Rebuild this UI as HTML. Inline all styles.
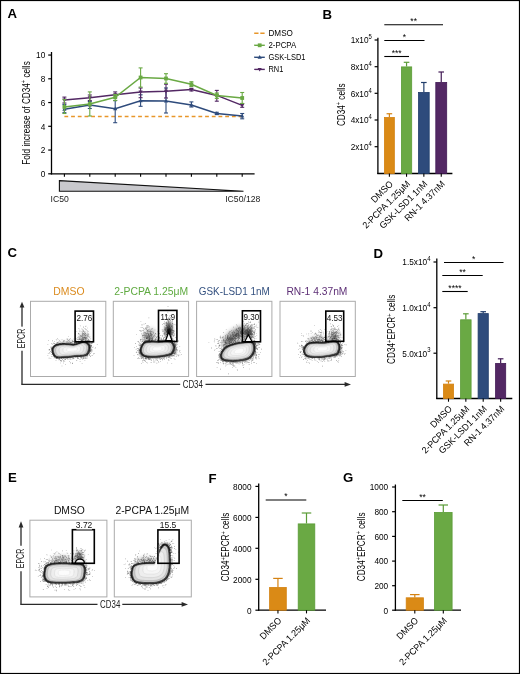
<!DOCTYPE html>
<html><head><meta charset="utf-8"><style>
html,body{margin:0;padding:0;background:#fff;}
body{width:520px;height:674px;overflow:hidden;}
svg{display:block;will-change:transform;font-family:"Liberation Sans", sans-serif;}
</style></head><body>
<svg width="520" height="674" viewBox="0 0 520 674">
<defs><filter id="bl" x="-20%" y="-20%" width="140%" height="140%"><feGaussianBlur stdDeviation="0.7"/></filter><filter id="hz" x="-50%" y="-50%" width="200%" height="200%"><feGaussianBlur stdDeviation="2"/></filter></defs>
<rect x="0" y="0" width="520" height="674" fill="#fff"/>
<text x="7.50" y="18.00" font-size="13.2" text-anchor="start" fill="#000" font-weight="bold">A</text>
<text x="322.60" y="18.80" font-size="13.2" text-anchor="start" fill="#000" font-weight="bold">B</text>
<text x="7.60" y="257.40" font-size="13.2" text-anchor="start" fill="#000" font-weight="bold">C</text>
<text x="373.40" y="257.80" font-size="13.2" text-anchor="start" fill="#000" font-weight="bold">D</text>
<text x="8.00" y="482.20" font-size="13.2" text-anchor="start" fill="#000" font-weight="bold">E</text>
<text x="208.40" y="482.50" font-size="13.2" text-anchor="start" fill="#000" font-weight="bold">F</text>
<text x="343.00" y="481.80" font-size="13.2" text-anchor="start" fill="#000" font-weight="bold">G</text>
<line x1="51.50" y1="52.00" x2="51.50" y2="174.40" stroke="#000" stroke-width="1.3"/>
<line x1="50.90" y1="173.80" x2="254.60" y2="173.80" stroke="#000" stroke-width="1.3"/>
<line x1="48.20" y1="173.80" x2="51.50" y2="173.80" stroke="#000" stroke-width="1.2"/>
<text x="45.30" y="177.10" font-size="9.2" text-anchor="end" fill="#000" textLength="4.61" lengthAdjust="spacingAndGlyphs">0</text>
<line x1="48.20" y1="150.05" x2="51.50" y2="150.05" stroke="#000" stroke-width="1.2"/>
<text x="45.30" y="153.35" font-size="9.2" text-anchor="end" fill="#000" textLength="4.61" lengthAdjust="spacingAndGlyphs">2</text>
<line x1="48.20" y1="126.30" x2="51.50" y2="126.30" stroke="#000" stroke-width="1.2"/>
<text x="45.30" y="129.60" font-size="9.2" text-anchor="end" fill="#000" textLength="4.61" lengthAdjust="spacingAndGlyphs">4</text>
<line x1="48.20" y1="102.55" x2="51.50" y2="102.55" stroke="#000" stroke-width="1.2"/>
<text x="45.30" y="105.85" font-size="9.2" text-anchor="end" fill="#000" textLength="4.61" lengthAdjust="spacingAndGlyphs">6</text>
<line x1="48.20" y1="78.80" x2="51.50" y2="78.80" stroke="#000" stroke-width="1.2"/>
<text x="45.30" y="82.10" font-size="9.2" text-anchor="end" fill="#000" textLength="4.61" lengthAdjust="spacingAndGlyphs">8</text>
<line x1="48.20" y1="55.05" x2="51.50" y2="55.05" stroke="#000" stroke-width="1.2"/>
<text x="45.30" y="58.35" font-size="9.2" text-anchor="end" fill="#000" textLength="9.21" lengthAdjust="spacingAndGlyphs">10</text>
<line x1="64.40" y1="173.80" x2="64.40" y2="176.80" stroke="#000" stroke-width="1.1"/>
<line x1="89.80" y1="173.80" x2="89.80" y2="176.80" stroke="#000" stroke-width="1.1"/>
<line x1="115.20" y1="173.80" x2="115.20" y2="176.80" stroke="#000" stroke-width="1.1"/>
<line x1="140.60" y1="173.80" x2="140.60" y2="176.80" stroke="#000" stroke-width="1.1"/>
<line x1="166.00" y1="173.80" x2="166.00" y2="176.80" stroke="#000" stroke-width="1.1"/>
<line x1="191.40" y1="173.80" x2="191.40" y2="176.80" stroke="#000" stroke-width="1.1"/>
<line x1="216.80" y1="173.80" x2="216.80" y2="176.80" stroke="#000" stroke-width="1.1"/>
<line x1="242.20" y1="173.80" x2="242.20" y2="176.80" stroke="#000" stroke-width="1.1"/>
<text x="30.00" y="113.00" font-size="11" text-anchor="middle" fill="#000" textLength="103.60" lengthAdjust="spacingAndGlyphs" transform="rotate(-90 30.00 113.00)">Fold increase of CD34<tspan font-size="7.4" dy="-3.8">+</tspan><tspan dy="3.8"> cells</tspan></text>
<polygon points="59.4,180.6 243.5,191.3 59.4,191.3" fill="#c9c9cd" stroke="#111" stroke-width="1.1" stroke-linejoin="miter"/>
<text x="50.60" y="202.20" font-size="9.1" text-anchor="start" fill="#222" textLength="18.20" lengthAdjust="spacingAndGlyphs">IC50</text>
<text x="225.20" y="202.20" font-size="9.1" text-anchor="start" fill="#222" textLength="35.20" lengthAdjust="spacingAndGlyphs">IC50/128</text>
<line x1="64.40" y1="116.50" x2="244.00" y2="116.50" stroke="#E8962A" stroke-width="1.5" stroke-dasharray="3.8 2.9"/>
<line x1="64.40" y1="104.40" x2="64.40" y2="112.70" stroke="#2E4B7C" stroke-width="1.1"/>
<line x1="62.40" y1="104.40" x2="66.40" y2="104.40" stroke="#2E4B7C" stroke-width="1.1"/>
<line x1="62.40" y1="112.70" x2="66.40" y2="112.70" stroke="#2E4B7C" stroke-width="1.1"/>
<line x1="89.80" y1="101.50" x2="89.80" y2="108.50" stroke="#2E4B7C" stroke-width="1.1"/>
<line x1="87.80" y1="101.50" x2="91.80" y2="101.50" stroke="#2E4B7C" stroke-width="1.1"/>
<line x1="87.80" y1="108.50" x2="91.80" y2="108.50" stroke="#2E4B7C" stroke-width="1.1"/>
<line x1="115.20" y1="100.60" x2="115.20" y2="122.70" stroke="#2E4B7C" stroke-width="1.1"/>
<line x1="113.20" y1="100.60" x2="117.20" y2="100.60" stroke="#2E4B7C" stroke-width="1.1"/>
<line x1="113.20" y1="122.70" x2="117.20" y2="122.70" stroke="#2E4B7C" stroke-width="1.1"/>
<line x1="140.60" y1="94.80" x2="140.60" y2="106.30" stroke="#2E4B7C" stroke-width="1.1"/>
<line x1="138.60" y1="94.80" x2="142.60" y2="94.80" stroke="#2E4B7C" stroke-width="1.1"/>
<line x1="138.60" y1="106.30" x2="142.60" y2="106.30" stroke="#2E4B7C" stroke-width="1.1"/>
<line x1="166.00" y1="88.00" x2="166.00" y2="113.00" stroke="#2E4B7C" stroke-width="1.1"/>
<line x1="164.00" y1="88.00" x2="168.00" y2="88.00" stroke="#2E4B7C" stroke-width="1.1"/>
<line x1="164.00" y1="113.00" x2="168.00" y2="113.00" stroke="#2E4B7C" stroke-width="1.1"/>
<line x1="191.40" y1="101.90" x2="191.40" y2="107.00" stroke="#2E4B7C" stroke-width="1.1"/>
<line x1="189.40" y1="101.90" x2="193.40" y2="101.90" stroke="#2E4B7C" stroke-width="1.1"/>
<line x1="189.40" y1="107.00" x2="193.40" y2="107.00" stroke="#2E4B7C" stroke-width="1.1"/>
<line x1="216.80" y1="112.30" x2="216.80" y2="114.60" stroke="#2E4B7C" stroke-width="1.1"/>
<line x1="214.80" y1="112.30" x2="218.80" y2="112.30" stroke="#2E4B7C" stroke-width="1.1"/>
<line x1="214.80" y1="114.60" x2="218.80" y2="114.60" stroke="#2E4B7C" stroke-width="1.1"/>
<line x1="242.20" y1="113.50" x2="242.20" y2="118.80" stroke="#2E4B7C" stroke-width="1.1"/>
<line x1="240.20" y1="113.50" x2="244.20" y2="113.50" stroke="#2E4B7C" stroke-width="1.1"/>
<line x1="240.20" y1="118.80" x2="244.20" y2="118.80" stroke="#2E4B7C" stroke-width="1.1"/>
<polyline points="64.40,109.20 89.80,105.00 115.20,108.80 140.60,100.80 166.00,101.00 191.40,105.00 216.80,113.50 242.20,116.00" fill="none" stroke="#2E4B7C" stroke-width="1.5"/>
<polygon points="64.40,107.00 66.50,110.70 62.30,110.70" fill="#2E4B7C"/>
<polygon points="89.80,102.80 91.90,106.50 87.70,106.50" fill="#2E4B7C"/>
<polygon points="115.20,106.60 117.30,110.30 113.10,110.30" fill="#2E4B7C"/>
<polygon points="140.60,98.60 142.70,102.30 138.50,102.30" fill="#2E4B7C"/>
<polygon points="166.00,98.80 168.10,102.50 163.90,102.50" fill="#2E4B7C"/>
<polygon points="191.40,102.80 193.50,106.50 189.30,106.50" fill="#2E4B7C"/>
<polygon points="216.80,111.30 218.90,115.00 214.70,115.00" fill="#2E4B7C"/>
<polygon points="242.20,113.80 244.30,117.50 240.10,117.50" fill="#2E4B7C"/>
<line x1="64.40" y1="97.10" x2="64.40" y2="103.00" stroke="#532864" stroke-width="1.1"/>
<line x1="62.40" y1="97.10" x2="66.40" y2="97.10" stroke="#532864" stroke-width="1.1"/>
<line x1="62.40" y1="103.00" x2="66.40" y2="103.00" stroke="#532864" stroke-width="1.1"/>
<line x1="89.80" y1="95.00" x2="89.80" y2="100.50" stroke="#532864" stroke-width="1.1"/>
<line x1="87.80" y1="95.00" x2="91.80" y2="95.00" stroke="#532864" stroke-width="1.1"/>
<line x1="87.80" y1="100.50" x2="91.80" y2="100.50" stroke="#532864" stroke-width="1.1"/>
<line x1="115.20" y1="91.90" x2="115.20" y2="97.70" stroke="#532864" stroke-width="1.1"/>
<line x1="113.20" y1="91.90" x2="117.20" y2="91.90" stroke="#532864" stroke-width="1.1"/>
<line x1="113.20" y1="97.70" x2="117.20" y2="97.70" stroke="#532864" stroke-width="1.1"/>
<line x1="140.60" y1="88.00" x2="140.60" y2="97.70" stroke="#532864" stroke-width="1.1"/>
<line x1="138.60" y1="88.00" x2="142.60" y2="88.00" stroke="#532864" stroke-width="1.1"/>
<line x1="138.60" y1="97.70" x2="142.60" y2="97.70" stroke="#532864" stroke-width="1.1"/>
<line x1="166.00" y1="84.20" x2="166.00" y2="98.00" stroke="#532864" stroke-width="1.1"/>
<line x1="164.00" y1="84.20" x2="168.00" y2="84.20" stroke="#532864" stroke-width="1.1"/>
<line x1="164.00" y1="98.00" x2="168.00" y2="98.00" stroke="#532864" stroke-width="1.1"/>
<line x1="191.40" y1="88.30" x2="191.40" y2="91.00" stroke="#532864" stroke-width="1.1"/>
<line x1="189.40" y1="88.30" x2="193.40" y2="88.30" stroke="#532864" stroke-width="1.1"/>
<line x1="189.40" y1="91.00" x2="193.40" y2="91.00" stroke="#532864" stroke-width="1.1"/>
<line x1="216.80" y1="90.40" x2="216.80" y2="101.20" stroke="#532864" stroke-width="1.1"/>
<line x1="214.80" y1="90.40" x2="218.80" y2="90.40" stroke="#532864" stroke-width="1.1"/>
<line x1="214.80" y1="101.20" x2="218.80" y2="101.20" stroke="#532864" stroke-width="1.1"/>
<line x1="242.20" y1="103.50" x2="242.20" y2="107.30" stroke="#532864" stroke-width="1.1"/>
<line x1="240.20" y1="103.50" x2="244.20" y2="103.50" stroke="#532864" stroke-width="1.1"/>
<line x1="240.20" y1="107.30" x2="244.20" y2="107.30" stroke="#532864" stroke-width="1.1"/>
<polyline points="64.40,100.00 89.80,97.70 115.20,94.80 140.60,91.90 166.00,91.30 191.40,89.60 216.80,95.40 242.20,105.40" fill="none" stroke="#532864" stroke-width="1.5"/>
<polygon points="64.40,102.20 66.50,98.50 62.30,98.50" fill="#532864"/>
<polygon points="89.80,99.90 91.90,96.20 87.70,96.20" fill="#532864"/>
<polygon points="115.20,97.00 117.30,93.30 113.10,93.30" fill="#532864"/>
<polygon points="140.60,94.10 142.70,90.40 138.50,90.40" fill="#532864"/>
<polygon points="166.00,93.50 168.10,89.80 163.90,89.80" fill="#532864"/>
<polygon points="191.40,91.80 193.50,88.10 189.30,88.10" fill="#532864"/>
<polygon points="216.80,97.60 218.90,93.90 214.70,93.90" fill="#532864"/>
<polygon points="242.20,107.60 244.30,103.90 240.10,103.90" fill="#532864"/>
<line x1="64.40" y1="99.60" x2="64.40" y2="113.50" stroke="#6AA944" stroke-width="1.1"/>
<line x1="62.40" y1="99.60" x2="66.40" y2="99.60" stroke="#6AA944" stroke-width="1.1"/>
<line x1="62.40" y1="113.50" x2="66.40" y2="113.50" stroke="#6AA944" stroke-width="1.1"/>
<line x1="89.80" y1="91.90" x2="89.80" y2="116.00" stroke="#6AA944" stroke-width="1.1"/>
<line x1="87.80" y1="91.90" x2="91.80" y2="91.90" stroke="#6AA944" stroke-width="1.1"/>
<line x1="87.80" y1="116.00" x2="91.80" y2="116.00" stroke="#6AA944" stroke-width="1.1"/>
<line x1="115.20" y1="94.50" x2="115.20" y2="100.60" stroke="#6AA944" stroke-width="1.1"/>
<line x1="113.20" y1="94.50" x2="117.20" y2="94.50" stroke="#6AA944" stroke-width="1.1"/>
<line x1="113.20" y1="100.60" x2="117.20" y2="100.60" stroke="#6AA944" stroke-width="1.1"/>
<line x1="140.60" y1="67.90" x2="140.60" y2="87.10" stroke="#6AA944" stroke-width="1.1"/>
<line x1="138.60" y1="67.90" x2="142.60" y2="67.90" stroke="#6AA944" stroke-width="1.1"/>
<line x1="138.60" y1="87.10" x2="142.60" y2="87.10" stroke="#6AA944" stroke-width="1.1"/>
<line x1="166.00" y1="73.70" x2="166.00" y2="83.30" stroke="#6AA944" stroke-width="1.1"/>
<line x1="164.00" y1="73.70" x2="168.00" y2="73.70" stroke="#6AA944" stroke-width="1.1"/>
<line x1="164.00" y1="83.30" x2="168.00" y2="83.30" stroke="#6AA944" stroke-width="1.1"/>
<line x1="191.40" y1="81.70" x2="191.40" y2="86.50" stroke="#6AA944" stroke-width="1.1"/>
<line x1="189.40" y1="81.70" x2="193.40" y2="81.70" stroke="#6AA944" stroke-width="1.1"/>
<line x1="189.40" y1="86.50" x2="193.40" y2="86.50" stroke="#6AA944" stroke-width="1.1"/>
<line x1="216.80" y1="93.00" x2="216.80" y2="98.50" stroke="#6AA944" stroke-width="1.1"/>
<line x1="214.80" y1="93.00" x2="218.80" y2="93.00" stroke="#6AA944" stroke-width="1.1"/>
<line x1="214.80" y1="98.50" x2="218.80" y2="98.50" stroke="#6AA944" stroke-width="1.1"/>
<line x1="242.20" y1="92.50" x2="242.20" y2="103.50" stroke="#6AA944" stroke-width="1.1"/>
<line x1="240.20" y1="92.50" x2="244.20" y2="92.50" stroke="#6AA944" stroke-width="1.1"/>
<line x1="240.20" y1="103.50" x2="244.20" y2="103.50" stroke="#6AA944" stroke-width="1.1"/>
<polyline points="64.40,106.90 89.80,104.00 115.20,97.30 140.60,77.50 166.00,78.50 191.40,84.20 216.80,95.40 242.20,98.00" fill="none" stroke="#6AA944" stroke-width="1.5"/>
<rect x="62.50" y="105.00" width="3.8" height="3.8" fill="#6AA944"/>
<rect x="87.90" y="102.10" width="3.8" height="3.8" fill="#6AA944"/>
<rect x="113.30" y="95.40" width="3.8" height="3.8" fill="#6AA944"/>
<rect x="138.70" y="75.60" width="3.8" height="3.8" fill="#6AA944"/>
<rect x="164.10" y="76.60" width="3.8" height="3.8" fill="#6AA944"/>
<rect x="189.50" y="82.30" width="3.8" height="3.8" fill="#6AA944"/>
<rect x="214.90" y="93.50" width="3.8" height="3.8" fill="#6AA944"/>
<rect x="240.30" y="96.10" width="3.8" height="3.8" fill="#6AA944"/>
<line x1="254.20" y1="33.20" x2="264.60" y2="33.20" stroke="#E8962A" stroke-width="1.4" stroke-dasharray="4.3 1.8"/>
<line x1="254.20" y1="45.30" x2="264.80" y2="45.30" stroke="#6AA944" stroke-width="1.4"/>
<rect x="257.80" y="43.40" width="3.8" height="3.8" fill="#6AA944"/>
<line x1="254.20" y1="57.30" x2="264.80" y2="57.30" stroke="#2E4B7C" stroke-width="1.4"/>
<polygon points="259.70,55.10 261.80,58.80 257.60,58.80" fill="#2E4B7C"/>
<line x1="254.20" y1="69.40" x2="264.80" y2="69.40" stroke="#532864" stroke-width="1.4"/>
<polygon points="259.70,71.60 261.80,67.90 257.60,67.90" fill="#532864"/>
<text x="268.50" y="35.90" font-size="8.5" text-anchor="start" fill="#000" textLength="24.40" lengthAdjust="spacingAndGlyphs">DMSO</text>
<text x="268.50" y="48.00" font-size="8.5" text-anchor="start" fill="#000" textLength="27.70" lengthAdjust="spacingAndGlyphs">2-PCPA</text>
<text x="268.50" y="60.00" font-size="8.5" text-anchor="start" fill="#000" textLength="37.00" lengthAdjust="spacingAndGlyphs">GSK-LSD1</text>
<text x="268.50" y="72.10" font-size="8.5" text-anchor="start" fill="#000" textLength="14.80" lengthAdjust="spacingAndGlyphs">RN1</text>
<line x1="377.90" y1="37.80" x2="377.90" y2="174.10" stroke="#000" stroke-width="1.3"/>
<line x1="377.30" y1="173.50" x2="452.40" y2="173.50" stroke="#000" stroke-width="1.3"/>
<line x1="374.60" y1="40.00" x2="377.90" y2="40.00" stroke="#000" stroke-width="1.2"/>
<text x="371.90" y="43.40" font-size="9.2" text-anchor="end" fill="#000" textLength="21.26" lengthAdjust="spacingAndGlyphs">1x10<tspan font-size="6.6" dy="-4.2">5</tspan></text>
<line x1="374.60" y1="66.70" x2="377.90" y2="66.70" stroke="#000" stroke-width="1.2"/>
<text x="371.90" y="70.10" font-size="9.2" text-anchor="end" fill="#000" textLength="21.26" lengthAdjust="spacingAndGlyphs">8x10<tspan font-size="6.6" dy="-4.2">4</tspan></text>
<line x1="374.60" y1="93.30" x2="377.90" y2="93.30" stroke="#000" stroke-width="1.2"/>
<text x="371.90" y="96.70" font-size="9.2" text-anchor="end" fill="#000" textLength="21.26" lengthAdjust="spacingAndGlyphs">6x10<tspan font-size="6.6" dy="-4.2">4</tspan></text>
<line x1="374.60" y1="120.00" x2="377.90" y2="120.00" stroke="#000" stroke-width="1.2"/>
<text x="371.90" y="123.40" font-size="9.2" text-anchor="end" fill="#000" textLength="21.26" lengthAdjust="spacingAndGlyphs">4x10<tspan font-size="6.6" dy="-4.2">4</tspan></text>
<line x1="374.60" y1="146.70" x2="377.90" y2="146.70" stroke="#000" stroke-width="1.2"/>
<text x="371.90" y="150.10" font-size="9.2" text-anchor="end" fill="#000" textLength="21.26" lengthAdjust="spacingAndGlyphs">2x10<tspan font-size="6.6" dy="-4.2">4</tspan></text>
<line x1="389.38" y1="113.75" x2="389.38" y2="117.00" stroke="#D48212" stroke-width="1.2"/>
<line x1="386.57" y1="113.75" x2="392.18" y2="113.75" stroke="#D48212" stroke-width="1.2"/>
<rect x="384.40" y="117.40" width="9.95" height="56.10" fill="#DA8A16" stroke="#D48212" stroke-width="0.8"/>
<line x1="389.38" y1="173.50" x2="389.38" y2="176.70" stroke="#000" stroke-width="1.1"/>
<line x1="406.55" y1="62.30" x2="406.55" y2="66.50" stroke="#5B9C37" stroke-width="1.2"/>
<line x1="403.75" y1="62.30" x2="409.35" y2="62.30" stroke="#5B9C37" stroke-width="1.2"/>
<rect x="401.40" y="66.90" width="10.30" height="106.60" fill="#6AA944" stroke="#5B9C37" stroke-width="0.8"/>
<line x1="406.55" y1="173.50" x2="406.55" y2="176.70" stroke="#000" stroke-width="1.1"/>
<line x1="423.85" y1="82.50" x2="423.85" y2="92.00" stroke="#213D6B" stroke-width="1.2"/>
<line x1="421.05" y1="82.50" x2="426.65" y2="82.50" stroke="#213D6B" stroke-width="1.2"/>
<rect x="418.50" y="92.40" width="10.70" height="81.10" fill="#2E4B7C" stroke="#213D6B" stroke-width="0.8"/>
<line x1="423.85" y1="173.50" x2="423.85" y2="176.70" stroke="#000" stroke-width="1.1"/>
<line x1="441.25" y1="72.00" x2="441.25" y2="82.00" stroke="#421B56" stroke-width="1.2"/>
<line x1="438.45" y1="72.00" x2="444.05" y2="72.00" stroke="#421B56" stroke-width="1.2"/>
<rect x="435.80" y="82.40" width="10.90" height="91.10" fill="#532864" stroke="#421B56" stroke-width="0.8"/>
<line x1="441.25" y1="173.50" x2="441.25" y2="176.70" stroke="#000" stroke-width="1.1"/>
<line x1="384.30" y1="24.75" x2="443.00" y2="24.75" stroke="#000" stroke-width="1.1"/>
<text x="413.65" y="23.95" font-size="8.6" text-anchor="middle" fill="#000">**</text>
<line x1="384.30" y1="40.50" x2="424.50" y2="40.50" stroke="#000" stroke-width="1.1"/>
<text x="404.40" y="39.70" font-size="8.6" text-anchor="middle" fill="#000">*</text>
<line x1="384.30" y1="56.50" x2="409.00" y2="56.50" stroke="#000" stroke-width="1.1"/>
<text x="396.65" y="55.70" font-size="8.6" text-anchor="middle" fill="#000">***</text>
<text x="393.57" y="184.50" font-size="9.3" text-anchor="end" fill="#000" textLength="26.51" lengthAdjust="spacingAndGlyphs" transform="rotate(-45 393.57 184.50)">DMSO</text>
<text x="410.75" y="184.50" font-size="9.3" text-anchor="end" fill="#000" textLength="62.87" lengthAdjust="spacingAndGlyphs" transform="rotate(-45 410.75 184.50)">2-PCPA 1.25μM</text>
<text x="428.05" y="184.50" font-size="9.3" text-anchor="end" fill="#000" textLength="63.34" lengthAdjust="spacingAndGlyphs" transform="rotate(-45 428.05 184.50)">GSK-LSD1 1nM</text>
<text x="445.45" y="184.50" font-size="9.3" text-anchor="end" fill="#000" textLength="52.54" lengthAdjust="spacingAndGlyphs" transform="rotate(-45 445.45 184.50)">RN-1 4.37nM</text>
<text x="344.90" y="104.70" font-size="10.2" text-anchor="middle" fill="#000" textLength="42.70" lengthAdjust="spacingAndGlyphs" transform="rotate(-90 344.90 104.70)">CD34<tspan font-size="7" dy="-3.5">+</tspan><tspan dy="3.5"> cells</tspan></text>
<line x1="436.80" y1="258.50" x2="436.80" y2="399.10" stroke="#000" stroke-width="1.3"/>
<line x1="436.20" y1="398.50" x2="512.30" y2="398.50" stroke="#000" stroke-width="1.3"/>
<line x1="433.50" y1="262.00" x2="436.80" y2="262.00" stroke="#000" stroke-width="1.2"/>
<text x="430.50" y="265.40" font-size="9.2" text-anchor="end" fill="#000" textLength="28.16" lengthAdjust="spacingAndGlyphs">1.5x10<tspan font-size="6.6" dy="-4.2">4</tspan></text>
<line x1="433.50" y1="307.70" x2="436.80" y2="307.70" stroke="#000" stroke-width="1.2"/>
<text x="430.50" y="311.10" font-size="9.2" text-anchor="end" fill="#000" textLength="28.16" lengthAdjust="spacingAndGlyphs">1.0x10<tspan font-size="6.6" dy="-4.2">4</tspan></text>
<line x1="433.50" y1="353.20" x2="436.80" y2="353.20" stroke="#000" stroke-width="1.2"/>
<text x="430.50" y="356.60" font-size="9.2" text-anchor="end" fill="#000" textLength="28.16" lengthAdjust="spacingAndGlyphs">5.0x10<tspan font-size="6.6" dy="-4.2">3</tspan></text>
<line x1="448.50" y1="381.00" x2="448.50" y2="383.70" stroke="#D48212" stroke-width="1.2"/>
<line x1="445.70" y1="381.00" x2="451.30" y2="381.00" stroke="#D48212" stroke-width="1.2"/>
<rect x="443.40" y="384.10" width="10.20" height="14.40" fill="#DA8A16" stroke="#D48212" stroke-width="0.8"/>
<line x1="448.50" y1="398.50" x2="448.50" y2="401.70" stroke="#000" stroke-width="1.1"/>
<line x1="465.85" y1="313.80" x2="465.85" y2="319.40" stroke="#5B9C37" stroke-width="1.2"/>
<line x1="463.05" y1="313.80" x2="468.65" y2="313.80" stroke="#5B9C37" stroke-width="1.2"/>
<rect x="460.60" y="319.80" width="10.50" height="78.70" fill="#6AA944" stroke="#5B9C37" stroke-width="0.8"/>
<line x1="465.85" y1="398.50" x2="465.85" y2="401.70" stroke="#000" stroke-width="1.1"/>
<line x1="483.20" y1="311.70" x2="483.20" y2="313.20" stroke="#213D6B" stroke-width="1.2"/>
<line x1="480.40" y1="311.70" x2="486.00" y2="311.70" stroke="#213D6B" stroke-width="1.2"/>
<rect x="478.10" y="313.60" width="10.20" height="84.90" fill="#2E4B7C" stroke="#213D6B" stroke-width="0.8"/>
<line x1="483.20" y1="398.50" x2="483.20" y2="401.70" stroke="#000" stroke-width="1.1"/>
<line x1="500.65" y1="358.80" x2="500.65" y2="363.00" stroke="#421B56" stroke-width="1.2"/>
<line x1="497.85" y1="358.80" x2="503.45" y2="358.80" stroke="#421B56" stroke-width="1.2"/>
<rect x="495.60" y="363.40" width="10.10" height="35.10" fill="#532864" stroke="#421B56" stroke-width="0.8"/>
<line x1="500.65" y1="398.50" x2="500.65" y2="401.70" stroke="#000" stroke-width="1.1"/>
<line x1="444.00" y1="262.50" x2="503.50" y2="262.50" stroke="#000" stroke-width="1.1"/>
<text x="473.75" y="261.70" font-size="8.6" text-anchor="middle" fill="#000">*</text>
<line x1="442.30" y1="275.50" x2="482.70" y2="275.50" stroke="#000" stroke-width="1.1"/>
<text x="462.50" y="274.70" font-size="8.6" text-anchor="middle" fill="#000">**</text>
<line x1="442.30" y1="291.50" x2="467.70" y2="291.50" stroke="#000" stroke-width="1.1"/>
<text x="455.00" y="290.70" font-size="8.6" text-anchor="middle" fill="#000">****</text>
<text x="452.70" y="409.50" font-size="9.3" text-anchor="end" fill="#000" textLength="26.51" lengthAdjust="spacingAndGlyphs" transform="rotate(-45 452.70 409.50)">DMSO</text>
<text x="470.05" y="409.50" font-size="9.3" text-anchor="end" fill="#000" textLength="62.87" lengthAdjust="spacingAndGlyphs" transform="rotate(-45 470.05 409.50)">2-PCPA 1.25μM</text>
<text x="487.40" y="409.50" font-size="9.3" text-anchor="end" fill="#000" textLength="63.34" lengthAdjust="spacingAndGlyphs" transform="rotate(-45 487.40 409.50)">GSK-LSD1 1nM</text>
<text x="504.85" y="409.50" font-size="9.3" text-anchor="end" fill="#000" textLength="52.54" lengthAdjust="spacingAndGlyphs" transform="rotate(-45 504.85 409.50)">RN-1 4.37nM</text>
<text x="395.40" y="329.30" font-size="10.2" text-anchor="middle" fill="#000" textLength="69.20" lengthAdjust="spacingAndGlyphs" transform="rotate(-90 395.40 329.30)">CD34<tspan font-size="7" dy="-3.5">+</tspan><tspan dy="3.5">EPCR</tspan><tspan font-size="7" dy="-3.5">+</tspan><tspan dy="3.5"> cells</tspan></text>
<line x1="258.70" y1="483.40" x2="258.70" y2="610.80" stroke="#000" stroke-width="1.3"/>
<line x1="258.10" y1="610.20" x2="326.00" y2="610.20" stroke="#000" stroke-width="1.3"/>
<line x1="255.40" y1="486.40" x2="258.70" y2="486.40" stroke="#000" stroke-width="1.2"/>
<text x="251.50" y="489.70" font-size="9.2" text-anchor="end" fill="#000" textLength="18.42" lengthAdjust="spacingAndGlyphs">8000</text>
<line x1="255.40" y1="517.40" x2="258.70" y2="517.40" stroke="#000" stroke-width="1.2"/>
<text x="251.50" y="520.70" font-size="9.2" text-anchor="end" fill="#000" textLength="18.42" lengthAdjust="spacingAndGlyphs">6000</text>
<line x1="255.40" y1="548.30" x2="258.70" y2="548.30" stroke="#000" stroke-width="1.2"/>
<text x="251.50" y="551.60" font-size="9.2" text-anchor="end" fill="#000" textLength="18.42" lengthAdjust="spacingAndGlyphs">4000</text>
<line x1="255.40" y1="579.30" x2="258.70" y2="579.30" stroke="#000" stroke-width="1.2"/>
<text x="251.50" y="582.60" font-size="9.2" text-anchor="end" fill="#000" textLength="18.42" lengthAdjust="spacingAndGlyphs">2000</text>
<line x1="255.40" y1="610.20" x2="258.70" y2="610.20" stroke="#000" stroke-width="1.2"/>
<text x="251.50" y="613.50" font-size="9.2" text-anchor="end" fill="#000" textLength="4.61" lengthAdjust="spacingAndGlyphs">0</text>
<line x1="277.95" y1="578.40" x2="277.95" y2="587.00" stroke="#D48212" stroke-width="1.2"/>
<line x1="273.20" y1="578.40" x2="282.70" y2="578.40" stroke="#D48212" stroke-width="1.2"/>
<rect x="269.60" y="587.40" width="16.70" height="22.80" fill="#DA8A16" stroke="#D48212" stroke-width="0.8"/>
<line x1="277.95" y1="610.20" x2="277.95" y2="613.40" stroke="#000" stroke-width="1.1"/>
<line x1="306.50" y1="513.00" x2="306.50" y2="523.50" stroke="#5B9C37" stroke-width="1.2"/>
<line x1="301.75" y1="513.00" x2="311.25" y2="513.00" stroke="#5B9C37" stroke-width="1.2"/>
<rect x="298.20" y="523.90" width="16.60" height="86.30" fill="#6AA944" stroke="#5B9C37" stroke-width="0.8"/>
<line x1="306.50" y1="610.20" x2="306.50" y2="613.40" stroke="#000" stroke-width="1.1"/>
<line x1="265.70" y1="500.00" x2="306.30" y2="500.00" stroke="#000" stroke-width="1.1"/>
<text x="286.00" y="499.20" font-size="8.6" text-anchor="middle" fill="#000">*</text>
<text x="282.15" y="621.20" font-size="9.3" text-anchor="end" fill="#000" textLength="26.51" lengthAdjust="spacingAndGlyphs" transform="rotate(-45 282.15 621.20)">DMSO</text>
<text x="310.70" y="621.20" font-size="9.3" text-anchor="end" fill="#000" textLength="62.87" lengthAdjust="spacingAndGlyphs" transform="rotate(-45 310.70 621.20)">2-PCPA 1.25μM</text>
<text x="229.00" y="547.00" font-size="10.2" text-anchor="middle" fill="#000" textLength="68.80" lengthAdjust="spacingAndGlyphs" transform="rotate(-90 229.00 547.00)">CD34<tspan font-size="7" dy="-3.5">+</tspan><tspan dy="3.5">EPCR</tspan><tspan font-size="7" dy="-3.5">+</tspan><tspan dy="3.5"> cells</tspan></text>
<line x1="395.40" y1="484.50" x2="395.40" y2="610.80" stroke="#000" stroke-width="1.3"/>
<line x1="394.80" y1="610.20" x2="461.00" y2="610.20" stroke="#000" stroke-width="1.3"/>
<line x1="392.10" y1="487.00" x2="395.40" y2="487.00" stroke="#000" stroke-width="1.2"/>
<text x="388.20" y="490.30" font-size="9.2" text-anchor="end" fill="#000" textLength="18.42" lengthAdjust="spacingAndGlyphs">1000</text>
<line x1="392.10" y1="511.70" x2="395.40" y2="511.70" stroke="#000" stroke-width="1.2"/>
<text x="388.20" y="515.00" font-size="9.2" text-anchor="end" fill="#000" textLength="13.82" lengthAdjust="spacingAndGlyphs">800</text>
<line x1="392.10" y1="536.40" x2="395.40" y2="536.40" stroke="#000" stroke-width="1.2"/>
<text x="388.20" y="539.70" font-size="9.2" text-anchor="end" fill="#000" textLength="13.82" lengthAdjust="spacingAndGlyphs">600</text>
<line x1="392.10" y1="561.10" x2="395.40" y2="561.10" stroke="#000" stroke-width="1.2"/>
<text x="388.20" y="564.40" font-size="9.2" text-anchor="end" fill="#000" textLength="13.82" lengthAdjust="spacingAndGlyphs">400</text>
<line x1="392.10" y1="585.70" x2="395.40" y2="585.70" stroke="#000" stroke-width="1.2"/>
<text x="388.20" y="589.00" font-size="9.2" text-anchor="end" fill="#000" textLength="13.82" lengthAdjust="spacingAndGlyphs">200</text>
<line x1="392.10" y1="610.20" x2="395.40" y2="610.20" stroke="#000" stroke-width="1.2"/>
<text x="388.20" y="613.50" font-size="9.2" text-anchor="end" fill="#000" textLength="4.61" lengthAdjust="spacingAndGlyphs">0</text>
<line x1="414.80" y1="594.60" x2="414.80" y2="597.40" stroke="#D48212" stroke-width="1.2"/>
<line x1="410.05" y1="594.60" x2="419.55" y2="594.60" stroke="#D48212" stroke-width="1.2"/>
<rect x="406.20" y="597.80" width="17.20" height="12.40" fill="#DA8A16" stroke="#D48212" stroke-width="0.8"/>
<line x1="414.80" y1="610.20" x2="414.80" y2="613.40" stroke="#000" stroke-width="1.1"/>
<line x1="443.30" y1="505.00" x2="443.30" y2="512.00" stroke="#5B9C37" stroke-width="1.2"/>
<line x1="438.55" y1="505.00" x2="448.05" y2="505.00" stroke="#5B9C37" stroke-width="1.2"/>
<rect x="434.50" y="512.40" width="17.60" height="97.80" fill="#6AA944" stroke="#5B9C37" stroke-width="0.8"/>
<line x1="443.30" y1="610.20" x2="443.30" y2="613.40" stroke="#000" stroke-width="1.1"/>
<line x1="402.30" y1="500.50" x2="442.80" y2="500.50" stroke="#000" stroke-width="1.1"/>
<text x="422.55" y="499.70" font-size="8.6" text-anchor="middle" fill="#000">**</text>
<text x="419.00" y="621.20" font-size="9.3" text-anchor="end" fill="#000" textLength="26.51" lengthAdjust="spacingAndGlyphs" transform="rotate(-45 419.00 621.20)">DMSO</text>
<text x="447.50" y="621.20" font-size="9.3" text-anchor="end" fill="#000" textLength="62.87" lengthAdjust="spacingAndGlyphs" transform="rotate(-45 447.50 621.20)">2-PCPA 1.25μM</text>
<text x="364.70" y="546.80" font-size="10.2" text-anchor="middle" fill="#000" textLength="68.80" lengthAdjust="spacingAndGlyphs" transform="rotate(-90 364.70 546.80)">CD34<tspan font-size="7" dy="-3.5">+</tspan><tspan dy="3.5">EPCR</tspan><tspan font-size="7" dy="-3.5">+</tspan><tspan dy="3.5"> cells</tspan></text>
<rect x="30.50" y="301.30" width="75.30" height="75.20" fill="none" stroke="#ababab" stroke-width="1"/>
<text x="68.90" y="295.10" font-size="10.5" text-anchor="middle" fill="#DB8B1E" textLength="31.20" lengthAdjust="spacingAndGlyphs">DMSO</text>
<rect x="113.30" y="301.30" width="75.30" height="75.20" fill="none" stroke="#ababab" stroke-width="1"/>
<text x="151.25" y="295.10" font-size="10.5" text-anchor="middle" fill="#5FAA40" textLength="73.90" lengthAdjust="spacingAndGlyphs">2-PCPA 1.25μM</text>
<rect x="196.60" y="301.30" width="75.30" height="75.20" fill="none" stroke="#ababab" stroke-width="1"/>
<text x="234.25" y="295.10" font-size="10.5" text-anchor="middle" fill="#33507F" textLength="71.00" lengthAdjust="spacingAndGlyphs">GSK-LSD1 1nM</text>
<rect x="280.00" y="301.30" width="75.30" height="75.20" fill="none" stroke="#ababab" stroke-width="1"/>
<text x="316.90" y="295.10" font-size="10.5" text-anchor="middle" fill="#5D2F76" textLength="61.00" lengthAdjust="spacingAndGlyphs">RN-1 4.37nM</text>
<ellipse cx="84.0" cy="337.8" rx="3.8" ry="5" fill="#000" fill-opacity="0.3" transform="rotate(0 84.0 337.8)" filter="url(#hz)"/>
<ellipse cx="66.0" cy="344.8" rx="9" ry="2.5" fill="#000" fill-opacity="0.25" transform="rotate(0 66.0 344.8)" filter="url(#hz)"/>
<path d="M69.7 357.9h0.6v0.6h-0.6zM66.0 358.4h0.6v0.6h-0.6zM69.7 357.9h0.6v0.6h-0.6zM79.4 343.5h0.6v0.6h-0.6zM56.4 358.3h0.6v0.6h-0.6zM79.4 343.3h0.6v0.6h-0.6zM63.0 343.8h0.6v0.6h-0.6zM54.0 354.7h0.6v0.6h-0.6zM53.9 345.9h0.6v0.6h-0.6zM69.6 357.1h0.6v0.6h-0.6zM75.9 343.2h0.6v0.6h-0.6zM57.0 343.7h0.6v0.6h-0.6zM56.1 343.2h0.6v0.6h-0.6zM53.2 347.5h0.6v0.6h-0.6zM66.8 357.4h0.6v0.6h-0.6zM80.3 341.9h0.6v0.6h-0.6zM56.3 356.7h0.6v0.6h-0.6zM52.0 350.4h0.6v0.6h-0.6zM60.6 343.7h0.6v0.6h-0.6zM53.0 352.4h0.6v0.6h-0.6zM60.7 344.3h0.6v0.6h-0.6zM83.8 341.4h0.6v0.6h-0.6zM56.9 357.0h0.6v0.6h-0.6zM65.7 344.0h0.6v0.6h-0.6zM81.3 356.2h0.6v0.6h-0.6zM57.9 344.4h0.6v0.6h-0.6zM53.0 349.0h0.6v0.6h-0.6zM81.9 342.8h0.6v0.6h-0.6zM54.4 343.0h0.6v0.6h-0.6zM82.2 356.0h0.6v0.6h-0.6zM77.0 357.1h0.6v0.6h-0.6zM88.2 343.7h0.6v0.6h-0.6zM89.4 350.4h0.6v0.6h-0.6zM79.6 356.1h0.6v0.6h-0.6zM68.7 343.6h0.6v0.6h-0.6zM51.6 349.8h0.6v0.6h-0.6zM56.4 344.1h0.6v0.6h-0.6zM52.7 351.4h0.6v0.6h-0.6zM79.7 342.8h0.6v0.6h-0.6zM71.6 344.7h0.6v0.6h-0.6zM76.9 356.1h0.6v0.6h-0.6zM76.9 356.2h0.6v0.6h-0.6zM81.6 340.6h0.6v0.6h-0.6zM89.0 346.7h0.6v0.6h-0.6zM52.9 348.5h0.6v0.6h-0.6zM63.8 343.3h0.6v0.6h-0.6zM54.0 346.0h0.6v0.6h-0.6zM86.8 343.4h0.6v0.6h-0.6zM52.8 349.9h0.6v0.6h-0.6zM89.7 345.7h0.6v0.6h-0.6zM84.5 355.5h0.6v0.6h-0.6zM85.4 342.4h0.6v0.6h-0.6zM52.1 349.3h0.6v0.6h-0.6zM68.6 357.2h0.6v0.6h-0.6zM70.7 343.7h0.6v0.6h-0.6zM72.4 344.7h0.6v0.6h-0.6zM84.5 355.4h0.6v0.6h-0.6zM83.8 341.8h0.6v0.6h-0.6zM85.7 342.7h0.6v0.6h-0.6zM52.6 352.5h0.6v0.6h-0.6zM80.6 342.8h0.6v0.6h-0.6zM62.7 358.0h0.6v0.6h-0.6zM59.9 344.2h0.6v0.6h-0.6zM54.0 346.8h0.6v0.6h-0.6zM56.7 357.6h0.6v0.6h-0.6zM82.9 355.5h0.6v0.6h-0.6zM87.5 341.4h0.6v0.6h-0.6zM61.1 358.2h0.6v0.6h-0.6zM91.2 345.3h0.6v0.6h-0.6zM57.9 344.7h0.6v0.6h-0.6zM70.6 344.7h0.6v0.6h-0.6zM58.4 343.5h0.6v0.6h-0.6zM88.6 344.5h0.6v0.6h-0.6zM50.8 348.4h0.6v0.6h-0.6zM58.0 344.8h0.6v0.6h-0.6zM56.4 344.2h0.6v0.6h-0.6zM54.6 345.9h0.6v0.6h-0.6zM71.6 344.0h0.6v0.6h-0.6zM62.1 342.9h0.6v0.6h-0.6zM90.5 349.8h0.6v0.6h-0.6zM55.5 356.8h0.6v0.6h-0.6zM53.6 347.1h0.6v0.6h-0.6zM52.1 348.8h0.6v0.6h-0.6zM89.2 347.5h0.6v0.6h-0.6zM52.6 346.4h0.6v0.6h-0.6zM62.6 357.2h0.6v0.6h-0.6zM58.0 344.9h0.6v0.6h-0.6zM58.5 343.9h0.6v0.6h-0.6zM59.2 343.7h0.6v0.6h-0.6zM54.7 346.0h0.6v0.6h-0.6zM71.6 344.3h0.6v0.6h-0.6zM90.1 353.1h0.6v0.6h-0.6zM60.6 343.6h0.6v0.6h-0.6zM77.9 357.8h0.6v0.6h-0.6zM52.8 347.2h0.6v0.6h-0.6zM85.4 355.9h0.6v0.6h-0.6zM85.5 356.1h0.6v0.6h-0.6zM59.9 343.9h0.6v0.6h-0.6zM62.1 342.2h0.6v0.6h-0.6zM77.9 358.3h0.6v0.6h-0.6zM90.1 349.7h0.6v0.6h-0.6zM67.7 357.8h0.6v0.6h-0.6zM72.5 357.5h0.6v0.6h-0.6zM56.2 356.9h0.6v0.6h-0.6zM56.5 358.3h0.6v0.6h-0.6zM62.6 357.3h0.6v0.6h-0.6zM53.0 348.5h0.6v0.6h-0.6zM59.6 358.9h0.6v0.6h-0.6zM61.8 357.1h0.6v0.6h-0.6zM89.1 346.7h0.6v0.6h-0.6zM74.0 344.7h0.6v0.6h-0.6zM77.5 343.5h0.6v0.6h-0.6zM89.1 350.9h0.6v0.6h-0.6zM85.2 341.5h0.6v0.6h-0.6zM89.6 349.2h0.6v0.6h-0.6zM74.3 356.5h0.6v0.6h-0.6zM80.9 342.3h0.6v0.6h-0.6zM89.7 348.3h0.6v0.6h-0.6zM81.6 342.0h0.6v0.6h-0.6zM53.8 345.9h0.6v0.6h-0.6zM57.2 344.3h0.6v0.6h-0.6zM77.6 343.9h0.6v0.6h-0.6zM66.7 343.7h0.6v0.6h-0.6zM82.2 342.4h0.6v0.6h-0.6zM78.7 356.6h0.6v0.6h-0.6zM89.9 347.9h0.6v0.6h-0.6zM69.6 357.3h0.6v0.6h-0.6zM89.7 343.7h0.6v0.6h-0.6zM54.2 346.3h0.6v0.6h-0.6zM88.7 352.5h0.6v0.6h-0.6zM89.9 347.4h0.6v0.6h-0.6zM72.5 343.9h0.6v0.6h-0.6zM80.4 355.8h0.6v0.6h-0.6zM87.4 343.9h0.6v0.6h-0.6zM84.6 342.1h0.6v0.6h-0.6zM67.8 342.7h0.6v0.6h-0.6zM70.6 357.4h0.6v0.6h-0.6zM87.3 354.6h0.6v0.6h-0.6zM59.3 344.4h0.6v0.6h-0.6zM64.3 357.5h0.6v0.6h-0.6zM86.4 343.1h0.6v0.6h-0.6zM65.0 356.9h0.6v0.6h-0.6zM54.4 355.2h0.6v0.6h-0.6zM88.1 343.7h0.6v0.6h-0.6zM90.8 352.0h0.6v0.6h-0.6zM58.8 357.8h0.6v0.6h-0.6zM75.9 343.1h0.6v0.6h-0.6zM83.3 341.2h0.6v0.6h-0.6zM61.3 342.5h0.6v0.6h-0.6zM83.9 356.5h0.6v0.6h-0.6zM71.6 344.3h0.6v0.6h-0.6zM52.7 350.4h0.6v0.6h-0.6zM86.3 356.0h0.6v0.6h-0.6zM58.8 357.7h0.6v0.6h-0.6zM89.9 351.1h0.6v0.6h-0.6zM81.4 342.6h0.6v0.6h-0.6zM63.8 344.0h0.6v0.6h-0.6zM69.8 342.8h0.6v0.6h-0.6zM82.3 342.6h0.6v0.6h-0.6zM61.4 343.4h0.6v0.6h-0.6zM90.9 347.4h0.6v0.6h-0.6zM89.4 348.7h0.6v0.6h-0.6zM88.2 342.3h0.6v0.6h-0.6zM89.2 352.1h0.6v0.6h-0.6zM58.0 358.2h0.6v0.6h-0.6zM52.8 353.1h0.6v0.6h-0.6zM76.9 355.9h0.6v0.6h-0.6zM52.5 347.1h0.6v0.6h-0.6zM82.6 342.4h0.6v0.6h-0.6zM53.5 347.1h0.6v0.6h-0.6zM77.6 342.5h0.6v0.6h-0.6zM73.2 344.7h0.6v0.6h-0.6zM65.1 357.6h0.6v0.6h-0.6zM55.9 357.6h0.6v0.6h-0.6zM72.5 357.4h0.6v0.6h-0.6zM61.4 344.1h0.6v0.6h-0.6zM82.8 341.2h0.6v0.6h-0.6zM52.5 351.4h0.6v0.6h-0.6zM76.6 342.3h0.6v0.6h-0.6zM52.7 351.4h0.6v0.6h-0.6zM86.6 342.8h0.6v0.6h-0.6zM81.6 341.8h0.6v0.6h-0.6zM90.6 346.4h0.6v0.6h-0.6zM53.8 357.7h0.6v0.6h-0.6zM88.1 343.8h0.6v0.6h-0.6zM53.9 354.7h0.6v0.6h-0.6zM67.8 343.1h0.6v0.6h-0.6zM53.6 347.7h0.6v0.6h-0.6zM53.1 355.2h0.6v0.6h-0.6zM81.3 355.8h0.6v0.6h-0.6zM53.2 353.6h0.6v0.6h-0.6zM61.1 358.4h0.6v0.6h-0.6zM62.2 344.3h0.6v0.6h-0.6zM53.9 354.7h0.6v0.6h-0.6zM67.8 359.0h0.6v0.6h-0.6zM80.5 357.0h0.6v0.6h-0.6zM87.4 343.9h0.6v0.6h-0.6zM89.8 350.6h0.6v0.6h-0.6zM73.6 358.2h0.6v0.6h-0.6zM64.3 358.3h0.6v0.6h-0.6zM55.1 356.2h0.6v0.6h-0.6zM53.0 347.4h0.6v0.6h-0.6zM87.5 342.4h0.6v0.6h-0.6zM51.9 348.1h0.6v0.6h-0.6zM53.9 346.7h0.6v0.6h-0.6zM89.0 344.7h0.6v0.6h-0.6zM89.1 348.6h0.6v0.6h-0.6zM59.6 358.0h0.6v0.6h-0.6zM64.8 343.0h0.6v0.6h-0.6zM57.5 357.0h0.6v0.6h-0.6zM86.2 342.7h0.6v0.6h-0.6zM73.5 357.7h0.6v0.6h-0.6zM52.4 348.3h0.6v0.6h-0.6zM54.3 356.1h0.6v0.6h-0.6zM75.8 342.6h0.6v0.6h-0.6zM54.1 355.4h0.6v0.6h-0.6zM82.1 340.5h0.6v0.6h-0.6zM72.4 344.6h0.6v0.6h-0.6zM84.3 341.0h0.6v0.6h-0.6zM89.1 351.4h0.6v0.6h-0.6zM78.9 343.3h0.6v0.6h-0.6zM80.1 342.5h0.6v0.6h-0.6zM82.6 342.4h0.6v0.6h-0.6zM63.0 343.7h0.6v0.6h-0.6zM72.4 344.6h0.6v0.6h-0.6zM61.4 344.1h0.6v0.6h-0.6zM87.3 342.7h0.6v0.6h-0.6zM77.0 356.5h0.6v0.6h-0.6zM53.5 353.5h0.6v0.6h-0.6zM80.4 356.1h0.6v0.6h-0.6zM51.9 348.7h0.6v0.6h-0.6zM88.4 353.0h0.6v0.6h-0.6zM88.2 353.7h0.6v0.6h-0.6zM89.3 350.9h0.6v0.6h-0.6zM58.8 359.3h0.6v0.6h-0.6zM58.6 344.8h0.6v0.6h-0.6zM62.6 357.2h0.6v0.6h-0.6zM53.0 352.4h0.6v0.6h-0.6zM56.6 357.9h0.6v0.6h-0.6zM79.7 342.7h0.6v0.6h-0.6zM79.3 343.0h0.6v0.6h-0.6zM76.2 344.2h0.6v0.6h-0.6zM88.7 344.9h0.6v0.6h-0.6zM56.7 345.1h0.6v0.6h-0.6zM72.5 343.8h0.6v0.6h-0.6zM63.0 344.0h0.6v0.6h-0.6zM89.8 349.2h0.6v0.6h-0.6zM88.6 352.4h0.6v0.6h-0.6zM74.3 356.2h0.6v0.6h-0.6zM53.8 345.8h0.6v0.6h-0.6zM81.0 342.6h0.6v0.6h-0.6zM87.4 354.8h0.6v0.6h-0.6zM80.5 356.9h0.6v0.6h-0.6zM63.0 343.7h0.6v0.6h-0.6zM56.8 357.1h0.6v0.6h-0.6zM60.6 343.6h0.6v0.6h-0.6zM80.5 356.2h0.6v0.6h-0.6zM88.7 350.8h0.6v0.6h-0.6zM86.8 343.3h0.6v0.6h-0.6zM76.2 344.1h0.6v0.6h-0.6zM80.5 356.2h0.6v0.6h-0.6zM53.6 354.9h0.6v0.6h-0.6zM86.8 354.1h0.6v0.6h-0.6zM80.5 357.4h0.6v0.6h-0.6zM81.5 342.8h0.6v0.6h-0.6zM88.8 350.8h0.6v0.6h-0.6zM89.1 346.7h0.6v0.6h-0.6zM87.7 352.6h0.6v0.6h-0.6zM55.1 345.7h0.6v0.6h-0.6zM91.4 345.8h0.6v0.6h-0.6zM88.8 350.3h0.6v0.6h-0.6zM78.7 342.6h0.6v0.6h-0.6zM53.6 355.8h0.6v0.6h-0.6zM59.6 357.8h0.6v0.6h-0.6zM82.1 342.1h0.6v0.6h-0.6zM51.5 348.0h0.6v0.6h-0.6zM67.7 343.3h0.6v0.6h-0.6zM87.0 342.2h0.6v0.6h-0.6zM71.5 356.6h0.6v0.6h-0.6zM80.7 343.0h0.6v0.6h-0.6zM86.1 355.4h0.6v0.6h-0.6zM88.0 344.5h0.6v0.6h-0.6zM89.6 351.0h0.6v0.6h-0.6zM55.6 356.7h0.6v0.6h-0.6zM63.8 343.1h0.6v0.6h-0.6zM59.1 343.2h0.6v0.6h-0.6zM52.0 353.4h0.6v0.6h-0.6zM54.2 345.4h0.6v0.6h-0.6zM84.6 355.7h0.6v0.6h-0.6zM65.0 357.1h0.6v0.6h-0.6zM77.4 343.4h0.6v0.6h-0.6zM55.9 344.5h0.6v0.6h-0.6zM75.3 357.0h0.6v0.6h-0.6zM55.1 356.3h0.6v0.6h-0.6zM81.3 356.4h0.6v0.6h-0.6zM89.1 345.1h0.6v0.6h-0.6zM62.7 357.8h0.6v0.6h-0.6zM89.3 344.5h0.6v0.6h-0.6zM90.5 345.5h0.6v0.6h-0.6zM54.3 346.3h0.6v0.6h-0.6zM76.0 343.3h0.6v0.6h-0.6zM55.3 344.9h0.6v0.6h-0.6zM89.0 347.8h0.6v0.6h-0.6zM89.4 348.3h0.6v0.6h-0.6zM58.6 344.6h0.6v0.6h-0.6zM63.5 357.7h0.6v0.6h-0.6zM86.4 342.3h0.6v0.6h-0.6zM55.7 356.5h0.6v0.6h-0.6zM63.8 342.8h0.6v0.6h-0.6zM65.9 357.4h0.6v0.6h-0.6zM73.9 343.0h0.6v0.6h-0.6zM67.6 344.3h0.6v0.6h-0.6zM54.8 345.2h0.6v0.6h-0.6zM81.2 342.1h0.6v0.6h-0.6zM55.6 345.3h0.6v0.6h-0.6zM87.5 353.9h0.6v0.6h-0.6zM71.5 357.0h0.6v0.6h-0.6zM87.6 343.0h0.6v0.6h-0.6zM77.0 356.9h0.6v0.6h-0.6zM73.2 343.7h0.6v0.6h-0.6zM88.7 345.7h0.6v0.6h-0.6zM67.7 343.8h0.6v0.6h-0.6zM58.8 358.7h0.6v0.6h-0.6zM88.8 353.2h0.6v0.6h-0.6zM88.1 344.4h0.6v0.6h-0.6zM79.5 341.8h0.6v0.6h-0.6zM88.2 344.8h0.6v0.6h-0.6zM86.0 342.1h0.6v0.6h-0.6zM58.7 359.6h0.6v0.6h-0.6zM54.3 346.3h0.6v0.6h-0.6zM56.5 344.5h0.6v0.6h-0.6zM53.3 348.1h0.6v0.6h-0.6zM53.3 346.2h0.6v0.6h-0.6zM58.5 344.0h0.6v0.6h-0.6zM61.4 343.9h0.6v0.6h-0.6zM84.6 342.1h0.6v0.6h-0.6zM86.8 355.2h0.6v0.6h-0.6zM88.7 350.2h0.6v0.6h-0.6zM89.0 350.8h0.6v0.6h-0.6zM59.3 344.7h0.6v0.6h-0.6zM68.8 342.8h0.6v0.6h-0.6zM82.1 342.0h0.6v0.6h-0.6zM71.5 357.0h0.6v0.6h-0.6zM75.2 344.5h0.6v0.6h-0.6zM87.5 354.9h0.6v0.6h-0.6zM90.6 349.4h0.6v0.6h-0.6zM90.3 345.1h0.6v0.6h-0.6zM79.3 343.0h0.6v0.6h-0.6zM75.3 356.7h0.6v0.6h-0.6zM66.8 357.9h0.6v0.6h-0.6zM89.4 348.7h0.6v0.6h-0.6zM61.8 357.3h0.6v0.6h-0.6zM66.8 357.3h0.6v0.6h-0.6zM59.0 342.9h0.6v0.6h-0.6zM89.4 347.5h0.6v0.6h-0.6zM59.8 343.1h0.6v0.6h-0.6zM90.8 346.4h0.6v0.6h-0.6zM88.9 349.0h0.6v0.6h-0.6zM88.8 344.8h0.6v0.6h-0.6zM89.4 349.1h0.6v0.6h-0.6zM87.7 354.1h0.6v0.6h-0.6zM72.4 356.7h0.6v0.6h-0.6zM89.6 343.7h0.6v0.6h-0.6zM89.7 347.0h0.6v0.6h-0.6zM67.7 357.1h0.6v0.6h-0.6zM55.9 357.6h0.6v0.6h-0.6zM86.5 341.2h0.6v0.6h-0.6zM52.4 347.7h0.6v0.6h-0.6zM87.6 354.0h0.6v0.6h-0.6zM80.0 342.0h0.6v0.6h-0.6zM86.9 354.3h0.6v0.6h-0.6zM78.1 342.6h0.6v0.6h-0.6zM78.2 342.9h0.6v0.6h-0.6zM88.9 344.8h0.6v0.6h-0.6zM53.1 348.5h0.6v0.6h-0.6zM76.2 344.3h0.6v0.6h-0.6zM90.3 345.6h0.6v0.6h-0.6zM76.1 356.1h0.6v0.6h-0.6zM57.2 344.3h0.6v0.6h-0.6zM53.2 353.6h0.6v0.6h-0.6zM60.7 344.1h0.6v0.6h-0.6zM64.7 343.6h0.6v0.6h-0.6zM90.4 347.9h0.6v0.6h-0.6zM73.9 344.2h0.6v0.6h-0.6zM63.0 344.4h0.6v0.6h-0.6zM85.9 341.1h0.6v0.6h-0.6zM82.6 340.1h0.6v0.6h-0.6zM88.7 350.3h0.6v0.6h-0.6zM67.7 357.4h0.6v0.6h-0.6zM89.3 350.0h0.6v0.6h-0.6zM72.5 343.6h0.6v0.6h-0.6zM58.6 344.8h0.6v0.6h-0.6zM53.8 344.9h0.6v0.6h-0.6zM89.2 352.0h0.6v0.6h-0.6zM52.2 350.9h0.6v0.6h-0.6zM66.9 358.6h0.6v0.6h-0.6zM53.1 354.4h0.6v0.6h-0.6zM51.9 349.8h0.6v0.6h-0.6zM66.7 343.5h0.6v0.6h-0.6zM74.6 344.4h0.6v0.6h-0.6zM85.4 342.5h0.6v0.6h-0.6zM87.2 357.7h0.6v0.6h-0.6zM77.1 343.9h0.6v0.6h-0.6zM54.2 356.2h0.6v0.6h-0.6zM89.0 345.6h0.6v0.6h-0.6zM65.1 359.1h0.6v0.6h-0.6zM89.1 347.1h0.6v0.6h-0.6zM75.6 343.8h0.6v0.6h-0.6zM78.0 342.4h0.6v0.6h-0.6zM52.1 348.8h0.6v0.6h-0.6zM62.6 357.2h0.6v0.6h-0.6zM65.7 344.3h0.6v0.6h-0.6zM80.6 342.9h0.6v0.6h-0.6zM84.7 341.7h0.6v0.6h-0.6zM65.1 357.4h0.6v0.6h-0.6zM79.3 343.1h0.6v0.6h-0.6zM89.7 343.6h0.6v0.6h-0.6zM90.4 347.4h0.6v0.6h-0.6zM52.2 353.3h0.6v0.6h-0.6zM87.0 343.0h0.6v0.6h-0.6zM62.0 358.9h0.6v0.6h-0.6zM90.0 351.1h0.6v0.6h-0.6zM53.3 352.9h0.6v0.6h-0.6zM82.9 342.0h0.6v0.6h-0.6zM81.4 358.0h0.6v0.6h-0.6zM84.6 355.9h0.6v0.6h-0.6zM54.5 355.9h0.6v0.6h-0.6zM55.6 343.8h0.6v0.6h-0.6zM84.9 340.7h0.6v0.6h-0.6zM87.0 355.5h0.6v0.6h-0.6zM69.6 357.0h0.6v0.6h-0.6zM75.9 343.0h0.6v0.6h-0.6zM77.8 356.2h0.6v0.6h-0.6zM87.2 342.8h0.6v0.6h-0.6zM55.8 357.8h0.6v0.6h-0.6zM88.3 343.0h0.6v0.6h-0.6zM56.1 357.2h0.6v0.6h-0.6zM78.5 343.7h0.6v0.6h-0.6zM52.2 350.9h0.6v0.6h-0.6zM74.9 342.5h0.6v0.6h-0.6zM70.7 344.1h0.6v0.6h-0.6zM54.6 355.8h0.6v0.6h-0.6zM62.9 343.1h0.6v0.6h-0.6zM60.6 343.5h0.6v0.6h-0.6zM53.1 353.7h0.6v0.6h-0.6zM79.7 342.7h0.6v0.6h-0.6zM77.8 356.2h0.6v0.6h-0.6zM72.6 357.7h0.6v0.6h-0.6zM81.6 341.7h0.6v0.6h-0.6zM60.3 357.4h0.6v0.6h-0.6zM75.6 342.0h0.6v0.6h-0.6zM90.0 347.9h0.6v0.6h-0.6zM90.2 347.4h0.6v0.6h-0.6zM65.9 357.5h0.6v0.6h-0.6zM57.8 343.9h0.6v0.6h-0.6zM65.7 343.2h0.6v0.6h-0.6zM83.0 356.2h0.6v0.6h-0.6zM69.8 343.2h0.6v0.6h-0.6zM71.5 357.3h0.6v0.6h-0.6zM64.2 356.9h0.6v0.6h-0.6zM84.6 342.3h0.6v0.6h-0.6zM52.4 349.9h0.6v0.6h-0.6zM81.4 342.4h0.6v0.6h-0.6zM85.8 355.0h0.6v0.6h-0.6zM53.9 354.0h0.6v0.6h-0.6zM83.3 358.1h0.6v0.6h-0.6zM52.7 351.9h0.6v0.6h-0.6zM80.9 342.4h0.6v0.6h-0.6zM85.7 354.8h0.6v0.6h-0.6zM88.7 343.9h0.6v0.6h-0.6zM65.0 357.0h0.6v0.6h-0.6zM85.4 355.8h0.6v0.6h-0.6zM62.1 343.2h0.6v0.6h-0.6zM71.6 344.0h0.6v0.6h-0.6zM78.4 343.4h0.6v0.6h-0.6zM66.8 357.7h0.6v0.6h-0.6zM62.2 344.2h0.6v0.6h-0.6zM69.6 344.6h0.6v0.6h-0.6zM73.4 356.4h0.6v0.6h-0.6zM75.2 356.1h0.6v0.6h-0.6zM57.4 357.5h0.6v0.6h-0.6zM74.6 344.4h0.6v0.6h-0.6zM85.0 357.5h0.6v0.6h-0.6zM52.7 349.4h0.6v0.6h-0.6zM81.3 356.2h0.6v0.6h-0.6zM85.5 342.0h0.6v0.6h-0.6zM54.2 356.2h0.6v0.6h-0.6zM88.6 350.7h0.6v0.6h-0.6zM89.3 347.1h0.6v0.6h-0.6zM85.9 355.0h0.6v0.6h-0.6zM80.9 341.1h0.6v0.6h-0.6zM64.7 344.3h0.6v0.6h-0.6zM76.3 344.6h0.6v0.6h-0.6zM90.2 346.1h0.6v0.6h-0.6zM53.3 352.9h0.6v0.6h-0.6zM56.4 358.3h0.6v0.6h-0.6zM73.9 344.3h0.6v0.6h-0.6zM56.2 357.0h0.6v0.6h-0.6zM80.7 343.0h0.6v0.6h-0.6zM80.7 343.1h0.6v0.6h-0.6zM60.6 343.7h0.6v0.6h-0.6zM77.8 356.6h0.6v0.6h-0.6zM89.8 350.1h0.6v0.6h-0.6zM89.3 354.3h0.6v0.6h-0.6zM87.7 343.5h0.6v0.6h-0.6zM72.4 344.9h0.6v0.6h-0.6zM85.3 341.4h0.6v0.6h-0.6zM52.2 351.4h0.6v0.6h-0.6zM57.2 344.3h0.6v0.6h-0.6zM89.0 349.9h0.6v0.6h-0.6zM74.5 343.5h0.6v0.6h-0.6zM89.8 344.8h0.6v0.6h-0.6zM87.1 353.6h0.6v0.6h-0.6zM76.8 343.0h0.6v0.6h-0.6zM79.0 342.0h0.6v0.6h-0.6zM68.7 357.7h0.6v0.6h-0.6zM52.6 346.4h0.6v0.6h-0.6zM73.2 343.9h0.6v0.6h-0.6zM89.1 347.1h0.6v0.6h-0.6zM85.8 356.9h0.6v0.6h-0.6zM52.5 348.9h0.6v0.6h-0.6zM53.1 346.8h0.6v0.6h-0.6zM73.9 344.5h0.6v0.6h-0.6zM80.4 355.6h0.6v0.6h-0.6zM78.0 343.7h0.6v0.6h-0.6zM85.5 342.2h0.6v0.6h-0.6zM90.4 350.3h0.6v0.6h-0.6zM74.6 344.3h0.6v0.6h-0.6zM80.5 357.0h0.6v0.6h-0.6zM65.0 357.2h0.6v0.6h-0.6zM89.5 351.6h0.6v0.6h-0.6zM79.6 356.4h0.6v0.6h-0.6zM91.4 343.3h0.6v0.6h-0.6zM79.6 355.9h0.6v0.6h-0.6zM73.4 356.5h0.6v0.6h-0.6zM55.1 356.3h0.6v0.6h-0.6zM89.9 349.7h0.6v0.6h-0.6zM53.2 348.1h0.6v0.6h-0.6zM89.7 348.7h0.6v0.6h-0.6zM74.3 356.5h0.6v0.6h-0.6zM86.3 356.0h0.6v0.6h-0.6zM90.0 347.0h0.6v0.6h-0.6zM58.0 344.9h0.6v0.6h-0.6zM86.1 340.6h0.6v0.6h-0.6zM58.8 359.2h0.6v0.6h-0.6zM64.4 359.0h0.6v0.6h-0.6zM64.7 343.6h0.6v0.6h-0.6zM89.1 347.1h0.6v0.6h-0.6zM82.3 357.5h0.6v0.6h-0.6zM87.2 354.6h0.6v0.6h-0.6zM52.0 354.1h0.6v0.6h-0.6zM82.9 341.5h0.6v0.6h-0.6zM77.1 357.9h0.6v0.6h-0.6zM63.8 343.4h0.6v0.6h-0.6zM55.7 356.5h0.6v0.6h-0.6zM53.7 354.8h0.6v0.6h-0.6zM68.6 357.4h0.6v0.6h-0.6zM88.9 346.4h0.6v0.6h-0.6zM53.2 348.1h0.6v0.6h-0.6zM69.6 356.8h0.6v0.6h-0.6zM54.3 356.1h0.6v0.6h-0.6zM84.2 341.7h0.6v0.6h-0.6zM54.6 345.9h0.6v0.6h-0.6zM90.2 347.9h0.6v0.6h-0.6zM89.3 347.1h0.6v0.6h-0.6zM65.1 357.3h0.6v0.6h-0.6zM81.3 342.3h0.6v0.6h-0.6zM56.1 343.3h0.6v0.6h-0.6zM80.5 342.3h0.6v0.6h-0.6zM65.1 358.8h0.6v0.6h-0.6zM52.0 348.7h0.6v0.6h-0.6zM51.0 351.6h0.6v0.6h-0.6zM80.9 342.3h0.6v0.6h-0.6zM55.2 345.8h0.6v0.6h-0.6zM65.7 343.8h0.6v0.6h-0.6zM89.4 343.3h0.6v0.6h-0.6zM76.9 355.9h0.6v0.6h-0.6zM71.5 356.9h0.6v0.6h-0.6zM77.8 356.4h0.6v0.6h-0.6zM89.4 347.1h0.6v0.6h-0.6zM68.6 344.5h0.6v0.6h-0.6zM78.8 343.0h0.6v0.6h-0.6zM84.7 341.5h0.6v0.6h-0.6zM87.7 344.2h0.6v0.6h-0.6zM86.5 354.7h0.6v0.6h-0.6zM67.7 343.4h0.6v0.6h-0.6zM56.3 356.8h0.6v0.6h-0.6zM78.7 342.8h0.6v0.6h-0.6zM83.4 342.1h0.6v0.6h-0.6zM62.1 342.9h0.6v0.6h-0.6zM66.8 357.9h0.6v0.6h-0.6zM54.8 355.6h0.6v0.6h-0.6zM58.6 344.5h0.6v0.6h-0.6zM88.4 345.1h0.6v0.6h-0.6zM54.2 354.6h0.6v0.6h-0.6zM61.3 342.5h0.6v0.6h-0.6zM77.1 343.9h0.6v0.6h-0.6zM86.0 340.9h0.6v0.6h-0.6zM78.5 343.6h0.6v0.6h-0.6zM79.1 342.2h0.6v0.6h-0.6zM75.2 344.6h0.6v0.6h-0.6zM66.7 356.7h0.6v0.6h-0.6zM85.0 357.4h0.6v0.6h-0.6zM56.8 345.2h0.6v0.6h-0.6zM78.4 342.0h0.6v0.6h-0.6zM88.0 353.5h0.6v0.6h-0.6zM90.0 348.8h0.6v0.6h-0.6zM55.6 358.1h0.6v0.6h-0.6zM90.6 344.9h0.6v0.6h-0.6zM55.8 356.4h0.6v0.6h-0.6zM53.8 355.6h0.6v0.6h-0.6zM76.7 342.7h0.6v0.6h-0.6zM66.7 343.9h0.6v0.6h-0.6zM72.4 356.7h0.6v0.6h-0.6zM53.1 353.0h0.6v0.6h-0.6zM84.9 340.5h0.6v0.6h-0.6zM87.2 342.8h0.6v0.6h-0.6zM59.5 357.2h0.6v0.6h-0.6zM87.6 342.2h0.6v0.6h-0.6zM55.6 345.4h0.6v0.6h-0.6zM70.5 356.9h0.6v0.6h-0.6zM75.2 344.4h0.6v0.6h-0.6zM51.6 348.6h0.6v0.6h-0.6zM58.8 358.4h0.6v0.6h-0.6zM71.5 356.6h0.6v0.6h-0.6zM51.7 346.6h0.6v0.6h-0.6zM58.5 344.3h0.6v0.6h-0.6zM53.2 353.6h0.6v0.6h-0.6zM84.6 342.1h0.6v0.6h-0.6zM76.1 356.1h0.6v0.6h-0.6zM54.0 346.1h0.6v0.6h-0.6zM54.0 357.4h0.6v0.6h-0.6zM87.1 343.6h0.6v0.6h-0.6zM57.3 358.3h0.6v0.6h-0.6zM77.5 343.6h0.6v0.6h-0.6zM59.6 357.8h0.6v0.6h-0.6zM68.7 357.6h0.6v0.6h-0.6zM87.4 353.8h0.6v0.6h-0.6zM82.5 341.8h0.6v0.6h-0.6zM70.8 342.2h0.6v0.6h-0.6zM61.0 357.2h0.6v0.6h-0.6zM72.5 343.5h0.6v0.6h-0.6zM74.6 344.9h0.6v0.6h-0.6zM53.6 345.6h0.6v0.6h-0.6zM52.8 350.9h0.6v0.6h-0.6zM73.9 342.7h0.6v0.6h-0.6zM62.2 343.7h0.6v0.6h-0.6zM76.1 356.4h0.6v0.6h-0.6zM59.1 343.1h0.6v0.6h-0.6zM83.8 342.1h0.6v0.6h-0.6zM88.8 346.0h0.6v0.6h-0.6zM85.3 341.2h0.6v0.6h-0.6zM77.1 358.2h0.6v0.6h-0.6zM87.5 354.0h0.6v0.6h-0.6zM90.6 347.4h0.6v0.6h-0.6zM82.0 340.0h0.6v0.6h-0.6zM54.0 346.0h0.6v0.6h-0.6zM55.8 344.3h0.6v0.6h-0.6zM90.6 351.3h0.6v0.6h-0.6zM78.2 342.9h0.6v0.6h-0.6zM66.9 358.3h0.6v0.6h-0.6zM81.7 340.8h0.6v0.6h-0.6zM85.2 355.1h0.6v0.6h-0.6zM76.9 356.0h0.6v0.6h-0.6zM88.3 351.2h0.6v0.6h-0.6zM76.2 342.6h0.6v0.6h-0.6zM63.4 357.1h0.6v0.6h-0.6zM65.9 357.5h0.6v0.6h-0.6zM90.2 347.0h0.6v0.6h-0.6zM78.9 343.5h0.6v0.6h-0.6zM61.8 357.3h0.6v0.6h-0.6zM58.4 343.8h0.6v0.6h-0.6zM55.1 345.6h0.6v0.6h-0.6zM88.7 343.9h0.6v0.6h-0.6zM51.3 348.6h0.6v0.6h-0.6zM56.8 357.1h0.6v0.6h-0.6zM83.1 356.8h0.6v0.6h-0.6zM82.5 341.9h0.6v0.6h-0.6zM87.6 343.7h0.6v0.6h-0.6zM87.6 353.2h0.6v0.6h-0.6zM73.2 344.8h0.6v0.6h-0.6zM68.8 343.0h0.6v0.6h-0.6zM51.2 347.9h0.6v0.6h-0.6zM69.5 356.5h0.6v0.6h-0.6zM60.7 343.9h0.6v0.6h-0.6zM86.9 342.5h0.6v0.6h-0.6zM56.1 357.1h0.6v0.6h-0.6zM85.2 341.7h0.6v0.6h-0.6zM61.1 357.7h0.6v0.6h-0.6zM70.6 344.7h0.6v0.6h-0.6zM53.6 347.1h0.6v0.6h-0.6zM63.5 358.0h0.6v0.6h-0.6zM53.2 353.6h0.6v0.6h-0.6zM52.2 353.3h0.6v0.6h-0.6zM87.0 343.0h0.6v0.6h-0.6zM86.2 355.7h0.6v0.6h-0.6zM74.5 343.4h0.6v0.6h-0.6zM53.4 355.9h0.6v0.6h-0.6zM69.6 357.4h0.6v0.6h-0.6zM88.2 352.9h0.6v0.6h-0.6zM83.0 339.5h0.6v0.6h-0.6zM82.1 340.3h0.6v0.6h-0.6zM73.2 343.8h0.6v0.6h-0.6zM62.7 357.7h0.6v0.6h-0.6zM49.4 349.6h0.6v0.6h-0.6zM96.9 344.4h0.6v0.6h-0.6zM57.5 342.6h0.6v0.6h-0.6zM89.4 352.8h0.6v0.6h-0.6zM70.2 338.4h0.6v0.6h-0.6zM85.0 340.2h0.6v0.6h-0.6zM88.7 340.8h0.6v0.6h-0.6zM83.2 357.6h0.6v0.6h-0.6zM60.4 360.5h0.6v0.6h-0.6zM90.4 349.8h0.6v0.6h-0.6zM90.9 343.5h0.6v0.6h-0.6zM76.2 344.0h0.6v0.6h-0.6zM80.5 357.7h0.6v0.6h-0.6zM93.3 353.6h0.6v0.6h-0.6zM86.5 337.2h0.6v0.6h-0.6zM76.2 357.0h0.6v0.6h-0.6zM74.8 342.0h0.6v0.6h-0.6zM52.3 352.6h0.6v0.6h-0.6zM89.8 347.0h0.6v0.6h-0.6zM83.1 356.6h0.6v0.6h-0.6zM68.8 343.4h0.6v0.6h-0.6zM80.5 357.0h0.6v0.6h-0.6zM90.5 341.5h0.6v0.6h-0.6zM90.6 346.0h0.6v0.6h-0.6zM65.1 358.6h0.6v0.6h-0.6zM57.4 338.2h0.6v0.6h-0.6zM50.5 346.8h0.6v0.6h-0.6zM86.9 355.3h0.6v0.6h-0.6zM89.8 346.2h0.6v0.6h-0.6zM78.0 338.7h0.6v0.6h-0.6zM65.2 359.4h0.6v0.6h-0.6zM89.4 354.5h0.6v0.6h-0.6zM47.6 344.2h0.6v0.6h-0.6zM58.7 340.9h0.6v0.6h-0.6zM53.8 343.5h0.6v0.6h-0.6zM77.9 358.4h0.6v0.6h-0.6zM57.0 343.6h0.6v0.6h-0.6zM70.1 362.6h0.6v0.6h-0.6zM86.2 358.2h0.6v0.6h-0.6zM72.5 343.8h0.6v0.6h-0.6zM58.0 358.2h0.6v0.6h-0.6zM64.5 360.9h0.6v0.6h-0.6zM51.5 348.0h0.6v0.6h-0.6zM83.7 340.2h0.6v0.6h-0.6zM87.6 342.2h0.6v0.6h-0.6zM50.3 351.1h0.6v0.6h-0.6zM52.8 353.8h0.6v0.6h-0.6zM52.8 353.1h0.6v0.6h-0.6zM60.5 360.7h0.6v0.6h-0.6zM59.4 339.9h0.6v0.6h-0.6zM49.0 352.0h0.6v0.6h-0.6zM92.2 350.7h0.6v0.6h-0.6zM89.7 340.4h0.6v0.6h-0.6zM94.8 348.0h0.6v0.6h-0.6zM81.2 340.8h0.6v0.6h-0.6zM79.0 338.6h0.6v0.6h-0.6zM76.0 341.8h0.6v0.6h-0.6zM61.3 361.2h0.6v0.6h-0.6zM90.9 345.3h0.6v0.6h-0.6zM52.6 356.5h0.6v0.6h-0.6zM59.6 358.0h0.6v0.6h-0.6zM91.7 349.6h0.6v0.6h-0.6zM76.9 339.3h0.6v0.6h-0.6zM56.6 342.2h0.6v0.6h-0.6zM57.3 341.9h0.6v0.6h-0.6zM95.3 347.2h0.6v0.6h-0.6zM66.8 341.8h0.6v0.6h-0.6zM62.9 360.5h0.6v0.6h-0.6zM51.9 343.8h0.6v0.6h-0.6zM63.1 362.7h0.6v0.6h-0.6zM54.7 343.7h0.6v0.6h-0.6zM83.3 358.4h0.6v0.6h-0.6zM86.6 342.0h0.6v0.6h-0.6zM91.7 349.6h0.6v0.6h-0.6zM78.0 340.7h0.6v0.6h-0.6zM71.9 340.0h0.6v0.6h-0.6zM77.0 357.3h0.6v0.6h-0.6zM88.6 342.6h0.6v0.6h-0.6zM76.0 341.9h0.6v0.6h-0.6zM91.1 344.7h0.6v0.6h-0.6zM84.5 337.1h0.6v0.6h-0.6zM65.4 364.0h0.6v0.6h-0.6zM72.5 344.1h0.6v0.6h-0.6zM87.5 340.4h0.6v0.6h-0.6zM82.5 359.4h0.6v0.6h-0.6zM73.2 341.5h0.6v0.6h-0.6zM52.0 340.6h0.6v0.6h-0.6zM48.2 339.9h0.6v0.6h-0.6zM79.9 341.7h0.6v0.6h-0.6zM69.1 339.4h0.6v0.6h-0.6zM80.5 356.5h0.6v0.6h-0.6zM52.8 354.6h0.6v0.6h-0.6zM62.7 358.1h0.6v0.6h-0.6zM72.6 357.8h0.6v0.6h-0.6zM89.5 344.4h0.6v0.6h-0.6zM79.8 360.9h0.6v0.6h-0.6zM73.8 341.4h0.6v0.6h-0.6zM82.4 341.6h0.6v0.6h-0.6zM51.9 354.2h0.6v0.6h-0.6zM72.1 362.7h0.6v0.6h-0.6zM77.3 341.6h0.6v0.6h-0.6zM88.0 339.6h0.6v0.6h-0.6zM62.0 359.2h0.6v0.6h-0.6zM51.8 348.7h0.6v0.6h-0.6zM89.2 342.7h0.6v0.6h-0.6zM81.4 356.8h0.6v0.6h-0.6zM88.8 343.8h0.6v0.6h-0.6zM80.6 341.4h0.6v0.6h-0.6zM90.3 356.3h0.6v0.6h-0.6zM74.9 343.1h0.6v0.6h-0.6zM55.9 339.6h0.6v0.6h-0.6zM59.9 343.8h0.6v0.6h-0.6zM50.9 350.4h0.6v0.6h-0.6zM79.9 339.5h0.6v0.6h-0.6zM79.7 359.3h0.6v0.6h-0.6zM52.1 351.5h0.6v0.6h-0.6zM82.3 358.0h0.6v0.6h-0.6zM86.7 341.8h0.6v0.6h-0.6zM89.1 343.5h0.6v0.6h-0.6zM86.9 340.2h0.6v0.6h-0.6zM72.1 363.3h0.6v0.6h-0.6zM53.4 342.8h0.6v0.6h-0.6zM76.8 339.0h0.6v0.6h-0.6zM48.8 357.8h0.6v0.6h-0.6zM68.8 343.0h0.6v0.6h-0.6zM50.9 347.0h0.6v0.6h-0.6zM51.2 352.3h0.6v0.6h-0.6zM49.0 349.6h0.6v0.6h-0.6zM80.9 339.7h0.6v0.6h-0.6zM54.2 357.3h0.6v0.6h-0.6zM88.7 341.7h0.6v0.6h-0.6zM60.5 362.7h0.6v0.6h-0.6zM81.4 357.4h0.6v0.6h-0.6zM63.8 340.3h0.6v0.6h-0.6zM63.0 361.4h0.6v0.6h-0.6zM87.7 340.1h0.6v0.6h-0.6zM51.3 347.2h0.6v0.6h-0.6zM89.6 348.7h0.6v0.6h-0.6zM83.9 356.4h0.6v0.6h-0.6zM91.1 341.9h0.6v0.6h-0.6zM89.3 355.4h0.6v0.6h-0.6zM92.0 347.4h0.6v0.6h-0.6zM91.9 342.1h0.6v0.6h-0.6zM62.9 342.0h0.6v0.6h-0.6zM89.0 341.3h0.6v0.6h-0.6zM80.9 338.0h0.6v0.6h-0.6zM54.9 345.3h0.6v0.6h-0.6zM80.1 338.8h0.6v0.6h-0.6zM78.0 342.3h0.6v0.6h-0.6zM87.4 356.0h0.6v0.6h-0.6zM88.9 352.0h0.6v0.6h-0.6zM81.4 356.7h0.6v0.6h-0.6zM58.8 359.0h0.6v0.6h-0.6zM53.3 355.1h0.6v0.6h-0.6zM80.7 340.6h0.6v0.6h-0.6zM57.8 344.1h0.6v0.6h-0.6zM65.8 341.5h0.6v0.6h-0.6zM64.3 358.7h0.6v0.6h-0.6zM81.9 336.8h0.6v0.6h-0.6zM78.4 343.2h0.6v0.6h-0.6zM90.0 341.9h0.6v0.6h-0.6zM90.8 348.9h0.6v0.6h-0.6zM78.6 342.5h0.6v0.6h-0.6zM48.7 349.6h0.6v0.6h-0.6zM74.5 343.8h0.6v0.6h-0.6zM54.4 340.9h0.6v0.6h-0.6zM81.5 340.1h0.6v0.6h-0.6zM72.6 358.6h0.6v0.6h-0.6zM76.5 360.3h0.6v0.6h-0.6zM67.7 343.9h0.6v0.6h-0.6zM69.9 341.8h0.6v0.6h-0.6zM69.0 361.0h0.6v0.6h-0.6zM73.6 358.3h0.6v0.6h-0.6zM85.2 358.3h0.6v0.6h-0.6zM58.8 358.3h0.6v0.6h-0.6zM51.3 343.2h0.6v0.6h-0.6zM55.7 360.5h0.6v0.6h-0.6zM69.7 358.8h0.6v0.6h-0.6zM70.6 357.2h0.6v0.6h-0.6zM55.1 344.4h0.6v0.6h-0.6zM91.4 349.5h0.6v0.6h-0.6zM88.2 340.4h0.6v0.6h-0.6zM90.9 347.9h0.6v0.6h-0.6zM49.6 353.4h0.6v0.6h-0.6zM81.8 363.5h0.6v0.6h-0.6zM61.3 360.3h0.6v0.6h-0.6zM66.7 343.4h0.6v0.6h-0.6zM73.6 338.7h0.6v0.6h-0.6zM67.8 343.0h0.6v0.6h-0.6zM89.1 340.2h0.6v0.6h-0.6zM57.1 344.2h0.6v0.6h-0.6zM89.8 351.1h0.6v0.6h-0.6zM87.7 340.0h0.6v0.6h-0.6zM81.6 341.9h0.6v0.6h-0.6zM51.0 356.5h0.6v0.6h-0.6zM61.1 358.0h0.6v0.6h-0.6zM90.4 343.2h0.6v0.6h-0.6zM65.7 343.3h0.6v0.6h-0.6zM47.9 353.0h0.6v0.6h-0.6zM85.6 340.2h0.6v0.6h-0.6zM58.2 342.5h0.6v0.6h-0.6zM47.6 355.0h0.6v0.6h-0.6zM57.1 344.1h0.6v0.6h-0.6zM88.8 355.0h0.6v0.6h-0.6zM78.1 342.6h0.6v0.6h-0.6zM89.3 351.5h0.6v0.6h-0.6zM82.8 341.1h0.6v0.6h-0.6zM78.4 341.9h0.6v0.6h-0.6zM84.6 360.2h0.6v0.6h-0.6zM65.9 358.2h0.6v0.6h-0.6zM61.7 365.7h0.6v0.6h-0.6zM80.1 338.7h0.6v0.6h-0.6zM50.6 357.9h0.6v0.6h-0.6zM79.2 338.4h0.6v0.6h-0.6zM50.8 351.7h0.6v0.6h-0.6zM49.6 348.9h0.6v0.6h-0.6zM90.9 350.8h0.6v0.6h-0.6zM93.1 341.2h0.6v0.6h-0.6zM81.5 341.6h0.6v0.6h-0.6zM70.8 342.5h0.6v0.6h-0.6zM77.1 342.5h0.6v0.6h-0.6zM71.8 341.2h0.6v0.6h-0.6zM92.9 341.3h0.6v0.6h-0.6zM92.4 355.2h0.6v0.6h-0.6zM92.8 346.7h0.6v0.6h-0.6zM78.4 333.6h0.6v0.6h-0.6zM90.8 355.4h0.6v0.6h-0.6zM79.8 338.9h0.6v0.6h-0.6zM74.3 342.2h0.6v0.6h-0.6zM87.1 355.7h0.6v0.6h-0.6zM79.6 356.5h0.6v0.6h-0.6zM69.8 342.6h0.6v0.6h-0.6zM62.9 341.1h0.6v0.6h-0.6zM85.4 338.0h0.6v0.6h-0.6zM60.4 359.9h0.6v0.6h-0.6zM90.1 344.6h0.6v0.6h-0.6zM59.8 342.6h0.6v0.6h-0.6zM63.7 360.5h0.6v0.6h-0.6zM84.0 356.8h0.6v0.6h-0.6zM82.3 339.0h0.6v0.6h-0.6zM70.7 358.8h0.6v0.6h-0.6zM91.4 350.5h0.6v0.6h-0.6zM92.1 342.8h0.6v0.6h-0.6zM89.3 341.9h0.6v0.6h-0.6zM89.4 345.4h0.6v0.6h-0.6zM85.7 341.7h0.6v0.6h-0.6zM51.0 349.1h0.6v0.6h-0.6zM86.8 341.7h0.6v0.6h-0.6zM84.2 358.2h0.6v0.6h-0.6zM64.8 342.5h0.6v0.6h-0.6zM51.4 354.4h0.6v0.6h-0.6zM80.9 339.6h0.6v0.6h-0.6zM61.4 343.8h0.6v0.6h-0.6zM52.6 347.1h0.6v0.6h-0.6zM94.1 353.0h0.6v0.6h-0.6zM52.3 348.2h0.6v0.6h-0.6z" fill="#000" fill-opacity="0.6"/>
<path d="M83.1 333.5h0.6v0.6h-0.6zM85.6 337.0h0.6v0.6h-0.6zM80.6 335.6h0.6v0.6h-0.6zM83.4 334.5h0.6v0.6h-0.6zM84.1 336.7h0.6v0.6h-0.6zM84.8 331.2h0.6v0.6h-0.6zM84.5 341.4h0.6v0.6h-0.6zM84.8 336.8h0.6v0.6h-0.6zM88.4 335.8h0.6v0.6h-0.6zM85.7 325.7h0.6v0.6h-0.6zM80.1 335.1h0.6v0.6h-0.6zM78.3 335.9h0.6v0.6h-0.6zM82.7 335.6h0.6v0.6h-0.6zM84.1 335.4h0.6v0.6h-0.6zM88.5 334.0h0.6v0.6h-0.6zM85.5 326.3h0.6v0.6h-0.6zM79.9 325.6h0.6v0.6h-0.6zM77.9 337.3h0.6v0.6h-0.6zM82.4 336.9h0.6v0.6h-0.6zM82.0 338.9h0.6v0.6h-0.6zM87.1 327.7h0.6v0.6h-0.6zM86.4 338.7h0.6v0.6h-0.6zM76.5 331.2h0.6v0.6h-0.6zM84.2 333.8h0.6v0.6h-0.6zM87.9 335.8h0.6v0.6h-0.6zM86.0 337.2h0.6v0.6h-0.6zM82.1 331.2h0.6v0.6h-0.6zM83.0 339.7h0.6v0.6h-0.6zM84.1 341.8h0.6v0.6h-0.6zM75.1 338.7h0.6v0.6h-0.6zM82.4 334.3h0.6v0.6h-0.6zM85.3 337.3h0.6v0.6h-0.6zM88.4 330.9h0.6v0.6h-0.6zM82.3 335.7h0.6v0.6h-0.6zM82.3 334.7h0.6v0.6h-0.6zM78.3 328.0h0.6v0.6h-0.6zM83.7 333.6h0.6v0.6h-0.6zM84.9 332.9h0.6v0.6h-0.6zM84.4 333.7h0.6v0.6h-0.6zM83.8 331.4h0.6v0.6h-0.6zM82.9 341.8h0.6v0.6h-0.6zM81.1 338.8h0.6v0.6h-0.6zM87.2 332.8h0.6v0.6h-0.6zM84.4 328.0h0.6v0.6h-0.6zM82.1 338.2h0.6v0.6h-0.6zM84.8 341.2h0.6v0.6h-0.6zM82.3 331.9h0.6v0.6h-0.6zM85.6 333.9h0.6v0.6h-0.6zM87.8 335.6h0.6v0.6h-0.6zM89.5 345.5h0.6v0.6h-0.6zM85.2 334.9h0.6v0.6h-0.6zM82.3 333.3h0.6v0.6h-0.6zM82.3 333.9h0.6v0.6h-0.6zM88.6 339.8h0.6v0.6h-0.6zM80.8 340.1h0.6v0.6h-0.6zM83.2 337.7h0.6v0.6h-0.6zM82.6 340.9h0.6v0.6h-0.6zM85.5 339.6h0.6v0.6h-0.6zM81.6 343.3h0.6v0.6h-0.6zM81.8 329.5h0.6v0.6h-0.6zM86.8 336.7h0.6v0.6h-0.6zM87.5 334.1h0.6v0.6h-0.6zM79.2 334.6h0.6v0.6h-0.6zM81.2 340.1h0.6v0.6h-0.6zM87.6 340.0h0.6v0.6h-0.6zM82.6 338.4h0.6v0.6h-0.6zM88.5 334.2h0.6v0.6h-0.6zM85.1 333.2h0.6v0.6h-0.6zM84.1 334.3h0.6v0.6h-0.6zM84.6 337.9h0.6v0.6h-0.6zM84.1 331.7h0.6v0.6h-0.6zM85.3 333.3h0.6v0.6h-0.6zM79.4 331.4h0.6v0.6h-0.6zM88.1 333.6h0.6v0.6h-0.6zM83.1 337.2h0.6v0.6h-0.6zM82.8 334.9h0.6v0.6h-0.6zM82.3 337.7h0.6v0.6h-0.6zM84.0 337.0h0.6v0.6h-0.6zM85.0 337.9h0.6v0.6h-0.6zM83.5 339.4h0.6v0.6h-0.6zM87.5 335.8h0.6v0.6h-0.6zM83.0 337.0h0.6v0.6h-0.6zM85.8 338.9h0.6v0.6h-0.6zM83.2 329.7h0.6v0.6h-0.6zM83.2 333.0h0.6v0.6h-0.6zM78.7 333.4h0.6v0.6h-0.6zM81.3 336.3h0.6v0.6h-0.6zM79.3 328.7h0.6v0.6h-0.6zM84.8 333.3h0.6v0.6h-0.6zM87.9 339.2h0.6v0.6h-0.6zM87.2 341.6h0.6v0.6h-0.6zM81.6 328.5h0.6v0.6h-0.6zM78.0 339.1h0.6v0.6h-0.6zM83.2 327.3h0.6v0.6h-0.6zM86.7 334.7h0.6v0.6h-0.6zM86.3 329.6h0.6v0.6h-0.6zM83.1 331.5h0.6v0.6h-0.6zM82.4 329.7h0.6v0.6h-0.6zM88.6 341.7h0.6v0.6h-0.6zM86.2 338.1h0.6v0.6h-0.6zM88.6 344.2h0.6v0.6h-0.6zM85.3 338.8h0.6v0.6h-0.6zM78.7 341.1h0.6v0.6h-0.6zM85.8 334.5h0.6v0.6h-0.6zM83.0 330.8h0.6v0.6h-0.6zM79.0 338.9h0.6v0.6h-0.6zM80.6 335.4h0.6v0.6h-0.6zM78.4 333.1h0.6v0.6h-0.6zM84.4 331.9h0.6v0.6h-0.6zM89.6 336.6h0.6v0.6h-0.6zM82.3 332.2h0.6v0.6h-0.6zM85.5 329.3h0.6v0.6h-0.6zM80.2 337.6h0.6v0.6h-0.6zM79.0 337.6h0.6v0.6h-0.6zM86.8 341.4h0.6v0.6h-0.6zM83.0 337.0h0.6v0.6h-0.6zM79.8 336.2h0.6v0.6h-0.6zM82.2 339.5h0.6v0.6h-0.6zM90.5 338.6h0.6v0.6h-0.6zM84.7 332.5h0.6v0.6h-0.6zM84.1 338.9h0.6v0.6h-0.6zM84.9 334.9h0.6v0.6h-0.6zM85.3 340.0h0.6v0.6h-0.6zM81.1 334.9h0.6v0.6h-0.6zM85.4 337.7h0.6v0.6h-0.6zM80.7 331.2h0.6v0.6h-0.6zM82.3 335.8h0.6v0.6h-0.6zM86.8 335.6h0.6v0.6h-0.6zM85.9 340.2h0.6v0.6h-0.6zM80.7 336.1h0.6v0.6h-0.6zM86.8 335.0h0.6v0.6h-0.6zM83.3 339.0h0.6v0.6h-0.6zM88.9 346.7h0.6v0.6h-0.6zM87.2 330.2h0.6v0.6h-0.6zM83.0 338.0h0.6v0.6h-0.6zM84.7 338.3h0.6v0.6h-0.6zM86.9 335.7h0.6v0.6h-0.6zM83.4 337.7h0.6v0.6h-0.6zM85.3 327.9h0.6v0.6h-0.6zM79.6 330.5h0.6v0.6h-0.6zM85.4 335.6h0.6v0.6h-0.6zM82.8 338.0h0.6v0.6h-0.6zM87.4 331.5h0.6v0.6h-0.6zM83.1 341.4h0.6v0.6h-0.6zM83.9 337.6h0.6v0.6h-0.6zM89.2 337.2h0.6v0.6h-0.6zM85.6 334.9h0.6v0.6h-0.6zM79.7 341.1h0.6v0.6h-0.6zM82.5 335.1h0.6v0.6h-0.6zM88.6 340.1h0.6v0.6h-0.6zM86.6 342.2h0.6v0.6h-0.6zM82.8 330.1h0.6v0.6h-0.6zM82.3 332.9h0.6v0.6h-0.6zM79.3 339.3h0.6v0.6h-0.6zM81.8 331.2h0.6v0.6h-0.6zM79.5 336.6h0.6v0.6h-0.6zM82.8 338.4h0.6v0.6h-0.6zM82.5 333.0h0.6v0.6h-0.6zM83.1 326.5h0.6v0.6h-0.6zM87.4 338.4h0.6v0.6h-0.6zM57.8 339.2h0.6v0.6h-0.6zM69.8 339.7h0.6v0.6h-0.6zM84.0 341.9h0.6v0.6h-0.6zM73.8 341.4h0.6v0.6h-0.6zM66.2 343.5h0.6v0.6h-0.6zM79.3 346.5h0.6v0.6h-0.6zM68.3 340.6h0.6v0.6h-0.6zM67.1 342.5h0.6v0.6h-0.6zM83.2 337.9h0.6v0.6h-0.6zM83.3 340.9h0.6v0.6h-0.6zM63.8 341.1h0.6v0.6h-0.6zM68.9 340.8h0.6v0.6h-0.6zM67.2 338.6h0.6v0.6h-0.6zM81.0 339.5h0.6v0.6h-0.6zM72.6 342.6h0.6v0.6h-0.6zM73.2 345.4h0.6v0.6h-0.6zM84.0 342.9h0.6v0.6h-0.6zM72.1 341.2h0.6v0.6h-0.6zM73.7 340.7h0.6v0.6h-0.6zM70.9 343.8h0.6v0.6h-0.6zM74.4 344.3h0.6v0.6h-0.6zM72.4 340.8h0.6v0.6h-0.6zM60.4 343.8h0.6v0.6h-0.6zM61.7 339.0h0.6v0.6h-0.6zM77.8 341.7h0.6v0.6h-0.6zM74.2 340.5h0.6v0.6h-0.6zM75.0 345.5h0.6v0.6h-0.6zM77.3 346.4h0.6v0.6h-0.6zM73.9 343.1h0.6v0.6h-0.6zM64.4 348.8h0.6v0.6h-0.6zM67.1 342.5h0.6v0.6h-0.6zM73.2 344.9h0.6v0.6h-0.6zM75.8 338.3h0.6v0.6h-0.6zM68.8 340.9h0.6v0.6h-0.6zM59.6 346.4h0.6v0.6h-0.6zM71.3 344.3h0.6v0.6h-0.6zM70.6 344.1h0.6v0.6h-0.6zM71.1 344.2h0.6v0.6h-0.6zM73.6 340.7h0.6v0.6h-0.6zM75.5 342.5h0.6v0.6h-0.6zM68.8 338.8h0.6v0.6h-0.6zM64.8 344.7h0.6v0.6h-0.6zM75.6 340.7h0.6v0.6h-0.6zM71.3 343.4h0.6v0.6h-0.6zM66.0 342.3h0.6v0.6h-0.6zM73.3 341.0h0.6v0.6h-0.6zM66.4 338.7h0.6v0.6h-0.6zM63.5 340.0h0.6v0.6h-0.6zM68.9 341.6h0.6v0.6h-0.6zM69.2 342.7h0.6v0.6h-0.6zM60.2 341.5h0.6v0.6h-0.6zM70.4 342.4h0.6v0.6h-0.6zM70.0 342.9h0.6v0.6h-0.6zM67.2 339.1h0.6v0.6h-0.6zM68.3 342.1h0.6v0.6h-0.6zM66.9 341.3h0.6v0.6h-0.6zM68.9 341.0h0.6v0.6h-0.6zM80.2 343.9h0.6v0.6h-0.6zM76.3 341.8h0.6v0.6h-0.6zM67.9 340.2h0.6v0.6h-0.6zM74.1 341.7h0.6v0.6h-0.6zM76.4 340.0h0.6v0.6h-0.6zM72.1 341.5h0.6v0.6h-0.6zM83.1 340.9h0.6v0.6h-0.6zM71.5 342.0h0.6v0.6h-0.6zM76.1 341.1h0.6v0.6h-0.6zM71.2 342.6h0.6v0.6h-0.6zM73.8 344.3h0.6v0.6h-0.6zM70.8 344.0h0.6v0.6h-0.6zM72.1 342.8h0.6v0.6h-0.6zM71.7 339.7h0.6v0.6h-0.6zM74.3 342.3h0.6v0.6h-0.6zM68.7 340.0h0.6v0.6h-0.6zM77.3 337.6h0.6v0.6h-0.6zM67.2 339.7h0.6v0.6h-0.6zM68.0 336.2h0.6v0.6h-0.6zM77.4 345.8h0.6v0.6h-0.6zM79.6 341.4h0.6v0.6h-0.6zM68.6 340.7h0.6v0.6h-0.6zM66.6 344.8h0.6v0.6h-0.6z" fill="#000" fill-opacity="0.45"/>
<path d="M53.3,350.8 L53.3,350.4 L53.3,350.0 L53.3,349.5 L53.4,349.1 L53.6,348.7 L53.7,348.3 L53.9,347.9 L54.2,347.5 L54.5,347.2 L54.8,346.9 L55.1,346.6 L55.5,346.3 L55.9,346.1 L56.4,345.9 L56.9,345.7 L57.5,345.5 L58.1,345.4 L58.7,345.2 L59.4,345.1 L60.0,345.0 L60.8,345.0 L61.5,344.9 L62.2,344.8 L63.0,344.8 L63.8,344.8 L64.7,344.8 L65.6,344.9 L66.6,344.9 L67.6,345.0 L68.6,345.1 L69.6,345.2 L70.6,345.3 L71.5,345.4 L72.4,345.4 L73.2,345.4 L74.0,345.4 L74.7,345.3 L75.3,345.3 L75.9,345.1 L76.4,345.0 L76.9,344.9 L77.4,344.7 L77.9,344.5 L78.3,344.4 L78.7,344.2 L79.1,344.1 L79.6,343.9 L80.0,343.8 L80.4,343.7 L80.8,343.6 L81.3,343.4 L81.6,343.3 L82.0,343.2 L82.4,343.0 L82.8,342.9 L83.1,342.9 L83.5,342.8 L83.8,342.8 L84.2,342.8 L84.5,342.8 L84.8,342.9 L85.2,343.0 L85.5,343.1 L85.9,343.3 L86.2,343.5 L86.5,343.7 L86.8,344.0 L87.1,344.2 L87.4,344.5 L87.6,344.8 L87.8,345.0 L88.0,345.3 L88.2,345.6 L88.3,345.9 L88.4,346.2 L88.5,346.5 L88.6,346.8 L88.6,347.1 L88.6,347.5 L88.6,347.8 L88.6,348.2 L88.6,348.6 L88.5,348.9 L88.4,349.3 L88.3,349.7 L88.2,350.1 L88.1,350.6 L87.9,351.0 L87.8,351.5 L87.6,352.0 L87.3,352.4 L87.1,352.9 L86.8,353.3 L86.4,353.7 L86.0,354.0 L85.5,354.3 L84.9,354.5 L84.3,354.7 L83.6,354.9 L82.9,355.0 L82.1,355.0 L81.3,355.1 L80.4,355.1 L79.5,355.2 L78.6,355.2 L77.7,355.3 L76.9,355.3 L76.0,355.4 L75.1,355.5 L74.2,355.6 L73.3,355.7 L72.4,355.8 L71.4,355.9 L70.4,356.0 L69.5,356.1 L68.5,356.2 L67.6,356.2 L66.7,356.3 L65.8,356.4 L65.0,356.4 L64.2,356.4 L63.4,356.5 L62.6,356.6 L61.8,356.6 L61.0,356.7 L60.3,356.8 L59.5,356.8 L58.8,356.8 L58.2,356.7 L57.6,356.6 L57.0,356.5 L56.5,356.3 L56.0,356.0 L55.6,355.7 L55.2,355.3 L54.8,354.8 L54.5,354.3 L54.2,353.8 L54.0,353.3 L53.8,352.8 L53.6,352.2 L53.5,351.7 L53.4,351.2Z" fill="none" stroke="#000" stroke-width="3.4" stroke-opacity="0.72" filter="url(#bl)"/>
<path d="M53.3,350.8 L53.3,350.4 L53.3,350.0 L53.3,349.5 L53.4,349.1 L53.6,348.7 L53.7,348.3 L53.9,347.9 L54.2,347.5 L54.5,347.2 L54.8,346.9 L55.1,346.6 L55.5,346.3 L55.9,346.1 L56.4,345.9 L56.9,345.7 L57.5,345.5 L58.1,345.4 L58.7,345.2 L59.4,345.1 L60.0,345.0 L60.8,345.0 L61.5,344.9 L62.2,344.8 L63.0,344.8 L63.8,344.8 L64.7,344.8 L65.6,344.9 L66.6,344.9 L67.6,345.0 L68.6,345.1 L69.6,345.2 L70.6,345.3 L71.5,345.4 L72.4,345.4 L73.2,345.4 L74.0,345.4 L74.7,345.3 L75.3,345.3 L75.9,345.1 L76.4,345.0 L76.9,344.9 L77.4,344.7 L77.9,344.5 L78.3,344.4 L78.7,344.2 L79.1,344.1 L79.6,343.9 L80.0,343.8 L80.4,343.7 L80.8,343.6 L81.3,343.4 L81.6,343.3 L82.0,343.2 L82.4,343.0 L82.8,342.9 L83.1,342.9 L83.5,342.8 L83.8,342.8 L84.2,342.8 L84.5,342.8 L84.8,342.9 L85.2,343.0 L85.5,343.1 L85.9,343.3 L86.2,343.5 L86.5,343.7 L86.8,344.0 L87.1,344.2 L87.4,344.5 L87.6,344.8 L87.8,345.0 L88.0,345.3 L88.2,345.6 L88.3,345.9 L88.4,346.2 L88.5,346.5 L88.6,346.8 L88.6,347.1 L88.6,347.5 L88.6,347.8 L88.6,348.2 L88.6,348.6 L88.5,348.9 L88.4,349.3 L88.3,349.7 L88.2,350.1 L88.1,350.6 L87.9,351.0 L87.8,351.5 L87.6,352.0 L87.3,352.4 L87.1,352.9 L86.8,353.3 L86.4,353.7 L86.0,354.0 L85.5,354.3 L84.9,354.5 L84.3,354.7 L83.6,354.9 L82.9,355.0 L82.1,355.0 L81.3,355.1 L80.4,355.1 L79.5,355.2 L78.6,355.2 L77.7,355.3 L76.9,355.3 L76.0,355.4 L75.1,355.5 L74.2,355.6 L73.3,355.7 L72.4,355.8 L71.4,355.9 L70.4,356.0 L69.5,356.1 L68.5,356.2 L67.6,356.2 L66.7,356.3 L65.8,356.4 L65.0,356.4 L64.2,356.4 L63.4,356.5 L62.6,356.6 L61.8,356.6 L61.0,356.7 L60.3,356.8 L59.5,356.8 L58.8,356.8 L58.2,356.7 L57.6,356.6 L57.0,356.5 L56.5,356.3 L56.0,356.0 L55.6,355.7 L55.2,355.3 L54.8,354.8 L54.5,354.3 L54.2,353.8 L54.0,353.3 L53.8,352.8 L53.6,352.2 L53.5,351.7 L53.4,351.2Z" fill="#c8c8c8" stroke="#262626" stroke-width="0.75"/>
<path d="M55.6,350.6 L55.6,350.2 L55.6,349.9 L55.6,349.5 L55.7,349.1 L55.8,348.8 L56.0,348.4 L56.2,348.1 L56.4,347.7 L56.6,347.4 L56.9,347.2 L57.2,346.9 L57.5,346.7 L57.9,346.4 L58.3,346.3 L58.8,346.1 L59.3,345.9 L59.8,345.8 L60.4,345.7 L60.9,345.6 L61.5,345.5 L62.2,345.5 L62.8,345.4 L63.5,345.4 L64.1,345.3 L64.8,345.3 L65.6,345.3 L66.4,345.4 L67.3,345.4 L68.2,345.5 L69.1,345.6 L69.9,345.7 L70.8,345.8 L71.6,345.8 L72.4,345.9 L73.2,345.9 L73.8,345.9 L74.4,345.8 L75.0,345.7 L75.5,345.6 L76.0,345.5 L76.4,345.4 L76.8,345.2 L77.2,345.1 L77.6,345.0 L78.0,344.8 L78.3,344.7 L78.7,344.6 L79.1,344.5 L79.5,344.4 L79.8,344.2 L80.2,344.1 L80.5,344.0 L80.9,343.9 L81.2,343.8 L81.5,343.7 L81.9,343.6 L82.2,343.6 L82.5,343.5 L82.8,343.5 L83.1,343.6 L83.4,343.6 L83.7,343.7 L84.0,343.9 L84.2,344.0 L84.5,344.2 L84.8,344.4 L85.1,344.6 L85.3,344.8 L85.6,345.1 L85.8,345.3 L86.0,345.5 L86.1,345.8 L86.3,346.0 L86.4,346.3 L86.5,346.5 L86.6,346.8 L86.6,347.1 L86.7,347.4 L86.7,347.7 L86.7,348.0 L86.7,348.3 L86.6,348.6 L86.6,349.0 L86.5,349.3 L86.4,349.6 L86.3,350.0 L86.2,350.4 L86.1,350.8 L85.9,351.2 L85.8,351.7 L85.6,352.1 L85.3,352.4 L85.1,352.8 L84.7,353.1 L84.4,353.4 L83.9,353.7 L83.4,353.9 L82.9,354.1 L82.3,354.2 L81.6,354.3 L80.9,354.3 L80.2,354.4 L79.4,354.4 L78.7,354.5 L77.9,354.5 L77.1,354.5 L76.3,354.6 L75.6,354.7 L74.8,354.7 L74.0,354.8 L73.2,354.9 L72.4,355.0 L71.5,355.1 L70.7,355.2 L69.8,355.2 L69.0,355.3 L68.2,355.4 L67.4,355.5 L66.6,355.5 L65.9,355.5 L65.2,355.6 L64.5,355.6 L63.8,355.7 L63.1,355.8 L62.4,355.8 L61.7,355.9 L61.1,355.9 L60.5,355.9 L59.9,355.8 L59.4,355.8 L58.9,355.6 L58.4,355.5 L58.0,355.2 L57.6,354.9 L57.3,354.6 L57.0,354.2 L56.7,353.7 L56.4,353.3 L56.2,352.8 L56.0,352.3 L55.9,351.9 L55.7,351.4 L55.7,351.0Z" fill="#e4e4e4" stroke="#a8a8a8" stroke-width="0.45"/>
<path d="M59.1,350.3 L59.0,350.0 L59.0,349.7 L59.1,349.4 L59.1,349.2 L59.2,348.9 L59.4,348.6 L59.5,348.3 L59.7,348.1 L59.9,347.8 L60.1,347.6 L60.3,347.4 L60.6,347.2 L60.9,347.0 L61.2,346.9 L61.6,346.7 L62.0,346.6 L62.4,346.5 L62.8,346.4 L63.3,346.4 L63.8,346.3 L64.3,346.2 L64.8,346.2 L65.3,346.2 L65.8,346.1 L66.4,346.1 L67.0,346.1 L67.7,346.2 L68.4,346.2 L69.1,346.3 L69.8,346.3 L70.5,346.4 L71.1,346.5 L71.8,346.5 L72.4,346.6 L73.0,346.6 L73.5,346.6 L74.0,346.5 L74.5,346.5 L74.9,346.4 L75.2,346.3 L75.6,346.2 L75.9,346.1 L76.2,345.9 L76.5,345.8 L76.8,345.7 L77.1,345.6 L77.4,345.5 L77.7,345.4 L78.0,345.4 L78.3,345.3 L78.6,345.2 L78.9,345.1 L79.2,345.0 L79.4,344.9 L79.7,344.8 L79.9,344.8 L80.2,344.7 L80.4,344.7 L80.7,344.7 L80.9,344.7 L81.1,344.8 L81.4,344.9 L81.6,345.0 L81.8,345.1 L82.1,345.2 L82.3,345.4 L82.5,345.6 L82.7,345.7 L82.9,345.9 L83.1,346.1 L83.2,346.3 L83.3,346.5 L83.4,346.7 L83.5,346.9 L83.6,347.1 L83.7,347.3 L83.7,347.5 L83.8,347.8 L83.8,348.0 L83.8,348.3 L83.8,348.5 L83.7,348.8 L83.7,349.0 L83.6,349.3 L83.5,349.6 L83.5,349.9 L83.4,350.2 L83.3,350.5 L83.2,350.8 L83.0,351.2 L82.9,351.5 L82.7,351.8 L82.5,352.1 L82.2,352.3 L81.9,352.6 L81.6,352.8 L81.2,352.9 L80.8,353.1 L80.3,353.2 L79.8,353.2 L79.2,353.3 L78.6,353.3 L78.0,353.4 L77.4,353.4 L76.8,353.4 L76.2,353.5 L75.5,353.5 L74.9,353.6 L74.3,353.6 L73.7,353.7 L73.1,353.8 L72.4,353.8 L71.7,353.9 L71.0,354.0 L70.4,354.0 L69.7,354.1 L69.1,354.1 L68.4,354.2 L67.8,354.2 L67.2,354.3 L66.7,354.3 L66.1,354.3 L65.5,354.4 L65.0,354.4 L64.5,354.5 L63.9,354.5 L63.4,354.5 L62.9,354.5 L62.5,354.5 L62.0,354.4 L61.7,354.3 L61.3,354.2 L61.0,354.0 L60.7,353.8 L60.4,353.5 L60.1,353.2 L59.9,352.8 L59.7,352.4 L59.5,352.1 L59.4,351.7 L59.3,351.3 L59.2,351.0 L59.1,350.6Z" fill="#eeeeee" stroke="#c0c0c0" stroke-width="0.45"/>
<path d="M62.9,350.0 L62.9,349.8 L62.9,349.6 L62.9,349.4 L63.0,349.2 L63.0,349.0 L63.1,348.8 L63.2,348.6 L63.3,348.4 L63.5,348.2 L63.6,348.1 L63.8,347.9 L64.0,347.8 L64.2,347.7 L64.4,347.5 L64.7,347.5 L65.0,347.4 L65.3,347.3 L65.6,347.2 L65.9,347.2 L66.3,347.1 L66.6,347.1 L67.0,347.1 L67.4,347.0 L67.7,347.0 L68.1,347.0 L68.6,347.0 L69.0,347.0 L69.5,347.1 L70.0,347.1 L70.5,347.2 L71.0,347.2 L71.5,347.3 L72.0,347.3 L72.4,347.3 L72.9,347.3 L73.2,347.3 L73.6,347.3 L73.9,347.2 L74.2,347.2 L74.5,347.1 L74.7,347.1 L74.9,347.0 L75.2,346.9 L75.4,346.8 L75.6,346.7 L75.8,346.6 L76.0,346.6 L76.2,346.5 L76.5,346.5 L76.7,346.4 L76.9,346.3 L77.1,346.3 L77.3,346.2 L77.4,346.1 L77.6,346.1 L77.8,346.0 L78.0,346.0 L78.2,346.0 L78.3,346.0 L78.5,346.0 L78.7,346.1 L78.8,346.1 L79.0,346.2 L79.2,346.3 L79.3,346.4 L79.5,346.5 L79.6,346.6 L79.8,346.7 L79.9,346.9 L80.0,347.0 L80.1,347.1 L80.2,347.3 L80.3,347.4 L80.4,347.6 L80.4,347.7 L80.5,347.9 L80.5,348.0 L80.5,348.2 L80.5,348.4 L80.6,348.5 L80.5,348.7 L80.5,348.9 L80.5,349.1 L80.4,349.3 L80.4,349.5 L80.3,349.7 L80.3,349.9 L80.2,350.1 L80.1,350.4 L80.0,350.6 L79.9,350.8 L79.8,351.1 L79.6,351.3 L79.4,351.5 L79.2,351.6 L79.0,351.8 L78.7,351.9 L78.4,352.0 L78.0,352.0 L77.7,352.1 L77.3,352.1 L76.9,352.2 L76.4,352.2 L76.0,352.2 L75.6,352.2 L75.1,352.3 L74.7,352.3 L74.2,352.3 L73.8,352.4 L73.3,352.4 L72.9,352.5 L72.4,352.5 L71.9,352.6 L71.5,352.6 L71.0,352.7 L70.5,352.7 L70.0,352.7 L69.6,352.8 L69.2,352.8 L68.7,352.8 L68.3,352.8 L67.9,352.9 L67.5,352.9 L67.1,352.9 L66.7,353.0 L66.4,353.0 L66.0,353.0 L65.7,353.0 L65.3,353.0 L65.0,352.9 L64.7,352.9 L64.5,352.8 L64.3,352.6 L64.0,352.5 L63.8,352.3 L63.7,352.0 L63.5,351.8 L63.4,351.5 L63.2,351.3 L63.1,351.0 L63.0,350.7 L63.0,350.5 L62.9,350.2Z" fill="#f6f6f6" stroke="#d4d4d4" stroke-width="0.45"/>
<path d="M66.7,349.7 L66.7,349.6 L66.7,349.5 L66.7,349.3 L66.8,349.2 L66.8,349.1 L66.9,349.0 L66.9,348.8 L67.0,348.7 L67.1,348.6 L67.2,348.5 L67.3,348.4 L67.4,348.4 L67.5,348.3 L67.7,348.2 L67.8,348.2 L68.0,348.1 L68.2,348.1 L68.3,348.0 L68.5,348.0 L68.7,348.0 L69.0,348.0 L69.2,347.9 L69.4,347.9 L69.6,347.9 L69.9,347.9 L70.1,347.9 L70.4,347.9 L70.7,347.9 L71.0,348.0 L71.3,348.0 L71.6,348.0 L71.9,348.1 L72.2,348.1 L72.5,348.1 L72.7,348.1 L72.9,348.1 L73.1,348.1 L73.3,348.0 L73.5,348.0 L73.7,348.0 L73.8,347.9 L74.0,347.9 L74.1,347.8 L74.2,347.8 L74.3,347.7 L74.5,347.7 L74.6,347.6 L74.7,347.6 L74.9,347.6 L75.0,347.5 L75.1,347.5 L75.2,347.5 L75.3,347.4 L75.5,347.4 L75.6,347.4 L75.7,347.3 L75.8,347.3 L75.9,347.3 L76.0,347.3 L76.1,347.3 L76.2,347.3 L76.3,347.4 L76.4,347.4 L76.5,347.5 L76.6,347.5 L76.7,347.6 L76.8,347.7 L76.9,347.7 L76.9,347.8 L77.0,347.9 L77.1,348.0 L77.1,348.1 L77.2,348.1 L77.2,348.2 L77.3,348.3 L77.3,348.4 L77.3,348.5 L77.3,348.6 L77.3,348.7 L77.3,348.8 L77.3,348.9 L77.3,349.0 L77.3,349.1 L77.3,349.3 L77.2,349.4 L77.2,349.5 L77.2,349.6 L77.1,349.8 L77.1,349.9 L77.0,350.1 L76.9,350.2 L76.9,350.3 L76.8,350.5 L76.7,350.6 L76.5,350.7 L76.4,350.8 L76.2,350.8 L76.0,350.9 L75.8,350.9 L75.6,351.0 L75.4,351.0 L75.1,351.0 L74.9,351.0 L74.6,351.0 L74.3,351.0 L74.1,351.0 L73.8,351.1 L73.5,351.1 L73.3,351.1 L73.0,351.1 L72.7,351.2 L72.4,351.2 L72.2,351.2 L71.9,351.3 L71.6,351.3 L71.3,351.3 L71.0,351.3 L70.7,351.4 L70.5,351.4 L70.2,351.4 L70.0,351.4 L69.7,351.4 L69.5,351.4 L69.3,351.5 L69.0,351.5 L68.8,351.5 L68.6,351.5 L68.4,351.5 L68.2,351.5 L68.0,351.5 L67.8,351.4 L67.7,351.4 L67.5,351.3 L67.4,351.2 L67.3,351.1 L67.2,350.9 L67.1,350.8 L67.0,350.6 L66.9,350.5 L66.9,350.3 L66.8,350.1 L66.8,350.0 L66.7,349.8Z" fill="#fcfcfc" stroke="#e2e2e2" stroke-width="0.45"/>
<rect x="75.10" y="311.10" width="18.40" height="30.70" fill="none" stroke="#000" stroke-width="1.6"/>
<text x="84.50" y="320.60" font-size="9.3" text-anchor="middle" fill="#111" textLength="15.80" lengthAdjust="spacingAndGlyphs">2.76</text>
<ellipse cx="168.8" cy="330.3" rx="3.0" ry="6.0" fill="#000" fill-opacity="0.8" transform="rotate(0 168.8 330.3)" filter="url(#hz)"/>
<ellipse cx="168.8" cy="331.8" rx="2.2" ry="3.5" fill="#000" fill-opacity="0.5" transform="rotate(0 168.8 331.8)" filter="url(#bl)"/>
<ellipse cx="148.8" cy="335.8" rx="4.5" ry="8" fill="#000" fill-opacity="0.3" transform="rotate(35 148.8 335.8)" filter="url(#hz)"/>
<path d="M174.4 350.9h0.6v0.6h-0.6zM145.8 356.2h0.6v0.6h-0.6zM173.9 349.3h0.6v0.6h-0.6zM173.2 344.9h0.6v0.6h-0.6zM140.7 347.2h0.6v0.6h-0.6zM140.7 351.6h0.6v0.6h-0.6zM169.1 341.0h0.6v0.6h-0.6zM151.0 340.9h0.6v0.6h-0.6zM174.7 353.1h0.6v0.6h-0.6zM144.0 355.6h0.6v0.6h-0.6zM165.9 357.2h0.6v0.6h-0.6zM142.5 356.1h0.6v0.6h-0.6zM142.0 344.1h0.6v0.6h-0.6zM139.4 345.2h0.6v0.6h-0.6zM146.4 356.2h0.6v0.6h-0.6zM143.7 342.1h0.6v0.6h-0.6zM173.0 351.2h0.6v0.6h-0.6zM173.0 343.3h0.6v0.6h-0.6zM140.6 346.4h0.6v0.6h-0.6zM141.2 352.0h0.6v0.6h-0.6zM145.4 341.8h0.6v0.6h-0.6zM141.3 348.0h0.6v0.6h-0.6zM164.5 341.5h0.6v0.6h-0.6zM173.8 348.8h0.6v0.6h-0.6zM160.7 356.4h0.6v0.6h-0.6zM171.4 354.3h0.6v0.6h-0.6zM164.4 339.9h0.6v0.6h-0.6zM150.1 358.6h0.6v0.6h-0.6zM148.0 357.7h0.6v0.6h-0.6zM168.9 354.7h0.6v0.6h-0.6zM141.4 353.0h0.6v0.6h-0.6zM163.3 338.7h0.6v0.6h-0.6zM141.2 357.9h0.6v0.6h-0.6zM172.7 351.4h0.6v0.6h-0.6zM165.4 340.5h0.6v0.6h-0.6zM152.6 357.0h0.6v0.6h-0.6zM162.5 341.4h0.6v0.6h-0.6zM149.7 340.9h0.6v0.6h-0.6zM140.2 349.6h0.6v0.6h-0.6zM140.1 352.4h0.6v0.6h-0.6zM139.9 350.1h0.6v0.6h-0.6zM139.8 352.5h0.6v0.6h-0.6zM153.5 356.7h0.6v0.6h-0.6zM142.9 356.6h0.6v0.6h-0.6zM144.2 341.8h0.6v0.6h-0.6zM141.5 354.1h0.6v0.6h-0.6zM144.4 340.7h0.6v0.6h-0.6zM175.2 351.8h0.6v0.6h-0.6zM145.7 356.9h0.6v0.6h-0.6zM143.8 343.3h0.6v0.6h-0.6zM174.6 345.9h0.6v0.6h-0.6zM142.8 343.9h0.6v0.6h-0.6zM174.2 348.4h0.6v0.6h-0.6zM151.0 340.2h0.6v0.6h-0.6zM148.1 356.6h0.6v0.6h-0.6zM146.5 342.0h0.6v0.6h-0.6zM141.3 353.0h0.6v0.6h-0.6zM171.6 353.7h0.6v0.6h-0.6zM138.3 352.2h0.6v0.6h-0.6zM172.7 344.1h0.6v0.6h-0.6zM145.1 357.0h0.6v0.6h-0.6zM155.6 338.6h0.6v0.6h-0.6zM174.3 347.4h0.6v0.6h-0.6zM173.8 353.1h0.6v0.6h-0.6zM167.4 340.4h0.6v0.6h-0.6zM174.6 346.9h0.6v0.6h-0.6zM143.5 343.7h0.6v0.6h-0.6zM140.9 350.1h0.6v0.6h-0.6zM167.7 356.6h0.6v0.6h-0.6zM153.5 356.9h0.6v0.6h-0.6zM145.4 341.8h0.6v0.6h-0.6zM173.6 348.7h0.6v0.6h-0.6zM173.2 351.6h0.6v0.6h-0.6zM169.1 340.8h0.6v0.6h-0.6zM175.3 349.1h0.6v0.6h-0.6zM155.6 341.8h0.6v0.6h-0.6zM144.2 341.9h0.6v0.6h-0.6zM155.3 357.0h0.6v0.6h-0.6zM138.3 349.4h0.6v0.6h-0.6zM140.5 353.4h0.6v0.6h-0.6zM173.9 344.6h0.6v0.6h-0.6zM141.1 346.7h0.6v0.6h-0.6zM163.2 338.1h0.6v0.6h-0.6zM173.4 345.8h0.6v0.6h-0.6zM154.0 341.4h0.6v0.6h-0.6zM172.1 354.4h0.6v0.6h-0.6zM143.3 355.0h0.6v0.6h-0.6zM174.1 349.8h0.6v0.6h-0.6zM151.0 340.5h0.6v0.6h-0.6zM139.7 345.3h0.6v0.6h-0.6zM173.9 352.3h0.6v0.6h-0.6zM172.2 352.6h0.6v0.6h-0.6zM143.6 355.3h0.6v0.6h-0.6zM173.9 351.1h0.6v0.6h-0.6zM174.0 343.4h0.6v0.6h-0.6zM142.8 344.6h0.6v0.6h-0.6zM149.7 341.0h0.6v0.6h-0.6zM141.8 355.2h0.6v0.6h-0.6zM174.4 347.4h0.6v0.6h-0.6zM162.0 358.7h0.6v0.6h-0.6zM174.8 346.4h0.6v0.6h-0.6zM168.2 355.1h0.6v0.6h-0.6zM143.8 342.3h0.6v0.6h-0.6zM150.2 356.8h0.6v0.6h-0.6zM173.4 343.7h0.6v0.6h-0.6zM142.3 354.7h0.6v0.6h-0.6zM147.5 341.2h0.6v0.6h-0.6zM150.1 357.5h0.6v0.6h-0.6zM140.4 351.7h0.6v0.6h-0.6zM149.4 357.0h0.6v0.6h-0.6zM140.6 347.9h0.6v0.6h-0.6zM144.8 342.8h0.6v0.6h-0.6zM160.5 340.5h0.6v0.6h-0.6zM172.6 356.1h0.6v0.6h-0.6zM173.5 349.6h0.6v0.6h-0.6zM143.9 341.3h0.6v0.6h-0.6zM143.2 358.6h0.6v0.6h-0.6zM141.8 355.2h0.6v0.6h-0.6zM171.3 339.5h0.6v0.6h-0.6zM144.5 342.3h0.6v0.6h-0.6zM146.3 340.9h0.6v0.6h-0.6zM146.4 356.1h0.6v0.6h-0.6zM155.6 340.4h0.6v0.6h-0.6zM173.7 347.0h0.6v0.6h-0.6zM152.6 356.9h0.6v0.6h-0.6zM151.8 357.4h0.6v0.6h-0.6zM142.6 342.9h0.6v0.6h-0.6zM174.5 346.9h0.6v0.6h-0.6zM144.2 341.9h0.6v0.6h-0.6zM157.1 356.9h0.6v0.6h-0.6zM146.6 342.2h0.6v0.6h-0.6zM151.7 339.8h0.6v0.6h-0.6zM174.0 341.7h0.6v0.6h-0.6zM141.3 353.6h0.6v0.6h-0.6zM172.2 354.5h0.6v0.6h-0.6zM169.1 355.2h0.6v0.6h-0.6zM174.0 353.8h0.6v0.6h-0.6zM140.8 350.6h0.6v0.6h-0.6zM151.0 356.7h0.6v0.6h-0.6zM171.3 339.5h0.6v0.6h-0.6zM174.1 348.4h0.6v0.6h-0.6zM173.4 349.6h0.6v0.6h-0.6zM145.3 356.3h0.6v0.6h-0.6zM173.0 341.5h0.6v0.6h-0.6zM144.7 356.5h0.6v0.6h-0.6zM141.5 346.8h0.6v0.6h-0.6zM150.9 357.8h0.6v0.6h-0.6zM148.5 340.8h0.6v0.6h-0.6zM144.5 355.7h0.6v0.6h-0.6zM143.8 357.2h0.6v0.6h-0.6zM158.9 356.9h0.6v0.6h-0.6zM153.5 357.9h0.6v0.6h-0.6zM147.1 342.2h0.6v0.6h-0.6zM144.1 356.5h0.6v0.6h-0.6zM146.9 356.4h0.6v0.6h-0.6zM148.0 341.1h0.6v0.6h-0.6zM167.6 356.0h0.6v0.6h-0.6zM150.2 357.0h0.6v0.6h-0.6zM166.4 355.1h0.6v0.6h-0.6zM158.1 357.3h0.6v0.6h-0.6zM173.5 344.2h0.6v0.6h-0.6zM171.3 341.5h0.6v0.6h-0.6zM146.7 357.7h0.6v0.6h-0.6zM173.2 343.8h0.6v0.6h-0.6zM155.4 359.7h0.6v0.6h-0.6zM168.5 356.0h0.6v0.6h-0.6zM161.7 356.7h0.6v0.6h-0.6zM151.8 357.0h0.6v0.6h-0.6zM162.4 341.1h0.6v0.6h-0.6zM170.0 354.0h0.6v0.6h-0.6zM140.1 350.7h0.6v0.6h-0.6zM167.4 355.1h0.6v0.6h-0.6zM140.2 352.9h0.6v0.6h-0.6zM139.1 353.4h0.6v0.6h-0.6zM141.4 353.5h0.6v0.6h-0.6zM149.3 358.7h0.6v0.6h-0.6zM159.6 341.6h0.6v0.6h-0.6zM143.6 355.3h0.6v0.6h-0.6zM145.8 358.9h0.6v0.6h-0.6zM164.8 356.7h0.6v0.6h-0.6zM147.5 356.3h0.6v0.6h-0.6zM172.5 352.4h0.6v0.6h-0.6zM165.5 340.6h0.6v0.6h-0.6zM158.2 358.5h0.6v0.6h-0.6zM173.9 350.7h0.6v0.6h-0.6zM139.7 350.1h0.6v0.6h-0.6zM140.9 345.9h0.6v0.6h-0.6zM152.6 356.9h0.6v0.6h-0.6zM160.5 341.5h0.6v0.6h-0.6zM175.4 347.5h0.6v0.6h-0.6zM171.9 342.7h0.6v0.6h-0.6zM148.0 341.6h0.6v0.6h-0.6zM142.0 346.4h0.6v0.6h-0.6zM140.8 353.3h0.6v0.6h-0.6zM144.8 342.9h0.6v0.6h-0.6zM172.6 351.7h0.6v0.6h-0.6zM169.6 354.6h0.6v0.6h-0.6zM171.4 355.5h0.6v0.6h-0.6zM168.4 355.6h0.6v0.6h-0.6zM140.8 356.1h0.6v0.6h-0.6zM173.0 355.5h0.6v0.6h-0.6zM173.1 351.2h0.6v0.6h-0.6zM140.2 351.2h0.6v0.6h-0.6zM173.1 344.9h0.6v0.6h-0.6zM171.9 355.1h0.6v0.6h-0.6zM167.9 357.4h0.6v0.6h-0.6zM146.3 356.7h0.6v0.6h-0.6zM168.3 341.0h0.6v0.6h-0.6zM165.4 339.8h0.6v0.6h-0.6zM165.6 355.5h0.6v0.6h-0.6zM172.8 344.0h0.6v0.6h-0.6zM174.1 344.6h0.6v0.6h-0.6zM141.9 354.4h0.6v0.6h-0.6zM143.6 343.0h0.6v0.6h-0.6zM145.6 342.4h0.6v0.6h-0.6zM140.3 345.6h0.6v0.6h-0.6zM149.7 341.2h0.6v0.6h-0.6zM140.3 353.5h0.6v0.6h-0.6zM157.1 356.9h0.6v0.6h-0.6zM141.6 346.9h0.6v0.6h-0.6zM167.4 341.1h0.6v0.6h-0.6zM161.5 341.7h0.6v0.6h-0.6zM171.5 355.6h0.6v0.6h-0.6zM173.6 344.2h0.6v0.6h-0.6zM141.1 346.7h0.6v0.6h-0.6zM174.6 347.5h0.6v0.6h-0.6zM172.4 351.6h0.6v0.6h-0.6zM161.7 356.1h0.6v0.6h-0.6zM172.0 353.5h0.6v0.6h-0.6zM166.4 341.1h0.6v0.6h-0.6zM152.5 341.6h0.6v0.6h-0.6zM140.6 350.1h0.6v0.6h-0.6zM170.0 340.7h0.6v0.6h-0.6zM145.3 358.4h0.6v0.6h-0.6zM141.1 351.5h0.6v0.6h-0.6zM163.0 358.1h0.6v0.6h-0.6zM141.0 351.1h0.6v0.6h-0.6zM174.4 344.5h0.6v0.6h-0.6zM173.6 351.5h0.6v0.6h-0.6zM142.5 345.2h0.6v0.6h-0.6zM142.7 343.8h0.6v0.6h-0.6zM169.9 341.0h0.6v0.6h-0.6zM160.9 357.6h0.6v0.6h-0.6zM142.8 356.7h0.6v0.6h-0.6zM159.7 356.1h0.6v0.6h-0.6zM154.4 357.9h0.6v0.6h-0.6zM138.8 352.1h0.6v0.6h-0.6zM170.6 341.1h0.6v0.6h-0.6zM146.9 341.0h0.6v0.6h-0.6zM169.1 355.4h0.6v0.6h-0.6zM148.0 357.4h0.6v0.6h-0.6zM172.5 351.6h0.6v0.6h-0.6zM163.7 356.0h0.6v0.6h-0.6zM152.5 341.9h0.6v0.6h-0.6zM139.9 347.6h0.6v0.6h-0.6zM152.5 340.2h0.6v0.6h-0.6zM144.6 358.6h0.6v0.6h-0.6zM146.8 357.3h0.6v0.6h-0.6zM144.5 342.3h0.6v0.6h-0.6zM143.5 355.5h0.6v0.6h-0.6zM174.1 347.0h0.6v0.6h-0.6zM145.2 356.6h0.6v0.6h-0.6zM168.8 357.4h0.6v0.6h-0.6zM141.4 347.5h0.6v0.6h-0.6zM141.1 348.0h0.6v0.6h-0.6zM174.0 342.6h0.6v0.6h-0.6zM146.6 342.3h0.6v0.6h-0.6zM167.4 340.3h0.6v0.6h-0.6zM150.3 341.1h0.6v0.6h-0.6zM169.7 341.6h0.6v0.6h-0.6zM173.1 345.0h0.6v0.6h-0.6zM142.3 345.1h0.6v0.6h-0.6zM158.0 341.5h0.6v0.6h-0.6zM163.4 339.9h0.6v0.6h-0.6zM141.1 355.9h0.6v0.6h-0.6zM176.4 349.4h0.6v0.6h-0.6zM169.0 341.3h0.6v0.6h-0.6zM140.6 349.1h0.6v0.6h-0.6zM143.1 343.4h0.6v0.6h-0.6zM174.5 347.9h0.6v0.6h-0.6zM156.2 356.6h0.6v0.6h-0.6zM140.8 352.7h0.6v0.6h-0.6zM142.9 344.7h0.6v0.6h-0.6zM172.0 341.7h0.6v0.6h-0.6zM148.0 341.4h0.6v0.6h-0.6zM173.8 346.1h0.6v0.6h-0.6zM158.0 356.9h0.6v0.6h-0.6zM154.0 339.5h0.6v0.6h-0.6zM157.2 357.4h0.6v0.6h-0.6zM140.7 349.1h0.6v0.6h-0.6zM144.7 341.4h0.6v0.6h-0.6zM154.8 341.0h0.6v0.6h-0.6zM173.9 347.9h0.6v0.6h-0.6zM159.7 356.2h0.6v0.6h-0.6zM170.3 356.4h0.6v0.6h-0.6zM168.4 339.5h0.6v0.6h-0.6zM172.8 341.8h0.6v0.6h-0.6zM173.6 346.6h0.6v0.6h-0.6zM145.2 356.6h0.6v0.6h-0.6zM146.8 340.3h0.6v0.6h-0.6zM141.9 344.8h0.6v0.6h-0.6zM173.9 344.6h0.6v0.6h-0.6zM146.7 357.7h0.6v0.6h-0.6zM161.8 357.3h0.6v0.6h-0.6zM144.3 343.0h0.6v0.6h-0.6zM173.3 350.4h0.6v0.6h-0.6zM163.3 339.6h0.6v0.6h-0.6zM175.4 346.3h0.6v0.6h-0.6zM158.1 357.5h0.6v0.6h-0.6zM158.0 340.4h0.6v0.6h-0.6zM167.8 357.1h0.6v0.6h-0.6zM141.5 343.8h0.6v0.6h-0.6zM152.5 341.8h0.6v0.6h-0.6zM144.7 356.5h0.6v0.6h-0.6zM152.5 341.4h0.6v0.6h-0.6zM165.5 341.3h0.6v0.6h-0.6zM146.4 341.6h0.6v0.6h-0.6zM159.0 357.6h0.6v0.6h-0.6zM151.8 357.5h0.6v0.6h-0.6zM139.7 350.7h0.6v0.6h-0.6zM149.7 340.9h0.6v0.6h-0.6zM142.6 343.7h0.6v0.6h-0.6zM142.0 345.6h0.6v0.6h-0.6zM140.2 348.4h0.6v0.6h-0.6zM148.6 357.7h0.6v0.6h-0.6zM155.3 357.6h0.6v0.6h-0.6zM175.1 352.8h0.6v0.6h-0.6zM156.4 341.2h0.6v0.6h-0.6zM163.4 340.2h0.6v0.6h-0.6zM159.9 357.5h0.6v0.6h-0.6zM151.8 341.6h0.6v0.6h-0.6zM172.8 351.1h0.6v0.6h-0.6zM172.6 352.4h0.6v0.6h-0.6zM150.3 339.9h0.6v0.6h-0.6zM169.3 339.8h0.6v0.6h-0.6zM167.7 356.6h0.6v0.6h-0.6zM176.4 348.1h0.6v0.6h-0.6zM150.1 358.9h0.6v0.6h-0.6zM162.9 357.3h0.6v0.6h-0.6zM173.8 351.1h0.6v0.6h-0.6zM174.3 345.5h0.6v0.6h-0.6zM158.8 340.4h0.6v0.6h-0.6zM174.8 349.0h0.6v0.6h-0.6zM156.4 341.0h0.6v0.6h-0.6zM144.6 341.3h0.6v0.6h-0.6zM172.6 342.8h0.6v0.6h-0.6zM171.0 354.8h0.6v0.6h-0.6zM173.6 349.6h0.6v0.6h-0.6zM145.1 357.1h0.6v0.6h-0.6zM140.4 344.8h0.6v0.6h-0.6zM174.0 349.3h0.6v0.6h-0.6zM170.1 340.3h0.6v0.6h-0.6zM173.9 349.3h0.6v0.6h-0.6zM168.5 356.1h0.6v0.6h-0.6zM139.6 349.5h0.6v0.6h-0.6zM169.9 355.4h0.6v0.6h-0.6zM174.4 350.9h0.6v0.6h-0.6zM141.8 346.3h0.6v0.6h-0.6zM144.8 340.1h0.6v0.6h-0.6zM141.2 354.3h0.6v0.6h-0.6zM167.4 341.0h0.6v0.6h-0.6zM149.3 359.0h0.6v0.6h-0.6zM173.8 349.7h0.6v0.6h-0.6zM171.9 354.2h0.6v0.6h-0.6zM142.8 356.6h0.6v0.6h-0.6zM171.6 342.2h0.6v0.6h-0.6zM155.6 341.4h0.6v0.6h-0.6zM142.5 344.5h0.6v0.6h-0.6zM149.4 357.2h0.6v0.6h-0.6zM170.5 341.5h0.6v0.6h-0.6zM163.7 356.0h0.6v0.6h-0.6zM150.4 341.9h0.6v0.6h-0.6zM141.9 344.1h0.6v0.6h-0.6zM175.1 348.5h0.6v0.6h-0.6zM176.0 348.7h0.6v0.6h-0.6zM159.8 356.8h0.6v0.6h-0.6zM152.5 340.1h0.6v0.6h-0.6zM142.2 354.8h0.6v0.6h-0.6zM174.5 344.9h0.6v0.6h-0.6zM145.4 341.6h0.6v0.6h-0.6zM163.5 341.0h0.6v0.6h-0.6zM166.5 355.1h0.6v0.6h-0.6zM154.0 340.6h0.6v0.6h-0.6zM159.9 357.4h0.6v0.6h-0.6zM147.9 357.9h0.6v0.6h-0.6zM144.1 342.7h0.6v0.6h-0.6zM170.2 354.4h0.6v0.6h-0.6zM148.6 358.6h0.6v0.6h-0.6zM143.2 355.1h0.6v0.6h-0.6zM174.7 349.5h0.6v0.6h-0.6zM141.1 354.3h0.6v0.6h-0.6zM140.2 350.7h0.6v0.6h-0.6zM173.9 349.7h0.6v0.6h-0.6zM161.7 356.1h0.6v0.6h-0.6zM149.6 339.7h0.6v0.6h-0.6zM172.5 351.6h0.6v0.6h-0.6zM146.3 340.9h0.6v0.6h-0.6zM173.2 350.8h0.6v0.6h-0.6zM155.4 358.4h0.6v0.6h-0.6zM154.4 357.0h0.6v0.6h-0.6zM142.2 354.2h0.6v0.6h-0.6zM154.0 341.5h0.6v0.6h-0.6zM143.3 343.5h0.6v0.6h-0.6zM160.4 340.4h0.6v0.6h-0.6zM145.7 356.7h0.6v0.6h-0.6zM174.3 345.0h0.6v0.6h-0.6zM159.6 341.0h0.6v0.6h-0.6zM160.7 356.3h0.6v0.6h-0.6zM157.1 357.0h0.6v0.6h-0.6zM140.7 348.5h0.6v0.6h-0.6zM140.0 349.6h0.6v0.6h-0.6zM156.4 341.0h0.6v0.6h-0.6zM163.4 339.9h0.6v0.6h-0.6zM145.0 340.6h0.6v0.6h-0.6zM161.5 341.5h0.6v0.6h-0.6zM143.6 342.1h0.6v0.6h-0.6zM173.6 351.4h0.6v0.6h-0.6zM158.8 341.5h0.6v0.6h-0.6zM148.8 356.5h0.6v0.6h-0.6zM142.5 344.4h0.6v0.6h-0.6zM169.6 357.0h0.6v0.6h-0.6zM172.1 342.5h0.6v0.6h-0.6zM143.2 343.4h0.6v0.6h-0.6zM141.1 352.6h0.6v0.6h-0.6zM172.3 352.7h0.6v0.6h-0.6zM146.4 341.1h0.6v0.6h-0.6zM149.3 359.3h0.6v0.6h-0.6zM168.3 340.0h0.6v0.6h-0.6zM171.0 354.8h0.6v0.6h-0.6zM142.9 344.0h0.6v0.6h-0.6zM141.0 351.1h0.6v0.6h-0.6zM138.6 350.1h0.6v0.6h-0.6zM172.7 351.0h0.6v0.6h-0.6zM171.8 354.9h0.6v0.6h-0.6zM165.5 340.7h0.6v0.6h-0.6zM174.2 347.0h0.6v0.6h-0.6zM168.4 355.8h0.6v0.6h-0.6zM175.2 344.1h0.6v0.6h-0.6zM143.0 356.3h0.6v0.6h-0.6zM173.9 345.6h0.6v0.6h-0.6zM165.5 341.5h0.6v0.6h-0.6zM140.7 353.9h0.6v0.6h-0.6zM161.6 356.0h0.6v0.6h-0.6zM173.5 344.8h0.6v0.6h-0.6zM175.1 347.5h0.6v0.6h-0.6zM147.3 357.7h0.6v0.6h-0.6zM151.8 356.9h0.6v0.6h-0.6zM150.9 360.1h0.6v0.6h-0.6zM161.7 356.5h0.6v0.6h-0.6zM143.0 355.4h0.6v0.6h-0.6zM164.7 356.3h0.6v0.6h-0.6zM161.5 341.5h0.6v0.6h-0.6zM173.8 351.9h0.6v0.6h-0.6zM174.9 348.0h0.6v0.6h-0.6zM157.1 356.6h0.6v0.6h-0.6zM166.4 340.9h0.6v0.6h-0.6zM173.2 353.3h0.6v0.6h-0.6zM158.8 341.0h0.6v0.6h-0.6zM147.9 340.0h0.6v0.6h-0.6zM141.3 353.0h0.6v0.6h-0.6zM173.4 344.8h0.6v0.6h-0.6zM142.5 354.5h0.6v0.6h-0.6zM171.9 341.8h0.6v0.6h-0.6zM175.4 351.9h0.6v0.6h-0.6zM171.8 352.7h0.6v0.6h-0.6zM170.1 354.2h0.6v0.6h-0.6zM141.1 352.0h0.6v0.6h-0.6zM147.0 341.7h0.6v0.6h-0.6zM148.0 341.7h0.6v0.6h-0.6zM139.8 347.6h0.6v0.6h-0.6zM175.2 346.3h0.6v0.6h-0.6zM171.1 353.9h0.6v0.6h-0.6zM171.6 354.6h0.6v0.6h-0.6zM164.6 355.7h0.6v0.6h-0.6zM174.7 349.0h0.6v0.6h-0.6zM154.8 341.7h0.6v0.6h-0.6zM155.6 341.0h0.6v0.6h-0.6zM167.4 339.9h0.6v0.6h-0.6zM149.7 341.2h0.6v0.6h-0.6zM162.5 341.7h0.6v0.6h-0.6zM173.6 353.0h0.6v0.6h-0.6zM172.3 351.9h0.6v0.6h-0.6zM147.6 342.1h0.6v0.6h-0.6zM141.4 355.6h0.6v0.6h-0.6zM156.4 341.7h0.6v0.6h-0.6zM162.3 339.9h0.6v0.6h-0.6zM150.9 357.3h0.6v0.6h-0.6zM145.4 357.9h0.6v0.6h-0.6zM149.1 341.2h0.6v0.6h-0.6zM163.3 339.7h0.6v0.6h-0.6zM171.9 353.4h0.6v0.6h-0.6zM165.5 341.1h0.6v0.6h-0.6zM173.9 351.2h0.6v0.6h-0.6zM151.0 340.6h0.6v0.6h-0.6zM168.8 354.4h0.6v0.6h-0.6zM158.8 356.3h0.6v0.6h-0.6zM149.1 341.3h0.6v0.6h-0.6zM165.6 355.7h0.6v0.6h-0.6zM174.4 349.9h0.6v0.6h-0.6zM168.3 340.0h0.6v0.6h-0.6zM150.9 357.4h0.6v0.6h-0.6zM147.9 358.0h0.6v0.6h-0.6zM143.5 355.5h0.6v0.6h-0.6zM143.3 355.0h0.6v0.6h-0.6zM151.7 340.2h0.6v0.6h-0.6zM141.2 353.1h0.6v0.6h-0.6zM140.2 349.6h0.6v0.6h-0.6zM158.0 356.5h0.6v0.6h-0.6zM162.3 339.9h0.6v0.6h-0.6zM146.4 356.4h0.6v0.6h-0.6zM167.4 340.7h0.6v0.6h-0.6zM139.2 353.3h0.6v0.6h-0.6zM172.7 342.8h0.6v0.6h-0.6zM148.0 357.3h0.6v0.6h-0.6zM173.8 345.7h0.6v0.6h-0.6zM140.9 349.1h0.6v0.6h-0.6zM141.6 355.4h0.6v0.6h-0.6zM149.0 339.7h0.6v0.6h-0.6zM174.1 346.5h0.6v0.6h-0.6zM166.0 357.6h0.6v0.6h-0.6zM146.9 356.5h0.6v0.6h-0.6zM160.7 356.1h0.6v0.6h-0.6zM143.3 358.5h0.6v0.6h-0.6zM170.0 354.1h0.6v0.6h-0.6zM159.6 341.1h0.6v0.6h-0.6zM163.8 356.8h0.6v0.6h-0.6zM140.4 344.0h0.6v0.6h-0.6zM173.9 344.7h0.6v0.6h-0.6zM165.7 356.3h0.6v0.6h-0.6zM160.7 356.2h0.6v0.6h-0.6zM153.2 341.7h0.6v0.6h-0.6zM158.0 356.9h0.6v0.6h-0.6zM168.2 354.9h0.6v0.6h-0.6zM140.9 347.9h0.6v0.6h-0.6zM145.9 356.1h0.6v0.6h-0.6zM148.0 341.2h0.6v0.6h-0.6zM171.6 342.2h0.6v0.6h-0.6zM149.1 341.0h0.6v0.6h-0.6zM173.1 353.2h0.6v0.6h-0.6zM148.6 341.7h0.6v0.6h-0.6zM141.2 356.7h0.6v0.6h-0.6zM145.0 340.7h0.6v0.6h-0.6zM174.4 353.4h0.6v0.6h-0.6zM149.6 340.1h0.6v0.6h-0.6zM165.5 340.8h0.6v0.6h-0.6zM173.9 344.6h0.6v0.6h-0.6zM154.8 339.2h0.6v0.6h-0.6zM147.0 341.6h0.6v0.6h-0.6zM171.3 354.2h0.6v0.6h-0.6zM138.4 350.8h0.6v0.6h-0.6zM141.8 344.8h0.6v0.6h-0.6zM172.7 351.7h0.6v0.6h-0.6zM149.4 356.9h0.6v0.6h-0.6zM150.2 356.8h0.6v0.6h-0.6zM146.4 341.2h0.6v0.6h-0.6zM167.4 355.5h0.6v0.6h-0.6zM146.4 356.1h0.6v0.6h-0.6zM144.2 342.8h0.6v0.6h-0.6zM172.8 353.6h0.6v0.6h-0.6zM153.5 357.4h0.6v0.6h-0.6zM173.3 352.0h0.6v0.6h-0.6zM142.9 343.2h0.6v0.6h-0.6zM169.4 356.3h0.6v0.6h-0.6zM149.1 340.9h0.6v0.6h-0.6zM173.2 350.0h0.6v0.6h-0.6zM172.2 352.2h0.6v0.6h-0.6zM162.5 341.5h0.6v0.6h-0.6zM142.0 353.7h0.6v0.6h-0.6zM141.8 346.9h0.6v0.6h-0.6zM140.9 349.1h0.6v0.6h-0.6zM145.7 356.7h0.6v0.6h-0.6zM149.4 356.6h0.6v0.6h-0.6zM150.3 339.9h0.6v0.6h-0.6zM140.2 352.9h0.6v0.6h-0.6zM149.7 340.8h0.6v0.6h-0.6zM139.5 351.9h0.6v0.6h-0.6zM156.2 357.1h0.6v0.6h-0.6zM158.7 339.6h0.6v0.6h-0.6zM173.5 352.9h0.6v0.6h-0.6zM144.2 342.9h0.6v0.6h-0.6zM143.7 343.1h0.6v0.6h-0.6zM140.8 349.1h0.6v0.6h-0.6zM164.5 340.8h0.6v0.6h-0.6zM141.1 353.1h0.6v0.6h-0.6zM152.5 341.8h0.6v0.6h-0.6zM147.4 357.4h0.6v0.6h-0.6zM139.9 348.9h0.6v0.6h-0.6zM159.1 358.6h0.6v0.6h-0.6zM174.2 350.8h0.6v0.6h-0.6zM143.6 355.4h0.6v0.6h-0.6zM144.6 341.2h0.6v0.6h-0.6zM146.9 341.2h0.6v0.6h-0.6zM141.9 344.8h0.6v0.6h-0.6zM165.5 341.2h0.6v0.6h-0.6zM151.0 340.8h0.6v0.6h-0.6zM143.4 355.6h0.6v0.6h-0.6zM154.8 341.7h0.6v0.6h-0.6zM140.6 351.7h0.6v0.6h-0.6zM152.5 341.4h0.6v0.6h-0.6zM139.9 350.1h0.6v0.6h-0.6zM142.2 354.8h0.6v0.6h-0.6zM171.6 353.1h0.6v0.6h-0.6zM139.2 346.7h0.6v0.6h-0.6zM174.3 345.0h0.6v0.6h-0.6zM174.6 346.9h0.6v0.6h-0.6zM139.9 355.2h0.6v0.6h-0.6zM165.6 355.8h0.6v0.6h-0.6zM140.8 347.2h0.6v0.6h-0.6zM156.4 341.2h0.6v0.6h-0.6zM142.9 344.0h0.6v0.6h-0.6zM174.0 346.0h0.6v0.6h-0.6zM147.5 341.8h0.6v0.6h-0.6zM174.7 349.5h0.6v0.6h-0.6zM173.2 350.8h0.6v0.6h-0.6zM142.5 355.2h0.6v0.6h-0.6zM140.2 350.7h0.6v0.6h-0.6zM174.7 350.5h0.6v0.6h-0.6zM170.2 354.4h0.6v0.6h-0.6zM157.2 339.9h0.6v0.6h-0.6zM174.7 342.2h0.6v0.6h-0.6zM166.4 341.0h0.6v0.6h-0.6zM140.3 343.0h0.6v0.6h-0.6zM151.8 357.9h0.6v0.6h-0.6zM146.8 340.3h0.6v0.6h-0.6zM145.1 342.3h0.6v0.6h-0.6zM141.8 353.3h0.6v0.6h-0.6zM142.0 341.2h0.6v0.6h-0.6zM144.7 358.2h0.6v0.6h-0.6zM171.9 341.7h0.6v0.6h-0.6zM160.9 357.7h0.6v0.6h-0.6zM145.1 342.4h0.6v0.6h-0.6zM158.9 356.6h0.6v0.6h-0.6zM152.6 357.4h0.6v0.6h-0.6zM144.9 355.9h0.6v0.6h-0.6zM145.7 356.6h0.6v0.6h-0.6zM151.7 340.4h0.6v0.6h-0.6zM162.4 340.5h0.6v0.6h-0.6zM173.7 347.0h0.6v0.6h-0.6zM175.3 344.7h0.6v0.6h-0.6zM157.2 339.4h0.6v0.6h-0.6zM140.9 346.6h0.6v0.6h-0.6zM166.4 339.7h0.6v0.6h-0.6zM172.4 353.3h0.6v0.6h-0.6zM168.3 355.4h0.6v0.6h-0.6zM146.2 340.1h0.6v0.6h-0.6zM142.6 340.6h0.6v0.6h-0.6zM142.3 356.4h0.6v0.6h-0.6zM143.0 356.4h0.6v0.6h-0.6zM144.0 355.6h0.6v0.6h-0.6zM165.4 339.8h0.6v0.6h-0.6zM161.6 355.9h0.6v0.6h-0.6zM170.5 353.8h0.6v0.6h-0.6zM140.1 353.6h0.6v0.6h-0.6zM142.5 345.2h0.6v0.6h-0.6zM174.2 341.6h0.6v0.6h-0.6zM154.4 357.2h0.6v0.6h-0.6zM138.6 348.0h0.6v0.6h-0.6zM144.9 341.8h0.6v0.6h-0.6zM154.4 356.7h0.6v0.6h-0.6zM149.7 341.6h0.6v0.6h-0.6zM171.8 352.8h0.6v0.6h-0.6zM149.0 339.9h0.6v0.6h-0.6zM139.0 350.8h0.6v0.6h-0.6zM168.4 355.6h0.6v0.6h-0.6zM171.3 341.3h0.6v0.6h-0.6zM170.2 354.4h0.6v0.6h-0.6zM140.2 347.7h0.6v0.6h-0.6zM172.6 351.7h0.6v0.6h-0.6zM168.5 356.1h0.6v0.6h-0.6zM173.4 349.6h0.6v0.6h-0.6zM163.8 356.6h0.6v0.6h-0.6zM173.1 351.2h0.6v0.6h-0.6zM157.2 340.6h0.6v0.6h-0.6zM144.0 341.6h0.6v0.6h-0.6zM166.7 356.4h0.6v0.6h-0.6zM162.4 340.2h0.6v0.6h-0.6zM151.7 340.7h0.6v0.6h-0.6zM157.2 340.8h0.6v0.6h-0.6zM157.2 357.9h0.6v0.6h-0.6zM173.6 349.6h0.6v0.6h-0.6zM144.7 341.6h0.6v0.6h-0.6zM146.1 342.3h0.6v0.6h-0.6zM141.8 346.9h0.6v0.6h-0.6zM172.7 352.9h0.6v0.6h-0.6zM144.2 356.3h0.6v0.6h-0.6zM172.7 342.8h0.6v0.6h-0.6zM174.6 348.0h0.6v0.6h-0.6zM147.0 341.6h0.6v0.6h-0.6zM140.0 355.1h0.6v0.6h-0.6zM155.6 340.1h0.6v0.6h-0.6zM173.4 344.9h0.6v0.6h-0.6zM139.6 349.5h0.6v0.6h-0.6zM156.4 339.5h0.6v0.6h-0.6zM140.4 352.3h0.6v0.6h-0.6zM145.0 357.2h0.6v0.6h-0.6zM173.3 349.5h0.6v0.6h-0.6zM143.3 344.3h0.6v0.6h-0.6zM143.3 355.0h0.6v0.6h-0.6zM153.2 341.5h0.6v0.6h-0.6zM150.1 357.2h0.6v0.6h-0.6zM169.6 354.6h0.6v0.6h-0.6zM155.6 339.5h0.6v0.6h-0.6zM150.9 359.0h0.6v0.6h-0.6zM172.7 351.4h0.6v0.6h-0.6zM173.4 352.4h0.6v0.6h-0.6zM161.9 357.6h0.6v0.6h-0.6zM171.8 342.9h0.6v0.6h-0.6zM149.2 342.0h0.6v0.6h-0.6zM141.3 353.6h0.6v0.6h-0.6zM143.8 343.3h0.6v0.6h-0.6zM169.5 356.6h0.6v0.6h-0.6zM174.3 352.9h0.6v0.6h-0.6zM173.2 349.9h0.6v0.6h-0.6zM159.6 341.1h0.6v0.6h-0.6zM141.5 345.4h0.6v0.6h-0.6zM150.9 358.0h0.6v0.6h-0.6zM161.0 358.5h0.6v0.6h-0.6zM172.3 353.2h0.6v0.6h-0.6zM169.9 341.1h0.6v0.6h-0.6zM142.2 345.8h0.6v0.6h-0.6zM163.9 357.6h0.6v0.6h-0.6zM142.9 342.2h0.6v0.6h-0.6zM173.9 347.0h0.6v0.6h-0.6zM171.9 341.8h0.6v0.6h-0.6zM174.1 347.0h0.6v0.6h-0.6zM139.9 352.4h0.6v0.6h-0.6zM151.7 340.5h0.6v0.6h-0.6zM144.0 342.6h0.6v0.6h-0.6zM160.7 356.5h0.6v0.6h-0.6zM165.5 340.8h0.6v0.6h-0.6zM172.3 351.9h0.6v0.6h-0.6zM164.6 355.5h0.6v0.6h-0.6zM148.1 341.9h0.6v0.6h-0.6zM147.5 356.6h0.6v0.6h-0.6zM175.0 346.3h0.6v0.6h-0.6zM149.7 340.7h0.6v0.6h-0.6zM163.7 356.0h0.6v0.6h-0.6zM145.9 356.1h0.6v0.6h-0.6zM150.4 341.6h0.6v0.6h-0.6zM154.8 341.0h0.6v0.6h-0.6zM175.8 346.8h0.6v0.6h-0.6zM174.5 349.4h0.6v0.6h-0.6zM139.9 349.5h0.6v0.6h-0.6zM173.9 346.5h0.6v0.6h-0.6zM144.9 357.7h0.6v0.6h-0.6zM173.7 344.7h0.6v0.6h-0.6zM171.8 340.6h0.6v0.6h-0.6zM174.7 344.3h0.6v0.6h-0.6zM148.5 340.9h0.6v0.6h-0.6zM144.0 343.4h0.6v0.6h-0.6zM154.0 340.2h0.6v0.6h-0.6zM143.4 355.6h0.6v0.6h-0.6zM156.2 357.4h0.6v0.6h-0.6zM145.6 342.5h0.6v0.6h-0.6zM144.7 356.5h0.6v0.6h-0.6zM140.9 349.1h0.6v0.6h-0.6zM174.0 347.0h0.6v0.6h-0.6zM142.4 354.6h0.6v0.6h-0.6zM150.1 357.9h0.6v0.6h-0.6zM158.0 340.8h0.6v0.6h-0.6zM173.7 351.5h0.6v0.6h-0.6zM158.0 340.7h0.6v0.6h-0.6zM173.0 353.1h0.6v0.6h-0.6zM142.0 345.6h0.6v0.6h-0.6zM162.4 340.8h0.6v0.6h-0.6zM139.8 353.8h0.6v0.6h-0.6zM169.2 340.3h0.6v0.6h-0.6zM174.5 343.1h0.6v0.6h-0.6zM171.0 353.7h0.6v0.6h-0.6zM144.0 355.7h0.6v0.6h-0.6zM142.3 354.8h0.6v0.6h-0.6zM173.2 350.4h0.6v0.6h-0.6zM147.5 356.7h0.6v0.6h-0.6zM175.4 353.0h0.6v0.6h-0.6zM171.1 339.9h0.6v0.6h-0.6zM175.0 350.6h0.6v0.6h-0.6zM172.2 352.6h0.6v0.6h-0.6zM140.8 351.1h0.6v0.6h-0.6zM159.6 340.5h0.6v0.6h-0.6zM161.7 356.4h0.6v0.6h-0.6zM142.6 357.0h0.6v0.6h-0.6zM142.3 354.0h0.6v0.6h-0.6zM172.2 343.2h0.6v0.6h-0.6zM143.0 357.6h0.6v0.6h-0.6zM140.7 351.1h0.6v0.6h-0.6zM154.8 341.8h0.6v0.6h-0.6zM151.8 357.4h0.6v0.6h-0.6zM145.1 340.9h0.6v0.6h-0.6zM158.0 341.6h0.6v0.6h-0.6zM148.7 356.8h0.6v0.6h-0.6zM151.7 340.3h0.6v0.6h-0.6zM146.2 340.5h0.6v0.6h-0.6zM145.7 356.7h0.6v0.6h-0.6zM173.2 350.4h0.6v0.6h-0.6zM143.2 342.6h0.6v0.6h-0.6zM149.8 341.8h0.6v0.6h-0.6zM157.2 341.2h0.6v0.6h-0.6zM143.3 343.5h0.6v0.6h-0.6zM173.8 343.5h0.6v0.6h-0.6zM140.6 350.1h0.6v0.6h-0.6zM172.4 342.2h0.6v0.6h-0.6zM151.0 356.7h0.6v0.6h-0.6zM140.5 344.9h0.6v0.6h-0.6zM153.5 357.9h0.6v0.6h-0.6zM161.5 341.1h0.6v0.6h-0.6zM167.5 355.7h0.6v0.6h-0.6zM174.0 347.4h0.6v0.6h-0.6zM173.5 351.0h0.6v0.6h-0.6zM172.4 351.6h0.6v0.6h-0.6zM173.1 343.2h0.6v0.6h-0.6zM166.6 355.8h0.6v0.6h-0.6zM140.8 345.8h0.6v0.6h-0.6zM173.7 348.3h0.6v0.6h-0.6zM153.2 341.6h0.6v0.6h-0.6zM142.6 343.8h0.6v0.6h-0.6zM146.0 342.0h0.6v0.6h-0.6zM150.4 341.2h0.6v0.6h-0.6zM142.3 356.3h0.6v0.6h-0.6zM174.1 350.3h0.6v0.6h-0.6zM138.6 349.4h0.6v0.6h-0.6zM166.4 339.1h0.6v0.6h-0.6zM175.1 345.2h0.6v0.6h-0.6zM171.1 355.0h0.6v0.6h-0.6zM173.6 351.4h0.6v0.6h-0.6zM174.9 347.5h0.6v0.6h-0.6zM164.5 341.5h0.6v0.6h-0.6zM173.5 344.8h0.6v0.6h-0.6zM154.0 341.1h0.6v0.6h-0.6zM146.7 357.7h0.6v0.6h-0.6zM173.8 352.6h0.6v0.6h-0.6zM142.4 344.4h0.6v0.6h-0.6zM174.9 345.8h0.6v0.6h-0.6zM173.3 352.0h0.6v0.6h-0.6zM151.7 340.9h0.6v0.6h-0.6zM173.4 352.4h0.6v0.6h-0.6zM144.5 355.7h0.6v0.6h-0.6zM142.4 355.4h0.6v0.6h-0.6zM147.9 340.1h0.6v0.6h-0.6zM174.2 345.1h0.6v0.6h-0.6zM139.0 348.8h0.6v0.6h-0.6zM170.5 341.5h0.6v0.6h-0.6zM166.4 340.8h0.6v0.6h-0.6zM141.9 354.4h0.6v0.6h-0.6zM141.0 351.1h0.6v0.6h-0.6zM142.9 356.5h0.6v0.6h-0.6zM173.2 350.4h0.6v0.6h-0.6zM150.2 338.9h0.6v0.6h-0.6zM175.0 350.1h0.6v0.6h-0.6zM172.3 343.1h0.6v0.6h-0.6zM147.4 357.5h0.6v0.6h-0.6zM141.3 352.5h0.6v0.6h-0.6zM169.3 339.5h0.6v0.6h-0.6zM164.2 359.0h0.6v0.6h-0.6zM140.5 352.8h0.6v0.6h-0.6zM168.3 355.5h0.6v0.6h-0.6zM148.5 341.2h0.6v0.6h-0.6zM154.0 340.2h0.6v0.6h-0.6zM173.4 345.3h0.6v0.6h-0.6zM146.7 357.7h0.6v0.6h-0.6zM162.6 355.8h0.6v0.6h-0.6zM174.8 350.0h0.6v0.6h-0.6zM143.3 342.7h0.6v0.6h-0.6zM147.9 358.4h0.6v0.6h-0.6zM164.5 341.3h0.6v0.6h-0.6zM155.3 357.7h0.6v0.6h-0.6zM164.5 341.5h0.6v0.6h-0.6zM141.5 346.1h0.6v0.6h-0.6zM168.3 341.0h0.6v0.6h-0.6zM165.5 340.7h0.6v0.6h-0.6zM172.7 351.7h0.6v0.6h-0.6zM148.5 341.3h0.6v0.6h-0.6zM172.0 341.6h0.6v0.6h-0.6zM144.9 357.8h0.6v0.6h-0.6zM163.4 340.6h0.6v0.6h-0.6zM163.7 356.3h0.6v0.6h-0.6zM153.2 341.1h0.6v0.6h-0.6zM143.0 354.6h0.6v0.6h-0.6zM148.8 356.5h0.6v0.6h-0.6zM171.1 355.0h0.6v0.6h-0.6zM176.5 351.2h0.6v0.6h-0.6zM167.9 357.2h0.6v0.6h-0.6zM143.1 343.3h0.6v0.6h-0.6zM174.5 345.9h0.6v0.6h-0.6zM162.5 341.7h0.6v0.6h-0.6zM145.9 356.1h0.6v0.6h-0.6zM148.6 357.8h0.6v0.6h-0.6zM165.7 356.0h0.6v0.6h-0.6zM142.3 354.7h0.6v0.6h-0.6zM167.4 341.2h0.6v0.6h-0.6zM169.9 357.8h0.6v0.6h-0.6zM162.6 355.8h0.6v0.6h-0.6zM146.6 358.2h0.6v0.6h-0.6zM141.0 352.1h0.6v0.6h-0.6zM174.3 349.4h0.6v0.6h-0.6zM158.1 357.2h0.6v0.6h-0.6zM153.5 357.5h0.6v0.6h-0.6zM148.6 357.8h0.6v0.6h-0.6zM146.8 356.9h0.6v0.6h-0.6zM175.3 345.2h0.6v0.6h-0.6zM149.1 341.4h0.6v0.6h-0.6zM163.6 355.8h0.6v0.6h-0.6zM144.4 343.2h0.6v0.6h-0.6zM175.1 351.2h0.6v0.6h-0.6zM141.1 352.6h0.6v0.6h-0.6zM151.1 341.8h0.6v0.6h-0.6zM164.5 341.4h0.6v0.6h-0.6zM170.2 354.3h0.6v0.6h-0.6zM171.2 353.3h0.6v0.6h-0.6zM140.3 356.7h0.6v0.6h-0.6zM173.8 346.6h0.6v0.6h-0.6zM151.7 340.3h0.6v0.6h-0.6zM174.6 346.4h0.6v0.6h-0.6zM142.0 355.0h0.6v0.6h-0.6zM152.5 340.8h0.6v0.6h-0.6zM150.1 357.8h0.6v0.6h-0.6zM171.7 342.0h0.6v0.6h-0.6zM162.3 339.4h0.6v0.6h-0.6zM173.2 350.0h0.6v0.6h-0.6zM173.8 345.7h0.6v0.6h-0.6zM173.9 346.5h0.6v0.6h-0.6zM144.5 342.4h0.6v0.6h-0.6zM151.0 340.5h0.6v0.6h-0.6zM176.1 344.4h0.6v0.6h-0.6zM173.6 349.2h0.6v0.6h-0.6zM140.8 344.2h0.6v0.6h-0.6zM143.1 359.0h0.6v0.6h-0.6zM171.3 341.5h0.6v0.6h-0.6zM148.1 342.1h0.6v0.6h-0.6zM151.1 341.5h0.6v0.6h-0.6zM143.3 343.5h0.6v0.6h-0.6zM142.1 345.7h0.6v0.6h-0.6zM145.2 356.8h0.6v0.6h-0.6zM170.5 355.0h0.6v0.6h-0.6zM174.9 345.3h0.6v0.6h-0.6zM145.9 356.1h0.6v0.6h-0.6zM147.4 357.1h0.6v0.6h-0.6zM176.0 347.5h0.6v0.6h-0.6zM155.6 341.7h0.6v0.6h-0.6zM148.0 341.3h0.6v0.6h-0.6zM173.7 347.9h0.6v0.6h-0.6zM173.8 351.5h0.6v0.6h-0.6zM144.9 355.7h0.6v0.6h-0.6zM173.7 348.8h0.6v0.6h-0.6zM153.5 358.0h0.6v0.6h-0.6zM174.7 349.5h0.6v0.6h-0.6zM170.5 355.2h0.6v0.6h-0.6zM151.8 357.2h0.6v0.6h-0.6zM163.8 357.0h0.6v0.6h-0.6zM155.3 356.7h0.6v0.6h-0.6zM141.2 354.3h0.6v0.6h-0.6zM172.7 352.5h0.6v0.6h-0.6zM173.7 347.9h0.6v0.6h-0.6zM152.6 357.7h0.6v0.6h-0.6zM147.5 356.4h0.6v0.6h-0.6zM148.6 357.6h0.6v0.6h-0.6zM151.1 341.8h0.6v0.6h-0.6zM140.8 353.3h0.6v0.6h-0.6zM172.1 352.2h0.6v0.6h-0.6zM148.0 357.7h0.6v0.6h-0.6zM164.6 355.8h0.6v0.6h-0.6zM161.3 339.3h0.6v0.6h-0.6zM154.4 357.8h0.6v0.6h-0.6zM174.0 344.0h0.6v0.6h-0.6zM157.2 340.2h0.6v0.6h-0.6zM172.0 352.5h0.6v0.6h-0.6zM141.4 352.5h0.6v0.6h-0.6zM165.4 339.4h0.6v0.6h-0.6zM146.0 341.8h0.6v0.6h-0.6zM144.9 355.9h0.6v0.6h-0.6zM175.5 345.1h0.6v0.6h-0.6zM142.0 356.8h0.6v0.6h-0.6zM169.0 341.5h0.6v0.6h-0.6zM169.1 341.2h0.6v0.6h-0.6zM174.5 352.2h0.6v0.6h-0.6zM139.8 353.1h0.6v0.6h-0.6zM142.1 354.3h0.6v0.6h-0.6zM150.9 358.9h0.6v0.6h-0.6zM161.7 356.4h0.6v0.6h-0.6zM172.8 340.6h0.6v0.6h-0.6zM173.9 347.4h0.6v0.6h-0.6zM151.0 341.0h0.6v0.6h-0.6zM160.5 341.5h0.6v0.6h-0.6zM146.8 357.2h0.6v0.6h-0.6zM174.4 346.4h0.6v0.6h-0.6zM166.4 340.8h0.6v0.6h-0.6zM158.0 340.1h0.6v0.6h-0.6zM171.7 354.8h0.6v0.6h-0.6zM146.0 342.1h0.6v0.6h-0.6zM147.8 358.8h0.6v0.6h-0.6zM140.7 346.5h0.6v0.6h-0.6zM151.8 357.9h0.6v0.6h-0.6zM173.1 351.2h0.6v0.6h-0.6zM171.4 353.4h0.6v0.6h-0.6zM174.3 345.5h0.6v0.6h-0.6zM148.1 356.5h0.6v0.6h-0.6zM172.9 350.7h0.6v0.6h-0.6zM141.1 355.8h0.6v0.6h-0.6zM147.0 341.7h0.6v0.6h-0.6zM147.0 342.0h0.6v0.6h-0.6zM140.7 347.2h0.6v0.6h-0.6zM161.3 338.7h0.6v0.6h-0.6zM167.4 339.7h0.6v0.6h-0.6zM135.9 351.9h0.6v0.6h-0.6zM176.6 343.5h0.6v0.6h-0.6zM138.4 353.7h0.6v0.6h-0.6zM158.7 336.6h0.6v0.6h-0.6zM144.8 356.3h0.6v0.6h-0.6zM149.3 358.2h0.6v0.6h-0.6zM138.1 357.5h0.6v0.6h-0.6zM168.4 338.8h0.6v0.6h-0.6zM172.9 351.8h0.6v0.6h-0.6zM160.9 357.8h0.6v0.6h-0.6zM133.7 355.5h0.6v0.6h-0.6zM141.6 357.3h0.6v0.6h-0.6zM175.3 344.7h0.6v0.6h-0.6zM157.2 335.9h0.6v0.6h-0.6zM174.0 349.8h0.6v0.6h-0.6zM140.8 358.5h0.6v0.6h-0.6zM141.2 341.7h0.6v0.6h-0.6zM160.3 337.7h0.6v0.6h-0.6zM175.5 348.0h0.6v0.6h-0.6zM143.1 359.0h0.6v0.6h-0.6zM152.6 357.9h0.6v0.6h-0.6zM160.0 358.4h0.6v0.6h-0.6zM170.9 356.0h0.6v0.6h-0.6zM167.0 362.7h0.6v0.6h-0.6zM175.5 346.9h0.6v0.6h-0.6zM153.6 360.5h0.6v0.6h-0.6zM167.4 339.5h0.6v0.6h-0.6zM173.1 353.2h0.6v0.6h-0.6zM157.3 358.7h0.6v0.6h-0.6zM174.0 353.8h0.6v0.6h-0.6zM162.7 356.4h0.6v0.6h-0.6zM149.0 339.5h0.6v0.6h-0.6zM173.7 352.2h0.6v0.6h-0.6zM167.4 337.8h0.6v0.6h-0.6zM147.8 359.0h0.6v0.6h-0.6zM151.0 340.3h0.6v0.6h-0.6zM137.2 354.1h0.6v0.6h-0.6zM142.7 362.2h0.6v0.6h-0.6zM150.9 359.0h0.6v0.6h-0.6zM138.9 344.0h0.6v0.6h-0.6zM162.2 359.5h0.6v0.6h-0.6zM162.9 357.7h0.6v0.6h-0.6zM136.8 348.4h0.6v0.6h-0.6zM148.6 357.8h0.6v0.6h-0.6zM134.4 347.0h0.6v0.6h-0.6zM147.4 341.0h0.6v0.6h-0.6zM159.5 338.6h0.6v0.6h-0.6zM161.4 340.1h0.6v0.6h-0.6zM150.8 362.1h0.6v0.6h-0.6zM176.8 346.8h0.6v0.6h-0.6zM179.8 352.5h0.6v0.6h-0.6zM169.3 356.1h0.6v0.6h-0.6zM165.7 356.3h0.6v0.6h-0.6zM147.4 340.5h0.6v0.6h-0.6zM171.0 358.5h0.6v0.6h-0.6zM148.7 337.1h0.6v0.6h-0.6zM142.1 341.3h0.6v0.6h-0.6zM176.2 344.9h0.6v0.6h-0.6zM168.6 336.3h0.6v0.6h-0.6zM160.1 359.2h0.6v0.6h-0.6zM139.3 345.1h0.6v0.6h-0.6zM162.0 336.0h0.6v0.6h-0.6zM149.4 338.0h0.6v0.6h-0.6zM158.0 339.6h0.6v0.6h-0.6zM139.4 354.0h0.6v0.6h-0.6zM137.4 350.1h0.6v0.6h-0.6zM139.5 351.3h0.6v0.6h-0.6zM175.6 352.4h0.6v0.6h-0.6zM141.5 345.4h0.6v0.6h-0.6zM170.9 340.6h0.6v0.6h-0.6zM151.7 339.0h0.6v0.6h-0.6zM161.2 337.8h0.6v0.6h-0.6zM146.1 335.4h0.6v0.6h-0.6zM175.7 349.8h0.6v0.6h-0.6zM146.0 362.0h0.6v0.6h-0.6zM159.5 339.9h0.6v0.6h-0.6zM137.0 358.4h0.6v0.6h-0.6zM142.4 360.6h0.6v0.6h-0.6zM144.8 360.6h0.6v0.6h-0.6zM140.5 349.1h0.6v0.6h-0.6zM177.7 354.6h0.6v0.6h-0.6zM156.4 359.6h0.6v0.6h-0.6zM141.1 355.1h0.6v0.6h-0.6zM173.0 355.5h0.6v0.6h-0.6zM174.7 352.7h0.6v0.6h-0.6zM162.2 359.6h0.6v0.6h-0.6zM144.6 341.3h0.6v0.6h-0.6zM175.1 354.5h0.6v0.6h-0.6zM140.3 339.3h0.6v0.6h-0.6zM151.0 340.1h0.6v0.6h-0.6zM146.6 358.1h0.6v0.6h-0.6zM149.3 336.8h0.6v0.6h-0.6zM168.6 360.1h0.6v0.6h-0.6zM139.7 353.8h0.6v0.6h-0.6zM137.8 354.7h0.6v0.6h-0.6zM143.6 340.8h0.6v0.6h-0.6zM174.5 346.9h0.6v0.6h-0.6zM138.9 358.0h0.6v0.6h-0.6zM169.8 355.3h0.6v0.6h-0.6zM156.6 362.8h0.6v0.6h-0.6zM158.4 361.4h0.6v0.6h-0.6zM138.4 344.7h0.6v0.6h-0.6zM140.9 358.2h0.6v0.6h-0.6zM160.1 335.0h0.6v0.6h-0.6zM147.5 336.4h0.6v0.6h-0.6zM147.5 341.4h0.6v0.6h-0.6zM140.1 340.6h0.6v0.6h-0.6zM139.3 354.0h0.6v0.6h-0.6zM176.2 353.0h0.6v0.6h-0.6zM167.4 340.6h0.6v0.6h-0.6zM172.8 355.2h0.6v0.6h-0.6zM137.7 341.3h0.6v0.6h-0.6zM156.3 358.3h0.6v0.6h-0.6zM151.7 339.6h0.6v0.6h-0.6zM168.4 339.5h0.6v0.6h-0.6zM173.8 341.9h0.6v0.6h-0.6zM164.2 337.2h0.6v0.6h-0.6zM164.4 339.9h0.6v0.6h-0.6zM173.8 357.9h0.6v0.6h-0.6zM173.9 342.7h0.6v0.6h-0.6zM174.8 348.0h0.6v0.6h-0.6zM142.3 360.7h0.6v0.6h-0.6zM158.7 337.0h0.6v0.6h-0.6zM141.8 357.1h0.6v0.6h-0.6zM174.3 354.8h0.6v0.6h-0.6zM148.0 340.8h0.6v0.6h-0.6zM142.5 338.8h0.6v0.6h-0.6zM166.3 337.1h0.6v0.6h-0.6zM140.9 344.3h0.6v0.6h-0.6zM146.3 337.2h0.6v0.6h-0.6zM161.8 357.0h0.6v0.6h-0.6zM138.9 342.0h0.6v0.6h-0.6zM158.5 362.5h0.6v0.6h-0.6zM177.0 344.0h0.6v0.6h-0.6zM179.6 350.1h0.6v0.6h-0.6zM157.4 360.1h0.6v0.6h-0.6zM174.3 340.3h0.6v0.6h-0.6zM166.4 338.4h0.6v0.6h-0.6zM174.7 359.4h0.6v0.6h-0.6zM163.4 340.2h0.6v0.6h-0.6zM159.0 357.4h0.6v0.6h-0.6zM179.3 351.5h0.6v0.6h-0.6zM161.9 335.3h0.6v0.6h-0.6zM177.2 348.9h0.6v0.6h-0.6zM154.8 340.0h0.6v0.6h-0.6zM145.1 357.0h0.6v0.6h-0.6zM140.3 351.7h0.6v0.6h-0.6zM150.9 357.2h0.6v0.6h-0.6zM144.1 360.3h0.6v0.6h-0.6zM171.5 363.0h0.6v0.6h-0.6zM145.8 359.1h0.6v0.6h-0.6zM140.0 353.0h0.6v0.6h-0.6zM166.6 356.0h0.6v0.6h-0.6zM142.0 358.0h0.6v0.6h-0.6zM175.7 343.2h0.6v0.6h-0.6zM145.4 361.0h0.6v0.6h-0.6zM178.0 341.2h0.6v0.6h-0.6zM179.6 354.7h0.6v0.6h-0.6zM148.0 341.1h0.6v0.6h-0.6zM158.0 340.4h0.6v0.6h-0.6zM143.9 337.2h0.6v0.6h-0.6zM135.3 343.3h0.6v0.6h-0.6zM178.4 355.7h0.6v0.6h-0.6zM139.9 347.6h0.6v0.6h-0.6zM163.9 357.2h0.6v0.6h-0.6zM141.5 345.4h0.6v0.6h-0.6zM145.8 338.2h0.6v0.6h-0.6zM148.5 341.3h0.6v0.6h-0.6zM174.9 354.4h0.6v0.6h-0.6zM139.1 355.7h0.6v0.6h-0.6zM176.9 350.1h0.6v0.6h-0.6zM176.6 351.8h0.6v0.6h-0.6zM171.3 339.5h0.6v0.6h-0.6zM173.3 341.3h0.6v0.6h-0.6zM140.0 351.2h0.6v0.6h-0.6zM177.9 355.4h0.6v0.6h-0.6zM172.1 355.4h0.6v0.6h-0.6zM158.0 339.3h0.6v0.6h-0.6zM155.7 333.9h0.6v0.6h-0.6zM156.3 358.4h0.6v0.6h-0.6zM139.7 353.8h0.6v0.6h-0.6zM142.6 340.7h0.6v0.6h-0.6zM179.5 346.5h0.6v0.6h-0.6zM176.5 354.6h0.6v0.6h-0.6zM138.1 347.9h0.6v0.6h-0.6zM173.9 342.7h0.6v0.6h-0.6zM143.4 360.2h0.6v0.6h-0.6zM177.9 355.4h0.6v0.6h-0.6zM140.4 356.5h0.6v0.6h-0.6zM168.5 356.1h0.6v0.6h-0.6zM149.7 340.8h0.6v0.6h-0.6zM147.4 340.4h0.6v0.6h-0.6zM148.4 339.5h0.6v0.6h-0.6zM163.8 356.6h0.6v0.6h-0.6zM149.1 341.0h0.6v0.6h-0.6zM146.2 340.1h0.6v0.6h-0.6zM175.8 342.4h0.6v0.6h-0.6zM165.3 337.6h0.6v0.6h-0.6zM158.7 338.5h0.6v0.6h-0.6zM153.5 358.9h0.6v0.6h-0.6zM173.8 351.9h0.6v0.6h-0.6zM153.6 361.8h0.6v0.6h-0.6zM153.2 340.2h0.6v0.6h-0.6zM149.3 358.1h0.6v0.6h-0.6zM173.8 344.1h0.6v0.6h-0.6zM177.1 341.7h0.6v0.6h-0.6zM153.6 360.7h0.6v0.6h-0.6zM160.4 361.5h0.6v0.6h-0.6zM136.0 346.5h0.6v0.6h-0.6zM146.5 338.0h0.6v0.6h-0.6zM147.8 338.8h0.6v0.6h-0.6zM146.0 358.1h0.6v0.6h-0.6zM171.9 340.4h0.6v0.6h-0.6zM139.2 350.1h0.6v0.6h-0.6zM164.0 357.8h0.6v0.6h-0.6zM139.7 350.7h0.6v0.6h-0.6zM177.8 340.1h0.6v0.6h-0.6zM155.3 357.3h0.6v0.6h-0.6zM141.4 339.0h0.6v0.6h-0.6zM158.8 340.9h0.6v0.6h-0.6zM166.2 333.9h0.6v0.6h-0.6zM138.2 341.6h0.6v0.6h-0.6zM149.5 339.2h0.6v0.6h-0.6zM150.9 360.0h0.6v0.6h-0.6zM146.2 340.4h0.6v0.6h-0.6zM169.3 339.4h0.6v0.6h-0.6zM140.1 355.0h0.6v0.6h-0.6zM158.7 337.6h0.6v0.6h-0.6zM175.4 343.4h0.6v0.6h-0.6zM141.8 345.5h0.6v0.6h-0.6zM156.4 337.2h0.6v0.6h-0.6zM176.7 340.8h0.6v0.6h-0.6zM173.2 354.7h0.6v0.6h-0.6zM136.6 351.8h0.6v0.6h-0.6zM176.1 350.5h0.6v0.6h-0.6zM175.0 346.3h0.6v0.6h-0.6zM140.5 354.0h0.6v0.6h-0.6zM142.7 355.8h0.6v0.6h-0.6zM148.5 340.4h0.6v0.6h-0.6zM174.7 351.5h0.6v0.6h-0.6zM159.4 337.5h0.6v0.6h-0.6zM139.4 348.9h0.6v0.6h-0.6zM148.5 359.4h0.6v0.6h-0.6zM173.4 354.9h0.6v0.6h-0.6zM145.5 339.9h0.6v0.6h-0.6zM137.3 348.5h0.6v0.6h-0.6zM144.6 358.6h0.6v0.6h-0.6zM141.9 356.9h0.6v0.6h-0.6zM175.4 337.2h0.6v0.6h-0.6zM164.7 356.0h0.6v0.6h-0.6zM167.6 355.9h0.6v0.6h-0.6zM155.6 338.3h0.6v0.6h-0.6zM166.1 357.9h0.6v0.6h-0.6zM147.4 362.7h0.6v0.6h-0.6zM153.2 341.1h0.6v0.6h-0.6zM141.3 354.9h0.6v0.6h-0.6zM140.5 352.2h0.6v0.6h-0.6zM154.0 340.4h0.6v0.6h-0.6zM160.0 358.7h0.6v0.6h-0.6zM138.5 358.4h0.6v0.6h-0.6zM141.2 363.4h0.6v0.6h-0.6zM174.1 353.3h0.6v0.6h-0.6zM175.5 345.6h0.6v0.6h-0.6zM174.6 356.0h0.6v0.6h-0.6zM174.4 343.8h0.6v0.6h-0.6zM135.8 349.2h0.6v0.6h-0.6zM171.8 355.0h0.6v0.6h-0.6zM154.6 361.7h0.6v0.6h-0.6zM139.2 352.6h0.6v0.6h-0.6zM152.5 337.8h0.6v0.6h-0.6zM156.3 358.5h0.6v0.6h-0.6zM145.7 356.8h0.6v0.6h-0.6zM163.1 337.0h0.6v0.6h-0.6zM146.8 356.9h0.6v0.6h-0.6zM176.0 349.3h0.6v0.6h-0.6zM145.6 337.2h0.6v0.6h-0.6zM175.6 341.6h0.6v0.6h-0.6zM174.3 344.5h0.6v0.6h-0.6zM140.0 354.4h0.6v0.6h-0.6zM174.5 343.8h0.6v0.6h-0.6zM149.0 340.4h0.6v0.6h-0.6zM156.4 340.9h0.6v0.6h-0.6zM141.5 346.1h0.6v0.6h-0.6zM174.4 354.9h0.6v0.6h-0.6zM176.1 356.2h0.6v0.6h-0.6zM149.4 338.0h0.6v0.6h-0.6zM172.6 353.4h0.6v0.6h-0.6zM181.1 354.5h0.6v0.6h-0.6zM174.1 353.3h0.6v0.6h-0.6zM175.3 349.1h0.6v0.6h-0.6zM171.1 355.0h0.6v0.6h-0.6zM157.2 357.8h0.6v0.6h-0.6zM143.1 356.2h0.6v0.6h-0.6zM138.9 350.1h0.6v0.6h-0.6zM139.4 343.4h0.6v0.6h-0.6zM148.5 341.1h0.6v0.6h-0.6zM141.5 346.1h0.6v0.6h-0.6zM168.4 359.5h0.6v0.6h-0.6zM159.2 333.3h0.6v0.6h-0.6zM144.8 341.8h0.6v0.6h-0.6zM136.4 351.8h0.6v0.6h-0.6zM160.3 338.9h0.6v0.6h-0.6zM170.1 340.2h0.6v0.6h-0.6zM174.2 346.5h0.6v0.6h-0.6zM173.3 352.4h0.6v0.6h-0.6zM172.3 341.3h0.6v0.6h-0.6zM147.0 336.9h0.6v0.6h-0.6zM148.9 338.7h0.6v0.6h-0.6zM149.0 339.5h0.6v0.6h-0.6zM169.2 355.7h0.6v0.6h-0.6zM165.4 340.5h0.6v0.6h-0.6zM145.9 341.6h0.6v0.6h-0.6zM155.7 336.1h0.6v0.6h-0.6zM170.0 340.7h0.6v0.6h-0.6zM161.3 339.5h0.6v0.6h-0.6zM146.2 357.2h0.6v0.6h-0.6zM176.0 341.3h0.6v0.6h-0.6zM175.7 343.9h0.6v0.6h-0.6z" fill="#000" fill-opacity="0.6"/>
<path d="M173.4 330.3h0.6v0.6h-0.6zM167.3 324.7h0.6v0.6h-0.6zM167.7 328.1h0.6v0.6h-0.6zM169.2 335.5h0.6v0.6h-0.6zM171.7 334.7h0.6v0.6h-0.6zM176.5 328.3h0.6v0.6h-0.6zM168.0 330.6h0.6v0.6h-0.6zM168.0 329.0h0.6v0.6h-0.6zM171.2 325.3h0.6v0.6h-0.6zM164.4 332.8h0.6v0.6h-0.6zM165.5 334.8h0.6v0.6h-0.6zM167.0 329.2h0.6v0.6h-0.6zM169.0 327.7h0.6v0.6h-0.6zM171.0 330.2h0.6v0.6h-0.6zM165.4 330.2h0.6v0.6h-0.6zM167.5 326.7h0.6v0.6h-0.6zM169.8 339.9h0.6v0.6h-0.6zM170.1 324.1h0.6v0.6h-0.6zM168.7 338.1h0.6v0.6h-0.6zM169.1 331.9h0.6v0.6h-0.6zM169.4 329.5h0.6v0.6h-0.6zM167.5 333.8h0.6v0.6h-0.6zM169.7 339.9h0.6v0.6h-0.6zM167.1 320.9h0.6v0.6h-0.6zM171.8 339.5h0.6v0.6h-0.6zM169.4 329.4h0.6v0.6h-0.6zM171.9 329.6h0.6v0.6h-0.6zM167.7 331.7h0.6v0.6h-0.6zM169.5 327.9h0.6v0.6h-0.6zM174.1 333.8h0.6v0.6h-0.6zM169.7 333.8h0.6v0.6h-0.6zM167.4 336.1h0.6v0.6h-0.6zM171.9 329.9h0.6v0.6h-0.6zM168.1 330.3h0.6v0.6h-0.6zM167.1 326.2h0.6v0.6h-0.6zM168.1 333.9h0.6v0.6h-0.6zM168.8 326.8h0.6v0.6h-0.6zM170.3 332.7h0.6v0.6h-0.6zM168.9 327.3h0.6v0.6h-0.6zM171.9 327.6h0.6v0.6h-0.6zM168.9 322.6h0.6v0.6h-0.6zM167.8 330.8h0.6v0.6h-0.6zM168.5 332.7h0.6v0.6h-0.6zM166.8 324.4h0.6v0.6h-0.6zM169.2 329.5h0.6v0.6h-0.6zM173.1 335.6h0.6v0.6h-0.6zM165.1 316.5h0.6v0.6h-0.6zM168.0 325.0h0.6v0.6h-0.6zM164.9 314.2h0.6v0.6h-0.6zM167.9 325.0h0.6v0.6h-0.6zM168.7 322.8h0.6v0.6h-0.6zM173.3 335.7h0.6v0.6h-0.6zM168.8 329.0h0.6v0.6h-0.6zM167.4 326.6h0.6v0.6h-0.6zM172.2 324.9h0.6v0.6h-0.6zM168.3 319.7h0.6v0.6h-0.6zM166.2 322.7h0.6v0.6h-0.6zM164.9 333.6h0.6v0.6h-0.6zM173.2 340.2h0.6v0.6h-0.6zM169.3 318.3h0.6v0.6h-0.6zM170.7 325.8h0.6v0.6h-0.6zM172.1 327.4h0.6v0.6h-0.6zM164.3 329.2h0.6v0.6h-0.6zM166.5 337.7h0.6v0.6h-0.6zM164.3 333.4h0.6v0.6h-0.6zM167.7 323.0h0.6v0.6h-0.6zM169.3 325.2h0.6v0.6h-0.6zM171.0 329.1h0.6v0.6h-0.6zM167.4 327.4h0.6v0.6h-0.6zM165.3 330.2h0.6v0.6h-0.6zM171.2 325.8h0.6v0.6h-0.6zM163.5 333.6h0.6v0.6h-0.6zM165.6 325.4h0.6v0.6h-0.6zM167.2 333.1h0.6v0.6h-0.6zM169.5 339.5h0.6v0.6h-0.6zM170.1 329.1h0.6v0.6h-0.6zM168.3 332.2h0.6v0.6h-0.6zM170.5 331.7h0.6v0.6h-0.6zM168.5 338.7h0.6v0.6h-0.6zM163.4 323.3h0.6v0.6h-0.6zM169.1 326.6h0.6v0.6h-0.6zM166.6 331.4h0.6v0.6h-0.6zM168.9 324.5h0.6v0.6h-0.6zM171.2 332.8h0.6v0.6h-0.6zM169.3 330.7h0.6v0.6h-0.6zM166.5 322.6h0.6v0.6h-0.6zM166.1 325.7h0.6v0.6h-0.6zM170.2 343.1h0.6v0.6h-0.6zM167.7 334.3h0.6v0.6h-0.6zM172.6 327.4h0.6v0.6h-0.6zM172.5 332.7h0.6v0.6h-0.6zM169.9 327.7h0.6v0.6h-0.6zM173.0 335.8h0.6v0.6h-0.6zM170.4 330.4h0.6v0.6h-0.6zM168.2 331.0h0.6v0.6h-0.6zM172.5 338.0h0.6v0.6h-0.6zM167.9 330.1h0.6v0.6h-0.6zM166.6 337.8h0.6v0.6h-0.6zM169.6 333.0h0.6v0.6h-0.6zM168.5 336.5h0.6v0.6h-0.6zM168.1 323.4h0.6v0.6h-0.6zM170.0 319.7h0.6v0.6h-0.6zM172.1 333.7h0.6v0.6h-0.6zM164.0 328.9h0.6v0.6h-0.6zM168.7 331.1h0.6v0.6h-0.6zM171.9 325.0h0.6v0.6h-0.6zM168.9 338.1h0.6v0.6h-0.6zM167.1 328.7h0.6v0.6h-0.6zM170.0 333.9h0.6v0.6h-0.6zM168.8 321.4h0.6v0.6h-0.6zM163.7 339.1h0.6v0.6h-0.6zM172.6 323.6h0.6v0.6h-0.6zM162.2 324.1h0.6v0.6h-0.6zM169.9 329.0h0.6v0.6h-0.6zM171.9 324.7h0.6v0.6h-0.6zM166.8 330.2h0.6v0.6h-0.6zM165.9 323.4h0.6v0.6h-0.6zM167.7 322.1h0.6v0.6h-0.6zM170.9 332.1h0.6v0.6h-0.6zM167.0 326.5h0.6v0.6h-0.6zM172.0 320.4h0.6v0.6h-0.6zM169.6 328.8h0.6v0.6h-0.6zM164.2 321.6h0.6v0.6h-0.6zM167.6 332.6h0.6v0.6h-0.6zM168.3 327.4h0.6v0.6h-0.6zM167.4 328.7h0.6v0.6h-0.6zM171.1 337.3h0.6v0.6h-0.6zM166.7 322.5h0.6v0.6h-0.6zM170.0 327.8h0.6v0.6h-0.6zM170.0 326.4h0.6v0.6h-0.6zM164.6 340.1h0.6v0.6h-0.6zM172.5 330.3h0.6v0.6h-0.6zM171.6 330.7h0.6v0.6h-0.6zM171.7 327.1h0.6v0.6h-0.6zM167.8 319.4h0.6v0.6h-0.6zM170.9 334.1h0.6v0.6h-0.6zM167.5 332.3h0.6v0.6h-0.6zM171.7 319.0h0.6v0.6h-0.6zM170.1 325.4h0.6v0.6h-0.6zM163.8 329.8h0.6v0.6h-0.6zM161.8 329.6h0.6v0.6h-0.6zM167.5 327.2h0.6v0.6h-0.6zM165.4 334.5h0.6v0.6h-0.6zM173.0 331.8h0.6v0.6h-0.6zM170.3 319.6h0.6v0.6h-0.6zM168.1 329.7h0.6v0.6h-0.6zM168.7 327.1h0.6v0.6h-0.6zM168.2 329.0h0.6v0.6h-0.6zM170.5 329.5h0.6v0.6h-0.6zM166.2 322.1h0.6v0.6h-0.6zM168.6 329.1h0.6v0.6h-0.6zM168.9 338.4h0.6v0.6h-0.6zM166.5 330.9h0.6v0.6h-0.6zM169.4 322.8h0.6v0.6h-0.6zM169.8 329.2h0.6v0.6h-0.6zM166.8 327.5h0.6v0.6h-0.6zM172.6 331.2h0.6v0.6h-0.6zM165.9 324.8h0.6v0.6h-0.6zM172.7 331.3h0.6v0.6h-0.6zM171.4 328.7h0.6v0.6h-0.6zM170.5 330.2h0.6v0.6h-0.6zM166.5 322.0h0.6v0.6h-0.6zM168.1 335.3h0.6v0.6h-0.6zM164.4 334.8h0.6v0.6h-0.6zM169.3 315.7h0.6v0.6h-0.6zM170.8 325.5h0.6v0.6h-0.6zM169.7 330.5h0.6v0.6h-0.6zM169.7 330.9h0.6v0.6h-0.6zM167.8 326.4h0.6v0.6h-0.6zM167.9 327.2h0.6v0.6h-0.6zM169.2 328.1h0.6v0.6h-0.6zM167.2 320.2h0.6v0.6h-0.6zM170.8 324.0h0.6v0.6h-0.6zM168.8 323.6h0.6v0.6h-0.6zM171.4 332.5h0.6v0.6h-0.6zM164.5 330.8h0.6v0.6h-0.6zM170.5 321.6h0.6v0.6h-0.6zM174.4 335.2h0.6v0.6h-0.6zM165.2 342.0h0.6v0.6h-0.6zM172.5 326.1h0.6v0.6h-0.6zM168.8 332.8h0.6v0.6h-0.6zM169.7 324.6h0.6v0.6h-0.6zM167.6 311.8h0.6v0.6h-0.6zM164.6 339.0h0.6v0.6h-0.6zM162.5 331.3h0.6v0.6h-0.6zM165.3 329.6h0.6v0.6h-0.6zM171.3 330.0h0.6v0.6h-0.6zM166.3 328.1h0.6v0.6h-0.6zM171.7 333.6h0.6v0.6h-0.6zM170.5 317.4h0.6v0.6h-0.6zM171.4 334.1h0.6v0.6h-0.6zM165.4 322.5h0.6v0.6h-0.6zM170.7 330.9h0.6v0.6h-0.6zM168.4 327.5h0.6v0.6h-0.6zM166.0 334.1h0.6v0.6h-0.6zM171.3 325.2h0.6v0.6h-0.6zM164.5 330.7h0.6v0.6h-0.6zM167.3 334.4h0.6v0.6h-0.6zM169.3 329.8h0.6v0.6h-0.6zM170.0 333.6h0.6v0.6h-0.6zM167.6 329.8h0.6v0.6h-0.6zM167.9 327.4h0.6v0.6h-0.6zM169.5 337.7h0.6v0.6h-0.6zM166.6 326.7h0.6v0.6h-0.6zM165.7 332.7h0.6v0.6h-0.6zM171.6 333.6h0.6v0.6h-0.6zM167.9 325.6h0.6v0.6h-0.6zM166.8 330.4h0.6v0.6h-0.6zM171.5 328.4h0.6v0.6h-0.6zM171.0 331.3h0.6v0.6h-0.6zM168.4 329.7h0.6v0.6h-0.6zM170.3 339.8h0.6v0.6h-0.6zM166.6 325.5h0.6v0.6h-0.6zM163.9 332.6h0.6v0.6h-0.6zM170.1 333.9h0.6v0.6h-0.6zM168.6 322.2h0.6v0.6h-0.6zM172.6 323.4h0.6v0.6h-0.6zM171.6 321.0h0.6v0.6h-0.6zM169.8 326.4h0.6v0.6h-0.6zM165.7 327.4h0.6v0.6h-0.6zM172.1 323.4h0.6v0.6h-0.6zM171.8 330.5h0.6v0.6h-0.6zM170.6 328.3h0.6v0.6h-0.6zM167.4 340.4h0.6v0.6h-0.6zM168.9 332.6h0.6v0.6h-0.6zM168.1 335.2h0.6v0.6h-0.6zM166.1 331.0h0.6v0.6h-0.6zM172.9 330.9h0.6v0.6h-0.6zM167.0 332.2h0.6v0.6h-0.6zM170.6 332.0h0.6v0.6h-0.6zM168.0 321.6h0.6v0.6h-0.6zM172.3 322.6h0.6v0.6h-0.6zM171.3 326.4h0.6v0.6h-0.6zM168.8 329.4h0.6v0.6h-0.6zM169.6 335.9h0.6v0.6h-0.6zM169.5 326.9h0.6v0.6h-0.6zM168.5 322.5h0.6v0.6h-0.6zM166.6 323.0h0.6v0.6h-0.6zM168.0 331.7h0.6v0.6h-0.6zM166.6 325.9h0.6v0.6h-0.6zM168.1 323.8h0.6v0.6h-0.6zM168.9 329.3h0.6v0.6h-0.6zM166.0 328.0h0.6v0.6h-0.6zM167.1 327.3h0.6v0.6h-0.6zM165.8 329.6h0.6v0.6h-0.6zM172.5 338.4h0.6v0.6h-0.6zM164.9 331.4h0.6v0.6h-0.6zM171.8 330.1h0.6v0.6h-0.6zM166.4 323.6h0.6v0.6h-0.6zM165.1 315.5h0.6v0.6h-0.6zM167.4 334.1h0.6v0.6h-0.6zM168.7 328.1h0.6v0.6h-0.6zM167.0 325.7h0.6v0.6h-0.6zM172.1 326.1h0.6v0.6h-0.6zM169.6 328.2h0.6v0.6h-0.6zM167.8 333.5h0.6v0.6h-0.6zM171.3 344.2h0.6v0.6h-0.6zM170.6 327.0h0.6v0.6h-0.6zM166.8 327.1h0.6v0.6h-0.6zM169.3 320.2h0.6v0.6h-0.6zM169.5 318.4h0.6v0.6h-0.6zM165.7 329.5h0.6v0.6h-0.6zM168.8 335.0h0.6v0.6h-0.6zM171.7 328.2h0.6v0.6h-0.6zM167.1 332.0h0.6v0.6h-0.6zM168.7 335.2h0.6v0.6h-0.6zM172.6 333.3h0.6v0.6h-0.6zM171.2 333.2h0.6v0.6h-0.6zM168.4 323.6h0.6v0.6h-0.6zM171.3 333.4h0.6v0.6h-0.6zM169.2 326.3h0.6v0.6h-0.6zM164.9 332.0h0.6v0.6h-0.6zM168.3 330.4h0.6v0.6h-0.6zM167.4 328.6h0.6v0.6h-0.6zM165.4 335.1h0.6v0.6h-0.6zM169.1 329.7h0.6v0.6h-0.6zM168.3 328.2h0.6v0.6h-0.6zM168.5 321.4h0.6v0.6h-0.6zM165.1 328.1h0.6v0.6h-0.6zM167.7 324.0h0.6v0.6h-0.6zM168.5 331.5h0.6v0.6h-0.6zM169.3 325.1h0.6v0.6h-0.6zM170.2 328.4h0.6v0.6h-0.6zM163.2 331.5h0.6v0.6h-0.6zM166.5 334.3h0.6v0.6h-0.6zM166.8 329.2h0.6v0.6h-0.6zM168.4 335.6h0.6v0.6h-0.6zM169.5 330.1h0.6v0.6h-0.6zM172.6 334.3h0.6v0.6h-0.6zM166.6 324.6h0.6v0.6h-0.6zM171.6 328.5h0.6v0.6h-0.6zM169.4 334.2h0.6v0.6h-0.6zM169.8 322.7h0.6v0.6h-0.6zM170.3 334.5h0.6v0.6h-0.6zM170.4 321.9h0.6v0.6h-0.6zM168.7 331.0h0.6v0.6h-0.6zM167.6 325.5h0.6v0.6h-0.6zM168.1 322.3h0.6v0.6h-0.6zM170.5 330.7h0.6v0.6h-0.6zM169.3 339.6h0.6v0.6h-0.6zM166.1 322.3h0.6v0.6h-0.6zM170.4 324.0h0.6v0.6h-0.6zM167.5 331.8h0.6v0.6h-0.6zM167.9 332.1h0.6v0.6h-0.6zM168.3 318.8h0.6v0.6h-0.6zM168.9 330.2h0.6v0.6h-0.6zM169.4 328.1h0.6v0.6h-0.6zM168.1 331.5h0.6v0.6h-0.6zM170.0 327.9h0.6v0.6h-0.6zM169.6 331.1h0.6v0.6h-0.6zM165.3 318.9h0.6v0.6h-0.6zM165.5 336.2h0.6v0.6h-0.6zM170.1 327.5h0.6v0.6h-0.6zM167.1 323.1h0.6v0.6h-0.6zM169.6 328.9h0.6v0.6h-0.6zM169.7 329.3h0.6v0.6h-0.6zM170.5 343.2h0.6v0.6h-0.6zM166.5 325.9h0.6v0.6h-0.6zM172.8 324.6h0.6v0.6h-0.6zM169.3 328.8h0.6v0.6h-0.6zM168.4 336.6h0.6v0.6h-0.6zM166.9 330.7h0.6v0.6h-0.6zM166.7 333.8h0.6v0.6h-0.6zM169.8 326.5h0.6v0.6h-0.6zM172.8 331.1h0.6v0.6h-0.6zM168.6 332.4h0.6v0.6h-0.6zM171.4 335.4h0.6v0.6h-0.6zM168.5 324.2h0.6v0.6h-0.6zM168.4 329.6h0.6v0.6h-0.6zM170.3 326.9h0.6v0.6h-0.6zM167.0 328.2h0.6v0.6h-0.6zM174.2 324.4h0.6v0.6h-0.6zM171.0 326.4h0.6v0.6h-0.6zM172.0 334.8h0.6v0.6h-0.6zM169.8 338.0h0.6v0.6h-0.6zM167.5 334.7h0.6v0.6h-0.6zM168.0 317.5h0.6v0.6h-0.6zM168.7 332.0h0.6v0.6h-0.6zM164.9 327.4h0.6v0.6h-0.6zM167.7 334.2h0.6v0.6h-0.6zM168.9 316.7h0.6v0.6h-0.6zM166.3 326.9h0.6v0.6h-0.6zM167.6 330.1h0.6v0.6h-0.6zM167.5 329.9h0.6v0.6h-0.6zM166.8 335.3h0.6v0.6h-0.6zM171.0 331.2h0.6v0.6h-0.6zM169.7 328.7h0.6v0.6h-0.6zM167.1 326.0h0.6v0.6h-0.6zM172.9 335.0h0.6v0.6h-0.6zM168.6 324.7h0.6v0.6h-0.6zM167.1 323.5h0.6v0.6h-0.6zM167.3 324.0h0.6v0.6h-0.6zM168.3 321.1h0.6v0.6h-0.6zM166.9 330.0h0.6v0.6h-0.6zM170.8 323.0h0.6v0.6h-0.6zM168.2 338.4h0.6v0.6h-0.6zM172.4 329.0h0.6v0.6h-0.6zM170.1 336.2h0.6v0.6h-0.6zM173.3 330.0h0.6v0.6h-0.6zM171.3 336.1h0.6v0.6h-0.6zM170.2 327.2h0.6v0.6h-0.6zM168.0 337.9h0.6v0.6h-0.6zM168.7 338.7h0.6v0.6h-0.6zM164.9 329.8h0.6v0.6h-0.6zM168.7 318.7h0.6v0.6h-0.6zM166.2 339.0h0.6v0.6h-0.6zM167.7 329.1h0.6v0.6h-0.6zM169.4 321.4h0.6v0.6h-0.6zM168.2 326.5h0.6v0.6h-0.6zM169.0 329.2h0.6v0.6h-0.6zM167.7 330.4h0.6v0.6h-0.6zM166.2 338.3h0.6v0.6h-0.6zM169.4 335.0h0.6v0.6h-0.6zM172.2 321.5h0.6v0.6h-0.6zM167.2 335.3h0.6v0.6h-0.6zM172.3 331.9h0.6v0.6h-0.6zM169.5 323.2h0.6v0.6h-0.6zM173.7 330.5h0.6v0.6h-0.6zM172.0 323.6h0.6v0.6h-0.6zM168.5 337.5h0.6v0.6h-0.6zM169.5 324.1h0.6v0.6h-0.6zM167.1 326.8h0.6v0.6h-0.6zM170.9 323.1h0.6v0.6h-0.6zM169.0 324.8h0.6v0.6h-0.6zM171.5 330.6h0.6v0.6h-0.6zM167.1 328.5h0.6v0.6h-0.6zM169.4 326.0h0.6v0.6h-0.6zM169.2 338.9h0.6v0.6h-0.6zM169.3 322.8h0.6v0.6h-0.6zM170.9 333.9h0.6v0.6h-0.6zM168.0 332.7h0.6v0.6h-0.6zM171.5 332.3h0.6v0.6h-0.6zM170.3 331.3h0.6v0.6h-0.6zM171.8 332.5h0.6v0.6h-0.6zM171.4 326.4h0.6v0.6h-0.6zM171.6 333.9h0.6v0.6h-0.6zM164.6 327.0h0.6v0.6h-0.6zM165.5 322.9h0.6v0.6h-0.6zM165.1 333.5h0.6v0.6h-0.6zM169.2 329.8h0.6v0.6h-0.6zM167.7 306.1h0.6v0.6h-0.6zM171.2 341.2h0.6v0.6h-0.6zM166.5 321.4h0.6v0.6h-0.6zM168.0 320.2h0.6v0.6h-0.6zM171.4 337.4h0.6v0.6h-0.6zM164.2 336.8h0.6v0.6h-0.6zM171.8 327.4h0.6v0.6h-0.6zM168.1 320.3h0.6v0.6h-0.6zM164.2 334.1h0.6v0.6h-0.6zM169.8 339.0h0.6v0.6h-0.6zM167.5 335.0h0.6v0.6h-0.6zM175.6 324.6h0.6v0.6h-0.6zM168.7 322.2h0.6v0.6h-0.6zM169.8 330.2h0.6v0.6h-0.6zM166.5 325.1h0.6v0.6h-0.6zM169.2 331.9h0.6v0.6h-0.6zM172.7 339.1h0.6v0.6h-0.6zM168.0 321.2h0.6v0.6h-0.6zM170.5 320.3h0.6v0.6h-0.6zM170.1 325.4h0.6v0.6h-0.6zM171.2 324.5h0.6v0.6h-0.6zM166.8 324.7h0.6v0.6h-0.6zM169.5 333.8h0.6v0.6h-0.6zM171.5 328.5h0.6v0.6h-0.6zM168.2 329.8h0.6v0.6h-0.6zM167.8 327.0h0.6v0.6h-0.6zM171.1 333.9h0.6v0.6h-0.6zM167.3 327.0h0.6v0.6h-0.6zM171.6 336.5h0.6v0.6h-0.6zM169.1 324.6h0.6v0.6h-0.6zM170.2 335.0h0.6v0.6h-0.6zM167.2 330.2h0.6v0.6h-0.6zM172.1 337.8h0.6v0.6h-0.6zM166.5 334.2h0.6v0.6h-0.6zM168.8 322.3h0.6v0.6h-0.6zM169.0 319.5h0.6v0.6h-0.6zM164.0 328.1h0.6v0.6h-0.6zM169.8 324.0h0.6v0.6h-0.6zM168.3 340.6h0.6v0.6h-0.6zM166.8 325.9h0.6v0.6h-0.6zM171.5 314.7h0.6v0.6h-0.6zM172.0 332.0h0.6v0.6h-0.6zM169.8 323.7h0.6v0.6h-0.6zM168.5 327.6h0.6v0.6h-0.6zM168.1 332.0h0.6v0.6h-0.6zM166.2 336.1h0.6v0.6h-0.6zM166.6 319.4h0.6v0.6h-0.6zM165.2 328.8h0.6v0.6h-0.6zM170.9 332.9h0.6v0.6h-0.6zM165.5 336.2h0.6v0.6h-0.6zM170.2 315.0h0.6v0.6h-0.6zM168.3 318.5h0.6v0.6h-0.6zM169.3 333.4h0.6v0.6h-0.6zM168.5 324.9h0.6v0.6h-0.6zM171.1 325.4h0.6v0.6h-0.6zM167.3 331.3h0.6v0.6h-0.6zM169.3 326.2h0.6v0.6h-0.6zM162.7 329.8h0.6v0.6h-0.6zM163.3 318.5h0.6v0.6h-0.6zM167.9 334.6h0.6v0.6h-0.6zM172.0 323.0h0.6v0.6h-0.6zM170.5 333.6h0.6v0.6h-0.6zM167.9 323.1h0.6v0.6h-0.6zM169.0 330.6h0.6v0.6h-0.6zM167.9 333.7h0.6v0.6h-0.6zM171.3 329.7h0.6v0.6h-0.6zM164.3 323.1h0.6v0.6h-0.6zM171.9 334.7h0.6v0.6h-0.6zM167.4 335.8h0.6v0.6h-0.6zM170.4 323.1h0.6v0.6h-0.6zM165.7 325.5h0.6v0.6h-0.6zM167.5 318.0h0.6v0.6h-0.6zM169.8 314.9h0.6v0.6h-0.6zM174.1 331.5h0.6v0.6h-0.6zM169.8 331.4h0.6v0.6h-0.6zM167.4 330.5h0.6v0.6h-0.6zM172.1 340.4h0.6v0.6h-0.6zM170.8 317.5h0.6v0.6h-0.6zM171.8 325.5h0.6v0.6h-0.6zM171.6 328.5h0.6v0.6h-0.6zM171.3 334.7h0.6v0.6h-0.6zM168.2 325.4h0.6v0.6h-0.6zM168.7 330.5h0.6v0.6h-0.6zM164.4 332.6h0.6v0.6h-0.6zM168.3 330.5h0.6v0.6h-0.6zM167.2 333.3h0.6v0.6h-0.6zM169.4 339.0h0.6v0.6h-0.6zM169.1 328.4h0.6v0.6h-0.6zM169.9 318.2h0.6v0.6h-0.6zM170.8 321.7h0.6v0.6h-0.6zM169.2 339.5h0.6v0.6h-0.6zM165.1 336.5h0.6v0.6h-0.6zM168.9 321.6h0.6v0.6h-0.6zM170.0 321.8h0.6v0.6h-0.6zM170.2 332.2h0.6v0.6h-0.6zM164.8 329.3h0.6v0.6h-0.6zM173.7 333.2h0.6v0.6h-0.6zM168.8 328.2h0.6v0.6h-0.6zM169.5 325.2h0.6v0.6h-0.6zM170.5 330.9h0.6v0.6h-0.6zM172.1 328.2h0.6v0.6h-0.6zM168.5 318.0h0.6v0.6h-0.6zM167.2 328.8h0.6v0.6h-0.6zM164.6 323.9h0.6v0.6h-0.6zM167.5 320.3h0.6v0.6h-0.6zM171.5 334.8h0.6v0.6h-0.6zM170.5 335.7h0.6v0.6h-0.6zM170.3 325.4h0.6v0.6h-0.6zM170.7 335.9h0.6v0.6h-0.6zM168.2 335.7h0.6v0.6h-0.6zM166.8 315.1h0.6v0.6h-0.6zM165.3 328.0h0.6v0.6h-0.6zM169.0 319.3h0.6v0.6h-0.6zM168.4 326.7h0.6v0.6h-0.6zM166.6 327.2h0.6v0.6h-0.6zM170.5 323.0h0.6v0.6h-0.6zM171.2 315.8h0.6v0.6h-0.6zM166.6 329.0h0.6v0.6h-0.6zM172.2 320.5h0.6v0.6h-0.6zM168.8 325.7h0.6v0.6h-0.6zM163.9 326.6h0.6v0.6h-0.6zM171.5 322.2h0.6v0.6h-0.6zM171.7 314.7h0.6v0.6h-0.6zM170.7 331.7h0.6v0.6h-0.6zM168.1 334.6h0.6v0.6h-0.6zM170.6 330.3h0.6v0.6h-0.6zM167.0 326.5h0.6v0.6h-0.6zM169.2 330.6h0.6v0.6h-0.6zM167.8 324.5h0.6v0.6h-0.6zM165.7 332.4h0.6v0.6h-0.6zM168.4 330.8h0.6v0.6h-0.6zM169.3 325.6h0.6v0.6h-0.6zM168.9 336.2h0.6v0.6h-0.6zM168.8 326.0h0.6v0.6h-0.6zM173.2 332.4h0.6v0.6h-0.6zM171.9 329.6h0.6v0.6h-0.6zM170.1 317.5h0.6v0.6h-0.6zM170.2 329.7h0.6v0.6h-0.6zM171.0 336.1h0.6v0.6h-0.6zM166.7 331.8h0.6v0.6h-0.6zM167.9 331.3h0.6v0.6h-0.6zM171.1 329.3h0.6v0.6h-0.6zM169.2 333.4h0.6v0.6h-0.6zM170.1 343.8h0.6v0.6h-0.6zM170.0 330.6h0.6v0.6h-0.6zM170.4 332.2h0.6v0.6h-0.6zM168.4 325.9h0.6v0.6h-0.6zM167.0 330.3h0.6v0.6h-0.6zM170.1 330.7h0.6v0.6h-0.6zM166.5 324.3h0.6v0.6h-0.6zM148.1 325.6h0.6v0.6h-0.6zM151.2 333.7h0.6v0.6h-0.6zM145.7 333.4h0.6v0.6h-0.6zM149.4 326.6h0.6v0.6h-0.6zM150.6 343.3h0.6v0.6h-0.6zM144.2 336.7h0.6v0.6h-0.6zM145.9 328.9h0.6v0.6h-0.6zM151.3 336.6h0.6v0.6h-0.6zM150.6 340.9h0.6v0.6h-0.6zM153.0 341.9h0.6v0.6h-0.6zM151.3 334.6h0.6v0.6h-0.6zM149.9 343.1h0.6v0.6h-0.6zM147.7 333.7h0.6v0.6h-0.6zM150.7 331.3h0.6v0.6h-0.6zM147.0 338.3h0.6v0.6h-0.6zM146.0 338.1h0.6v0.6h-0.6zM146.1 333.5h0.6v0.6h-0.6zM147.3 336.8h0.6v0.6h-0.6zM147.3 329.7h0.6v0.6h-0.6zM145.4 323.1h0.6v0.6h-0.6zM143.1 337.0h0.6v0.6h-0.6zM151.2 336.1h0.6v0.6h-0.6zM146.3 329.5h0.6v0.6h-0.6zM144.6 328.7h0.6v0.6h-0.6zM144.8 335.5h0.6v0.6h-0.6zM148.6 334.6h0.6v0.6h-0.6zM152.1 339.0h0.6v0.6h-0.6zM154.3 334.4h0.6v0.6h-0.6zM141.7 325.4h0.6v0.6h-0.6zM144.7 337.2h0.6v0.6h-0.6zM157.3 340.3h0.6v0.6h-0.6zM148.8 331.0h0.6v0.6h-0.6zM148.5 346.7h0.6v0.6h-0.6zM151.1 333.7h0.6v0.6h-0.6zM145.4 336.2h0.6v0.6h-0.6zM150.0 340.8h0.6v0.6h-0.6zM157.4 349.6h0.6v0.6h-0.6zM151.3 338.1h0.6v0.6h-0.6zM153.3 332.5h0.6v0.6h-0.6zM153.8 340.8h0.6v0.6h-0.6zM157.2 341.3h0.6v0.6h-0.6zM150.0 337.8h0.6v0.6h-0.6zM155.5 332.9h0.6v0.6h-0.6zM142.5 334.8h0.6v0.6h-0.6zM152.5 340.0h0.6v0.6h-0.6zM145.8 333.1h0.6v0.6h-0.6zM146.0 327.0h0.6v0.6h-0.6zM149.3 338.1h0.6v0.6h-0.6zM153.8 336.5h0.6v0.6h-0.6zM146.2 344.3h0.6v0.6h-0.6zM149.8 333.6h0.6v0.6h-0.6zM147.8 335.9h0.6v0.6h-0.6zM146.8 339.6h0.6v0.6h-0.6zM148.6 333.5h0.6v0.6h-0.6zM156.3 347.1h0.6v0.6h-0.6zM154.1 343.4h0.6v0.6h-0.6zM147.1 330.6h0.6v0.6h-0.6zM155.4 339.6h0.6v0.6h-0.6zM152.5 343.2h0.6v0.6h-0.6zM140.6 321.4h0.6v0.6h-0.6zM154.8 335.0h0.6v0.6h-0.6zM149.5 331.0h0.6v0.6h-0.6zM148.3 335.4h0.6v0.6h-0.6zM156.0 337.0h0.6v0.6h-0.6zM139.8 329.9h0.6v0.6h-0.6zM148.9 328.8h0.6v0.6h-0.6zM152.7 339.6h0.6v0.6h-0.6zM151.1 340.4h0.6v0.6h-0.6zM149.0 335.6h0.6v0.6h-0.6zM143.7 323.8h0.6v0.6h-0.6zM150.6 333.1h0.6v0.6h-0.6zM140.0 339.4h0.6v0.6h-0.6zM147.0 329.9h0.6v0.6h-0.6zM151.7 341.5h0.6v0.6h-0.6zM151.5 338.3h0.6v0.6h-0.6zM149.9 335.2h0.6v0.6h-0.6zM148.1 335.2h0.6v0.6h-0.6zM146.3 325.4h0.6v0.6h-0.6zM152.6 331.6h0.6v0.6h-0.6zM156.7 340.8h0.6v0.6h-0.6zM154.7 329.7h0.6v0.6h-0.6zM149.5 339.1h0.6v0.6h-0.6zM148.4 334.0h0.6v0.6h-0.6zM154.8 338.3h0.6v0.6h-0.6zM151.9 337.2h0.6v0.6h-0.6zM148.7 337.3h0.6v0.6h-0.6zM151.5 341.0h0.6v0.6h-0.6zM143.9 335.1h0.6v0.6h-0.6zM151.2 336.1h0.6v0.6h-0.6zM148.6 337.7h0.6v0.6h-0.6zM153.5 337.0h0.6v0.6h-0.6zM151.8 337.6h0.6v0.6h-0.6zM152.9 335.8h0.6v0.6h-0.6zM152.6 336.3h0.6v0.6h-0.6zM149.6 344.0h0.6v0.6h-0.6zM157.4 348.8h0.6v0.6h-0.6zM148.7 338.3h0.6v0.6h-0.6zM145.1 335.7h0.6v0.6h-0.6zM144.6 334.9h0.6v0.6h-0.6zM142.6 335.1h0.6v0.6h-0.6zM149.4 342.0h0.6v0.6h-0.6zM145.7 333.1h0.6v0.6h-0.6zM154.7 343.4h0.6v0.6h-0.6zM148.9 342.7h0.6v0.6h-0.6zM148.4 335.3h0.6v0.6h-0.6zM150.7 342.5h0.6v0.6h-0.6zM144.2 343.5h0.6v0.6h-0.6zM149.3 342.6h0.6v0.6h-0.6zM147.0 330.3h0.6v0.6h-0.6zM148.3 340.6h0.6v0.6h-0.6zM147.8 331.3h0.6v0.6h-0.6zM143.5 334.8h0.6v0.6h-0.6zM157.5 342.8h0.6v0.6h-0.6zM151.2 331.2h0.6v0.6h-0.6zM147.1 343.0h0.6v0.6h-0.6zM145.5 328.3h0.6v0.6h-0.6zM143.2 329.7h0.6v0.6h-0.6zM146.5 327.9h0.6v0.6h-0.6zM155.0 339.4h0.6v0.6h-0.6zM143.0 345.8h0.6v0.6h-0.6zM146.8 335.1h0.6v0.6h-0.6zM148.7 335.1h0.6v0.6h-0.6zM152.0 345.0h0.6v0.6h-0.6zM147.5 329.8h0.6v0.6h-0.6zM153.8 344.1h0.6v0.6h-0.6zM151.1 334.1h0.6v0.6h-0.6zM149.5 339.7h0.6v0.6h-0.6zM160.4 342.4h0.6v0.6h-0.6zM151.6 339.2h0.6v0.6h-0.6zM155.3 344.4h0.6v0.6h-0.6zM160.1 342.9h0.6v0.6h-0.6zM154.8 336.7h0.6v0.6h-0.6zM150.0 338.4h0.6v0.6h-0.6zM150.5 337.3h0.6v0.6h-0.6zM152.2 339.3h0.6v0.6h-0.6zM142.9 333.3h0.6v0.6h-0.6zM151.8 333.9h0.6v0.6h-0.6zM149.4 335.6h0.6v0.6h-0.6zM141.9 330.3h0.6v0.6h-0.6zM147.4 337.0h0.6v0.6h-0.6zM146.6 338.3h0.6v0.6h-0.6zM144.4 332.6h0.6v0.6h-0.6zM155.1 333.4h0.6v0.6h-0.6zM147.3 337.4h0.6v0.6h-0.6zM144.6 333.2h0.6v0.6h-0.6zM154.2 335.1h0.6v0.6h-0.6zM150.2 334.3h0.6v0.6h-0.6zM142.0 335.1h0.6v0.6h-0.6zM146.4 328.2h0.6v0.6h-0.6zM149.9 345.7h0.6v0.6h-0.6zM145.7 334.3h0.6v0.6h-0.6zM144.0 331.8h0.6v0.6h-0.6zM143.1 328.1h0.6v0.6h-0.6zM151.1 335.3h0.6v0.6h-0.6zM147.9 334.3h0.6v0.6h-0.6zM149.6 340.4h0.6v0.6h-0.6zM148.6 317.6h0.6v0.6h-0.6zM149.6 344.8h0.6v0.6h-0.6zM148.6 336.1h0.6v0.6h-0.6zM148.7 339.7h0.6v0.6h-0.6zM141.4 333.6h0.6v0.6h-0.6zM143.3 330.0h0.6v0.6h-0.6zM151.0 338.7h0.6v0.6h-0.6zM145.9 334.6h0.6v0.6h-0.6zM156.1 342.0h0.6v0.6h-0.6zM143.7 339.1h0.6v0.6h-0.6zM149.9 331.8h0.6v0.6h-0.6zM152.3 347.1h0.6v0.6h-0.6zM148.4 335.9h0.6v0.6h-0.6zM141.0 330.8h0.6v0.6h-0.6zM153.6 336.2h0.6v0.6h-0.6zM139.1 329.9h0.6v0.6h-0.6zM150.3 334.7h0.6v0.6h-0.6zM148.6 338.2h0.6v0.6h-0.6zM151.9 328.3h0.6v0.6h-0.6zM148.1 329.4h0.6v0.6h-0.6zM147.6 335.2h0.6v0.6h-0.6zM147.6 325.9h0.6v0.6h-0.6zM146.5 333.7h0.6v0.6h-0.6zM148.7 333.7h0.6v0.6h-0.6zM150.0 338.5h0.6v0.6h-0.6zM143.1 334.9h0.6v0.6h-0.6zM146.2 336.6h0.6v0.6h-0.6zM148.1 340.0h0.6v0.6h-0.6zM147.7 337.1h0.6v0.6h-0.6zM145.5 332.6h0.6v0.6h-0.6zM157.7 331.3h0.6v0.6h-0.6zM152.1 345.8h0.6v0.6h-0.6zM151.5 347.3h0.6v0.6h-0.6zM140.5 330.4h0.6v0.6h-0.6zM143.3 330.2h0.6v0.6h-0.6zM143.2 335.1h0.6v0.6h-0.6zM144.8 339.2h0.6v0.6h-0.6zM145.5 333.6h0.6v0.6h-0.6zM144.6 333.2h0.6v0.6h-0.6zM150.2 331.8h0.6v0.6h-0.6zM145.4 327.6h0.6v0.6h-0.6zM146.8 333.4h0.6v0.6h-0.6zM151.5 339.2h0.6v0.6h-0.6zM149.2 336.6h0.6v0.6h-0.6zM152.7 334.9h0.6v0.6h-0.6zM153.1 332.8h0.6v0.6h-0.6zM150.6 338.0h0.6v0.6h-0.6zM147.5 336.6h0.6v0.6h-0.6zM141.7 324.3h0.6v0.6h-0.6zM150.1 333.0h0.6v0.6h-0.6zM150.6 331.8h0.6v0.6h-0.6zM150.6 339.2h0.6v0.6h-0.6zM151.7 328.6h0.6v0.6h-0.6zM150.2 338.0h0.6v0.6h-0.6zM147.4 337.2h0.6v0.6h-0.6zM148.7 333.8h0.6v0.6h-0.6zM156.3 348.0h0.6v0.6h-0.6zM153.6 344.8h0.6v0.6h-0.6zM146.9 332.8h0.6v0.6h-0.6zM150.3 334.5h0.6v0.6h-0.6zM146.7 327.6h0.6v0.6h-0.6zM152.8 341.1h0.6v0.6h-0.6zM148.9 338.2h0.6v0.6h-0.6zM150.4 330.2h0.6v0.6h-0.6zM140.2 331.5h0.6v0.6h-0.6zM144.0 338.4h0.6v0.6h-0.6zM146.0 336.8h0.6v0.6h-0.6zM150.3 331.5h0.6v0.6h-0.6zM152.3 334.5h0.6v0.6h-0.6zM158.5 346.5h0.6v0.6h-0.6zM149.0 340.1h0.6v0.6h-0.6zM147.5 338.3h0.6v0.6h-0.6zM151.6 335.4h0.6v0.6h-0.6zM146.9 340.2h0.6v0.6h-0.6zM146.4 337.0h0.6v0.6h-0.6zM147.0 326.8h0.6v0.6h-0.6zM147.8 339.9h0.6v0.6h-0.6zM140.8 327.3h0.6v0.6h-0.6zM155.0 333.2h0.6v0.6h-0.6zM150.2 337.3h0.6v0.6h-0.6zM143.1 331.8h0.6v0.6h-0.6zM150.2 337.7h0.6v0.6h-0.6zM149.9 335.3h0.6v0.6h-0.6zM145.8 335.9h0.6v0.6h-0.6zM147.1 333.2h0.6v0.6h-0.6zM144.2 334.5h0.6v0.6h-0.6zM146.5 337.9h0.6v0.6h-0.6zM144.6 329.1h0.6v0.6h-0.6zM143.8 336.0h0.6v0.6h-0.6zM151.0 340.3h0.6v0.6h-0.6zM145.5 332.1h0.6v0.6h-0.6zM151.0 346.0h0.6v0.6h-0.6zM150.5 335.6h0.6v0.6h-0.6zM149.1 336.1h0.6v0.6h-0.6zM146.1 333.4h0.6v0.6h-0.6zM150.8 337.7h0.6v0.6h-0.6zM150.8 329.2h0.6v0.6h-0.6zM147.7 342.4h0.6v0.6h-0.6zM153.3 347.7h0.6v0.6h-0.6zM146.3 326.4h0.6v0.6h-0.6zM145.4 332.1h0.6v0.6h-0.6zM152.5 338.4h0.6v0.6h-0.6zM148.0 336.9h0.6v0.6h-0.6zM150.9 341.6h0.6v0.6h-0.6zM152.9 342.0h0.6v0.6h-0.6zM150.7 333.5h0.6v0.6h-0.6zM146.4 338.1h0.6v0.6h-0.6zM147.9 331.5h0.6v0.6h-0.6zM147.0 325.1h0.6v0.6h-0.6zM145.2 335.0h0.6v0.6h-0.6zM149.3 330.7h0.6v0.6h-0.6zM142.5 327.1h0.6v0.6h-0.6zM147.6 332.4h0.6v0.6h-0.6zM146.6 331.2h0.6v0.6h-0.6zM153.3 339.7h0.6v0.6h-0.6zM150.2 340.9h0.6v0.6h-0.6zM151.4 341.1h0.6v0.6h-0.6zM147.7 336.1h0.6v0.6h-0.6zM144.6 344.0h0.6v0.6h-0.6zM151.6 337.5h0.6v0.6h-0.6zM145.9 336.7h0.6v0.6h-0.6zM152.2 338.1h0.6v0.6h-0.6zM152.9 338.2h0.6v0.6h-0.6zM152.7 341.4h0.6v0.6h-0.6zM153.7 337.3h0.6v0.6h-0.6zM158.2 345.3h0.6v0.6h-0.6zM136.0 334.2h0.6v0.6h-0.6zM149.3 335.5h0.6v0.6h-0.6zM143.7 334.2h0.6v0.6h-0.6zM148.5 327.0h0.6v0.6h-0.6zM156.0 337.7h0.6v0.6h-0.6zM148.5 338.7h0.6v0.6h-0.6zM146.8 330.1h0.6v0.6h-0.6zM144.7 341.0h0.6v0.6h-0.6zM142.1 336.6h0.6v0.6h-0.6zM149.0 344.9h0.6v0.6h-0.6zM149.8 336.1h0.6v0.6h-0.6zM147.5 331.5h0.6v0.6h-0.6zM144.1 334.4h0.6v0.6h-0.6zM147.9 325.8h0.6v0.6h-0.6zM151.6 328.5h0.6v0.6h-0.6zM148.0 330.2h0.6v0.6h-0.6zM152.3 337.1h0.6v0.6h-0.6zM148.4 332.9h0.6v0.6h-0.6z" fill="#000" fill-opacity="0.5"/>
<path d="M141.5,349.7 L141.6,349.2 L141.7,348.7 L141.8,348.2 L142.0,347.7 L142.2,347.1 L142.4,346.6 L142.7,346.0 L143.0,345.5 L143.3,345.0 L143.6,344.5 L144.0,344.1 L144.3,343.8 L144.7,343.5 L145.0,343.3 L145.4,343.1 L145.8,342.9 L146.2,342.8 L146.7,342.7 L147.1,342.7 L147.6,342.6 L148.1,342.5 L148.6,342.5 L149.2,342.5 L149.8,342.4 L150.4,342.4 L151.1,342.3 L151.8,342.3 L152.5,342.3 L153.2,342.3 L154.0,342.3 L154.7,342.4 L155.5,342.4 L156.3,342.4 L157.2,342.4 L158.0,342.4 L158.8,342.4 L159.7,342.4 L160.6,342.3 L161.5,342.2 L162.5,342.2 L163.5,342.1 L164.5,342.0 L165.5,341.9 L166.5,341.9 L167.4,341.9 L168.2,341.9 L168.9,342.0 L169.6,342.1 L170.2,342.3 L170.7,342.5 L171.1,342.8 L171.5,343.2 L171.8,343.5 L172.1,343.9 L172.3,344.3 L172.5,344.7 L172.7,345.1 L172.8,345.5 L173.0,345.9 L173.1,346.3 L173.2,346.7 L173.2,347.1 L173.3,347.4 L173.2,347.8 L173.2,348.2 L173.1,348.6 L173.0,349.0 L172.9,349.4 L172.8,349.8 L172.6,350.1 L172.5,350.5 L172.3,350.8 L172.2,351.1 L172.0,351.4 L171.9,351.7 L171.7,351.9 L171.6,352.2 L171.4,352.5 L171.2,352.7 L170.9,352.9 L170.6,353.2 L170.3,353.4 L169.8,353.6 L169.3,353.8 L168.7,354.0 L168.0,354.2 L167.2,354.4 L166.3,354.6 L165.4,354.8 L164.5,355.0 L163.5,355.1 L162.5,355.3 L161.6,355.4 L160.6,355.6 L159.7,355.7 L158.8,355.8 L157.9,355.9 L157.1,356.0 L156.2,356.0 L155.3,356.1 L154.4,356.1 L153.5,356.1 L152.6,356.1 L151.8,356.1 L151.0,356.1 L150.2,356.1 L149.5,356.1 L148.8,356.0 L148.2,355.9 L147.6,355.9 L147.0,355.8 L146.5,355.7 L146.0,355.6 L145.5,355.5 L145.1,355.3 L144.7,355.2 L144.3,355.0 L144.0,354.8 L143.6,354.5 L143.3,354.3 L143.0,354.0 L142.7,353.7 L142.5,353.4 L142.3,353.0 L142.1,352.7 L141.9,352.3 L141.7,351.9 L141.6,351.4 L141.5,351.0 L141.5,350.6 L141.5,350.1Z" fill="none" stroke="#000" stroke-width="3.4" stroke-opacity="0.72" filter="url(#bl)"/>
<path d="M141.5,349.7 L141.6,349.2 L141.7,348.7 L141.8,348.2 L142.0,347.7 L142.2,347.1 L142.4,346.6 L142.7,346.0 L143.0,345.5 L143.3,345.0 L143.6,344.5 L144.0,344.1 L144.3,343.8 L144.7,343.5 L145.0,343.3 L145.4,343.1 L145.8,342.9 L146.2,342.8 L146.7,342.7 L147.1,342.7 L147.6,342.6 L148.1,342.5 L148.6,342.5 L149.2,342.5 L149.8,342.4 L150.4,342.4 L151.1,342.3 L151.8,342.3 L152.5,342.3 L153.2,342.3 L154.0,342.3 L154.7,342.4 L155.5,342.4 L156.3,342.4 L157.2,342.4 L158.0,342.4 L158.8,342.4 L159.7,342.4 L160.6,342.3 L161.5,342.2 L162.5,342.2 L163.5,342.1 L164.5,342.0 L165.5,341.9 L166.5,341.9 L167.4,341.9 L168.2,341.9 L168.9,342.0 L169.6,342.1 L170.2,342.3 L170.7,342.5 L171.1,342.8 L171.5,343.2 L171.8,343.5 L172.1,343.9 L172.3,344.3 L172.5,344.7 L172.7,345.1 L172.8,345.5 L173.0,345.9 L173.1,346.3 L173.2,346.7 L173.2,347.1 L173.3,347.4 L173.2,347.8 L173.2,348.2 L173.1,348.6 L173.0,349.0 L172.9,349.4 L172.8,349.8 L172.6,350.1 L172.5,350.5 L172.3,350.8 L172.2,351.1 L172.0,351.4 L171.9,351.7 L171.7,351.9 L171.6,352.2 L171.4,352.5 L171.2,352.7 L170.9,352.9 L170.6,353.2 L170.3,353.4 L169.8,353.6 L169.3,353.8 L168.7,354.0 L168.0,354.2 L167.2,354.4 L166.3,354.6 L165.4,354.8 L164.5,355.0 L163.5,355.1 L162.5,355.3 L161.6,355.4 L160.6,355.6 L159.7,355.7 L158.8,355.8 L157.9,355.9 L157.1,356.0 L156.2,356.0 L155.3,356.1 L154.4,356.1 L153.5,356.1 L152.6,356.1 L151.8,356.1 L151.0,356.1 L150.2,356.1 L149.5,356.1 L148.8,356.0 L148.2,355.9 L147.6,355.9 L147.0,355.8 L146.5,355.7 L146.0,355.6 L145.5,355.5 L145.1,355.3 L144.7,355.2 L144.3,355.0 L144.0,354.8 L143.6,354.5 L143.3,354.3 L143.0,354.0 L142.7,353.7 L142.5,353.4 L142.3,353.0 L142.1,352.7 L141.9,352.3 L141.7,351.9 L141.6,351.4 L141.5,351.0 L141.5,350.6 L141.5,350.1Z" fill="#c8c8c8" stroke="#262626" stroke-width="0.75"/>
<path d="M143.4,349.6 L143.4,349.2 L143.5,348.8 L143.7,348.3 L143.8,347.8 L144.0,347.3 L144.2,346.8 L144.5,346.3 L144.7,345.9 L145.0,345.5 L145.3,345.1 L145.6,344.7 L145.9,344.4 L146.2,344.2 L146.5,344.0 L146.8,343.8 L147.2,343.7 L147.5,343.6 L147.9,343.5 L148.3,343.4 L148.8,343.3 L149.2,343.3 L149.7,343.3 L150.2,343.2 L150.7,343.2 L151.2,343.1 L151.8,343.1 L152.4,343.1 L153.0,343.1 L153.7,343.1 L154.4,343.1 L155.0,343.1 L155.7,343.1 L156.4,343.2 L157.2,343.2 L157.9,343.2 L158.6,343.2 L159.4,343.1 L160.2,343.1 L161.0,343.0 L161.9,343.0 L162.8,342.9 L163.7,342.8 L164.5,342.8 L165.4,342.7 L166.2,342.7 L166.9,342.7 L167.5,342.8 L168.1,342.9 L168.6,343.1 L169.0,343.3 L169.4,343.5 L169.8,343.8 L170.0,344.2 L170.3,344.5 L170.5,344.8 L170.7,345.2 L170.8,345.6 L171.0,345.9 L171.1,346.3 L171.2,346.6 L171.3,346.9 L171.3,347.3 L171.3,347.6 L171.3,348.0 L171.3,348.3 L171.2,348.7 L171.1,349.0 L171.0,349.3 L170.9,349.7 L170.8,350.0 L170.6,350.3 L170.5,350.6 L170.4,350.8 L170.2,351.1 L170.1,351.3 L170.0,351.6 L169.9,351.8 L169.7,352.0 L169.5,352.2 L169.3,352.4 L169.0,352.6 L168.7,352.8 L168.3,353.0 L167.9,353.2 L167.3,353.4 L166.7,353.6 L166.0,353.7 L165.2,353.9 L164.4,354.1 L163.6,354.2 L162.8,354.4 L161.9,354.5 L161.0,354.7 L160.2,354.8 L159.4,354.9 L158.6,355.0 L157.9,355.0 L157.1,355.1 L156.3,355.2 L155.5,355.2 L154.7,355.2 L153.9,355.3 L153.2,355.3 L152.4,355.3 L151.7,355.3 L151.0,355.2 L150.4,355.2 L149.8,355.1 L149.3,355.1 L148.7,355.0 L148.2,354.9 L147.8,354.9 L147.4,354.8 L146.9,354.7 L146.6,354.5 L146.2,354.4 L145.9,354.2 L145.5,354.1 L145.2,353.9 L145.0,353.6 L144.7,353.4 L144.5,353.1 L144.3,352.8 L144.1,352.5 L143.9,352.2 L143.7,351.9 L143.6,351.5 L143.5,351.1 L143.4,350.8 L143.4,350.4 L143.4,350.0Z" fill="#e4e4e4" stroke="#a8a8a8" stroke-width="0.45"/>
<path d="M146.2,349.4 L146.3,349.1 L146.3,348.8 L146.4,348.4 L146.6,348.0 L146.7,347.6 L146.9,347.2 L147.1,346.9 L147.3,346.5 L147.5,346.1 L147.7,345.8 L147.9,345.6 L148.2,345.3 L148.4,345.1 L148.7,345.0 L149.0,344.8 L149.2,344.7 L149.5,344.6 L149.8,344.6 L150.2,344.5 L150.5,344.5 L150.9,344.4 L151.2,344.4 L151.6,344.4 L152.0,344.3 L152.5,344.3 L152.9,344.3 L153.4,344.3 L153.9,344.3 L154.4,344.3 L154.9,344.3 L155.5,344.3 L156.0,344.3 L156.6,344.3 L157.2,344.3 L157.8,344.3 L158.3,344.3 L158.9,344.3 L159.6,344.3 L160.3,344.2 L160.9,344.2 L161.7,344.1 L162.4,344.0 L163.0,344.0 L163.7,344.0 L164.3,344.0 L164.9,344.0 L165.4,344.0 L165.9,344.1 L166.3,344.3 L166.6,344.4 L166.9,344.6 L167.2,344.9 L167.4,345.1 L167.6,345.4 L167.8,345.7 L167.9,346.0 L168.1,346.2 L168.2,346.5 L168.3,346.8 L168.3,347.1 L168.4,347.3 L168.4,347.6 L168.4,347.9 L168.4,348.1 L168.4,348.4 L168.3,348.7 L168.3,349.0 L168.2,349.2 L168.1,349.5 L168.0,349.7 L167.9,350.0 L167.8,350.2 L167.7,350.4 L167.6,350.6 L167.5,350.8 L167.4,351.0 L167.3,351.2 L167.2,351.4 L167.0,351.5 L166.8,351.7 L166.6,351.9 L166.4,352.0 L166.0,352.2 L165.7,352.3 L165.3,352.5 L164.8,352.6 L164.2,352.7 L163.6,352.9 L163.0,353.0 L162.3,353.1 L161.6,353.3 L160.9,353.4 L160.3,353.5 L159.6,353.6 L158.9,353.6 L158.3,353.7 L157.7,353.8 L157.1,353.8 L156.5,353.9 L155.9,353.9 L155.2,353.9 L154.6,353.9 L154.0,354.0 L153.4,354.0 L152.9,353.9 L152.3,353.9 L151.8,353.9 L151.3,353.9 L150.9,353.8 L150.5,353.8 L150.1,353.7 L149.7,353.6 L149.4,353.6 L149.0,353.5 L148.7,353.4 L148.5,353.3 L148.2,353.1 L147.9,353.0 L147.7,352.8 L147.5,352.7 L147.3,352.5 L147.1,352.3 L146.9,352.0 L146.7,351.8 L146.6,351.5 L146.5,351.2 L146.4,351.0 L146.3,350.7 L146.2,350.4 L146.2,350.1 L146.2,349.8Z" fill="#eeeeee" stroke="#c0c0c0" stroke-width="0.45"/>
<path d="M149.4,349.3 L149.4,349.0 L149.5,348.8 L149.5,348.5 L149.6,348.3 L149.7,348.0 L149.8,347.7 L150.0,347.4 L150.1,347.2 L150.3,346.9 L150.4,346.7 L150.6,346.5 L150.8,346.3 L150.9,346.2 L151.1,346.1 L151.3,346.0 L151.5,345.9 L151.7,345.8 L151.9,345.8 L152.2,345.8 L152.4,345.7 L152.7,345.7 L152.9,345.7 L153.2,345.7 L153.5,345.6 L153.8,345.6 L154.2,345.6 L154.5,345.6 L154.9,345.6 L155.2,345.6 L155.6,345.6 L156.0,345.6 L156.4,345.6 L156.8,345.6 L157.2,345.6 L157.6,345.6 L158.0,345.6 L158.4,345.6 L158.9,345.6 L159.4,345.5 L159.9,345.5 L160.4,345.5 L160.9,345.4 L161.4,345.4 L161.9,345.4 L162.3,345.4 L162.7,345.4 L163.1,345.4 L163.4,345.5 L163.7,345.6 L163.9,345.7 L164.2,345.8 L164.4,346.0 L164.5,346.2 L164.7,346.4 L164.8,346.6 L164.9,346.8 L165.0,347.0 L165.0,347.2 L165.1,347.4 L165.2,347.6 L165.2,347.8 L165.2,348.0 L165.2,348.1 L165.2,348.3 L165.2,348.5 L165.2,348.7 L165.1,348.9 L165.1,349.1 L165.0,349.3 L164.9,349.5 L164.8,349.7 L164.8,349.8 L164.7,350.0 L164.6,350.1 L164.6,350.3 L164.5,350.4 L164.4,350.5 L164.3,350.7 L164.2,350.8 L164.1,350.9 L163.9,351.0 L163.7,351.1 L163.5,351.2 L163.3,351.3 L163.0,351.4 L162.6,351.5 L162.2,351.6 L161.8,351.7 L161.3,351.8 L160.9,351.9 L160.4,352.0 L159.9,352.1 L159.4,352.2 L158.9,352.2 L158.5,352.3 L158.0,352.3 L157.6,352.4 L157.1,352.4 L156.7,352.4 L156.2,352.5 L155.8,352.5 L155.4,352.5 L154.9,352.5 L154.5,352.5 L154.1,352.5 L153.7,352.5 L153.4,352.5 L153.0,352.4 L152.7,352.4 L152.4,352.4 L152.1,352.3 L151.9,352.3 L151.6,352.2 L151.4,352.2 L151.2,352.1 L151.0,352.0 L150.8,351.9 L150.6,351.8 L150.4,351.7 L150.3,351.6 L150.1,351.4 L150.0,351.3 L149.9,351.1 L149.7,350.9 L149.6,350.8 L149.6,350.6 L149.5,350.4 L149.4,350.1 L149.4,349.9 L149.4,349.7 L149.4,349.5Z" fill="#f6f6f6" stroke="#d4d4d4" stroke-width="0.45"/>
<path d="M152.5,349.1 L152.5,349.0 L152.6,348.8 L152.6,348.7 L152.7,348.5 L152.7,348.3 L152.8,348.2 L152.9,348.0 L153.0,347.8 L153.1,347.7 L153.2,347.6 L153.3,347.4 L153.4,347.3 L153.5,347.3 L153.6,347.2 L153.7,347.1 L153.8,347.1 L153.9,347.0 L154.1,347.0 L154.2,347.0 L154.3,347.0 L154.5,347.0 L154.7,346.9 L154.8,346.9 L155.0,346.9 L155.2,346.9 L155.4,346.9 L155.6,346.9 L155.8,346.9 L156.0,346.9 L156.3,346.9 L156.5,346.9 L156.7,346.9 L157.0,346.9 L157.2,346.9 L157.5,346.9 L157.7,346.9 L158.0,346.9 L158.2,346.9 L158.5,346.9 L158.8,346.8 L159.1,346.8 L159.4,346.8 L159.7,346.8 L160.0,346.8 L160.3,346.8 L160.5,346.8 L160.8,346.8 L160.9,346.8 L161.1,346.9 L161.3,347.0 L161.4,347.0 L161.5,347.1 L161.6,347.3 L161.7,347.4 L161.8,347.5 L161.8,347.6 L161.9,347.7 L161.9,347.9 L162.0,348.0 L162.0,348.1 L162.0,348.2 L162.0,348.3 L162.0,348.4 L162.0,348.5 L162.0,348.7 L162.0,348.8 L162.0,348.9 L161.9,349.0 L161.9,349.1 L161.8,349.2 L161.8,349.3 L161.8,349.4 L161.7,349.5 L161.7,349.6 L161.6,349.7 L161.6,349.8 L161.5,349.9 L161.5,349.9 L161.4,350.0 L161.3,350.1 L161.3,350.1 L161.1,350.2 L161.0,350.3 L160.9,350.3 L160.7,350.4 L160.5,350.5 L160.2,350.5 L160.0,350.6 L159.7,350.6 L159.4,350.7 L159.1,350.7 L158.8,350.8 L158.5,350.8 L158.2,350.9 L158.0,350.9 L157.7,350.9 L157.4,351.0 L157.2,351.0 L156.9,351.0 L156.6,351.0 L156.4,351.0 L156.1,351.0 L155.9,351.0 L155.6,351.0 L155.4,351.0 L155.1,351.0 L154.9,351.0 L154.7,351.0 L154.5,351.0 L154.3,351.0 L154.2,350.9 L154.0,350.9 L153.9,350.9 L153.7,350.8 L153.6,350.8 L153.5,350.7 L153.4,350.7 L153.3,350.6 L153.1,350.6 L153.1,350.5 L153.0,350.4 L152.9,350.3 L152.8,350.2 L152.7,350.1 L152.7,350.0 L152.6,349.9 L152.6,349.8 L152.6,349.6 L152.5,349.5 L152.5,349.4 L152.5,349.2Z" fill="#fcfcfc" stroke="#e2e2e2" stroke-width="0.45"/>
<path d="M165.60,340.60 L168.80,331.80 L172.00,340.60Z" fill="#fafafa" stroke="#000" stroke-width="1.3"/>
<rect x="158.50" y="310.40" width="18.40" height="31.10" fill="none" stroke="#000" stroke-width="1.6"/>
<text x="167.70" y="320.00" font-size="9.3" text-anchor="middle" fill="#111" textLength="14.50" lengthAdjust="spacingAndGlyphs">11.9</text>
<ellipse cx="248.3" cy="333.3" rx="3.3" ry="5.0" fill="#000" fill-opacity="0.7" transform="rotate(0 248.3 333.3)" filter="url(#hz)"/>
<ellipse cx="234.1" cy="335.8" rx="14" ry="5.5" fill="#000" fill-opacity="0.42" transform="rotate(-38 234.1 335.8)" filter="url(#hz)"/>
<path d="M220.7 352.8h0.6v0.6h-0.6zM255.5 351.3h0.6v0.6h-0.6zM235.8 342.5h0.6v0.6h-0.6zM241.9 360.4h0.6v0.6h-0.6zM248.1 359.4h0.6v0.6h-0.6zM242.1 361.8h0.6v0.6h-0.6zM248.3 357.9h0.6v0.6h-0.6zM228.1 346.6h0.6v0.6h-0.6zM222.7 360.3h0.6v0.6h-0.6zM224.0 348.7h0.6v0.6h-0.6zM219.3 356.6h0.6v0.6h-0.6zM253.8 344.7h0.6v0.6h-0.6zM228.4 345.5h0.6v0.6h-0.6zM254.6 347.1h0.6v0.6h-0.6zM253.8 347.1h0.6v0.6h-0.6zM253.3 353.3h0.6v0.6h-0.6zM241.9 360.3h0.6v0.6h-0.6zM247.2 341.8h0.6v0.6h-0.6zM238.6 361.1h0.6v0.6h-0.6zM243.1 342.0h0.6v0.6h-0.6zM240.8 340.5h0.6v0.6h-0.6zM222.0 358.2h0.6v0.6h-0.6zM230.0 361.8h0.6v0.6h-0.6zM250.8 342.2h0.6v0.6h-0.6zM242.1 342.7h0.6v0.6h-0.6zM220.8 354.1h0.6v0.6h-0.6zM225.1 346.3h0.6v0.6h-0.6zM240.0 342.8h0.6v0.6h-0.6zM222.7 349.7h0.6v0.6h-0.6zM232.2 360.7h0.6v0.6h-0.6zM222.6 359.2h0.6v0.6h-0.6zM221.6 357.8h0.6v0.6h-0.6zM249.2 357.8h0.6v0.6h-0.6zM243.0 360.3h0.6v0.6h-0.6zM247.2 359.7h0.6v0.6h-0.6zM254.7 344.4h0.6v0.6h-0.6zM221.2 349.6h0.6v0.6h-0.6zM244.4 361.6h0.6v0.6h-0.6zM255.6 352.9h0.6v0.6h-0.6zM249.5 358.3h0.6v0.6h-0.6zM247.1 359.5h0.6v0.6h-0.6zM232.1 342.9h0.6v0.6h-0.6zM249.7 341.9h0.6v0.6h-0.6zM228.0 361.1h0.6v0.6h-0.6zM221.9 360.1h0.6v0.6h-0.6zM247.0 359.1h0.6v0.6h-0.6zM255.4 348.7h0.6v0.6h-0.6zM253.6 344.7h0.6v0.6h-0.6zM244.0 341.9h0.6v0.6h-0.6zM226.4 343.3h0.6v0.6h-0.6zM227.7 345.8h0.6v0.6h-0.6zM220.0 351.7h0.6v0.6h-0.6zM222.3 351.3h0.6v0.6h-0.6zM240.9 341.5h0.6v0.6h-0.6zM221.2 354.8h0.6v0.6h-0.6zM246.8 358.8h0.6v0.6h-0.6zM244.9 341.6h0.6v0.6h-0.6zM226.5 347.0h0.6v0.6h-0.6zM229.0 360.7h0.6v0.6h-0.6zM254.2 351.7h0.6v0.6h-0.6zM222.4 352.1h0.6v0.6h-0.6zM242.0 341.5h0.6v0.6h-0.6zM221.0 356.3h0.6v0.6h-0.6zM222.5 348.5h0.6v0.6h-0.6zM222.4 358.5h0.6v0.6h-0.6zM246.5 341.9h0.6v0.6h-0.6zM254.2 347.1h0.6v0.6h-0.6zM239.0 342.8h0.6v0.6h-0.6zM255.1 347.6h0.6v0.6h-0.6zM224.7 345.8h0.6v0.6h-0.6zM246.4 340.7h0.6v0.6h-0.6zM247.1 359.4h0.6v0.6h-0.6zM242.0 361.3h0.6v0.6h-0.6zM237.4 360.9h0.6v0.6h-0.6zM252.4 354.2h0.6v0.6h-0.6zM221.6 360.5h0.6v0.6h-0.6zM253.4 352.0h0.6v0.6h-0.6zM223.9 348.7h0.6v0.6h-0.6zM254.2 351.7h0.6v0.6h-0.6zM221.6 350.8h0.6v0.6h-0.6zM223.5 350.3h0.6v0.6h-0.6zM255.2 346.1h0.6v0.6h-0.6zM254.1 343.2h0.6v0.6h-0.6zM226.9 361.5h0.6v0.6h-0.6zM220.2 355.2h0.6v0.6h-0.6zM255.1 343.8h0.6v0.6h-0.6zM229.4 345.7h0.6v0.6h-0.6zM256.3 345.0h0.6v0.6h-0.6zM241.1 342.5h0.6v0.6h-0.6zM254.9 351.9h0.6v0.6h-0.6zM228.0 346.4h0.6v0.6h-0.6zM243.0 341.7h0.6v0.6h-0.6zM221.6 353.2h0.6v0.6h-0.6zM239.1 343.3h0.6v0.6h-0.6zM224.4 360.4h0.6v0.6h-0.6zM247.6 360.7h0.6v0.6h-0.6zM251.2 342.2h0.6v0.6h-0.6zM246.1 359.4h0.6v0.6h-0.6zM253.7 350.3h0.6v0.6h-0.6zM240.9 361.8h0.6v0.6h-0.6zM249.7 357.3h0.6v0.6h-0.6zM230.1 360.7h0.6v0.6h-0.6zM252.9 353.8h0.6v0.6h-0.6zM252.4 342.4h0.6v0.6h-0.6zM225.5 363.6h0.6v0.6h-0.6zM227.0 360.6h0.6v0.6h-0.6zM238.5 360.7h0.6v0.6h-0.6zM221.6 358.5h0.6v0.6h-0.6zM221.7 352.5h0.6v0.6h-0.6zM220.6 356.4h0.6v0.6h-0.6zM231.5 344.0h0.6v0.6h-0.6zM219.2 358.2h0.6v0.6h-0.6zM220.8 354.7h0.6v0.6h-0.6zM228.0 360.8h0.6v0.6h-0.6zM227.0 360.8h0.6v0.6h-0.6zM231.1 361.6h0.6v0.6h-0.6zM223.5 349.4h0.6v0.6h-0.6zM253.7 342.9h0.6v0.6h-0.6zM232.2 362.0h0.6v0.6h-0.6zM252.8 359.6h0.6v0.6h-0.6zM224.1 348.9h0.6v0.6h-0.6zM234.1 343.6h0.6v0.6h-0.6zM240.9 341.4h0.6v0.6h-0.6zM238.8 342.0h0.6v0.6h-0.6zM253.0 352.5h0.6v0.6h-0.6zM254.3 353.8h0.6v0.6h-0.6zM254.2 349.8h0.6v0.6h-0.6zM252.0 356.4h0.6v0.6h-0.6zM255.0 350.5h0.6v0.6h-0.6zM222.1 358.9h0.6v0.6h-0.6zM249.5 358.3h0.6v0.6h-0.6zM250.7 356.2h0.6v0.6h-0.6zM254.1 343.2h0.6v0.6h-0.6zM250.2 357.9h0.6v0.6h-0.6zM224.6 347.1h0.6v0.6h-0.6zM254.6 348.1h0.6v0.6h-0.6zM246.6 361.2h0.6v0.6h-0.6zM231.1 362.0h0.6v0.6h-0.6zM249.3 342.0h0.6v0.6h-0.6zM246.2 359.8h0.6v0.6h-0.6zM236.7 342.1h0.6v0.6h-0.6zM250.2 356.7h0.6v0.6h-0.6zM226.5 345.4h0.6v0.6h-0.6zM247.7 340.8h0.6v0.6h-0.6zM218.5 354.4h0.6v0.6h-0.6zM234.2 343.7h0.6v0.6h-0.6zM220.9 353.6h0.6v0.6h-0.6zM229.5 345.8h0.6v0.6h-0.6zM253.9 350.3h0.6v0.6h-0.6zM244.6 362.5h0.6v0.6h-0.6zM250.6 357.2h0.6v0.6h-0.6zM224.9 347.4h0.6v0.6h-0.6zM221.8 349.0h0.6v0.6h-0.6zM230.1 360.7h0.6v0.6h-0.6zM242.9 359.8h0.6v0.6h-0.6zM250.2 357.9h0.6v0.6h-0.6zM255.3 348.1h0.6v0.6h-0.6zM252.1 354.8h0.6v0.6h-0.6zM227.9 361.5h0.6v0.6h-0.6zM234.3 361.0h0.6v0.6h-0.6zM225.6 345.6h0.6v0.6h-0.6zM218.6 355.1h0.6v0.6h-0.6zM228.0 346.4h0.6v0.6h-0.6zM254.4 348.1h0.6v0.6h-0.6zM238.7 362.5h0.6v0.6h-0.6zM221.4 356.3h0.6v0.6h-0.6zM229.5 345.9h0.6v0.6h-0.6zM222.4 358.6h0.6v0.6h-0.6zM234.0 343.2h0.6v0.6h-0.6zM251.9 354.6h0.6v0.6h-0.6zM245.7 341.5h0.6v0.6h-0.6zM250.1 357.7h0.6v0.6h-0.6zM250.2 341.2h0.6v0.6h-0.6zM251.9 339.9h0.6v0.6h-0.6zM251.0 357.6h0.6v0.6h-0.6zM253.2 344.1h0.6v0.6h-0.6zM254.4 349.2h0.6v0.6h-0.6zM250.5 342.2h0.6v0.6h-0.6zM222.1 352.7h0.6v0.6h-0.6zM253.8 340.3h0.6v0.6h-0.6zM254.2 347.6h0.6v0.6h-0.6zM252.2 341.8h0.6v0.6h-0.6zM253.5 354.1h0.6v0.6h-0.6zM232.9 342.5h0.6v0.6h-0.6zM254.8 351.1h0.6v0.6h-0.6zM221.2 354.8h0.6v0.6h-0.6zM242.9 340.4h0.6v0.6h-0.6zM255.4 346.1h0.6v0.6h-0.6zM255.3 351.3h0.6v0.6h-0.6zM246.9 358.9h0.6v0.6h-0.6zM235.4 362.1h0.6v0.6h-0.6zM223.8 359.9h0.6v0.6h-0.6zM249.3 342.1h0.6v0.6h-0.6zM236.5 362.4h0.6v0.6h-0.6zM224.1 347.7h0.6v0.6h-0.6zM255.1 346.6h0.6v0.6h-0.6zM248.2 339.7h0.6v0.6h-0.6zM246.5 342.2h0.6v0.6h-0.6zM230.9 344.9h0.6v0.6h-0.6zM253.7 345.9h0.6v0.6h-0.6zM230.0 362.0h0.6v0.6h-0.6zM234.3 344.1h0.6v0.6h-0.6zM253.5 343.9h0.6v0.6h-0.6zM253.7 345.9h0.6v0.6h-0.6zM222.8 359.0h0.6v0.6h-0.6zM237.0 343.5h0.6v0.6h-0.6zM256.1 354.0h0.6v0.6h-0.6zM250.5 342.1h0.6v0.6h-0.6zM248.3 342.2h0.6v0.6h-0.6zM251.7 355.3h0.6v0.6h-0.6zM230.2 345.4h0.6v0.6h-0.6zM240.8 361.0h0.6v0.6h-0.6zM230.2 345.3h0.6v0.6h-0.6zM220.4 354.1h0.6v0.6h-0.6zM221.0 356.9h0.6v0.6h-0.6zM226.9 346.1h0.6v0.6h-0.6zM244.9 341.5h0.6v0.6h-0.6zM224.5 348.2h0.6v0.6h-0.6zM226.0 361.0h0.6v0.6h-0.6zM251.6 342.1h0.6v0.6h-0.6zM239.8 362.3h0.6v0.6h-0.6zM235.0 343.2h0.6v0.6h-0.6zM227.6 345.6h0.6v0.6h-0.6zM220.8 356.4h0.6v0.6h-0.6zM248.2 341.0h0.6v0.6h-0.6zM253.1 353.8h0.6v0.6h-0.6zM254.5 341.6h0.6v0.6h-0.6zM235.4 361.7h0.6v0.6h-0.6zM225.6 348.2h0.6v0.6h-0.6zM231.1 342.7h0.6v0.6h-0.6zM235.4 361.6h0.6v0.6h-0.6zM253.1 352.5h0.6v0.6h-0.6zM222.9 358.9h0.6v0.6h-0.6zM243.0 341.1h0.6v0.6h-0.6zM254.4 346.6h0.6v0.6h-0.6zM231.2 360.6h0.6v0.6h-0.6zM254.3 343.1h0.6v0.6h-0.6zM247.8 358.7h0.6v0.6h-0.6zM233.3 360.6h0.6v0.6h-0.6zM253.5 343.0h0.6v0.6h-0.6zM249.7 342.2h0.6v0.6h-0.6zM255.7 345.1h0.6v0.6h-0.6zM222.5 350.5h0.6v0.6h-0.6zM249.3 341.6h0.6v0.6h-0.6zM249.6 357.2h0.6v0.6h-0.6zM253.9 350.9h0.6v0.6h-0.6zM252.9 353.7h0.6v0.6h-0.6zM223.4 363.6h0.6v0.6h-0.6zM234.3 361.0h0.6v0.6h-0.6zM254.5 353.2h0.6v0.6h-0.6zM248.8 342.2h0.6v0.6h-0.6zM253.9 343.8h0.6v0.6h-0.6zM252.9 343.0h0.6v0.6h-0.6zM222.9 349.9h0.6v0.6h-0.6zM234.9 342.8h0.6v0.6h-0.6zM248.3 341.8h0.6v0.6h-0.6zM245.5 361.5h0.6v0.6h-0.6zM254.9 353.4h0.6v0.6h-0.6zM252.8 356.1h0.6v0.6h-0.6zM223.2 350.1h0.6v0.6h-0.6zM245.7 340.9h0.6v0.6h-0.6zM235.8 342.7h0.6v0.6h-0.6zM235.4 362.6h0.6v0.6h-0.6zM250.9 356.4h0.6v0.6h-0.6zM253.5 354.8h0.6v0.6h-0.6zM248.5 358.2h0.6v0.6h-0.6zM249.2 359.6h0.6v0.6h-0.6zM247.2 342.0h0.6v0.6h-0.6zM246.9 358.9h0.6v0.6h-0.6zM221.8 359.2h0.6v0.6h-0.6zM254.9 354.9h0.6v0.6h-0.6zM222.2 359.8h0.6v0.6h-0.6zM248.8 341.8h0.6v0.6h-0.6zM221.9 359.1h0.6v0.6h-0.6zM241.9 360.5h0.6v0.6h-0.6zM252.4 355.8h0.6v0.6h-0.6zM250.1 341.5h0.6v0.6h-0.6zM222.3 349.4h0.6v0.6h-0.6zM238.0 343.1h0.6v0.6h-0.6zM222.2 358.8h0.6v0.6h-0.6zM244.9 341.1h0.6v0.6h-0.6zM235.4 362.3h0.6v0.6h-0.6zM238.5 360.9h0.6v0.6h-0.6zM222.3 349.4h0.6v0.6h-0.6zM236.3 360.6h0.6v0.6h-0.6zM252.9 353.1h0.6v0.6h-0.6zM255.5 344.1h0.6v0.6h-0.6zM241.8 359.9h0.6v0.6h-0.6zM242.9 359.7h0.6v0.6h-0.6zM222.1 361.5h0.6v0.6h-0.6zM220.8 359.1h0.6v0.6h-0.6zM220.8 356.9h0.6v0.6h-0.6zM244.9 341.8h0.6v0.6h-0.6zM252.1 342.1h0.6v0.6h-0.6zM235.4 362.5h0.6v0.6h-0.6zM253.3 343.7h0.6v0.6h-0.6zM254.7 343.9h0.6v0.6h-0.6zM254.1 351.0h0.6v0.6h-0.6zM249.3 341.6h0.6v0.6h-0.6zM250.2 340.8h0.6v0.6h-0.6zM247.7 341.2h0.6v0.6h-0.6zM252.0 360.1h0.6v0.6h-0.6zM253.5 354.1h0.6v0.6h-0.6zM222.5 349.5h0.6v0.6h-0.6zM221.0 358.1h0.6v0.6h-0.6zM248.0 359.3h0.6v0.6h-0.6zM220.7 357.6h0.6v0.6h-0.6zM245.7 341.2h0.6v0.6h-0.6zM239.0 342.7h0.6v0.6h-0.6zM225.4 348.0h0.6v0.6h-0.6zM227.0 361.1h0.6v0.6h-0.6zM249.6 357.2h0.6v0.6h-0.6zM252.6 342.8h0.6v0.6h-0.6zM246.5 341.2h0.6v0.6h-0.6zM252.8 341.8h0.6v0.6h-0.6zM253.7 345.9h0.6v0.6h-0.6zM231.1 362.7h0.6v0.6h-0.6zM224.1 347.8h0.6v0.6h-0.6zM222.4 351.3h0.6v0.6h-0.6zM241.0 342.2h0.6v0.6h-0.6zM226.9 361.4h0.6v0.6h-0.6zM243.1 342.4h0.6v0.6h-0.6zM251.5 341.2h0.6v0.6h-0.6zM237.5 362.0h0.6v0.6h-0.6zM239.9 341.8h0.6v0.6h-0.6zM233.3 361.5h0.6v0.6h-0.6zM223.1 359.7h0.6v0.6h-0.6zM230.0 361.8h0.6v0.6h-0.6zM224.5 360.2h0.6v0.6h-0.6zM225.9 346.0h0.6v0.6h-0.6zM250.6 357.2h0.6v0.6h-0.6zM255.3 347.0h0.6v0.6h-0.6zM253.8 346.2h0.6v0.6h-0.6zM252.2 341.9h0.6v0.6h-0.6zM222.5 360.8h0.6v0.6h-0.6zM226.4 345.2h0.6v0.6h-0.6zM221.4 357.9h0.6v0.6h-0.6zM253.5 343.1h0.6v0.6h-0.6zM254.2 349.8h0.6v0.6h-0.6zM255.7 347.5h0.6v0.6h-0.6zM251.3 341.9h0.6v0.6h-0.6zM254.5 346.6h0.6v0.6h-0.6zM221.4 358.6h0.6v0.6h-0.6zM247.2 359.7h0.6v0.6h-0.6zM220.7 355.8h0.6v0.6h-0.6zM225.3 360.0h0.6v0.6h-0.6zM252.2 354.1h0.6v0.6h-0.6zM245.6 340.3h0.6v0.6h-0.6zM251.5 341.2h0.6v0.6h-0.6zM230.0 362.5h0.6v0.6h-0.6zM253.3 352.6h0.6v0.6h-0.6zM238.5 360.8h0.6v0.6h-0.6zM221.0 357.5h0.6v0.6h-0.6zM231.8 345.0h0.6v0.6h-0.6zM255.1 344.8h0.6v0.6h-0.6zM245.0 342.3h0.6v0.6h-0.6zM249.0 357.5h0.6v0.6h-0.6zM221.8 353.2h0.6v0.6h-0.6zM250.5 358.3h0.6v0.6h-0.6zM242.1 342.5h0.6v0.6h-0.6zM238.0 343.0h0.6v0.6h-0.6zM244.4 361.6h0.6v0.6h-0.6zM238.8 341.8h0.6v0.6h-0.6zM247.2 341.9h0.6v0.6h-0.6zM243.1 342.6h0.6v0.6h-0.6zM251.0 341.3h0.6v0.6h-0.6zM223.3 360.9h0.6v0.6h-0.6zM251.8 341.6h0.6v0.6h-0.6zM233.3 360.6h0.6v0.6h-0.6zM251.8 358.4h0.6v0.6h-0.6zM220.8 354.2h0.6v0.6h-0.6zM253.7 341.4h0.6v0.6h-0.6zM253.9 347.6h0.6v0.6h-0.6zM247.8 342.2h0.6v0.6h-0.6zM224.3 346.7h0.6v0.6h-0.6zM250.8 356.3h0.6v0.6h-0.6zM252.0 358.7h0.6v0.6h-0.6zM247.8 358.7h0.6v0.6h-0.6zM247.1 341.6h0.6v0.6h-0.6zM222.4 351.4h0.6v0.6h-0.6zM222.2 361.2h0.6v0.6h-0.6zM236.7 342.2h0.6v0.6h-0.6zM245.0 342.4h0.6v0.6h-0.6zM224.1 348.9h0.6v0.6h-0.6zM254.7 351.1h0.6v0.6h-0.6zM254.8 350.5h0.6v0.6h-0.6zM243.1 342.2h0.6v0.6h-0.6zM227.0 361.1h0.6v0.6h-0.6zM220.1 357.8h0.6v0.6h-0.6zM252.2 340.9h0.6v0.6h-0.6zM255.3 346.1h0.6v0.6h-0.6zM223.0 361.7h0.6v0.6h-0.6zM221.3 356.8h0.6v0.6h-0.6zM219.7 358.9h0.6v0.6h-0.6zM254.9 346.6h0.6v0.6h-0.6zM228.0 346.5h0.6v0.6h-0.6zM255.1 342.6h0.6v0.6h-0.6zM252.1 342.0h0.6v0.6h-0.6zM231.2 360.6h0.6v0.6h-0.6zM231.1 342.8h0.6v0.6h-0.6zM251.2 340.3h0.6v0.6h-0.6zM254.7 348.7h0.6v0.6h-0.6zM222.6 359.2h0.6v0.6h-0.6zM250.2 340.5h0.6v0.6h-0.6zM222.2 359.8h0.6v0.6h-0.6zM228.9 362.4h0.6v0.6h-0.6zM236.1 343.8h0.6v0.6h-0.6zM244.9 341.9h0.6v0.6h-0.6zM227.7 345.8h0.6v0.6h-0.6zM220.1 357.8h0.6v0.6h-0.6zM221.5 357.9h0.6v0.6h-0.6zM224.4 349.1h0.6v0.6h-0.6zM228.9 344.5h0.6v0.6h-0.6zM249.3 341.7h0.6v0.6h-0.6zM250.3 339.4h0.6v0.6h-0.6zM223.5 349.4h0.6v0.6h-0.6zM251.0 357.5h0.6v0.6h-0.6zM245.4 360.9h0.6v0.6h-0.6zM228.5 345.7h0.6v0.6h-0.6zM256.7 344.4h0.6v0.6h-0.6zM237.4 361.0h0.6v0.6h-0.6zM249.6 358.5h0.6v0.6h-0.6zM237.4 360.8h0.6v0.6h-0.6zM253.1 352.5h0.6v0.6h-0.6zM256.6 349.4h0.6v0.6h-0.6zM253.3 355.6h0.6v0.6h-0.6zM251.8 342.6h0.6v0.6h-0.6zM254.1 351.6h0.6v0.6h-0.6zM248.8 341.6h0.6v0.6h-0.6zM224.3 348.0h0.6v0.6h-0.6zM234.0 343.1h0.6v0.6h-0.6zM254.7 344.4h0.6v0.6h-0.6zM254.0 348.1h0.6v0.6h-0.6zM232.2 363.1h0.6v0.6h-0.6zM234.3 360.9h0.6v0.6h-0.6zM237.8 342.3h0.6v0.6h-0.6zM219.3 355.9h0.6v0.6h-0.6zM234.3 361.3h0.6v0.6h-0.6zM254.4 346.2h0.6v0.6h-0.6zM221.7 351.7h0.6v0.6h-0.6zM244.1 360.2h0.6v0.6h-0.6zM226.1 360.7h0.6v0.6h-0.6zM254.4 344.9h0.6v0.6h-0.6zM243.1 342.2h0.6v0.6h-0.6zM231.7 344.6h0.6v0.6h-0.6zM238.0 343.1h0.6v0.6h-0.6zM249.9 357.6h0.6v0.6h-0.6zM236.5 362.3h0.6v0.6h-0.6zM251.4 341.7h0.6v0.6h-0.6zM250.9 342.1h0.6v0.6h-0.6zM227.1 342.6h0.6v0.6h-0.6zM255.2 345.2h0.6v0.6h-0.6zM242.1 342.4h0.6v0.6h-0.6zM245.8 341.6h0.6v0.6h-0.6zM222.9 349.9h0.6v0.6h-0.6zM245.2 360.1h0.6v0.6h-0.6zM220.8 352.9h0.6v0.6h-0.6zM228.6 345.9h0.6v0.6h-0.6zM250.1 341.9h0.6v0.6h-0.6zM232.9 342.5h0.6v0.6h-0.6zM233.3 363.0h0.6v0.6h-0.6zM232.6 344.7h0.6v0.6h-0.6zM221.1 354.2h0.6v0.6h-0.6zM235.4 361.1h0.6v0.6h-0.6zM247.0 359.2h0.6v0.6h-0.6zM252.8 353.7h0.6v0.6h-0.6zM220.9 352.9h0.6v0.6h-0.6zM235.1 343.7h0.6v0.6h-0.6zM221.7 351.7h0.6v0.6h-0.6zM254.5 354.7h0.6v0.6h-0.6zM236.1 343.8h0.6v0.6h-0.6zM228.7 346.1h0.6v0.6h-0.6zM243.0 360.4h0.6v0.6h-0.6zM228.8 346.2h0.6v0.6h-0.6zM220.8 354.7h0.6v0.6h-0.6zM249.7 342.1h0.6v0.6h-0.6zM255.9 348.1h0.6v0.6h-0.6zM234.2 343.8h0.6v0.6h-0.6zM221.6 359.4h0.6v0.6h-0.6zM231.6 344.1h0.6v0.6h-0.6zM235.4 361.3h0.6v0.6h-0.6zM247.8 342.0h0.6v0.6h-0.6zM227.3 343.2h0.6v0.6h-0.6zM251.0 341.5h0.6v0.6h-0.6zM256.2 346.0h0.6v0.6h-0.6zM225.7 362.7h0.6v0.6h-0.6zM225.2 360.4h0.6v0.6h-0.6zM234.3 360.8h0.6v0.6h-0.6zM254.0 349.8h0.6v0.6h-0.6zM247.7 340.6h0.6v0.6h-0.6zM223.3 360.9h0.6v0.6h-0.6zM246.8 358.7h0.6v0.6h-0.6zM254.4 344.5h0.6v0.6h-0.6zM247.9 358.9h0.6v0.6h-0.6zM241.9 360.8h0.6v0.6h-0.6zM254.5 340.5h0.6v0.6h-0.6zM254.5 353.9h0.6v0.6h-0.6zM248.8 341.3h0.6v0.6h-0.6zM244.0 342.0h0.6v0.6h-0.6zM232.2 362.6h0.6v0.6h-0.6zM231.7 344.6h0.6v0.6h-0.6zM253.4 354.0h0.6v0.6h-0.6zM237.8 342.1h0.6v0.6h-0.6zM253.4 352.7h0.6v0.6h-0.6zM251.2 342.3h0.6v0.6h-0.6zM237.9 342.8h0.6v0.6h-0.6zM224.3 360.8h0.6v0.6h-0.6zM236.8 342.6h0.6v0.6h-0.6zM241.0 342.2h0.6v0.6h-0.6zM253.9 345.0h0.6v0.6h-0.6zM235.2 344.0h0.6v0.6h-0.6zM224.3 348.0h0.6v0.6h-0.6zM239.6 360.4h0.6v0.6h-0.6zM250.7 340.2h0.6v0.6h-0.6zM248.3 341.5h0.6v0.6h-0.6zM247.8 342.0h0.6v0.6h-0.6zM231.5 344.0h0.6v0.6h-0.6zM247.2 342.3h0.6v0.6h-0.6zM232.3 343.6h0.6v0.6h-0.6zM236.4 361.4h0.6v0.6h-0.6zM229.4 343.3h0.6v0.6h-0.6zM252.6 358.0h0.6v0.6h-0.6zM230.0 344.9h0.6v0.6h-0.6zM245.7 341.5h0.6v0.6h-0.6zM251.5 341.2h0.6v0.6h-0.6zM254.5 350.4h0.6v0.6h-0.6zM235.3 360.6h0.6v0.6h-0.6zM221.6 352.5h0.6v0.6h-0.6zM252.3 355.7h0.6v0.6h-0.6zM239.7 360.8h0.6v0.6h-0.6zM247.9 359.0h0.6v0.6h-0.6zM233.3 343.9h0.6v0.6h-0.6zM232.2 364.5h0.6v0.6h-0.6zM226.9 361.5h0.6v0.6h-0.6zM221.3 354.3h0.6v0.6h-0.6zM253.9 346.2h0.6v0.6h-0.6zM236.9 342.9h0.6v0.6h-0.6zM220.4 357.0h0.6v0.6h-0.6zM221.0 354.7h0.6v0.6h-0.6zM250.2 341.1h0.6v0.6h-0.6zM224.0 348.8h0.6v0.6h-0.6zM223.2 349.1h0.6v0.6h-0.6zM221.6 353.2h0.6v0.6h-0.6zM246.5 360.8h0.6v0.6h-0.6zM252.6 356.9h0.6v0.6h-0.6zM226.1 360.3h0.6v0.6h-0.6zM255.1 343.2h0.6v0.6h-0.6zM254.1 346.2h0.6v0.6h-0.6zM236.6 341.5h0.6v0.6h-0.6zM224.0 348.7h0.6v0.6h-0.6zM232.4 344.0h0.6v0.6h-0.6zM247.1 341.3h0.6v0.6h-0.6zM250.6 341.0h0.6v0.6h-0.6zM241.9 360.4h0.6v0.6h-0.6zM254.3 349.2h0.6v0.6h-0.6zM248.8 341.6h0.6v0.6h-0.6zM220.8 359.1h0.6v0.6h-0.6zM254.9 346.1h0.6v0.6h-0.6zM254.5 347.1h0.6v0.6h-0.6zM249.7 341.8h0.6v0.6h-0.6zM240.9 361.8h0.6v0.6h-0.6zM227.6 345.8h0.6v0.6h-0.6zM248.6 358.5h0.6v0.6h-0.6zM237.0 343.6h0.6v0.6h-0.6zM233.3 343.9h0.6v0.6h-0.6zM252.1 342.8h0.6v0.6h-0.6zM249.3 358.0h0.6v0.6h-0.6zM225.9 361.6h0.6v0.6h-0.6zM248.7 340.7h0.6v0.6h-0.6zM254.0 351.6h0.6v0.6h-0.6zM223.2 359.6h0.6v0.6h-0.6zM254.3 347.6h0.6v0.6h-0.6zM255.3 350.6h0.6v0.6h-0.6zM245.7 341.1h0.6v0.6h-0.6zM220.9 351.3h0.6v0.6h-0.6zM225.3 360.0h0.6v0.6h-0.6zM254.5 347.1h0.6v0.6h-0.6zM235.7 342.2h0.6v0.6h-0.6zM233.3 361.6h0.6v0.6h-0.6zM219.4 354.5h0.6v0.6h-0.6zM220.1 351.7h0.6v0.6h-0.6zM241.8 360.0h0.6v0.6h-0.6zM253.7 345.1h0.6v0.6h-0.6zM250.6 341.5h0.6v0.6h-0.6zM231.2 360.6h0.6v0.6h-0.6zM232.4 344.0h0.6v0.6h-0.6zM221.2 358.1h0.6v0.6h-0.6zM244.1 342.5h0.6v0.6h-0.6zM233.4 344.1h0.6v0.6h-0.6zM226.4 346.7h0.6v0.6h-0.6zM235.4 361.5h0.6v0.6h-0.6zM229.3 345.4h0.6v0.6h-0.6zM254.4 347.6h0.6v0.6h-0.6zM223.7 348.4h0.6v0.6h-0.6zM235.3 360.6h0.6v0.6h-0.6zM237.4 360.7h0.6v0.6h-0.6zM235.4 361.6h0.6v0.6h-0.6zM229.1 345.0h0.6v0.6h-0.6zM226.9 361.6h0.6v0.6h-0.6zM242.3 363.0h0.6v0.6h-0.6zM254.3 345.4h0.6v0.6h-0.6zM232.6 344.4h0.6v0.6h-0.6zM221.5 353.1h0.6v0.6h-0.6zM234.3 360.9h0.6v0.6h-0.6zM245.0 359.5h0.6v0.6h-0.6zM255.4 343.1h0.6v0.6h-0.6zM220.3 355.8h0.6v0.6h-0.6zM248.6 358.4h0.6v0.6h-0.6zM219.4 354.5h0.6v0.6h-0.6zM253.6 344.7h0.6v0.6h-0.6zM224.2 360.9h0.6v0.6h-0.6zM236.5 363.4h0.6v0.6h-0.6zM253.7 343.4h0.6v0.6h-0.6zM254.5 344.0h0.6v0.6h-0.6zM221.9 350.1h0.6v0.6h-0.6zM255.6 352.1h0.6v0.6h-0.6zM251.8 355.3h0.6v0.6h-0.6zM226.1 360.4h0.6v0.6h-0.6zM229.2 345.1h0.6v0.6h-0.6zM234.4 362.3h0.6v0.6h-0.6zM224.3 349.1h0.6v0.6h-0.6zM219.6 357.2h0.6v0.6h-0.6zM236.4 361.6h0.6v0.6h-0.6zM254.5 355.4h0.6v0.6h-0.6zM253.3 354.7h0.6v0.6h-0.6zM253.8 351.5h0.6v0.6h-0.6zM240.0 342.8h0.6v0.6h-0.6zM253.0 353.8h0.6v0.6h-0.6zM234.1 343.4h0.6v0.6h-0.6zM218.0 356.7h0.6v0.6h-0.6zM226.1 360.8h0.6v0.6h-0.6zM253.7 352.2h0.6v0.6h-0.6zM225.0 361.2h0.6v0.6h-0.6zM235.4 362.7h0.6v0.6h-0.6zM247.1 341.5h0.6v0.6h-0.6zM221.2 358.1h0.6v0.6h-0.6zM227.2 346.6h0.6v0.6h-0.6zM246.8 358.8h0.6v0.6h-0.6zM243.0 360.2h0.6v0.6h-0.6zM223.2 359.5h0.6v0.6h-0.6zM251.6 342.3h0.6v0.6h-0.6zM254.5 349.8h0.6v0.6h-0.6zM241.8 340.1h0.6v0.6h-0.6zM231.1 361.0h0.6v0.6h-0.6zM220.9 354.7h0.6v0.6h-0.6zM248.4 358.1h0.6v0.6h-0.6zM225.1 361.0h0.6v0.6h-0.6zM226.9 361.5h0.6v0.6h-0.6zM219.6 351.5h0.6v0.6h-0.6zM254.7 349.2h0.6v0.6h-0.6zM240.7 360.4h0.6v0.6h-0.6zM255.3 344.7h0.6v0.6h-0.6zM236.7 341.9h0.6v0.6h-0.6zM241.0 342.3h0.6v0.6h-0.6zM254.2 350.4h0.6v0.6h-0.6zM250.7 356.2h0.6v0.6h-0.6zM250.3 356.9h0.6v0.6h-0.6zM239.6 360.4h0.6v0.6h-0.6zM250.7 356.3h0.6v0.6h-0.6zM254.6 349.8h0.6v0.6h-0.6zM220.2 351.8h0.6v0.6h-0.6zM227.9 346.2h0.6v0.6h-0.6zM219.2 355.9h0.6v0.6h-0.6zM229.4 345.6h0.6v0.6h-0.6zM253.7 346.3h0.6v0.6h-0.6zM252.4 353.5h0.6v0.6h-0.6zM254.5 346.6h0.6v0.6h-0.6zM244.9 341.9h0.6v0.6h-0.6zM223.5 350.3h0.6v0.6h-0.6zM229.8 344.3h0.6v0.6h-0.6zM233.3 361.4h0.6v0.6h-0.6zM221.0 353.6h0.6v0.6h-0.6zM254.5 344.4h0.6v0.6h-0.6zM236.4 362.0h0.6v0.6h-0.6zM251.9 358.6h0.6v0.6h-0.6zM246.2 359.8h0.6v0.6h-0.6zM219.3 356.6h0.6v0.6h-0.6zM245.7 341.5h0.6v0.6h-0.6zM254.5 346.2h0.6v0.6h-0.6zM250.3 356.9h0.6v0.6h-0.6zM222.2 350.3h0.6v0.6h-0.6zM251.4 341.5h0.6v0.6h-0.6zM228.5 345.6h0.6v0.6h-0.6zM239.8 361.7h0.6v0.6h-0.6zM228.0 360.7h0.6v0.6h-0.6zM251.4 355.9h0.6v0.6h-0.6zM251.0 356.5h0.6v0.6h-0.6zM222.1 351.9h0.6v0.6h-0.6zM254.0 348.1h0.6v0.6h-0.6zM224.5 346.9h0.6v0.6h-0.6zM254.0 353.0h0.6v0.6h-0.6zM253.7 351.5h0.6v0.6h-0.6zM249.2 340.2h0.6v0.6h-0.6zM253.2 354.7h0.6v0.6h-0.6zM245.7 341.5h0.6v0.6h-0.6zM245.8 362.6h0.6v0.6h-0.6zM254.0 352.3h0.6v0.6h-0.6zM244.0 341.3h0.6v0.6h-0.6zM239.7 360.9h0.6v0.6h-0.6zM239.6 360.6h0.6v0.6h-0.6zM227.4 346.9h0.6v0.6h-0.6zM223.9 347.5h0.6v0.6h-0.6zM251.2 342.2h0.6v0.6h-0.6zM233.5 344.4h0.6v0.6h-0.6zM256.3 347.5h0.6v0.6h-0.6zM230.0 344.8h0.6v0.6h-0.6zM254.4 347.6h0.6v0.6h-0.6zM222.9 358.9h0.6v0.6h-0.6zM225.7 347.2h0.6v0.6h-0.6zM251.6 340.9h0.6v0.6h-0.6zM254.1 353.7h0.6v0.6h-0.6zM223.4 349.2h0.6v0.6h-0.6zM253.1 341.3h0.6v0.6h-0.6zM231.1 361.5h0.6v0.6h-0.6zM253.8 343.8h0.6v0.6h-0.6zM221.4 352.4h0.6v0.6h-0.6zM247.8 342.1h0.6v0.6h-0.6zM220.1 357.8h0.6v0.6h-0.6zM253.5 354.8h0.6v0.6h-0.6zM251.3 355.8h0.6v0.6h-0.6zM235.3 360.7h0.6v0.6h-0.6zM220.5 351.9h0.6v0.6h-0.6zM250.3 359.5h0.6v0.6h-0.6zM239.6 360.2h0.6v0.6h-0.6zM220.9 356.3h0.6v0.6h-0.6zM228.0 360.5h0.6v0.6h-0.6zM220.3 355.2h0.6v0.6h-0.6zM223.3 361.0h0.6v0.6h-0.6zM237.0 343.4h0.6v0.6h-0.6zM247.2 341.8h0.6v0.6h-0.6zM245.3 360.5h0.6v0.6h-0.6zM248.3 342.1h0.6v0.6h-0.6zM252.0 341.2h0.6v0.6h-0.6zM219.7 355.2h0.6v0.6h-0.6zM219.6 354.6h0.6v0.6h-0.6zM222.1 351.9h0.6v0.6h-0.6zM225.2 360.3h0.6v0.6h-0.6zM253.2 353.3h0.6v0.6h-0.6zM242.1 342.5h0.6v0.6h-0.6zM243.2 361.1h0.6v0.6h-0.6zM228.0 360.9h0.6v0.6h-0.6zM254.9 353.4h0.6v0.6h-0.6zM231.6 344.2h0.6v0.6h-0.6zM230.0 362.0h0.6v0.6h-0.6zM253.6 352.1h0.6v0.6h-0.6zM234.3 360.8h0.6v0.6h-0.6zM256.6 344.9h0.6v0.6h-0.6zM248.2 359.7h0.6v0.6h-0.6zM232.2 360.8h0.6v0.6h-0.6zM250.7 340.2h0.6v0.6h-0.6zM236.8 342.7h0.6v0.6h-0.6zM221.1 351.4h0.6v0.6h-0.6zM247.7 358.6h0.6v0.6h-0.6zM250.3 356.9h0.6v0.6h-0.6zM235.1 343.6h0.6v0.6h-0.6zM241.9 341.0h0.6v0.6h-0.6zM235.3 361.0h0.6v0.6h-0.6zM222.9 360.0h0.6v0.6h-0.6zM252.7 343.2h0.6v0.6h-0.6zM244.9 341.5h0.6v0.6h-0.6zM226.5 345.5h0.6v0.6h-0.6zM251.2 342.2h0.6v0.6h-0.6zM246.9 359.1h0.6v0.6h-0.6zM254.2 342.5h0.6v0.6h-0.6zM246.4 340.3h0.6v0.6h-0.6zM238.6 361.5h0.6v0.6h-0.6zM225.2 360.4h0.6v0.6h-0.6zM228.9 344.6h0.6v0.6h-0.6zM237.6 362.5h0.6v0.6h-0.6zM253.8 345.4h0.6v0.6h-0.6zM250.8 356.3h0.6v0.6h-0.6zM218.5 355.1h0.6v0.6h-0.6zM225.1 347.6h0.6v0.6h-0.6zM227.5 345.5h0.6v0.6h-0.6zM220.2 354.0h0.6v0.6h-0.6zM245.9 359.0h0.6v0.6h-0.6zM254.7 349.9h0.6v0.6h-0.6zM236.1 343.8h0.6v0.6h-0.6zM250.5 342.2h0.6v0.6h-0.6zM233.3 362.3h0.6v0.6h-0.6zM224.4 360.2h0.6v0.6h-0.6zM226.7 345.8h0.6v0.6h-0.6zM254.3 346.6h0.6v0.6h-0.6zM245.7 341.4h0.6v0.6h-0.6zM248.3 341.7h0.6v0.6h-0.6zM254.0 348.6h0.6v0.6h-0.6zM238.7 341.1h0.6v0.6h-0.6zM226.0 346.1h0.6v0.6h-0.6zM254.3 345.8h0.6v0.6h-0.6zM251.0 341.4h0.6v0.6h-0.6zM254.0 342.6h0.6v0.6h-0.6zM223.8 348.5h0.6v0.6h-0.6zM222.9 349.9h0.6v0.6h-0.6zM245.7 341.1h0.6v0.6h-0.6zM221.3 351.5h0.6v0.6h-0.6zM222.8 348.7h0.6v0.6h-0.6zM246.6 361.0h0.6v0.6h-0.6zM228.9 361.8h0.6v0.6h-0.6zM241.0 342.0h0.6v0.6h-0.6zM228.6 345.8h0.6v0.6h-0.6zM243.0 367.2h0.6v0.6h-0.6zM247.0 362.5h0.6v0.6h-0.6zM243.6 337.7h0.6v0.6h-0.6zM227.6 364.5h0.6v0.6h-0.6zM258.6 343.2h0.6v0.6h-0.6zM221.2 359.8h0.6v0.6h-0.6zM252.9 336.7h0.6v0.6h-0.6zM256.0 353.9h0.6v0.6h-0.6zM255.1 352.7h0.6v0.6h-0.6zM227.8 339.1h0.6v0.6h-0.6zM253.9 341.3h0.6v0.6h-0.6zM251.1 337.5h0.6v0.6h-0.6zM252.4 342.3h0.6v0.6h-0.6zM254.1 344.6h0.6v0.6h-0.6zM256.3 354.9h0.6v0.6h-0.6zM237.9 342.9h0.6v0.6h-0.6zM231.0 364.3h0.6v0.6h-0.6zM218.6 351.0h0.6v0.6h-0.6zM232.1 342.9h0.6v0.6h-0.6zM253.0 341.5h0.6v0.6h-0.6zM244.6 362.5h0.6v0.6h-0.6zM250.5 357.1h0.6v0.6h-0.6zM219.4 356.5h0.6v0.6h-0.6zM255.0 346.6h0.6v0.6h-0.6zM252.7 356.0h0.6v0.6h-0.6zM253.9 338.7h0.6v0.6h-0.6zM258.4 343.3h0.6v0.6h-0.6zM259.4 347.4h0.6v0.6h-0.6zM256.8 348.1h0.6v0.6h-0.6zM239.6 339.9h0.6v0.6h-0.6zM240.9 340.9h0.6v0.6h-0.6zM246.4 360.5h0.6v0.6h-0.6zM253.4 357.6h0.6v0.6h-0.6zM223.6 362.9h0.6v0.6h-0.6zM255.6 352.1h0.6v0.6h-0.6zM237.9 342.8h0.6v0.6h-0.6zM250.7 332.1h0.6v0.6h-0.6zM229.9 363.3h0.6v0.6h-0.6zM221.1 357.5h0.6v0.6h-0.6zM248.2 362.3h0.6v0.6h-0.6zM247.7 340.9h0.6v0.6h-0.6zM248.8 364.1h0.6v0.6h-0.6zM219.6 348.5h0.6v0.6h-0.6zM253.9 342.1h0.6v0.6h-0.6zM237.0 370.4h0.6v0.6h-0.6zM254.7 343.4h0.6v0.6h-0.6zM216.9 362.0h0.6v0.6h-0.6zM256.2 357.5h0.6v0.6h-0.6zM237.5 362.0h0.6v0.6h-0.6zM244.5 338.1h0.6v0.6h-0.6zM218.4 362.6h0.6v0.6h-0.6zM224.6 344.1h0.6v0.6h-0.6zM229.0 342.4h0.6v0.6h-0.6zM233.3 365.1h0.6v0.6h-0.6zM240.7 339.7h0.6v0.6h-0.6zM224.5 343.9h0.6v0.6h-0.6zM251.7 359.8h0.6v0.6h-0.6zM251.2 340.3h0.6v0.6h-0.6zM226.2 343.0h0.6v0.6h-0.6zM226.0 344.5h0.6v0.6h-0.6zM220.2 358.6h0.6v0.6h-0.6zM243.0 360.4h0.6v0.6h-0.6zM255.5 357.0h0.6v0.6h-0.6zM220.1 354.0h0.6v0.6h-0.6zM226.8 362.4h0.6v0.6h-0.6zM236.9 369.0h0.6v0.6h-0.6zM226.1 342.8h0.6v0.6h-0.6zM235.4 362.1h0.6v0.6h-0.6zM238.8 363.7h0.6v0.6h-0.6zM255.8 346.5h0.6v0.6h-0.6zM235.6 341.6h0.6v0.6h-0.6zM251.0 338.3h0.6v0.6h-0.6zM255.8 354.6h0.6v0.6h-0.6zM257.1 343.0h0.6v0.6h-0.6zM248.1 338.7h0.6v0.6h-0.6zM238.5 339.8h0.6v0.6h-0.6zM233.5 341.2h0.6v0.6h-0.6zM240.9 361.8h0.6v0.6h-0.6zM226.0 360.9h0.6v0.6h-0.6zM250.1 341.5h0.6v0.6h-0.6zM252.5 342.2h0.6v0.6h-0.6zM233.3 364.2h0.6v0.6h-0.6zM225.5 341.6h0.6v0.6h-0.6zM235.6 367.0h0.6v0.6h-0.6zM238.4 339.3h0.6v0.6h-0.6zM224.1 346.4h0.6v0.6h-0.6zM254.7 351.8h0.6v0.6h-0.6zM228.8 363.6h0.6v0.6h-0.6zM239.8 361.8h0.6v0.6h-0.6zM234.5 365.8h0.6v0.6h-0.6zM246.1 337.4h0.6v0.6h-0.6zM251.4 339.7h0.6v0.6h-0.6zM219.4 353.1h0.6v0.6h-0.6zM255.9 343.4h0.6v0.6h-0.6zM257.9 347.4h0.6v0.6h-0.6zM243.1 360.9h0.6v0.6h-0.6zM243.0 341.6h0.6v0.6h-0.6zM252.7 356.0h0.6v0.6h-0.6zM248.0 337.5h0.6v0.6h-0.6zM226.2 342.9h0.6v0.6h-0.6zM242.0 341.6h0.6v0.6h-0.6zM240.6 339.0h0.6v0.6h-0.6zM218.7 359.4h0.6v0.6h-0.6zM251.1 356.6h0.6v0.6h-0.6zM245.4 337.8h0.6v0.6h-0.6zM227.8 344.0h0.6v0.6h-0.6zM245.7 341.0h0.6v0.6h-0.6zM223.7 347.3h0.6v0.6h-0.6zM255.3 354.4h0.6v0.6h-0.6zM235.7 342.1h0.6v0.6h-0.6zM256.7 345.4h0.6v0.6h-0.6zM220.3 358.5h0.6v0.6h-0.6zM253.3 353.3h0.6v0.6h-0.6zM233.3 366.2h0.6v0.6h-0.6zM223.7 340.4h0.6v0.6h-0.6zM231.0 339.3h0.6v0.6h-0.6zM253.9 362.5h0.6v0.6h-0.6zM230.0 363.1h0.6v0.6h-0.6zM220.7 352.8h0.6v0.6h-0.6zM249.5 360.0h0.6v0.6h-0.6zM235.5 341.2h0.6v0.6h-0.6zM250.3 338.6h0.6v0.6h-0.6zM229.6 343.9h0.6v0.6h-0.6zM229.9 364.4h0.6v0.6h-0.6zM251.0 362.8h0.6v0.6h-0.6zM257.2 348.7h0.6v0.6h-0.6zM259.6 344.4h0.6v0.6h-0.6zM239.1 336.8h0.6v0.6h-0.6zM229.8 341.9h0.6v0.6h-0.6zM224.4 360.3h0.6v0.6h-0.6zM234.4 362.0h0.6v0.6h-0.6zM253.6 362.1h0.6v0.6h-0.6zM244.0 341.9h0.6v0.6h-0.6zM217.5 360.1h0.6v0.6h-0.6zM256.5 348.1h0.6v0.6h-0.6zM254.7 330.8h0.6v0.6h-0.6zM222.4 348.4h0.6v0.6h-0.6zM245.6 340.0h0.6v0.6h-0.6zM234.3 361.2h0.6v0.6h-0.6zM257.0 341.4h0.6v0.6h-0.6zM260.3 352.5h0.6v0.6h-0.6zM250.7 340.4h0.6v0.6h-0.6zM251.9 360.0h0.6v0.6h-0.6zM253.8 340.2h0.6v0.6h-0.6zM252.5 355.0h0.6v0.6h-0.6zM255.0 351.9h0.6v0.6h-0.6zM234.7 342.2h0.6v0.6h-0.6zM254.9 351.9h0.6v0.6h-0.6zM223.5 340.2h0.6v0.6h-0.6zM216.4 362.4h0.6v0.6h-0.6zM218.8 345.3h0.6v0.6h-0.6zM255.0 349.9h0.6v0.6h-0.6zM238.8 342.1h0.6v0.6h-0.6zM231.2 342.9h0.6v0.6h-0.6zM237.4 340.1h0.6v0.6h-0.6zM227.4 345.2h0.6v0.6h-0.6zM219.6 344.6h0.6v0.6h-0.6zM255.4 347.0h0.6v0.6h-0.6zM248.8 341.3h0.6v0.6h-0.6zM218.6 346.5h0.6v0.6h-0.6zM258.2 354.0h0.6v0.6h-0.6zM248.9 368.7h0.6v0.6h-0.6zM261.1 348.8h0.6v0.6h-0.6zM255.3 343.7h0.6v0.6h-0.6zM220.4 360.5h0.6v0.6h-0.6zM243.2 361.2h0.6v0.6h-0.6zM250.8 358.7h0.6v0.6h-0.6zM254.4 351.7h0.6v0.6h-0.6zM241.4 336.6h0.6v0.6h-0.6zM217.7 360.0h0.6v0.6h-0.6zM250.3 358.1h0.6v0.6h-0.6zM258.8 358.0h0.6v0.6h-0.6zM244.3 335.9h0.6v0.6h-0.6zM239.6 339.9h0.6v0.6h-0.6zM224.8 344.4h0.6v0.6h-0.6zM223.0 347.8h0.6v0.6h-0.6zM252.0 341.2h0.6v0.6h-0.6zM253.1 340.2h0.6v0.6h-0.6zM234.2 340.3h0.6v0.6h-0.6zM221.2 347.4h0.6v0.6h-0.6zM220.5 355.2h0.6v0.6h-0.6zM257.2 349.4h0.6v0.6h-0.6zM256.0 348.1h0.6v0.6h-0.6zM248.7 339.9h0.6v0.6h-0.6zM255.3 349.3h0.6v0.6h-0.6zM249.2 339.9h0.6v0.6h-0.6zM249.3 362.0h0.6v0.6h-0.6zM239.9 362.7h0.6v0.6h-0.6zM247.7 341.0h0.6v0.6h-0.6zM257.1 344.8h0.6v0.6h-0.6zM243.8 339.8h0.6v0.6h-0.6zM237.8 342.5h0.6v0.6h-0.6zM253.8 340.3h0.6v0.6h-0.6zM221.0 358.9h0.6v0.6h-0.6zM242.4 363.6h0.6v0.6h-0.6zM239.4 338.3h0.6v0.6h-0.6zM251.8 337.5h0.6v0.6h-0.6zM251.2 360.8h0.6v0.6h-0.6zM253.9 342.1h0.6v0.6h-0.6zM252.7 354.4h0.6v0.6h-0.6zM238.9 342.2h0.6v0.6h-0.6zM232.2 343.1h0.6v0.6h-0.6zM239.0 335.7h0.6v0.6h-0.6zM225.2 365.7h0.6v0.6h-0.6zM258.1 356.6h0.6v0.6h-0.6zM217.1 361.9h0.6v0.6h-0.6zM227.9 361.3h0.6v0.6h-0.6zM251.3 356.8h0.6v0.6h-0.6zM237.7 363.5h0.6v0.6h-0.6zM219.6 355.8h0.6v0.6h-0.6zM231.4 340.8h0.6v0.6h-0.6zM238.6 340.7h0.6v0.6h-0.6zM250.2 357.9h0.6v0.6h-0.6zM228.6 341.2h0.6v0.6h-0.6zM220.1 349.9h0.6v0.6h-0.6zM228.9 344.5h0.6v0.6h-0.6zM254.6 344.4h0.6v0.6h-0.6zM227.6 364.4h0.6v0.6h-0.6zM243.7 364.0h0.6v0.6h-0.6zM239.9 362.7h0.6v0.6h-0.6zM219.3 355.2h0.6v0.6h-0.6zM226.4 345.2h0.6v0.6h-0.6zM241.8 340.4h0.6v0.6h-0.6zM230.0 361.3h0.6v0.6h-0.6zM219.1 354.5h0.6v0.6h-0.6zM222.8 346.3h0.6v0.6h-0.6zM221.5 351.6h0.6v0.6h-0.6zM243.7 338.9h0.6v0.6h-0.6zM237.6 341.1h0.6v0.6h-0.6zM255.2 357.8h0.6v0.6h-0.6zM226.0 342.5h0.6v0.6h-0.6zM225.0 342.8h0.6v0.6h-0.6zM220.7 352.8h0.6v0.6h-0.6zM246.4 340.7h0.6v0.6h-0.6zM241.8 340.1h0.6v0.6h-0.6zM256.3 358.6h0.6v0.6h-0.6zM217.9 363.0h0.6v0.6h-0.6zM229.3 343.0h0.6v0.6h-0.6zM256.2 355.6h0.6v0.6h-0.6zM230.8 341.8h0.6v0.6h-0.6zM259.1 343.8h0.6v0.6h-0.6zM243.0 366.9h0.6v0.6h-0.6zM223.9 344.8h0.6v0.6h-0.6zM222.4 348.4h0.6v0.6h-0.6zM253.7 343.4h0.6v0.6h-0.6zM224.9 344.4h0.6v0.6h-0.6zM225.8 362.4h0.6v0.6h-0.6zM214.4 350.2h0.6v0.6h-0.6zM224.8 347.3h0.6v0.6h-0.6zM246.4 340.4h0.6v0.6h-0.6zM221.9 342.0h0.6v0.6h-0.6zM227.1 342.6h0.6v0.6h-0.6zM232.2 367.2h0.6v0.6h-0.6zM254.7 347.1h0.6v0.6h-0.6zM230.1 342.7h0.6v0.6h-0.6zM228.0 373.6h0.6v0.6h-0.6zM233.3 361.2h0.6v0.6h-0.6zM256.8 352.5h0.6v0.6h-0.6zM254.3 349.8h0.6v0.6h-0.6zM220.0 368.8h0.6v0.6h-0.6zM232.2 364.9h0.6v0.6h-0.6zM226.5 364.7h0.6v0.6h-0.6zM221.9 359.1h0.6v0.6h-0.6zM258.1 344.6h0.6v0.6h-0.6zM238.9 342.5h0.6v0.6h-0.6zM228.7 341.6h0.6v0.6h-0.6zM248.7 339.5h0.6v0.6h-0.6zM236.4 361.5h0.6v0.6h-0.6zM242.0 361.3h0.6v0.6h-0.6zM235.7 342.1h0.6v0.6h-0.6zM253.6 353.4h0.6v0.6h-0.6zM227.6 345.7h0.6v0.6h-0.6zM223.1 361.5h0.6v0.6h-0.6zM235.4 361.5h0.6v0.6h-0.6zM216.8 366.9h0.6v0.6h-0.6zM244.2 360.6h0.6v0.6h-0.6zM234.9 343.0h0.6v0.6h-0.6zM229.9 339.0h0.6v0.6h-0.6zM220.4 362.2h0.6v0.6h-0.6zM220.8 360.2h0.6v0.6h-0.6zM257.0 348.7h0.6v0.6h-0.6zM242.7 365.1h0.6v0.6h-0.6zM254.9 356.6h0.6v0.6h-0.6zM226.9 361.4h0.6v0.6h-0.6zM234.5 365.5h0.6v0.6h-0.6zM218.4 359.6h0.6v0.6h-0.6zM241.0 342.3h0.6v0.6h-0.6zM228.4 343.3h0.6v0.6h-0.6zM242.8 339.3h0.6v0.6h-0.6zM222.6 362.7h0.6v0.6h-0.6zM246.5 360.9h0.6v0.6h-0.6zM222.7 344.8h0.6v0.6h-0.6zM242.2 362.2h0.6v0.6h-0.6zM256.0 363.0h0.6v0.6h-0.6zM219.4 353.8h0.6v0.6h-0.6zM259.4 354.5h0.6v0.6h-0.6zM223.4 345.6h0.6v0.6h-0.6zM218.9 357.4h0.6v0.6h-0.6zM242.0 360.9h0.6v0.6h-0.6zM244.7 339.3h0.6v0.6h-0.6z" fill="#000" fill-opacity="0.6"/>
<path d="M255.3 336.0h0.6v0.6h-0.6zM253.0 332.2h0.6v0.6h-0.6zM244.0 328.0h0.6v0.6h-0.6zM254.2 343.4h0.6v0.6h-0.6zM245.9 336.3h0.6v0.6h-0.6zM249.5 333.0h0.6v0.6h-0.6zM250.1 331.3h0.6v0.6h-0.6zM243.5 332.6h0.6v0.6h-0.6zM247.9 327.4h0.6v0.6h-0.6zM246.3 324.0h0.6v0.6h-0.6zM249.2 337.5h0.6v0.6h-0.6zM244.2 329.3h0.6v0.6h-0.6zM247.6 332.3h0.6v0.6h-0.6zM248.4 337.5h0.6v0.6h-0.6zM251.1 327.6h0.6v0.6h-0.6zM247.8 339.2h0.6v0.6h-0.6zM246.0 345.3h0.6v0.6h-0.6zM246.2 323.1h0.6v0.6h-0.6zM247.1 334.5h0.6v0.6h-0.6zM248.8 329.7h0.6v0.6h-0.6zM251.4 326.0h0.6v0.6h-0.6zM250.9 327.9h0.6v0.6h-0.6zM247.9 331.9h0.6v0.6h-0.6zM248.0 335.3h0.6v0.6h-0.6zM251.7 335.2h0.6v0.6h-0.6zM251.5 335.0h0.6v0.6h-0.6zM249.4 335.5h0.6v0.6h-0.6zM251.1 318.8h0.6v0.6h-0.6zM245.5 327.7h0.6v0.6h-0.6zM249.7 337.5h0.6v0.6h-0.6zM249.2 331.6h0.6v0.6h-0.6zM246.7 335.4h0.6v0.6h-0.6zM248.6 335.6h0.6v0.6h-0.6zM248.0 328.3h0.6v0.6h-0.6zM250.9 332.4h0.6v0.6h-0.6zM247.6 328.2h0.6v0.6h-0.6zM248.4 331.1h0.6v0.6h-0.6zM250.6 332.4h0.6v0.6h-0.6zM248.1 328.4h0.6v0.6h-0.6zM252.0 333.5h0.6v0.6h-0.6zM252.0 339.0h0.6v0.6h-0.6zM248.5 334.4h0.6v0.6h-0.6zM244.4 331.2h0.6v0.6h-0.6zM245.3 326.7h0.6v0.6h-0.6zM254.5 336.2h0.6v0.6h-0.6zM250.1 325.0h0.6v0.6h-0.6zM250.8 333.0h0.6v0.6h-0.6zM250.0 342.7h0.6v0.6h-0.6zM247.9 337.8h0.6v0.6h-0.6zM249.5 340.6h0.6v0.6h-0.6zM250.7 336.7h0.6v0.6h-0.6zM248.4 328.1h0.6v0.6h-0.6zM248.8 338.7h0.6v0.6h-0.6zM250.1 340.3h0.6v0.6h-0.6zM249.2 329.4h0.6v0.6h-0.6zM251.1 334.3h0.6v0.6h-0.6zM254.1 333.5h0.6v0.6h-0.6zM252.2 330.9h0.6v0.6h-0.6zM244.3 331.8h0.6v0.6h-0.6zM245.9 337.6h0.6v0.6h-0.6zM243.9 326.4h0.6v0.6h-0.6zM247.8 335.5h0.6v0.6h-0.6zM247.4 333.3h0.6v0.6h-0.6zM246.9 338.3h0.6v0.6h-0.6zM250.8 327.5h0.6v0.6h-0.6zM253.5 332.1h0.6v0.6h-0.6zM254.5 331.8h0.6v0.6h-0.6zM247.4 335.6h0.6v0.6h-0.6zM246.7 325.0h0.6v0.6h-0.6zM243.7 337.9h0.6v0.6h-0.6zM244.9 325.5h0.6v0.6h-0.6zM254.0 332.9h0.6v0.6h-0.6zM249.9 330.3h0.6v0.6h-0.6zM249.6 329.5h0.6v0.6h-0.6zM251.6 325.1h0.6v0.6h-0.6zM248.9 330.8h0.6v0.6h-0.6zM249.6 338.7h0.6v0.6h-0.6zM248.5 337.7h0.6v0.6h-0.6zM254.7 330.0h0.6v0.6h-0.6zM249.2 335.4h0.6v0.6h-0.6zM249.0 326.4h0.6v0.6h-0.6zM255.9 333.5h0.6v0.6h-0.6zM248.8 334.7h0.6v0.6h-0.6zM252.5 326.6h0.6v0.6h-0.6zM251.5 336.7h0.6v0.6h-0.6zM257.6 327.0h0.6v0.6h-0.6zM253.1 327.6h0.6v0.6h-0.6zM251.1 330.8h0.6v0.6h-0.6zM246.8 323.3h0.6v0.6h-0.6zM250.0 326.7h0.6v0.6h-0.6zM251.0 325.7h0.6v0.6h-0.6zM254.1 327.7h0.6v0.6h-0.6zM249.6 330.5h0.6v0.6h-0.6zM246.4 337.7h0.6v0.6h-0.6zM250.7 332.9h0.6v0.6h-0.6zM254.0 323.0h0.6v0.6h-0.6zM244.7 333.2h0.6v0.6h-0.6zM251.1 336.8h0.6v0.6h-0.6zM250.6 331.0h0.6v0.6h-0.6zM245.2 325.1h0.6v0.6h-0.6zM245.2 334.3h0.6v0.6h-0.6zM247.9 329.8h0.6v0.6h-0.6zM247.2 335.9h0.6v0.6h-0.6zM250.4 334.3h0.6v0.6h-0.6zM250.7 325.6h0.6v0.6h-0.6zM247.1 334.2h0.6v0.6h-0.6zM245.8 332.5h0.6v0.6h-0.6zM244.2 325.6h0.6v0.6h-0.6zM246.6 336.2h0.6v0.6h-0.6zM251.1 324.1h0.6v0.6h-0.6zM247.4 328.6h0.6v0.6h-0.6zM249.3 332.0h0.6v0.6h-0.6zM253.1 332.2h0.6v0.6h-0.6zM250.0 334.0h0.6v0.6h-0.6zM250.3 321.6h0.6v0.6h-0.6zM251.7 336.8h0.6v0.6h-0.6zM251.1 327.0h0.6v0.6h-0.6zM253.8 328.3h0.6v0.6h-0.6zM248.9 334.7h0.6v0.6h-0.6zM250.1 330.5h0.6v0.6h-0.6zM253.7 324.0h0.6v0.6h-0.6zM244.4 338.4h0.6v0.6h-0.6zM249.2 338.6h0.6v0.6h-0.6zM251.3 337.7h0.6v0.6h-0.6zM250.3 336.9h0.6v0.6h-0.6zM256.5 334.9h0.6v0.6h-0.6zM246.3 329.8h0.6v0.6h-0.6zM249.1 341.4h0.6v0.6h-0.6zM244.4 333.2h0.6v0.6h-0.6zM251.1 334.0h0.6v0.6h-0.6zM242.7 334.8h0.6v0.6h-0.6zM248.6 334.3h0.6v0.6h-0.6zM246.3 332.0h0.6v0.6h-0.6zM249.7 333.4h0.6v0.6h-0.6zM245.2 333.4h0.6v0.6h-0.6zM247.9 340.6h0.6v0.6h-0.6zM250.7 334.1h0.6v0.6h-0.6zM246.1 332.9h0.6v0.6h-0.6zM251.0 331.8h0.6v0.6h-0.6zM241.2 336.1h0.6v0.6h-0.6zM246.1 332.3h0.6v0.6h-0.6zM239.2 335.1h0.6v0.6h-0.6zM249.6 329.0h0.6v0.6h-0.6zM254.4 337.9h0.6v0.6h-0.6zM247.9 334.8h0.6v0.6h-0.6zM243.8 336.9h0.6v0.6h-0.6zM244.6 339.3h0.6v0.6h-0.6zM252.4 330.0h0.6v0.6h-0.6zM251.2 328.3h0.6v0.6h-0.6zM252.2 336.6h0.6v0.6h-0.6zM248.1 341.9h0.6v0.6h-0.6zM251.0 329.4h0.6v0.6h-0.6zM248.0 331.3h0.6v0.6h-0.6zM244.4 329.5h0.6v0.6h-0.6zM249.3 331.9h0.6v0.6h-0.6zM250.0 340.8h0.6v0.6h-0.6zM245.8 329.2h0.6v0.6h-0.6zM249.4 332.5h0.6v0.6h-0.6zM249.3 331.0h0.6v0.6h-0.6zM248.5 340.1h0.6v0.6h-0.6zM253.1 335.5h0.6v0.6h-0.6zM246.4 341.1h0.6v0.6h-0.6zM246.4 330.5h0.6v0.6h-0.6zM250.0 322.0h0.6v0.6h-0.6zM248.6 330.7h0.6v0.6h-0.6zM247.3 333.5h0.6v0.6h-0.6zM246.0 334.1h0.6v0.6h-0.6zM242.4 331.0h0.6v0.6h-0.6zM248.1 323.9h0.6v0.6h-0.6zM251.5 334.8h0.6v0.6h-0.6zM244.1 336.8h0.6v0.6h-0.6zM248.6 332.4h0.6v0.6h-0.6zM250.0 329.4h0.6v0.6h-0.6zM252.4 334.2h0.6v0.6h-0.6zM240.9 330.0h0.6v0.6h-0.6zM249.4 327.5h0.6v0.6h-0.6zM249.5 322.5h0.6v0.6h-0.6zM245.7 332.4h0.6v0.6h-0.6zM245.0 324.8h0.6v0.6h-0.6zM247.3 326.1h0.6v0.6h-0.6zM250.8 339.7h0.6v0.6h-0.6zM244.4 328.1h0.6v0.6h-0.6zM247.5 333.2h0.6v0.6h-0.6zM248.2 339.5h0.6v0.6h-0.6zM249.8 336.5h0.6v0.6h-0.6zM246.9 334.3h0.6v0.6h-0.6zM247.7 338.2h0.6v0.6h-0.6zM252.4 328.6h0.6v0.6h-0.6zM250.7 335.8h0.6v0.6h-0.6zM248.3 332.8h0.6v0.6h-0.6zM247.1 325.1h0.6v0.6h-0.6zM248.3 333.6h0.6v0.6h-0.6zM247.3 337.0h0.6v0.6h-0.6zM247.7 331.1h0.6v0.6h-0.6zM250.7 339.7h0.6v0.6h-0.6zM252.2 334.5h0.6v0.6h-0.6zM246.4 336.1h0.6v0.6h-0.6zM246.0 335.3h0.6v0.6h-0.6zM250.1 322.1h0.6v0.6h-0.6zM244.2 329.6h0.6v0.6h-0.6zM249.1 330.8h0.6v0.6h-0.6zM247.6 333.0h0.6v0.6h-0.6zM248.5 322.2h0.6v0.6h-0.6zM250.4 336.8h0.6v0.6h-0.6zM245.6 328.5h0.6v0.6h-0.6zM251.2 334.5h0.6v0.6h-0.6zM246.1 338.6h0.6v0.6h-0.6zM249.2 331.5h0.6v0.6h-0.6zM245.1 331.4h0.6v0.6h-0.6zM246.8 334.9h0.6v0.6h-0.6zM246.9 333.6h0.6v0.6h-0.6zM247.2 329.1h0.6v0.6h-0.6zM249.9 330.1h0.6v0.6h-0.6zM248.8 335.9h0.6v0.6h-0.6zM247.5 323.3h0.6v0.6h-0.6zM250.8 328.4h0.6v0.6h-0.6zM246.5 329.2h0.6v0.6h-0.6zM246.9 332.3h0.6v0.6h-0.6zM250.5 329.0h0.6v0.6h-0.6zM246.9 333.1h0.6v0.6h-0.6zM246.3 332.5h0.6v0.6h-0.6zM249.5 332.6h0.6v0.6h-0.6zM247.6 334.4h0.6v0.6h-0.6zM249.4 338.4h0.6v0.6h-0.6zM252.2 335.7h0.6v0.6h-0.6zM244.2 327.8h0.6v0.6h-0.6zM246.0 338.8h0.6v0.6h-0.6zM245.9 339.3h0.6v0.6h-0.6zM250.2 332.6h0.6v0.6h-0.6zM246.1 324.7h0.6v0.6h-0.6zM248.3 334.4h0.6v0.6h-0.6zM244.7 332.4h0.6v0.6h-0.6zM244.4 327.4h0.6v0.6h-0.6zM245.6 340.6h0.6v0.6h-0.6zM247.8 329.2h0.6v0.6h-0.6zM248.7 338.3h0.6v0.6h-0.6zM252.1 324.9h0.6v0.6h-0.6zM244.7 331.6h0.6v0.6h-0.6zM243.3 333.1h0.6v0.6h-0.6zM253.0 333.9h0.6v0.6h-0.6zM244.5 332.2h0.6v0.6h-0.6zM249.2 330.9h0.6v0.6h-0.6zM240.9 331.9h0.6v0.6h-0.6zM248.4 339.7h0.6v0.6h-0.6zM247.4 341.2h0.6v0.6h-0.6zM247.2 330.7h0.6v0.6h-0.6zM250.1 336.3h0.6v0.6h-0.6zM243.3 335.9h0.6v0.6h-0.6zM251.9 330.6h0.6v0.6h-0.6zM251.1 335.8h0.6v0.6h-0.6zM249.4 332.1h0.6v0.6h-0.6zM246.1 334.2h0.6v0.6h-0.6zM247.0 330.1h0.6v0.6h-0.6zM250.2 333.7h0.6v0.6h-0.6zM245.2 332.0h0.6v0.6h-0.6zM249.4 329.9h0.6v0.6h-0.6zM244.3 323.5h0.6v0.6h-0.6zM251.7 333.7h0.6v0.6h-0.6zM249.1 337.6h0.6v0.6h-0.6zM248.0 341.2h0.6v0.6h-0.6zM247.9 347.1h0.6v0.6h-0.6zM249.0 336.8h0.6v0.6h-0.6zM247.3 330.8h0.6v0.6h-0.6zM249.6 336.8h0.6v0.6h-0.6zM245.4 324.9h0.6v0.6h-0.6zM246.2 330.6h0.6v0.6h-0.6zM240.4 327.3h0.6v0.6h-0.6zM247.3 334.6h0.6v0.6h-0.6zM251.5 334.1h0.6v0.6h-0.6zM255.1 329.1h0.6v0.6h-0.6zM247.6 329.4h0.6v0.6h-0.6zM246.8 335.2h0.6v0.6h-0.6zM243.5 336.0h0.6v0.6h-0.6zM251.9 334.0h0.6v0.6h-0.6zM249.2 339.6h0.6v0.6h-0.6zM249.6 324.5h0.6v0.6h-0.6zM244.6 341.5h0.6v0.6h-0.6zM250.8 333.2h0.6v0.6h-0.6zM251.0 338.9h0.6v0.6h-0.6zM244.2 333.5h0.6v0.6h-0.6zM249.6 333.6h0.6v0.6h-0.6zM248.3 325.6h0.6v0.6h-0.6zM251.1 330.2h0.6v0.6h-0.6zM245.7 329.8h0.6v0.6h-0.6zM250.1 329.9h0.6v0.6h-0.6zM243.0 333.3h0.6v0.6h-0.6zM246.1 336.6h0.6v0.6h-0.6zM254.5 340.2h0.6v0.6h-0.6zM244.9 332.8h0.6v0.6h-0.6zM249.9 337.2h0.6v0.6h-0.6zM247.1 335.4h0.6v0.6h-0.6zM246.5 336.4h0.6v0.6h-0.6zM247.6 331.3h0.6v0.6h-0.6zM254.1 332.4h0.6v0.6h-0.6zM251.6 333.2h0.6v0.6h-0.6zM248.2 331.4h0.6v0.6h-0.6zM254.4 324.5h0.6v0.6h-0.6zM250.7 334.7h0.6v0.6h-0.6zM250.7 332.0h0.6v0.6h-0.6zM247.9 323.8h0.6v0.6h-0.6zM251.7 332.9h0.6v0.6h-0.6zM245.6 341.0h0.6v0.6h-0.6zM252.2 336.3h0.6v0.6h-0.6zM252.4 333.8h0.6v0.6h-0.6zM241.5 334.6h0.6v0.6h-0.6zM253.9 332.0h0.6v0.6h-0.6zM247.4 328.2h0.6v0.6h-0.6zM245.7 329.9h0.6v0.6h-0.6zM247.9 319.2h0.6v0.6h-0.6zM247.4 330.4h0.6v0.6h-0.6zM244.8 330.8h0.6v0.6h-0.6zM250.4 330.1h0.6v0.6h-0.6zM244.6 337.5h0.6v0.6h-0.6zM245.5 329.2h0.6v0.6h-0.6zM246.6 330.7h0.6v0.6h-0.6zM251.0 335.7h0.6v0.6h-0.6zM243.5 331.3h0.6v0.6h-0.6zM246.1 335.5h0.6v0.6h-0.6zM254.6 330.0h0.6v0.6h-0.6zM249.8 342.3h0.6v0.6h-0.6zM247.8 334.2h0.6v0.6h-0.6zM249.4 326.9h0.6v0.6h-0.6zM251.2 330.6h0.6v0.6h-0.6zM251.2 334.1h0.6v0.6h-0.6zM247.6 329.4h0.6v0.6h-0.6zM247.1 329.8h0.6v0.6h-0.6zM248.1 332.1h0.6v0.6h-0.6zM247.8 329.5h0.6v0.6h-0.6zM242.3 341.4h0.6v0.6h-0.6zM249.2 334.0h0.6v0.6h-0.6zM253.7 331.0h0.6v0.6h-0.6zM245.0 330.3h0.6v0.6h-0.6zM244.1 334.6h0.6v0.6h-0.6zM249.0 330.3h0.6v0.6h-0.6zM246.1 337.4h0.6v0.6h-0.6zM249.1 334.8h0.6v0.6h-0.6zM243.0 321.5h0.6v0.6h-0.6zM249.3 328.8h0.6v0.6h-0.6zM243.7 345.5h0.6v0.6h-0.6zM250.1 326.7h0.6v0.6h-0.6zM249.7 334.1h0.6v0.6h-0.6zM248.3 328.0h0.6v0.6h-0.6zM247.3 330.3h0.6v0.6h-0.6zM246.9 327.3h0.6v0.6h-0.6zM249.5 334.5h0.6v0.6h-0.6zM248.3 337.8h0.6v0.6h-0.6zM241.3 329.8h0.6v0.6h-0.6zM249.0 335.8h0.6v0.6h-0.6zM246.2 332.1h0.6v0.6h-0.6zM251.9 333.0h0.6v0.6h-0.6zM244.6 336.6h0.6v0.6h-0.6zM247.1 332.7h0.6v0.6h-0.6zM247.1 333.6h0.6v0.6h-0.6zM253.6 337.3h0.6v0.6h-0.6zM254.6 325.9h0.6v0.6h-0.6zM247.9 325.9h0.6v0.6h-0.6zM244.6 332.7h0.6v0.6h-0.6zM245.8 342.0h0.6v0.6h-0.6zM241.8 335.3h0.6v0.6h-0.6zM246.8 335.7h0.6v0.6h-0.6zM245.3 326.8h0.6v0.6h-0.6zM246.2 333.1h0.6v0.6h-0.6zM252.0 336.4h0.6v0.6h-0.6zM252.2 340.0h0.6v0.6h-0.6zM243.6 334.8h0.6v0.6h-0.6zM247.5 343.6h0.6v0.6h-0.6zM248.8 348.2h0.6v0.6h-0.6zM252.8 336.0h0.6v0.6h-0.6zM246.2 344.1h0.6v0.6h-0.6zM244.4 327.9h0.6v0.6h-0.6zM243.4 330.4h0.6v0.6h-0.6zM247.7 337.6h0.6v0.6h-0.6zM247.8 331.3h0.6v0.6h-0.6zM247.8 336.0h0.6v0.6h-0.6zM249.3 336.2h0.6v0.6h-0.6zM252.1 333.8h0.6v0.6h-0.6zM244.0 336.7h0.6v0.6h-0.6zM252.2 331.1h0.6v0.6h-0.6zM244.8 323.9h0.6v0.6h-0.6zM251.5 331.5h0.6v0.6h-0.6zM250.4 328.8h0.6v0.6h-0.6zM246.1 333.7h0.6v0.6h-0.6zM248.2 329.0h0.6v0.6h-0.6zM247.0 337.8h0.6v0.6h-0.6zM253.8 333.8h0.6v0.6h-0.6zM249.9 332.8h0.6v0.6h-0.6zM252.4 327.6h0.6v0.6h-0.6zM250.4 333.3h0.6v0.6h-0.6zM247.8 333.3h0.6v0.6h-0.6zM248.6 337.4h0.6v0.6h-0.6zM249.3 332.6h0.6v0.6h-0.6zM247.6 329.5h0.6v0.6h-0.6zM248.0 332.3h0.6v0.6h-0.6zM248.4 321.5h0.6v0.6h-0.6zM255.7 337.9h0.6v0.6h-0.6zM249.9 329.5h0.6v0.6h-0.6zM248.0 332.9h0.6v0.6h-0.6zM248.7 334.4h0.6v0.6h-0.6zM247.0 336.0h0.6v0.6h-0.6zM249.3 333.6h0.6v0.6h-0.6zM248.7 334.4h0.6v0.6h-0.6zM252.1 340.0h0.6v0.6h-0.6zM247.2 333.8h0.6v0.6h-0.6zM249.5 330.5h0.6v0.6h-0.6zM248.4 334.3h0.6v0.6h-0.6zM250.0 328.2h0.6v0.6h-0.6zM245.2 329.9h0.6v0.6h-0.6zM252.2 324.2h0.6v0.6h-0.6zM249.5 327.0h0.6v0.6h-0.6zM247.6 329.5h0.6v0.6h-0.6zM250.7 328.2h0.6v0.6h-0.6zM251.0 333.5h0.6v0.6h-0.6zM250.7 331.4h0.6v0.6h-0.6zM254.7 342.8h0.6v0.6h-0.6zM244.8 335.7h0.6v0.6h-0.6zM246.8 335.8h0.6v0.6h-0.6zM245.2 343.2h0.6v0.6h-0.6zM243.6 333.4h0.6v0.6h-0.6zM246.6 330.3h0.6v0.6h-0.6zM253.9 326.6h0.6v0.6h-0.6zM248.9 334.0h0.6v0.6h-0.6zM248.0 330.0h0.6v0.6h-0.6zM250.6 328.5h0.6v0.6h-0.6zM245.9 332.4h0.6v0.6h-0.6zM245.9 331.3h0.6v0.6h-0.6zM252.0 333.4h0.6v0.6h-0.6zM251.4 327.5h0.6v0.6h-0.6zM242.6 334.9h0.6v0.6h-0.6zM250.3 333.8h0.6v0.6h-0.6zM247.9 333.6h0.6v0.6h-0.6zM252.8 337.6h0.6v0.6h-0.6zM244.0 334.1h0.6v0.6h-0.6zM250.9 342.8h0.6v0.6h-0.6zM250.7 330.7h0.6v0.6h-0.6zM249.2 337.2h0.6v0.6h-0.6zM247.7 337.6h0.6v0.6h-0.6zM246.3 325.0h0.6v0.6h-0.6zM251.6 328.7h0.6v0.6h-0.6zM250.2 326.3h0.6v0.6h-0.6zM249.9 334.3h0.6v0.6h-0.6zM248.4 335.2h0.6v0.6h-0.6zM248.0 340.2h0.6v0.6h-0.6zM248.2 327.3h0.6v0.6h-0.6zM244.2 330.8h0.6v0.6h-0.6zM247.0 328.0h0.6v0.6h-0.6zM245.9 337.4h0.6v0.6h-0.6zM246.9 331.5h0.6v0.6h-0.6zM244.9 334.3h0.6v0.6h-0.6zM248.5 328.7h0.6v0.6h-0.6zM252.9 330.8h0.6v0.6h-0.6zM227.3 336.3h0.6v0.6h-0.6zM237.6 336.8h0.6v0.6h-0.6zM230.8 340.9h0.6v0.6h-0.6zM235.6 335.4h0.6v0.6h-0.6zM235.1 335.3h0.6v0.6h-0.6zM231.6 340.2h0.6v0.6h-0.6zM241.4 332.1h0.6v0.6h-0.6zM231.9 340.5h0.6v0.6h-0.6zM222.8 336.3h0.6v0.6h-0.6zM232.9 335.1h0.6v0.6h-0.6zM248.4 324.9h0.6v0.6h-0.6zM245.9 334.0h0.6v0.6h-0.6zM247.3 326.4h0.6v0.6h-0.6zM240.3 331.7h0.6v0.6h-0.6zM225.0 335.7h0.6v0.6h-0.6zM239.5 329.4h0.6v0.6h-0.6zM242.9 328.5h0.6v0.6h-0.6zM219.8 347.9h0.6v0.6h-0.6zM230.9 338.1h0.6v0.6h-0.6zM240.7 331.1h0.6v0.6h-0.6zM238.7 327.0h0.6v0.6h-0.6zM236.5 329.7h0.6v0.6h-0.6zM229.8 341.3h0.6v0.6h-0.6zM222.7 344.9h0.6v0.6h-0.6zM230.7 340.7h0.6v0.6h-0.6zM234.7 333.9h0.6v0.6h-0.6zM236.5 330.6h0.6v0.6h-0.6zM228.8 333.8h0.6v0.6h-0.6zM234.8 342.4h0.6v0.6h-0.6zM228.6 336.2h0.6v0.6h-0.6zM238.4 335.2h0.6v0.6h-0.6zM240.6 333.4h0.6v0.6h-0.6zM235.4 335.8h0.6v0.6h-0.6zM237.6 334.7h0.6v0.6h-0.6zM234.8 336.9h0.6v0.6h-0.6zM232.7 337.9h0.6v0.6h-0.6zM239.9 336.7h0.6v0.6h-0.6zM225.5 343.4h0.6v0.6h-0.6zM235.5 339.9h0.6v0.6h-0.6zM232.4 340.0h0.6v0.6h-0.6zM234.0 337.3h0.6v0.6h-0.6zM240.3 332.9h0.6v0.6h-0.6zM245.2 330.7h0.6v0.6h-0.6zM237.6 334.7h0.6v0.6h-0.6zM234.9 337.6h0.6v0.6h-0.6zM229.0 340.3h0.6v0.6h-0.6zM229.1 343.5h0.6v0.6h-0.6zM221.5 346.5h0.6v0.6h-0.6zM229.1 331.6h0.6v0.6h-0.6zM227.5 340.1h0.6v0.6h-0.6zM208.6 341.9h0.6v0.6h-0.6zM244.7 333.2h0.6v0.6h-0.6zM238.7 329.9h0.6v0.6h-0.6zM254.3 334.6h0.6v0.6h-0.6zM225.7 346.4h0.6v0.6h-0.6zM230.1 337.9h0.6v0.6h-0.6zM227.6 338.3h0.6v0.6h-0.6zM228.0 345.1h0.6v0.6h-0.6zM242.6 329.3h0.6v0.6h-0.6zM227.5 334.8h0.6v0.6h-0.6zM221.1 343.7h0.6v0.6h-0.6zM214.5 338.5h0.6v0.6h-0.6zM239.5 326.7h0.6v0.6h-0.6zM242.8 332.6h0.6v0.6h-0.6zM238.1 336.2h0.6v0.6h-0.6zM248.5 332.0h0.6v0.6h-0.6zM224.3 341.6h0.6v0.6h-0.6zM240.5 327.8h0.6v0.6h-0.6zM235.6 334.4h0.6v0.6h-0.6zM241.4 334.6h0.6v0.6h-0.6zM214.2 340.2h0.6v0.6h-0.6zM231.5 338.5h0.6v0.6h-0.6zM234.2 337.4h0.6v0.6h-0.6zM233.9 331.7h0.6v0.6h-0.6zM234.1 341.4h0.6v0.6h-0.6zM230.2 339.1h0.6v0.6h-0.6zM246.6 332.5h0.6v0.6h-0.6zM240.1 328.4h0.6v0.6h-0.6zM254.0 324.3h0.6v0.6h-0.6zM238.4 333.8h0.6v0.6h-0.6zM224.5 340.2h0.6v0.6h-0.6zM230.7 339.2h0.6v0.6h-0.6zM232.0 345.8h0.6v0.6h-0.6zM225.7 339.9h0.6v0.6h-0.6zM233.3 330.8h0.6v0.6h-0.6zM238.4 328.3h0.6v0.6h-0.6zM232.0 339.1h0.6v0.6h-0.6zM221.0 341.9h0.6v0.6h-0.6zM232.1 343.9h0.6v0.6h-0.6zM238.3 335.5h0.6v0.6h-0.6zM230.3 338.9h0.6v0.6h-0.6zM238.8 335.7h0.6v0.6h-0.6zM244.9 331.0h0.6v0.6h-0.6zM229.9 337.2h0.6v0.6h-0.6zM233.6 332.6h0.6v0.6h-0.6zM218.2 341.2h0.6v0.6h-0.6zM230.3 337.6h0.6v0.6h-0.6zM231.8 338.5h0.6v0.6h-0.6zM238.6 332.1h0.6v0.6h-0.6zM242.0 333.7h0.6v0.6h-0.6zM226.9 344.1h0.6v0.6h-0.6zM239.7 333.5h0.6v0.6h-0.6zM232.6 338.0h0.6v0.6h-0.6zM217.2 343.1h0.6v0.6h-0.6zM243.5 329.3h0.6v0.6h-0.6zM245.5 330.8h0.6v0.6h-0.6zM240.0 336.4h0.6v0.6h-0.6zM220.0 336.9h0.6v0.6h-0.6zM228.5 337.4h0.6v0.6h-0.6zM245.6 333.3h0.6v0.6h-0.6zM229.9 340.0h0.6v0.6h-0.6zM222.6 339.9h0.6v0.6h-0.6zM233.1 335.9h0.6v0.6h-0.6zM240.2 328.8h0.6v0.6h-0.6zM242.2 328.4h0.6v0.6h-0.6zM230.6 335.2h0.6v0.6h-0.6zM223.5 347.1h0.6v0.6h-0.6zM227.2 345.7h0.6v0.6h-0.6zM233.5 339.7h0.6v0.6h-0.6zM245.3 329.5h0.6v0.6h-0.6zM233.0 336.3h0.6v0.6h-0.6zM230.8 338.4h0.6v0.6h-0.6zM213.9 341.6h0.6v0.6h-0.6zM232.9 344.0h0.6v0.6h-0.6zM238.5 332.8h0.6v0.6h-0.6zM243.6 327.9h0.6v0.6h-0.6zM236.3 336.4h0.6v0.6h-0.6zM221.9 337.1h0.6v0.6h-0.6zM229.7 343.2h0.6v0.6h-0.6zM231.5 335.7h0.6v0.6h-0.6zM232.3 334.0h0.6v0.6h-0.6zM238.4 337.0h0.6v0.6h-0.6zM250.0 329.8h0.6v0.6h-0.6zM256.6 327.4h0.6v0.6h-0.6zM250.9 327.4h0.6v0.6h-0.6zM214.6 339.4h0.6v0.6h-0.6zM241.5 333.2h0.6v0.6h-0.6zM229.4 338.3h0.6v0.6h-0.6zM228.4 332.8h0.6v0.6h-0.6zM231.6 337.4h0.6v0.6h-0.6zM226.4 345.1h0.6v0.6h-0.6zM242.0 331.9h0.6v0.6h-0.6zM250.2 328.8h0.6v0.6h-0.6zM233.5 335.2h0.6v0.6h-0.6zM226.5 339.3h0.6v0.6h-0.6zM244.5 330.7h0.6v0.6h-0.6zM241.6 330.8h0.6v0.6h-0.6zM228.5 341.8h0.6v0.6h-0.6zM241.0 334.3h0.6v0.6h-0.6zM232.1 338.6h0.6v0.6h-0.6zM239.5 329.6h0.6v0.6h-0.6zM232.0 332.3h0.6v0.6h-0.6zM235.1 338.0h0.6v0.6h-0.6zM238.6 338.0h0.6v0.6h-0.6zM232.6 338.1h0.6v0.6h-0.6zM235.9 333.4h0.6v0.6h-0.6zM241.2 332.1h0.6v0.6h-0.6zM223.4 332.3h0.6v0.6h-0.6zM234.8 342.3h0.6v0.6h-0.6zM229.2 341.6h0.6v0.6h-0.6zM224.5 341.5h0.6v0.6h-0.6zM228.6 333.2h0.6v0.6h-0.6zM225.2 343.5h0.6v0.6h-0.6zM240.9 329.8h0.6v0.6h-0.6zM225.3 340.6h0.6v0.6h-0.6zM238.5 337.8h0.6v0.6h-0.6zM233.5 339.3h0.6v0.6h-0.6zM240.1 331.8h0.6v0.6h-0.6zM228.3 342.7h0.6v0.6h-0.6zM221.7 337.7h0.6v0.6h-0.6zM238.5 335.6h0.6v0.6h-0.6zM236.1 336.5h0.6v0.6h-0.6zM223.3 344.3h0.6v0.6h-0.6zM236.7 332.7h0.6v0.6h-0.6zM232.8 334.3h0.6v0.6h-0.6zM230.1 338.2h0.6v0.6h-0.6zM235.2 341.3h0.6v0.6h-0.6zM232.2 332.9h0.6v0.6h-0.6zM237.0 333.4h0.6v0.6h-0.6zM230.7 342.2h0.6v0.6h-0.6zM240.1 335.6h0.6v0.6h-0.6zM229.6 338.8h0.6v0.6h-0.6zM233.1 338.8h0.6v0.6h-0.6zM227.1 338.3h0.6v0.6h-0.6zM227.6 337.6h0.6v0.6h-0.6zM231.1 330.5h0.6v0.6h-0.6zM222.8 336.9h0.6v0.6h-0.6zM230.8 337.6h0.6v0.6h-0.6zM238.3 332.5h0.6v0.6h-0.6zM245.9 332.7h0.6v0.6h-0.6zM242.0 334.3h0.6v0.6h-0.6zM231.8 337.4h0.6v0.6h-0.6zM230.3 338.0h0.6v0.6h-0.6zM229.3 332.0h0.6v0.6h-0.6zM225.2 342.1h0.6v0.6h-0.6zM225.7 342.5h0.6v0.6h-0.6zM239.9 332.6h0.6v0.6h-0.6zM233.0 336.0h0.6v0.6h-0.6zM236.4 334.1h0.6v0.6h-0.6zM227.2 340.4h0.6v0.6h-0.6zM228.3 337.8h0.6v0.6h-0.6zM238.3 337.5h0.6v0.6h-0.6zM242.5 323.9h0.6v0.6h-0.6zM229.0 339.5h0.6v0.6h-0.6zM232.4 338.1h0.6v0.6h-0.6zM244.2 326.8h0.6v0.6h-0.6zM245.5 336.0h0.6v0.6h-0.6zM223.4 340.9h0.6v0.6h-0.6zM225.1 336.0h0.6v0.6h-0.6zM235.8 338.0h0.6v0.6h-0.6zM223.4 339.4h0.6v0.6h-0.6zM233.1 333.9h0.6v0.6h-0.6zM238.1 338.6h0.6v0.6h-0.6zM214.7 349.0h0.6v0.6h-0.6zM253.7 324.4h0.6v0.6h-0.6zM250.6 327.2h0.6v0.6h-0.6zM234.8 334.4h0.6v0.6h-0.6zM238.6 327.6h0.6v0.6h-0.6zM235.9 336.3h0.6v0.6h-0.6zM238.1 332.7h0.6v0.6h-0.6zM241.3 333.4h0.6v0.6h-0.6zM230.1 339.9h0.6v0.6h-0.6zM237.5 337.6h0.6v0.6h-0.6zM235.3 334.5h0.6v0.6h-0.6zM215.3 345.6h0.6v0.6h-0.6zM234.8 334.7h0.6v0.6h-0.6zM229.3 337.1h0.6v0.6h-0.6zM243.2 337.0h0.6v0.6h-0.6zM257.2 319.3h0.6v0.6h-0.6zM235.5 335.2h0.6v0.6h-0.6zM230.0 340.4h0.6v0.6h-0.6zM247.9 333.9h0.6v0.6h-0.6zM211.3 348.5h0.6v0.6h-0.6zM242.7 332.8h0.6v0.6h-0.6zM251.0 333.3h0.6v0.6h-0.6zM237.3 333.3h0.6v0.6h-0.6zM221.2 348.9h0.6v0.6h-0.6zM227.4 337.1h0.6v0.6h-0.6zM227.1 336.7h0.6v0.6h-0.6zM236.1 333.7h0.6v0.6h-0.6zM218.4 339.9h0.6v0.6h-0.6zM240.9 333.1h0.6v0.6h-0.6zM224.7 342.4h0.6v0.6h-0.6zM239.0 329.9h0.6v0.6h-0.6zM251.2 332.0h0.6v0.6h-0.6zM239.8 338.6h0.6v0.6h-0.6zM237.0 335.5h0.6v0.6h-0.6zM230.0 334.9h0.6v0.6h-0.6zM235.7 334.1h0.6v0.6h-0.6zM236.7 335.4h0.6v0.6h-0.6zM229.5 338.6h0.6v0.6h-0.6zM238.7 336.8h0.6v0.6h-0.6zM236.5 328.9h0.6v0.6h-0.6zM228.1 340.4h0.6v0.6h-0.6zM233.4 341.2h0.6v0.6h-0.6zM225.4 343.6h0.6v0.6h-0.6zM238.4 335.4h0.6v0.6h-0.6zM233.3 336.1h0.6v0.6h-0.6zM246.3 326.2h0.6v0.6h-0.6zM230.7 338.0h0.6v0.6h-0.6zM228.8 340.4h0.6v0.6h-0.6zM228.9 341.1h0.6v0.6h-0.6zM235.9 335.9h0.6v0.6h-0.6zM238.0 334.8h0.6v0.6h-0.6zM236.9 337.7h0.6v0.6h-0.6zM236.8 336.0h0.6v0.6h-0.6zM225.1 338.0h0.6v0.6h-0.6zM231.9 341.9h0.6v0.6h-0.6zM228.8 337.8h0.6v0.6h-0.6zM240.8 329.4h0.6v0.6h-0.6zM240.1 336.0h0.6v0.6h-0.6zM240.7 333.6h0.6v0.6h-0.6zM240.2 330.8h0.6v0.6h-0.6zM232.1 336.8h0.6v0.6h-0.6zM219.0 345.3h0.6v0.6h-0.6zM241.6 330.3h0.6v0.6h-0.6zM256.0 324.7h0.6v0.6h-0.6zM245.4 334.4h0.6v0.6h-0.6zM234.3 340.2h0.6v0.6h-0.6zM228.5 338.8h0.6v0.6h-0.6zM242.0 341.2h0.6v0.6h-0.6zM239.7 330.7h0.6v0.6h-0.6zM239.2 328.7h0.6v0.6h-0.6zM223.7 345.0h0.6v0.6h-0.6zM238.1 331.4h0.6v0.6h-0.6zM240.6 331.2h0.6v0.6h-0.6zM237.6 341.0h0.6v0.6h-0.6zM235.7 332.8h0.6v0.6h-0.6zM229.5 337.6h0.6v0.6h-0.6zM234.6 334.0h0.6v0.6h-0.6zM251.4 327.5h0.6v0.6h-0.6zM222.6 346.7h0.6v0.6h-0.6zM223.6 342.0h0.6v0.6h-0.6zM235.5 334.8h0.6v0.6h-0.6zM241.0 332.7h0.6v0.6h-0.6zM221.4 340.4h0.6v0.6h-0.6zM235.0 336.6h0.6v0.6h-0.6zM234.9 335.4h0.6v0.6h-0.6zM239.3 341.0h0.6v0.6h-0.6zM228.6 339.6h0.6v0.6h-0.6zM237.6 337.4h0.6v0.6h-0.6zM234.3 338.0h0.6v0.6h-0.6zM226.1 340.5h0.6v0.6h-0.6zM242.4 331.4h0.6v0.6h-0.6zM236.8 334.8h0.6v0.6h-0.6zM231.9 332.9h0.6v0.6h-0.6zM217.3 339.1h0.6v0.6h-0.6zM232.6 338.5h0.6v0.6h-0.6zM217.2 348.0h0.6v0.6h-0.6zM242.2 329.4h0.6v0.6h-0.6zM233.8 333.1h0.6v0.6h-0.6zM228.8 338.9h0.6v0.6h-0.6zM222.7 337.7h0.6v0.6h-0.6zM219.4 340.3h0.6v0.6h-0.6zM235.0 341.2h0.6v0.6h-0.6zM229.9 331.4h0.6v0.6h-0.6zM227.6 338.0h0.6v0.6h-0.6zM224.6 343.8h0.6v0.6h-0.6zM228.6 347.0h0.6v0.6h-0.6zM225.9 328.9h0.6v0.6h-0.6zM225.7 341.6h0.6v0.6h-0.6zM237.2 325.7h0.6v0.6h-0.6zM247.4 333.6h0.6v0.6h-0.6zM241.2 331.2h0.6v0.6h-0.6zM231.7 338.1h0.6v0.6h-0.6zM230.2 334.5h0.6v0.6h-0.6zM230.4 339.1h0.6v0.6h-0.6zM235.3 334.4h0.6v0.6h-0.6zM238.0 333.2h0.6v0.6h-0.6zM228.3 339.5h0.6v0.6h-0.6zM236.9 334.9h0.6v0.6h-0.6zM235.3 335.7h0.6v0.6h-0.6zM234.3 338.6h0.6v0.6h-0.6zM217.7 340.9h0.6v0.6h-0.6zM218.2 342.8h0.6v0.6h-0.6zM221.2 345.2h0.6v0.6h-0.6zM234.7 338.8h0.6v0.6h-0.6zM235.2 338.5h0.6v0.6h-0.6zM211.2 347.0h0.6v0.6h-0.6zM234.3 332.3h0.6v0.6h-0.6zM231.4 342.3h0.6v0.6h-0.6zM220.0 335.8h0.6v0.6h-0.6zM236.8 333.9h0.6v0.6h-0.6zM236.8 333.6h0.6v0.6h-0.6zM231.3 339.7h0.6v0.6h-0.6zM234.8 338.7h0.6v0.6h-0.6zM236.3 338.5h0.6v0.6h-0.6zM232.7 340.5h0.6v0.6h-0.6zM236.7 334.4h0.6v0.6h-0.6zM237.9 335.2h0.6v0.6h-0.6zM238.8 341.8h0.6v0.6h-0.6zM237.7 330.7h0.6v0.6h-0.6zM236.5 334.7h0.6v0.6h-0.6zM238.9 334.1h0.6v0.6h-0.6zM238.9 327.8h0.6v0.6h-0.6zM225.0 346.0h0.6v0.6h-0.6zM225.4 342.5h0.6v0.6h-0.6zM236.4 329.2h0.6v0.6h-0.6zM227.4 337.8h0.6v0.6h-0.6zM238.3 336.8h0.6v0.6h-0.6zM258.5 321.8h0.6v0.6h-0.6zM243.3 327.8h0.6v0.6h-0.6zM243.3 331.9h0.6v0.6h-0.6zM243.6 331.0h0.6v0.6h-0.6zM227.4 335.3h0.6v0.6h-0.6zM223.3 339.0h0.6v0.6h-0.6zM225.8 339.8h0.6v0.6h-0.6zM241.6 331.3h0.6v0.6h-0.6zM219.8 336.8h0.6v0.6h-0.6zM233.0 338.0h0.6v0.6h-0.6zM237.9 334.1h0.6v0.6h-0.6zM235.2 339.1h0.6v0.6h-0.6zM251.2 328.9h0.6v0.6h-0.6zM223.7 338.7h0.6v0.6h-0.6zM240.6 332.1h0.6v0.6h-0.6zM216.2 348.3h0.6v0.6h-0.6zM245.9 327.0h0.6v0.6h-0.6zM230.6 344.4h0.6v0.6h-0.6zM238.0 334.2h0.6v0.6h-0.6zM231.8 336.6h0.6v0.6h-0.6zM250.4 334.2h0.6v0.6h-0.6zM231.6 338.4h0.6v0.6h-0.6zM237.4 332.7h0.6v0.6h-0.6zM238.5 331.1h0.6v0.6h-0.6zM232.9 342.5h0.6v0.6h-0.6zM236.4 343.2h0.6v0.6h-0.6zM236.6 335.1h0.6v0.6h-0.6zM246.2 336.4h0.6v0.6h-0.6zM233.5 338.5h0.6v0.6h-0.6zM232.9 337.0h0.6v0.6h-0.6zM227.3 337.0h0.6v0.6h-0.6zM242.6 326.5h0.6v0.6h-0.6zM223.2 340.6h0.6v0.6h-0.6zM241.2 331.4h0.6v0.6h-0.6zM243.3 329.9h0.6v0.6h-0.6zM238.5 334.7h0.6v0.6h-0.6zM236.1 324.6h0.6v0.6h-0.6zM238.5 334.0h0.6v0.6h-0.6zM236.6 328.3h0.6v0.6h-0.6zM238.7 336.3h0.6v0.6h-0.6zM225.4 337.4h0.6v0.6h-0.6zM225.3 342.3h0.6v0.6h-0.6zM249.9 325.8h0.6v0.6h-0.6zM228.3 347.6h0.6v0.6h-0.6zM232.6 339.4h0.6v0.6h-0.6zM219.8 344.9h0.6v0.6h-0.6zM251.1 330.1h0.6v0.6h-0.6zM236.8 330.9h0.6v0.6h-0.6zM221.7 343.7h0.6v0.6h-0.6zM237.2 330.1h0.6v0.6h-0.6zM242.5 332.9h0.6v0.6h-0.6zM230.9 340.8h0.6v0.6h-0.6zM238.1 332.7h0.6v0.6h-0.6zM241.8 331.3h0.6v0.6h-0.6zM231.7 332.1h0.6v0.6h-0.6zM235.7 329.5h0.6v0.6h-0.6zM234.7 340.3h0.6v0.6h-0.6zM220.6 348.5h0.6v0.6h-0.6zM236.5 335.6h0.6v0.6h-0.6zM235.5 335.8h0.6v0.6h-0.6zM240.5 334.9h0.6v0.6h-0.6zM227.0 337.0h0.6v0.6h-0.6zM237.9 334.7h0.6v0.6h-0.6zM244.9 331.6h0.6v0.6h-0.6zM231.9 340.9h0.6v0.6h-0.6zM225.5 345.4h0.6v0.6h-0.6zM228.6 338.9h0.6v0.6h-0.6zM236.6 331.0h0.6v0.6h-0.6zM220.3 337.5h0.6v0.6h-0.6zM240.7 334.1h0.6v0.6h-0.6zM230.2 339.9h0.6v0.6h-0.6zM241.4 333.2h0.6v0.6h-0.6zM233.3 326.8h0.6v0.6h-0.6zM244.2 325.8h0.6v0.6h-0.6zM235.0 336.4h0.6v0.6h-0.6zM216.0 339.5h0.6v0.6h-0.6zM242.7 332.6h0.6v0.6h-0.6zM224.6 344.5h0.6v0.6h-0.6zM238.0 328.6h0.6v0.6h-0.6zM234.5 335.0h0.6v0.6h-0.6zM230.0 331.5h0.6v0.6h-0.6zM233.2 337.0h0.6v0.6h-0.6zM242.5 325.7h0.6v0.6h-0.6zM244.3 331.5h0.6v0.6h-0.6zM230.2 342.6h0.6v0.6h-0.6zM218.5 343.5h0.6v0.6h-0.6zM236.5 332.7h0.6v0.6h-0.6zM230.5 336.3h0.6v0.6h-0.6zM243.4 334.7h0.6v0.6h-0.6zM219.5 346.2h0.6v0.6h-0.6zM247.0 326.8h0.6v0.6h-0.6zM229.8 338.1h0.6v0.6h-0.6zM233.6 336.4h0.6v0.6h-0.6zM219.9 342.1h0.6v0.6h-0.6zM253.6 328.5h0.6v0.6h-0.6zM255.7 325.8h0.6v0.6h-0.6zM231.8 339.3h0.6v0.6h-0.6zM242.3 330.3h0.6v0.6h-0.6zM216.1 345.7h0.6v0.6h-0.6zM236.0 334.8h0.6v0.6h-0.6zM232.3 335.4h0.6v0.6h-0.6zM226.7 337.8h0.6v0.6h-0.6zM235.2 330.0h0.6v0.6h-0.6zM225.3 334.9h0.6v0.6h-0.6zM227.6 339.8h0.6v0.6h-0.6zM241.7 333.6h0.6v0.6h-0.6zM234.0 335.0h0.6v0.6h-0.6zM229.1 348.4h0.6v0.6h-0.6zM221.1 348.4h0.6v0.6h-0.6zM232.9 334.2h0.6v0.6h-0.6zM233.4 342.1h0.6v0.6h-0.6zM232.1 334.2h0.6v0.6h-0.6zM221.7 341.2h0.6v0.6h-0.6zM226.6 333.9h0.6v0.6h-0.6zM218.5 347.3h0.6v0.6h-0.6zM227.0 335.9h0.6v0.6h-0.6zM244.5 330.0h0.6v0.6h-0.6zM231.6 336.9h0.6v0.6h-0.6zM249.9 330.8h0.6v0.6h-0.6zM226.2 339.2h0.6v0.6h-0.6zM236.6 336.4h0.6v0.6h-0.6zM227.1 341.5h0.6v0.6h-0.6zM231.6 335.5h0.6v0.6h-0.6zM235.7 338.2h0.6v0.6h-0.6zM243.7 333.2h0.6v0.6h-0.6zM243.4 325.5h0.6v0.6h-0.6zM230.2 335.9h0.6v0.6h-0.6zM243.1 329.2h0.6v0.6h-0.6zM236.1 333.0h0.6v0.6h-0.6zM238.0 334.6h0.6v0.6h-0.6zM243.9 332.0h0.6v0.6h-0.6zM218.0 342.8h0.6v0.6h-0.6zM228.0 335.6h0.6v0.6h-0.6zM251.3 328.4h0.6v0.6h-0.6zM232.0 337.0h0.6v0.6h-0.6zM220.3 337.9h0.6v0.6h-0.6zM245.2 332.4h0.6v0.6h-0.6zM234.1 335.8h0.6v0.6h-0.6zM234.0 337.5h0.6v0.6h-0.6zM225.2 340.7h0.6v0.6h-0.6z" fill="#000" fill-opacity="0.5"/>
<path d="M221.9,354.4 L222.0,353.9 L222.2,353.4 L222.5,352.9 L222.7,352.3 L223.1,351.8 L223.5,351.2 L223.9,350.6 L224.3,350.1 L224.8,349.5 L225.3,349.0 L225.8,348.5 L226.4,348.1 L227.0,347.7 L227.6,347.3 L228.3,347.0 L229.0,346.6 L229.7,346.3 L230.4,346.0 L231.2,345.7 L232.0,345.5 L232.8,345.2 L233.6,345.0 L234.5,344.7 L235.3,344.5 L236.2,344.3 L237.1,344.1 L238.1,343.9 L239.1,343.7 L240.2,343.6 L241.2,343.4 L242.2,343.3 L243.2,343.2 L244.2,343.0 L245.1,343.0 L245.9,342.9 L246.6,342.8 L247.2,342.7 L247.8,342.7 L248.4,342.6 L248.9,342.6 L249.3,342.6 L249.7,342.6 L250.1,342.6 L250.4,342.6 L250.7,342.7 L251.0,342.8 L251.3,342.9 L251.6,343.0 L251.9,343.2 L252.1,343.3 L252.3,343.5 L252.5,343.8 L252.7,344.0 L252.8,344.3 L252.9,344.6 L253.0,344.9 L253.1,345.2 L253.2,345.6 L253.3,345.9 L253.3,346.3 L253.3,346.7 L253.4,347.1 L253.4,347.6 L253.4,348.1 L253.4,348.6 L253.4,349.2 L253.3,349.7 L253.3,350.2 L253.1,350.8 L253.0,351.3 L252.8,351.8 L252.6,352.3 L252.3,352.8 L252.1,353.3 L251.8,353.8 L251.5,354.3 L251.1,354.8 L250.7,355.3 L250.3,355.8 L249.8,356.3 L249.3,356.7 L248.7,357.2 L248.1,357.6 L247.4,357.9 L246.6,358.2 L245.8,358.5 L244.8,358.8 L243.8,359.0 L242.8,359.2 L241.7,359.4 L240.6,359.6 L239.5,359.7 L238.4,359.9 L237.3,360.0 L236.3,360.0 L235.3,360.1 L234.3,360.1 L233.3,360.2 L232.2,360.2 L231.2,360.1 L230.1,360.1 L229.1,360.0 L228.1,359.9 L227.1,359.8 L226.2,359.7 L225.4,359.5 L224.7,359.3 L224.1,359.1 L223.6,358.8 L223.1,358.5 L222.8,358.2 L222.5,357.9 L222.2,357.5 L222.0,357.1 L221.9,356.7 L221.8,356.2 L221.8,355.8 L221.8,355.3 L221.8,354.9Z" fill="none" stroke="#000" stroke-width="3.4" stroke-opacity="0.72" filter="url(#bl)"/>
<path d="M221.9,354.4 L222.0,353.9 L222.2,353.4 L222.5,352.9 L222.7,352.3 L223.1,351.8 L223.5,351.2 L223.9,350.6 L224.3,350.1 L224.8,349.5 L225.3,349.0 L225.8,348.5 L226.4,348.1 L227.0,347.7 L227.6,347.3 L228.3,347.0 L229.0,346.6 L229.7,346.3 L230.4,346.0 L231.2,345.7 L232.0,345.5 L232.8,345.2 L233.6,345.0 L234.5,344.7 L235.3,344.5 L236.2,344.3 L237.1,344.1 L238.1,343.9 L239.1,343.7 L240.2,343.6 L241.2,343.4 L242.2,343.3 L243.2,343.2 L244.2,343.0 L245.1,343.0 L245.9,342.9 L246.6,342.8 L247.2,342.7 L247.8,342.7 L248.4,342.6 L248.9,342.6 L249.3,342.6 L249.7,342.6 L250.1,342.6 L250.4,342.6 L250.7,342.7 L251.0,342.8 L251.3,342.9 L251.6,343.0 L251.9,343.2 L252.1,343.3 L252.3,343.5 L252.5,343.8 L252.7,344.0 L252.8,344.3 L252.9,344.6 L253.0,344.9 L253.1,345.2 L253.2,345.6 L253.3,345.9 L253.3,346.3 L253.3,346.7 L253.4,347.1 L253.4,347.6 L253.4,348.1 L253.4,348.6 L253.4,349.2 L253.3,349.7 L253.3,350.2 L253.1,350.8 L253.0,351.3 L252.8,351.8 L252.6,352.3 L252.3,352.8 L252.1,353.3 L251.8,353.8 L251.5,354.3 L251.1,354.8 L250.7,355.3 L250.3,355.8 L249.8,356.3 L249.3,356.7 L248.7,357.2 L248.1,357.6 L247.4,357.9 L246.6,358.2 L245.8,358.5 L244.8,358.8 L243.8,359.0 L242.8,359.2 L241.7,359.4 L240.6,359.6 L239.5,359.7 L238.4,359.9 L237.3,360.0 L236.3,360.0 L235.3,360.1 L234.3,360.1 L233.3,360.2 L232.2,360.2 L231.2,360.1 L230.1,360.1 L229.1,360.0 L228.1,359.9 L227.1,359.8 L226.2,359.7 L225.4,359.5 L224.7,359.3 L224.1,359.1 L223.6,358.8 L223.1,358.5 L222.8,358.2 L222.5,357.9 L222.2,357.5 L222.0,357.1 L221.9,356.7 L221.8,356.2 L221.8,355.8 L221.8,355.3 L221.8,354.9Z" fill="#c8c8c8" stroke="#262626" stroke-width="0.75"/>
<path d="M224.0,354.0 L224.1,353.6 L224.3,353.1 L224.5,352.6 L224.7,352.1 L225.0,351.6 L225.4,351.1 L225.7,350.6 L226.1,350.2 L226.6,349.7 L227.0,349.2 L227.5,348.8 L228.0,348.4 L228.5,348.1 L229.0,347.7 L229.6,347.4 L230.2,347.1 L230.8,346.9 L231.5,346.6 L232.2,346.3 L232.9,346.1 L233.6,345.9 L234.3,345.7 L235.1,345.5 L235.8,345.3 L236.6,345.1 L237.4,344.9 L238.3,344.7 L239.2,344.6 L240.1,344.4 L241.0,344.3 L241.9,344.2 L242.8,344.1 L243.6,344.0 L244.4,343.9 L245.1,343.8 L245.7,343.8 L246.3,343.7 L246.8,343.7 L247.3,343.6 L247.7,343.6 L248.1,343.6 L248.5,343.6 L248.8,343.6 L249.1,343.6 L249.4,343.7 L249.6,343.7 L249.9,343.8 L250.1,343.9 L250.4,344.1 L250.6,344.2 L250.8,344.4 L250.9,344.6 L251.1,344.8 L251.2,345.1 L251.3,345.3 L251.4,345.6 L251.5,345.9 L251.5,346.2 L251.6,346.5 L251.6,346.8 L251.7,347.2 L251.7,347.6 L251.7,348.0 L251.7,348.4 L251.7,348.9 L251.7,349.4 L251.7,349.8 L251.6,350.3 L251.5,350.8 L251.4,351.2 L251.2,351.7 L251.0,352.1 L250.8,352.6 L250.6,353.0 L250.3,353.5 L250.0,353.9 L249.7,354.4 L249.4,354.8 L249.0,355.2 L248.6,355.6 L248.1,356.0 L247.6,356.4 L247.1,356.7 L246.4,357.1 L245.8,357.3 L245.0,357.6 L244.2,357.8 L243.3,358.0 L242.4,358.2 L241.5,358.4 L240.5,358.5 L239.5,358.7 L238.5,358.8 L237.6,358.9 L236.7,358.9 L235.8,359.0 L234.9,359.0 L234.0,359.0 L233.1,359.0 L232.2,359.0 L231.2,359.0 L230.3,358.9 L229.4,358.9 L228.6,358.7 L227.8,358.6 L227.1,358.5 L226.5,358.3 L225.9,358.1 L225.5,357.9 L225.1,357.6 L224.8,357.3 L224.5,357.0 L224.3,356.7 L224.1,356.3 L224.0,356.0 L223.9,355.6 L223.9,355.2 L223.9,354.8 L223.9,354.4Z" fill="#e4e4e4" stroke="#a8a8a8" stroke-width="0.45"/>
<path d="M227.2,353.3 L227.3,353.0 L227.4,352.6 L227.6,352.3 L227.8,351.9 L228.0,351.5 L228.3,351.1 L228.5,350.7 L228.9,350.3 L229.2,349.9 L229.6,349.6 L229.9,349.2 L230.3,348.9 L230.7,348.6 L231.2,348.4 L231.6,348.1 L232.1,347.9 L232.6,347.7 L233.1,347.5 L233.7,347.3 L234.2,347.1 L234.8,346.9 L235.4,346.7 L236.0,346.6 L236.5,346.4 L237.2,346.3 L237.8,346.1 L238.5,346.0 L239.2,345.9 L239.9,345.7 L240.7,345.6 L241.4,345.5 L242.1,345.5 L242.7,345.4 L243.4,345.3 L243.9,345.3 L244.5,345.2 L244.9,345.2 L245.3,345.1 L245.7,345.1 L246.0,345.1 L246.3,345.1 L246.6,345.1 L246.9,345.1 L247.1,345.1 L247.3,345.1 L247.6,345.2 L247.8,345.3 L248.0,345.4 L248.1,345.5 L248.3,345.6 L248.5,345.7 L248.6,345.9 L248.7,346.1 L248.8,346.3 L248.9,346.5 L249.0,346.7 L249.0,346.9 L249.1,347.1 L249.1,347.4 L249.1,347.7 L249.2,347.9 L249.2,348.3 L249.2,348.6 L249.2,348.9 L249.2,349.3 L249.2,349.7 L249.2,350.0 L249.1,350.4 L249.0,350.8 L248.9,351.2 L248.8,351.5 L248.7,351.9 L248.5,352.2 L248.3,352.6 L248.1,352.9 L247.9,353.3 L247.6,353.6 L247.3,354.0 L247.0,354.3 L246.7,354.7 L246.3,355.0 L245.9,355.3 L245.5,355.5 L245.0,355.8 L244.5,356.0 L243.9,356.2 L243.2,356.4 L242.5,356.6 L241.8,356.7 L241.0,356.8 L240.3,357.0 L239.5,357.1 L238.7,357.2 L238.0,357.2 L237.2,357.3 L236.5,357.3 L235.8,357.4 L235.1,357.4 L234.4,357.4 L233.7,357.4 L232.9,357.3 L232.2,357.3 L231.5,357.2 L230.8,357.1 L230.2,357.0 L229.6,356.9 L229.1,356.8 L228.7,356.6 L228.3,356.4 L228.0,356.2 L227.8,356.0 L227.6,355.8 L227.4,355.5 L227.2,355.2 L227.2,354.9 L227.1,354.6 L227.1,354.3 L227.1,354.0 L227.1,353.7Z" fill="#eeeeee" stroke="#c0c0c0" stroke-width="0.45"/>
<path d="M230.7,352.6 L230.7,352.4 L230.8,352.1 L231.0,351.9 L231.1,351.6 L231.3,351.3 L231.5,351.0 L231.7,350.7 L231.9,350.5 L232.1,350.2 L232.4,349.9 L232.6,349.7 L232.9,349.5 L233.2,349.3 L233.5,349.1 L233.9,348.9 L234.2,348.7 L234.6,348.6 L234.9,348.4 L235.3,348.3 L235.7,348.2 L236.1,348.0 L236.5,347.9 L237.0,347.8 L237.4,347.7 L237.8,347.6 L238.3,347.5 L238.8,347.4 L239.3,347.3 L239.8,347.2 L240.3,347.1 L240.8,347.1 L241.3,347.0 L241.8,346.9 L242.3,346.9 L242.7,346.9 L243.0,346.8 L243.3,346.8 L243.6,346.8 L243.9,346.7 L244.2,346.7 L244.4,346.7 L244.6,346.7 L244.8,346.7 L244.9,346.7 L245.1,346.8 L245.2,346.8 L245.4,346.9 L245.5,346.9 L245.7,347.0 L245.8,347.1 L245.9,347.2 L246.0,347.3 L246.1,347.4 L246.1,347.6 L246.2,347.7 L246.2,347.9 L246.3,348.0 L246.3,348.2 L246.4,348.4 L246.4,348.6 L246.4,348.8 L246.4,349.0 L246.4,349.2 L246.4,349.5 L246.4,349.7 L246.4,350.0 L246.4,350.3 L246.4,350.5 L246.3,350.8 L246.2,351.1 L246.1,351.3 L246.0,351.6 L245.9,351.8 L245.8,352.1 L245.6,352.3 L245.5,352.6 L245.3,352.8 L245.1,353.1 L244.9,353.3 L244.6,353.6 L244.4,353.8 L244.1,354.0 L243.8,354.2 L243.4,354.4 L243.0,354.5 L242.6,354.7 L242.1,354.8 L241.6,354.9 L241.1,355.0 L240.6,355.1 L240.0,355.2 L239.5,355.3 L238.9,355.4 L238.4,355.4 L237.9,355.4 L237.4,355.5 L236.9,355.5 L236.4,355.5 L235.8,355.5 L235.3,355.5 L234.8,355.5 L234.3,355.4 L233.8,355.4 L233.3,355.3 L232.8,355.3 L232.4,355.2 L232.1,355.1 L231.8,355.0 L231.5,354.8 L231.3,354.7 L231.1,354.5 L231.0,354.4 L230.8,354.2 L230.7,354.0 L230.7,353.8 L230.6,353.5 L230.6,353.3 L230.6,353.1 L230.6,352.9Z" fill="#f6f6f6" stroke="#d4d4d4" stroke-width="0.45"/>
<path d="M234.2,351.9 L234.2,351.8 L234.3,351.6 L234.4,351.5 L234.4,351.3 L234.5,351.1 L234.7,350.9 L234.8,350.8 L234.9,350.6 L235.1,350.5 L235.2,350.3 L235.4,350.2 L235.5,350.0 L235.7,349.9 L235.9,349.8 L236.1,349.7 L236.3,349.6 L236.5,349.5 L236.7,349.4 L237.0,349.3 L237.2,349.2 L237.5,349.2 L237.7,349.1 L238.0,349.0 L238.2,348.9 L238.5,348.9 L238.8,348.8 L239.0,348.8 L239.4,348.7 L239.7,348.7 L240.0,348.6 L240.3,348.6 L240.6,348.5 L240.9,348.5 L241.1,348.5 L241.4,348.5 L241.6,348.4 L241.8,348.4 L242.0,348.4 L242.1,348.4 L242.3,348.4 L242.4,348.4 L242.5,348.4 L242.6,348.4 L242.7,348.4 L242.8,348.4 L242.9,348.4 L243.0,348.5 L243.1,348.5 L243.2,348.5 L243.2,348.6 L243.3,348.7 L243.4,348.7 L243.4,348.8 L243.5,348.9 L243.5,349.0 L243.5,349.1 L243.6,349.2 L243.6,349.3 L243.6,349.4 L243.6,349.5 L243.6,349.6 L243.6,349.7 L243.6,349.9 L243.6,350.0 L243.6,350.2 L243.6,350.3 L243.6,350.5 L243.6,350.7 L243.6,350.8 L243.5,351.0 L243.5,351.1 L243.4,351.3 L243.3,351.4 L243.2,351.6 L243.1,351.7 L243.1,351.9 L242.9,352.0 L242.8,352.2 L242.7,352.3 L242.6,352.5 L242.4,352.6 L242.2,352.7 L242.0,352.9 L241.8,353.0 L241.6,353.1 L241.3,353.1 L241.1,353.2 L240.8,353.3 L240.5,353.4 L240.1,353.4 L239.8,353.5 L239.5,353.5 L239.1,353.6 L238.8,353.6 L238.5,353.6 L238.2,353.6 L237.9,353.6 L237.6,353.6 L237.3,353.6 L237.0,353.6 L236.6,353.6 L236.3,353.6 L236.0,353.6 L235.8,353.5 L235.5,353.5 L235.2,353.5 L235.0,353.4 L234.8,353.3 L234.7,353.2 L234.6,353.2 L234.4,353.1 L234.4,353.0 L234.3,352.8 L234.2,352.7 L234.2,352.6 L234.2,352.5 L234.1,352.3 L234.1,352.2 L234.2,352.1Z" fill="#fcfcfc" stroke="#e2e2e2" stroke-width="0.45"/>
<path d="M244.70,341.80 L248.30,334.80 L252.10,341.80Z" fill="#fafafa" stroke="#000" stroke-width="1.2"/>
<rect x="242.40" y="310.80" width="18.10" height="31.00" fill="none" stroke="#000" stroke-width="1.6"/>
<text x="251.40" y="320.40" font-size="9.3" text-anchor="middle" fill="#111" textLength="15.80" lengthAdjust="spacingAndGlyphs">9.30</text>
<ellipse cx="334.0" cy="336.8" rx="4" ry="4.5" fill="#000" fill-opacity="0.35" transform="rotate(0 334.0 336.8)" filter="url(#hz)"/>
<ellipse cx="317.5" cy="339.8" rx="8" ry="3.5" fill="#000" fill-opacity="0.22" transform="rotate(0 317.5 339.8)" filter="url(#hz)"/>
<path d="M326.2 342.2h0.6v0.6h-0.6zM303.3 350.6h0.6v0.6h-0.6zM304.1 349.5h0.6v0.6h-0.6zM304.8 353.9h0.6v0.6h-0.6zM339.2 349.2h0.6v0.6h-0.6zM340.8 352.4h0.6v0.6h-0.6zM337.5 340.9h0.6v0.6h-0.6zM340.2 342.6h0.6v0.6h-0.6zM323.6 342.0h0.6v0.6h-0.6zM339.1 351.9h0.6v0.6h-0.6zM335.0 340.9h0.6v0.6h-0.6zM335.6 341.7h0.6v0.6h-0.6zM308.5 343.5h0.6v0.6h-0.6zM307.7 344.4h0.6v0.6h-0.6zM313.1 342.2h0.6v0.6h-0.6zM339.0 352.1h0.6v0.6h-0.6zM339.4 344.8h0.6v0.6h-0.6zM339.8 351.9h0.6v0.6h-0.6zM321.9 341.9h0.6v0.6h-0.6zM330.3 355.5h0.6v0.6h-0.6zM336.3 341.6h0.6v0.6h-0.6zM304.7 346.0h0.6v0.6h-0.6zM316.9 357.7h0.6v0.6h-0.6zM304.3 353.5h0.6v0.6h-0.6zM311.0 357.4h0.6v0.6h-0.6zM340.4 346.9h0.6v0.6h-0.6zM320.2 340.8h0.6v0.6h-0.6zM313.8 343.0h0.6v0.6h-0.6zM306.1 345.4h0.6v0.6h-0.6zM333.2 341.2h0.6v0.6h-0.6zM337.5 353.1h0.6v0.6h-0.6zM315.1 342.1h0.6v0.6h-0.6zM336.7 354.5h0.6v0.6h-0.6zM337.5 353.7h0.6v0.6h-0.6zM338.6 351.1h0.6v0.6h-0.6zM315.1 342.0h0.6v0.6h-0.6zM310.9 358.0h0.6v0.6h-0.6zM322.7 342.6h0.6v0.6h-0.6zM309.4 342.7h0.6v0.6h-0.6zM305.7 344.1h0.6v0.6h-0.6zM332.5 355.0h0.6v0.6h-0.6zM331.4 341.9h0.6v0.6h-0.6zM339.8 349.3h0.6v0.6h-0.6zM314.4 342.2h0.6v0.6h-0.6zM307.6 355.8h0.6v0.6h-0.6zM341.3 344.2h0.6v0.6h-0.6zM332.5 355.0h0.6v0.6h-0.6zM304.7 354.9h0.6v0.6h-0.6zM338.4 342.2h0.6v0.6h-0.6zM336.2 355.1h0.6v0.6h-0.6zM308.4 343.4h0.6v0.6h-0.6zM306.2 356.7h0.6v0.6h-0.6zM329.5 358.4h0.6v0.6h-0.6zM304.8 348.4h0.6v0.6h-0.6zM341.5 349.7h0.6v0.6h-0.6zM307.8 357.6h0.6v0.6h-0.6zM338.0 343.2h0.6v0.6h-0.6zM324.5 342.9h0.6v0.6h-0.6zM337.6 342.9h0.6v0.6h-0.6zM340.0 349.4h0.6v0.6h-0.6zM338.9 344.4h0.6v0.6h-0.6zM339.5 347.4h0.6v0.6h-0.6zM303.9 348.7h0.6v0.6h-0.6zM331.7 356.5h0.6v0.6h-0.6zM339.2 344.3h0.6v0.6h-0.6zM313.8 342.5h0.6v0.6h-0.6zM322.9 357.6h0.6v0.6h-0.6zM339.8 346.5h0.6v0.6h-0.6zM324.4 342.5h0.6v0.6h-0.6zM324.0 356.8h0.6v0.6h-0.6zM314.4 357.3h0.6v0.6h-0.6zM338.2 352.2h0.6v0.6h-0.6zM310.2 343.3h0.6v0.6h-0.6zM340.1 352.2h0.6v0.6h-0.6zM324.4 341.9h0.6v0.6h-0.6zM324.1 357.6h0.6v0.6h-0.6zM309.2 356.3h0.6v0.6h-0.6zM338.1 351.3h0.6v0.6h-0.6zM322.9 357.4h0.6v0.6h-0.6zM314.4 342.0h0.6v0.6h-0.6zM326.3 342.4h0.6v0.6h-0.6zM325.2 356.3h0.6v0.6h-0.6zM303.8 351.7h0.6v0.6h-0.6zM304.8 354.8h0.6v0.6h-0.6zM304.6 349.0h0.6v0.6h-0.6zM305.6 355.0h0.6v0.6h-0.6zM340.4 342.5h0.6v0.6h-0.6zM338.2 351.3h0.6v0.6h-0.6zM339.8 352.1h0.6v0.6h-0.6zM322.7 342.4h0.6v0.6h-0.6zM333.1 340.3h0.6v0.6h-0.6zM305.9 343.3h0.6v0.6h-0.6zM339.4 352.0h0.6v0.6h-0.6zM341.3 346.8h0.6v0.6h-0.6zM334.1 341.5h0.6v0.6h-0.6zM319.3 356.9h0.6v0.6h-0.6zM337.0 354.0h0.6v0.6h-0.6zM306.8 344.3h0.6v0.6h-0.6zM310.7 343.2h0.6v0.6h-0.6zM329.4 357.6h0.6v0.6h-0.6zM304.3 345.8h0.6v0.6h-0.6zM331.4 342.0h0.6v0.6h-0.6zM334.1 341.4h0.6v0.6h-0.6zM336.3 353.8h0.6v0.6h-0.6zM338.7 351.5h0.6v0.6h-0.6zM339.4 351.5h0.6v0.6h-0.6zM308.7 343.9h0.6v0.6h-0.6zM319.4 358.1h0.6v0.6h-0.6zM307.6 355.9h0.6v0.6h-0.6zM305.4 355.2h0.6v0.6h-0.6zM335.7 341.5h0.6v0.6h-0.6zM328.3 342.3h0.6v0.6h-0.6zM311.2 342.0h0.6v0.6h-0.6zM337.9 355.2h0.6v0.6h-0.6zM327.1 341.1h0.6v0.6h-0.6zM310.4 341.4h0.6v0.6h-0.6zM339.7 345.2h0.6v0.6h-0.6zM334.7 355.6h0.6v0.6h-0.6zM328.3 342.4h0.6v0.6h-0.6zM338.5 351.7h0.6v0.6h-0.6zM308.7 358.1h0.6v0.6h-0.6zM312.4 341.7h0.6v0.6h-0.6zM305.1 355.6h0.6v0.6h-0.6zM339.0 344.9h0.6v0.6h-0.6zM340.9 350.7h0.6v0.6h-0.6zM339.2 352.5h0.6v0.6h-0.6zM337.2 341.5h0.6v0.6h-0.6zM331.3 341.7h0.6v0.6h-0.6zM313.7 342.0h0.6v0.6h-0.6zM337.2 353.3h0.6v0.6h-0.6zM305.9 346.0h0.6v0.6h-0.6zM324.2 358.2h0.6v0.6h-0.6zM306.4 355.2h0.6v0.6h-0.6zM338.7 352.8h0.6v0.6h-0.6zM303.7 348.7h0.6v0.6h-0.6zM320.1 342.3h0.6v0.6h-0.6zM319.3 342.0h0.6v0.6h-0.6zM340.1 346.4h0.6v0.6h-0.6zM310.7 343.0h0.6v0.6h-0.6zM305.3 346.4h0.6v0.6h-0.6zM303.7 354.6h0.6v0.6h-0.6zM339.3 348.8h0.6v0.6h-0.6zM304.7 355.9h0.6v0.6h-0.6zM333.9 356.2h0.6v0.6h-0.6zM306.1 343.5h0.6v0.6h-0.6zM339.5 350.7h0.6v0.6h-0.6zM339.7 343.6h0.6v0.6h-0.6zM324.1 357.6h0.6v0.6h-0.6zM306.5 344.9h0.6v0.6h-0.6zM318.1 358.8h0.6v0.6h-0.6zM339.5 353.1h0.6v0.6h-0.6zM327.3 342.4h0.6v0.6h-0.6zM326.5 356.3h0.6v0.6h-0.6zM336.9 355.0h0.6v0.6h-0.6zM316.9 357.8h0.6v0.6h-0.6zM337.0 354.0h0.6v0.6h-0.6zM306.3 345.5h0.6v0.6h-0.6zM339.1 344.9h0.6v0.6h-0.6zM322.8 357.2h0.6v0.6h-0.6zM336.8 342.1h0.6v0.6h-0.6zM340.1 341.8h0.6v0.6h-0.6zM324.4 341.9h0.6v0.6h-0.6zM305.1 347.8h0.6v0.6h-0.6zM307.2 343.7h0.6v0.6h-0.6zM304.2 352.2h0.6v0.6h-0.6zM304.9 355.7h0.6v0.6h-0.6zM338.2 342.4h0.6v0.6h-0.6zM304.3 350.6h0.6v0.6h-0.6zM314.4 357.1h0.6v0.6h-0.6zM328.1 341.3h0.6v0.6h-0.6zM339.0 347.8h0.6v0.6h-0.6zM339.2 348.7h0.6v0.6h-0.6zM339.2 346.6h0.6v0.6h-0.6zM316.7 342.8h0.6v0.6h-0.6zM339.5 347.9h0.6v0.6h-0.6zM334.9 341.5h0.6v0.6h-0.6zM306.6 356.2h0.6v0.6h-0.6zM319.2 342.9h0.6v0.6h-0.6zM307.9 343.7h0.6v0.6h-0.6zM322.8 357.0h0.6v0.6h-0.6zM324.2 358.0h0.6v0.6h-0.6zM338.5 344.1h0.6v0.6h-0.6zM310.7 343.2h0.6v0.6h-0.6zM311.9 342.6h0.6v0.6h-0.6zM317.6 341.9h0.6v0.6h-0.6zM304.0 348.1h0.6v0.6h-0.6zM311.0 357.3h0.6v0.6h-0.6zM331.5 355.6h0.6v0.6h-0.6zM339.4 347.4h0.6v0.6h-0.6zM338.2 351.3h0.6v0.6h-0.6zM305.7 345.0h0.6v0.6h-0.6zM338.8 351.2h0.6v0.6h-0.6zM315.6 357.2h0.6v0.6h-0.6zM334.1 341.0h0.6v0.6h-0.6zM314.4 356.8h0.6v0.6h-0.6zM332.6 355.3h0.6v0.6h-0.6zM334.1 341.3h0.6v0.6h-0.6zM313.2 357.6h0.6v0.6h-0.6zM336.2 341.9h0.6v0.6h-0.6zM324.1 357.6h0.6v0.6h-0.6zM320.5 357.4h0.6v0.6h-0.6zM339.7 351.2h0.6v0.6h-0.6zM320.2 340.8h0.6v0.6h-0.6zM339.9 348.9h0.6v0.6h-0.6zM337.9 351.8h0.6v0.6h-0.6zM310.6 342.6h0.6v0.6h-0.6zM307.6 343.1h0.6v0.6h-0.6zM310.7 343.1h0.6v0.6h-0.6zM305.1 347.1h0.6v0.6h-0.6zM303.7 350.6h0.6v0.6h-0.6zM307.4 356.2h0.6v0.6h-0.6zM305.1 353.8h0.6v0.6h-0.6zM303.7 350.0h0.6v0.6h-0.6zM340.1 347.4h0.6v0.6h-0.6zM330.3 341.8h0.6v0.6h-0.6zM325.3 342.2h0.6v0.6h-0.6zM304.9 355.7h0.6v0.6h-0.6zM339.1 351.9h0.6v0.6h-0.6zM313.8 342.5h0.6v0.6h-0.6zM340.5 351.0h0.6v0.6h-0.6zM310.7 343.2h0.6v0.6h-0.6zM339.7 343.6h0.6v0.6h-0.6zM304.3 348.2h0.6v0.6h-0.6zM311.0 357.4h0.6v0.6h-0.6zM305.2 353.7h0.6v0.6h-0.6zM308.4 356.0h0.6v0.6h-0.6zM306.4 345.7h0.6v0.6h-0.6zM309.1 341.5h0.6v0.6h-0.6zM318.4 341.3h0.6v0.6h-0.6zM338.6 351.7h0.6v0.6h-0.6zM311.9 342.6h0.6v0.6h-0.6zM315.6 356.8h0.6v0.6h-0.6zM339.2 342.4h0.6v0.6h-0.6zM339.8 347.4h0.6v0.6h-0.6zM338.6 350.3h0.6v0.6h-0.6zM330.1 340.6h0.6v0.6h-0.6zM309.1 343.4h0.6v0.6h-0.6zM325.3 342.2h0.6v0.6h-0.6zM340.0 347.4h0.6v0.6h-0.6zM329.1 340.9h0.6v0.6h-0.6zM341.6 344.2h0.6v0.6h-0.6zM340.2 344.0h0.6v0.6h-0.6zM321.0 342.8h0.6v0.6h-0.6zM310.1 343.1h0.6v0.6h-0.6zM315.9 342.9h0.6v0.6h-0.6zM337.5 354.7h0.6v0.6h-0.6zM322.9 358.2h0.6v0.6h-0.6zM304.5 345.9h0.6v0.6h-0.6zM333.2 340.8h0.6v0.6h-0.6zM318.4 342.8h0.6v0.6h-0.6zM334.6 355.3h0.6v0.6h-0.6zM333.7 355.7h0.6v0.6h-0.6zM335.8 341.0h0.6v0.6h-0.6zM314.4 357.1h0.6v0.6h-0.6zM304.6 347.6h0.6v0.6h-0.6zM305.5 355.1h0.6v0.6h-0.6zM313.2 357.2h0.6v0.6h-0.6zM311.0 356.7h0.6v0.6h-0.6zM329.2 341.3h0.6v0.6h-0.6zM340.2 344.0h0.6v0.6h-0.6zM337.9 352.9h0.6v0.6h-0.6zM328.1 341.1h0.6v0.6h-0.6zM324.0 356.5h0.6v0.6h-0.6zM307.7 343.4h0.6v0.6h-0.6zM309.9 357.5h0.6v0.6h-0.6zM337.4 352.9h0.6v0.6h-0.6zM321.7 358.3h0.6v0.6h-0.6zM316.7 342.7h0.6v0.6h-0.6zM304.1 350.1h0.6v0.6h-0.6zM337.6 342.8h0.6v0.6h-0.6zM321.8 359.2h0.6v0.6h-0.6zM339.3 351.5h0.6v0.6h-0.6zM339.9 349.8h0.6v0.6h-0.6zM334.5 354.8h0.6v0.6h-0.6zM340.5 351.6h0.6v0.6h-0.6zM304.5 352.8h0.6v0.6h-0.6zM337.4 354.5h0.6v0.6h-0.6zM339.2 348.7h0.6v0.6h-0.6zM313.6 341.1h0.6v0.6h-0.6zM318.1 357.7h0.6v0.6h-0.6zM311.0 357.0h0.6v0.6h-0.6zM303.8 351.2h0.6v0.6h-0.6zM311.8 341.9h0.6v0.6h-0.6zM339.8 349.8h0.6v0.6h-0.6zM321.0 341.8h0.6v0.6h-0.6zM304.2 348.1h0.6v0.6h-0.6zM339.8 352.1h0.6v0.6h-0.6zM304.5 353.4h0.6v0.6h-0.6zM339.4 350.6h0.6v0.6h-0.6zM305.9 345.2h0.6v0.6h-0.6zM307.4 356.4h0.6v0.6h-0.6zM312.5 343.1h0.6v0.6h-0.6zM338.2 343.7h0.6v0.6h-0.6zM321.9 342.7h0.6v0.6h-0.6zM306.8 344.2h0.6v0.6h-0.6zM339.9 354.1h0.6v0.6h-0.6zM311.9 343.1h0.6v0.6h-0.6zM306.0 345.3h0.6v0.6h-0.6zM319.3 341.7h0.6v0.6h-0.6zM304.0 354.5h0.6v0.6h-0.6zM320.5 357.2h0.6v0.6h-0.6zM306.4 356.4h0.6v0.6h-0.6zM318.1 357.3h0.6v0.6h-0.6zM318.1 357.9h0.6v0.6h-0.6zM324.2 357.9h0.6v0.6h-0.6zM339.4 348.8h0.6v0.6h-0.6zM319.3 341.7h0.6v0.6h-0.6zM315.6 357.6h0.6v0.6h-0.6zM308.3 356.1h0.6v0.6h-0.6zM304.5 353.4h0.6v0.6h-0.6zM324.2 358.4h0.6v0.6h-0.6zM316.7 342.6h0.6v0.6h-0.6zM339.9 347.9h0.6v0.6h-0.6zM331.2 341.1h0.6v0.6h-0.6zM325.3 342.7h0.6v0.6h-0.6zM338.7 342.8h0.6v0.6h-0.6zM316.7 341.1h0.6v0.6h-0.6zM310.0 356.6h0.6v0.6h-0.6zM320.5 357.0h0.6v0.6h-0.6zM336.8 354.7h0.6v0.6h-0.6zM333.2 341.0h0.6v0.6h-0.6zM338.2 341.3h0.6v0.6h-0.6zM328.2 342.0h0.6v0.6h-0.6zM304.6 354.9h0.6v0.6h-0.6zM303.8 348.0h0.6v0.6h-0.6zM340.4 346.9h0.6v0.6h-0.6zM326.3 342.4h0.6v0.6h-0.6zM308.4 343.4h0.6v0.6h-0.6zM333.2 341.7h0.6v0.6h-0.6zM329.0 355.6h0.6v0.6h-0.6zM338.7 344.0h0.6v0.6h-0.6zM340.3 352.2h0.6v0.6h-0.6zM338.6 349.9h0.6v0.6h-0.6zM318.4 342.9h0.6v0.6h-0.6zM339.6 349.3h0.6v0.6h-0.6zM305.7 356.0h0.6v0.6h-0.6zM305.8 354.8h0.6v0.6h-0.6zM303.8 351.7h0.6v0.6h-0.6zM324.4 341.3h0.6v0.6h-0.6zM306.2 355.4h0.6v0.6h-0.6zM328.3 342.4h0.6v0.6h-0.6zM323.6 342.0h0.6v0.6h-0.6zM309.7 341.1h0.6v0.6h-0.6zM330.5 356.8h0.6v0.6h-0.6zM319.3 357.2h0.6v0.6h-0.6zM304.5 348.3h0.6v0.6h-0.6zM328.1 357.7h0.6v0.6h-0.6zM325.4 342.8h0.6v0.6h-0.6zM336.4 341.6h0.6v0.6h-0.6zM338.4 343.6h0.6v0.6h-0.6zM337.7 341.9h0.6v0.6h-0.6zM314.4 358.2h0.6v0.6h-0.6zM310.9 357.8h0.6v0.6h-0.6zM340.8 344.9h0.6v0.6h-0.6zM329.2 356.6h0.6v0.6h-0.6zM324.1 357.5h0.6v0.6h-0.6zM332.6 355.4h0.6v0.6h-0.6zM336.6 341.0h0.6v0.6h-0.6zM325.3 342.1h0.6v0.6h-0.6zM321.7 357.0h0.6v0.6h-0.6zM303.4 351.2h0.6v0.6h-0.6zM307.6 358.4h0.6v0.6h-0.6zM305.9 354.7h0.6v0.6h-0.6zM316.9 356.9h0.6v0.6h-0.6zM306.0 355.6h0.6v0.6h-0.6zM337.2 354.2h0.6v0.6h-0.6zM303.8 348.0h0.6v0.6h-0.6zM315.9 341.8h0.6v0.6h-0.6zM304.9 347.0h0.6v0.6h-0.6zM305.5 355.1h0.6v0.6h-0.6zM338.6 354.0h0.6v0.6h-0.6zM335.0 356.6h0.6v0.6h-0.6zM330.5 356.7h0.6v0.6h-0.6zM339.6 349.3h0.6v0.6h-0.6zM338.6 340.7h0.6v0.6h-0.6zM309.6 343.2h0.6v0.6h-0.6zM339.6 348.3h0.6v0.6h-0.6zM316.9 358.0h0.6v0.6h-0.6zM339.0 350.5h0.6v0.6h-0.6zM305.3 346.4h0.6v0.6h-0.6zM310.0 356.8h0.6v0.6h-0.6zM314.4 358.0h0.6v0.6h-0.6zM310.7 342.8h0.6v0.6h-0.6zM306.2 356.8h0.6v0.6h-0.6zM307.0 355.4h0.6v0.6h-0.6zM306.4 356.4h0.6v0.6h-0.6zM308.1 342.7h0.6v0.6h-0.6zM338.6 354.0h0.6v0.6h-0.6zM326.0 340.5h0.6v0.6h-0.6zM339.3 347.9h0.6v0.6h-0.6zM325.5 358.2h0.6v0.6h-0.6zM336.9 341.9h0.6v0.6h-0.6zM338.7 345.4h0.6v0.6h-0.6zM308.1 356.9h0.6v0.6h-0.6zM335.0 340.3h0.6v0.6h-0.6zM336.7 342.2h0.6v0.6h-0.6zM315.2 342.5h0.6v0.6h-0.6zM339.8 348.4h0.6v0.6h-0.6zM322.9 358.1h0.6v0.6h-0.6zM307.5 356.0h0.6v0.6h-0.6zM340.1 352.5h0.6v0.6h-0.6zM338.0 352.5h0.6v0.6h-0.6zM303.3 350.6h0.6v0.6h-0.6zM336.6 354.3h0.6v0.6h-0.6zM336.8 340.5h0.6v0.6h-0.6zM303.5 351.2h0.6v0.6h-0.6zM328.1 341.1h0.6v0.6h-0.6zM303.7 350.6h0.6v0.6h-0.6zM339.2 352.6h0.6v0.6h-0.6zM306.2 345.5h0.6v0.6h-0.6zM305.9 343.3h0.6v0.6h-0.6zM319.3 341.9h0.6v0.6h-0.6zM310.5 341.9h0.6v0.6h-0.6zM320.1 342.6h0.6v0.6h-0.6zM339.5 349.7h0.6v0.6h-0.6zM336.1 354.8h0.6v0.6h-0.6zM339.7 348.4h0.6v0.6h-0.6zM336.5 354.2h0.6v0.6h-0.6zM309.2 343.7h0.6v0.6h-0.6zM321.7 357.7h0.6v0.6h-0.6zM338.6 352.0h0.6v0.6h-0.6zM311.1 341.6h0.6v0.6h-0.6zM313.1 342.9h0.6v0.6h-0.6zM339.8 346.5h0.6v0.6h-0.6zM304.3 352.8h0.6v0.6h-0.6zM302.8 347.6h0.6v0.6h-0.6zM336.6 341.0h0.6v0.6h-0.6zM324.0 356.6h0.6v0.6h-0.6zM321.9 341.3h0.6v0.6h-0.6zM333.0 357.2h0.6v0.6h-0.6zM339.4 343.7h0.6v0.6h-0.6zM304.1 349.4h0.6v0.6h-0.6zM306.2 344.5h0.6v0.6h-0.6zM308.0 342.4h0.6v0.6h-0.6zM302.5 349.1h0.6v0.6h-0.6zM332.3 341.4h0.6v0.6h-0.6zM334.1 341.5h0.6v0.6h-0.6zM338.8 349.5h0.6v0.6h-0.6zM307.5 341.4h0.6v0.6h-0.6zM305.3 354.4h0.6v0.6h-0.6zM340.7 353.7h0.6v0.6h-0.6zM315.9 342.0h0.6v0.6h-0.6zM320.1 341.3h0.6v0.6h-0.6zM338.5 344.6h0.6v0.6h-0.6zM324.2 358.7h0.6v0.6h-0.6zM322.9 357.3h0.6v0.6h-0.6zM329.3 342.3h0.6v0.6h-0.6zM306.8 355.8h0.6v0.6h-0.6zM310.5 341.8h0.6v0.6h-0.6zM334.1 341.5h0.6v0.6h-0.6zM309.5 343.0h0.6v0.6h-0.6zM319.3 357.4h0.6v0.6h-0.6zM334.1 340.2h0.6v0.6h-0.6zM339.0 342.5h0.6v0.6h-0.6zM307.4 356.3h0.6v0.6h-0.6zM304.1 348.1h0.6v0.6h-0.6zM339.2 347.0h0.6v0.6h-0.6zM315.1 341.7h0.6v0.6h-0.6zM307.6 343.1h0.6v0.6h-0.6zM305.2 347.1h0.6v0.6h-0.6zM303.5 350.0h0.6v0.6h-0.6zM337.9 352.1h0.6v0.6h-0.6zM307.2 343.7h0.6v0.6h-0.6zM320.1 343.0h0.6v0.6h-0.6zM340.2 345.9h0.6v0.6h-0.6zM312.1 357.3h0.6v0.6h-0.6zM317.6 342.3h0.6v0.6h-0.6zM339.5 351.8h0.6v0.6h-0.6zM310.0 356.6h0.6v0.6h-0.6zM332.2 341.0h0.6v0.6h-0.6zM338.9 349.6h0.6v0.6h-0.6zM315.2 342.6h0.6v0.6h-0.6zM306.0 343.3h0.6v0.6h-0.6zM302.2 347.3h0.6v0.6h-0.6zM310.9 357.9h0.6v0.6h-0.6zM336.4 354.0h0.6v0.6h-0.6zM331.4 355.2h0.6v0.6h-0.6zM322.7 342.7h0.6v0.6h-0.6zM312.1 357.3h0.6v0.6h-0.6zM326.6 356.9h0.6v0.6h-0.6zM318.4 341.3h0.6v0.6h-0.6zM332.3 341.7h0.6v0.6h-0.6zM307.6 355.8h0.6v0.6h-0.6zM340.2 351.4h0.6v0.6h-0.6zM339.0 351.8h0.6v0.6h-0.6zM338.2 353.0h0.6v0.6h-0.6zM331.5 355.6h0.6v0.6h-0.6zM339.8 344.1h0.6v0.6h-0.6zM327.3 342.7h0.6v0.6h-0.6zM338.2 352.6h0.6v0.6h-0.6zM331.7 356.5h0.6v0.6h-0.6zM330.4 356.0h0.6v0.6h-0.6zM340.9 347.4h0.6v0.6h-0.6zM318.1 357.5h0.6v0.6h-0.6zM309.7 340.9h0.6v0.6h-0.6zM310.6 342.4h0.6v0.6h-0.6zM321.7 357.0h0.6v0.6h-0.6zM320.2 340.6h0.6v0.6h-0.6zM339.0 345.8h0.6v0.6h-0.6zM303.9 348.0h0.6v0.6h-0.6zM333.6 355.0h0.6v0.6h-0.6zM319.3 341.3h0.6v0.6h-0.6zM310.5 341.9h0.6v0.6h-0.6zM303.9 353.0h0.6v0.6h-0.6zM304.9 346.2h0.6v0.6h-0.6zM308.2 342.9h0.6v0.6h-0.6zM313.7 341.3h0.6v0.6h-0.6zM307.1 357.0h0.6v0.6h-0.6zM306.4 355.1h0.6v0.6h-0.6zM315.9 342.4h0.6v0.6h-0.6zM335.7 355.7h0.6v0.6h-0.6zM316.7 342.1h0.6v0.6h-0.6zM335.4 355.0h0.6v0.6h-0.6zM320.5 356.9h0.6v0.6h-0.6zM332.8 356.1h0.6v0.6h-0.6zM335.9 340.3h0.6v0.6h-0.6zM320.1 341.6h0.6v0.6h-0.6zM337.2 341.4h0.6v0.6h-0.6zM334.1 341.7h0.6v0.6h-0.6zM338.2 353.0h0.6v0.6h-0.6zM322.7 342.1h0.6v0.6h-0.6zM305.3 354.4h0.6v0.6h-0.6zM307.0 344.5h0.6v0.6h-0.6zM318.4 342.2h0.6v0.6h-0.6zM339.2 347.9h0.6v0.6h-0.6zM305.8 354.8h0.6v0.6h-0.6zM305.9 346.0h0.6v0.6h-0.6zM338.8 350.0h0.6v0.6h-0.6zM311.2 342.5h0.6v0.6h-0.6zM307.3 342.7h0.6v0.6h-0.6zM339.2 344.3h0.6v0.6h-0.6zM328.9 339.8h0.6v0.6h-0.6zM312.1 357.4h0.6v0.6h-0.6zM330.3 341.9h0.6v0.6h-0.6zM304.9 345.3h0.6v0.6h-0.6zM339.2 352.6h0.6v0.6h-0.6zM305.9 355.8h0.6v0.6h-0.6zM302.3 349.1h0.6v0.6h-0.6zM331.6 355.9h0.6v0.6h-0.6zM320.6 357.9h0.6v0.6h-0.6zM301.9 349.0h0.6v0.6h-0.6zM308.4 356.0h0.6v0.6h-0.6zM308.0 342.4h0.6v0.6h-0.6zM331.7 356.4h0.6v0.6h-0.6zM303.5 347.1h0.6v0.6h-0.6zM303.1 348.5h0.6v0.6h-0.6zM308.2 344.1h0.6v0.6h-0.6zM317.6 341.2h0.6v0.6h-0.6zM324.4 341.7h0.6v0.6h-0.6zM340.4 349.0h0.6v0.6h-0.6zM334.9 356.1h0.6v0.6h-0.6zM315.2 342.5h0.6v0.6h-0.6zM306.2 344.6h0.6v0.6h-0.6zM303.0 349.2h0.6v0.6h-0.6zM321.0 342.5h0.6v0.6h-0.6zM315.6 357.6h0.6v0.6h-0.6zM338.9 351.8h0.6v0.6h-0.6zM338.3 351.6h0.6v0.6h-0.6zM304.8 354.7h0.6v0.6h-0.6zM305.0 353.8h0.6v0.6h-0.6zM310.6 342.5h0.6v0.6h-0.6zM329.3 342.1h0.6v0.6h-0.6zM306.0 354.6h0.6v0.6h-0.6zM303.2 346.0h0.6v0.6h-0.6zM313.2 357.3h0.6v0.6h-0.6zM322.9 357.5h0.6v0.6h-0.6zM335.6 355.6h0.6v0.6h-0.6zM341.8 346.8h0.6v0.6h-0.6zM304.3 353.5h0.6v0.6h-0.6zM341.1 348.0h0.6v0.6h-0.6zM312.5 343.0h0.6v0.6h-0.6zM340.0 351.8h0.6v0.6h-0.6zM338.9 352.1h0.6v0.6h-0.6zM324.1 357.6h0.6v0.6h-0.6zM338.7 344.0h0.6v0.6h-0.6zM321.7 357.7h0.6v0.6h-0.6zM331.7 356.5h0.6v0.6h-0.6zM329.2 341.5h0.6v0.6h-0.6zM336.7 356.3h0.6v0.6h-0.6zM332.5 354.9h0.6v0.6h-0.6zM305.2 354.5h0.6v0.6h-0.6zM316.7 342.8h0.6v0.6h-0.6zM304.3 348.2h0.6v0.6h-0.6zM316.9 357.8h0.6v0.6h-0.6zM307.0 343.4h0.6v0.6h-0.6zM340.3 346.4h0.6v0.6h-0.6zM305.9 345.2h0.6v0.6h-0.6zM311.9 342.6h0.6v0.6h-0.6zM308.5 343.5h0.6v0.6h-0.6zM318.4 341.7h0.6v0.6h-0.6zM303.6 347.1h0.6v0.6h-0.6zM325.6 358.8h0.6v0.6h-0.6zM338.8 350.0h0.6v0.6h-0.6zM338.5 351.1h0.6v0.6h-0.6zM333.6 355.2h0.6v0.6h-0.6zM337.4 342.3h0.6v0.6h-0.6zM303.4 351.8h0.6v0.6h-0.6zM304.8 346.1h0.6v0.6h-0.6zM339.7 352.1h0.6v0.6h-0.6zM337.4 353.0h0.6v0.6h-0.6zM336.2 338.9h0.6v0.6h-0.6zM303.0 351.3h0.6v0.6h-0.6zM323.0 359.2h0.6v0.6h-0.6zM308.8 357.9h0.6v0.6h-0.6zM338.4 350.7h0.6v0.6h-0.6zM322.8 356.6h0.6v0.6h-0.6zM329.1 356.3h0.6v0.6h-0.6zM308.3 341.4h0.6v0.6h-0.6zM325.4 357.7h0.6v0.6h-0.6zM339.0 346.2h0.6v0.6h-0.6zM304.4 348.2h0.6v0.6h-0.6zM307.1 356.9h0.6v0.6h-0.6zM307.3 344.8h0.6v0.6h-0.6zM310.0 356.8h0.6v0.6h-0.6zM334.7 355.5h0.6v0.6h-0.6zM303.2 354.0h0.6v0.6h-0.6zM338.9 351.6h0.6v0.6h-0.6zM311.9 342.5h0.6v0.6h-0.6zM332.2 340.8h0.6v0.6h-0.6zM329.4 357.7h0.6v0.6h-0.6zM332.2 340.9h0.6v0.6h-0.6zM307.5 344.1h0.6v0.6h-0.6zM338.7 345.0h0.6v0.6h-0.6zM332.2 340.4h0.6v0.6h-0.6zM337.7 352.7h0.6v0.6h-0.6zM340.0 350.3h0.6v0.6h-0.6zM318.1 356.9h0.6v0.6h-0.6zM327.9 356.6h0.6v0.6h-0.6zM332.6 355.4h0.6v0.6h-0.6zM326.3 342.6h0.6v0.6h-0.6zM318.4 342.1h0.6v0.6h-0.6zM333.7 355.6h0.6v0.6h-0.6zM330.5 356.6h0.6v0.6h-0.6zM337.6 354.9h0.6v0.6h-0.6zM318.1 357.8h0.6v0.6h-0.6zM328.3 342.2h0.6v0.6h-0.6zM310.0 356.9h0.6v0.6h-0.6zM324.0 356.4h0.6v0.6h-0.6zM331.3 341.6h0.6v0.6h-0.6zM324.2 358.6h0.6v0.6h-0.6zM338.0 340.0h0.6v0.6h-0.6zM332.1 339.8h0.6v0.6h-0.6zM329.3 342.0h0.6v0.6h-0.6zM307.4 344.0h0.6v0.6h-0.6zM338.9 349.1h0.6v0.6h-0.6zM304.0 352.3h0.6v0.6h-0.6zM303.8 348.0h0.6v0.6h-0.6zM328.3 342.1h0.6v0.6h-0.6zM334.4 354.6h0.6v0.6h-0.6zM334.1 341.4h0.6v0.6h-0.6zM312.0 358.0h0.6v0.6h-0.6zM319.3 340.4h0.6v0.6h-0.6zM339.3 346.1h0.6v0.6h-0.6zM338.3 343.0h0.6v0.6h-0.6zM312.0 358.3h0.6v0.6h-0.6zM315.6 357.4h0.6v0.6h-0.6zM338.9 354.3h0.6v0.6h-0.6zM303.6 351.2h0.6v0.6h-0.6zM304.3 350.1h0.6v0.6h-0.6zM316.7 341.0h0.6v0.6h-0.6zM327.1 341.2h0.6v0.6h-0.6zM338.5 352.0h0.6v0.6h-0.6zM331.5 355.5h0.6v0.6h-0.6zM323.6 341.3h0.6v0.6h-0.6zM304.3 352.8h0.6v0.6h-0.6zM304.3 352.2h0.6v0.6h-0.6zM326.6 356.9h0.6v0.6h-0.6zM315.2 342.4h0.6v0.6h-0.6zM313.1 342.2h0.6v0.6h-0.6zM320.1 342.8h0.6v0.6h-0.6zM310.0 356.8h0.6v0.6h-0.6zM306.1 355.5h0.6v0.6h-0.6zM308.9 357.2h0.6v0.6h-0.6zM329.3 341.8h0.6v0.6h-0.6zM318.4 341.6h0.6v0.6h-0.6zM321.8 358.4h0.6v0.6h-0.6zM309.1 356.5h0.6v0.6h-0.6zM336.4 341.4h0.6v0.6h-0.6zM314.4 357.8h0.6v0.6h-0.6zM330.3 341.9h0.6v0.6h-0.6zM335.7 341.5h0.6v0.6h-0.6zM321.7 357.3h0.6v0.6h-0.6zM313.7 341.4h0.6v0.6h-0.6zM334.6 355.2h0.6v0.6h-0.6zM335.2 354.4h0.6v0.6h-0.6zM340.2 345.1h0.6v0.6h-0.6zM339.2 347.4h0.6v0.6h-0.6zM310.0 356.6h0.6v0.6h-0.6zM304.4 353.5h0.6v0.6h-0.6zM336.0 354.6h0.6v0.6h-0.6zM318.1 357.7h0.6v0.6h-0.6zM336.3 341.6h0.6v0.6h-0.6zM331.0 339.4h0.6v0.6h-0.6zM340.1 343.4h0.6v0.6h-0.6zM312.3 340.0h0.6v0.6h-0.6zM315.9 342.3h0.6v0.6h-0.6zM307.7 343.3h0.6v0.6h-0.6zM317.6 341.3h0.6v0.6h-0.6zM339.4 345.2h0.6v0.6h-0.6zM307.3 343.8h0.6v0.6h-0.6zM327.9 356.9h0.6v0.6h-0.6zM305.2 345.6h0.6v0.6h-0.6zM329.3 342.3h0.6v0.6h-0.6zM324.2 358.4h0.6v0.6h-0.6zM315.9 341.4h0.6v0.6h-0.6zM335.1 357.0h0.6v0.6h-0.6zM314.5 342.8h0.6v0.6h-0.6zM326.7 357.2h0.6v0.6h-0.6zM338.6 341.9h0.6v0.6h-0.6zM303.8 346.3h0.6v0.6h-0.6zM324.4 342.1h0.6v0.6h-0.6zM320.5 357.1h0.6v0.6h-0.6zM303.8 350.0h0.6v0.6h-0.6zM339.5 352.3h0.6v0.6h-0.6zM339.7 348.4h0.6v0.6h-0.6zM338.2 341.2h0.6v0.6h-0.6zM340.1 352.9h0.6v0.6h-0.6zM336.7 342.3h0.6v0.6h-0.6zM321.9 341.9h0.6v0.6h-0.6zM340.7 348.5h0.6v0.6h-0.6zM306.7 345.1h0.6v0.6h-0.6zM328.2 341.6h0.6v0.6h-0.6zM309.2 342.0h0.6v0.6h-0.6zM339.6 347.0h0.6v0.6h-0.6zM336.7 354.5h0.6v0.6h-0.6zM338.0 351.8h0.6v0.6h-0.6zM318.4 342.7h0.6v0.6h-0.6zM303.4 352.4h0.6v0.6h-0.6zM337.2 341.4h0.6v0.6h-0.6zM334.1 340.2h0.6v0.6h-0.6zM317.6 342.2h0.6v0.6h-0.6zM303.8 348.0h0.6v0.6h-0.6zM328.1 357.8h0.6v0.6h-0.6zM338.3 351.9h0.6v0.6h-0.6zM336.1 354.7h0.6v0.6h-0.6zM326.5 356.1h0.6v0.6h-0.6zM339.2 355.7h0.6v0.6h-0.6zM321.0 340.5h0.6v0.6h-0.6zM305.8 354.8h0.6v0.6h-0.6zM340.1 347.9h0.6v0.6h-0.6zM317.5 342.9h0.6v0.6h-0.6zM314.4 357.3h0.6v0.6h-0.6zM320.5 356.7h0.6v0.6h-0.6zM315.9 342.8h0.6v0.6h-0.6zM322.7 341.8h0.6v0.6h-0.6zM301.8 353.8h0.6v0.6h-0.6zM321.0 342.7h0.6v0.6h-0.6zM324.4 341.4h0.6v0.6h-0.6zM302.6 352.7h0.6v0.6h-0.6zM339.7 350.7h0.6v0.6h-0.6zM334.1 338.7h0.6v0.6h-0.6zM312.0 357.9h0.6v0.6h-0.6zM304.1 347.3h0.6v0.6h-0.6zM310.9 340.0h0.6v0.6h-0.6zM299.7 351.7h0.6v0.6h-0.6zM338.7 342.7h0.6v0.6h-0.6zM341.9 353.5h0.6v0.6h-0.6zM339.6 349.3h0.6v0.6h-0.6zM308.6 342.0h0.6v0.6h-0.6zM324.5 360.8h0.6v0.6h-0.6zM344.5 343.9h0.6v0.6h-0.6zM319.4 358.0h0.6v0.6h-0.6zM316.9 360.9h0.6v0.6h-0.6zM319.4 359.6h0.6v0.6h-0.6zM340.0 355.2h0.6v0.6h-0.6zM303.3 359.1h0.6v0.6h-0.6zM311.8 341.7h0.6v0.6h-0.6zM322.7 341.9h0.6v0.6h-0.6zM331.1 359.9h0.6v0.6h-0.6zM336.0 360.1h0.6v0.6h-0.6zM340.4 351.5h0.6v0.6h-0.6zM340.0 339.0h0.6v0.6h-0.6zM303.0 349.2h0.6v0.6h-0.6zM309.0 362.8h0.6v0.6h-0.6zM305.1 358.6h0.6v0.6h-0.6zM306.6 341.4h0.6v0.6h-0.6zM335.0 340.8h0.6v0.6h-0.6zM323.0 358.9h0.6v0.6h-0.6zM341.8 350.4h0.6v0.6h-0.6zM341.2 348.6h0.6v0.6h-0.6zM321.8 358.6h0.6v0.6h-0.6zM330.4 356.1h0.6v0.6h-0.6zM321.9 361.1h0.6v0.6h-0.6zM324.3 359.3h0.6v0.6h-0.6zM335.4 334.5h0.6v0.6h-0.6zM301.7 355.9h0.6v0.6h-0.6zM330.0 339.5h0.6v0.6h-0.6zM334.0 356.7h0.6v0.6h-0.6zM339.5 349.3h0.6v0.6h-0.6zM308.6 342.0h0.6v0.6h-0.6zM324.1 337.1h0.6v0.6h-0.6zM301.0 351.5h0.6v0.6h-0.6zM336.2 338.6h0.6v0.6h-0.6zM340.6 353.0h0.6v0.6h-0.6zM310.2 340.0h0.6v0.6h-0.6zM311.1 341.7h0.6v0.6h-0.6zM328.2 341.5h0.6v0.6h-0.6zM330.4 356.4h0.6v0.6h-0.6zM330.9 358.7h0.6v0.6h-0.6zM307.8 362.0h0.6v0.6h-0.6zM341.6 344.7h0.6v0.6h-0.6zM341.1 351.8h0.6v0.6h-0.6zM319.4 336.5h0.6v0.6h-0.6zM341.1 345.7h0.6v0.6h-0.6zM338.9 355.3h0.6v0.6h-0.6zM311.0 340.5h0.6v0.6h-0.6zM339.8 336.8h0.6v0.6h-0.6zM306.4 361.8h0.6v0.6h-0.6zM319.4 337.6h0.6v0.6h-0.6zM305.0 340.8h0.6v0.6h-0.6zM309.4 339.8h0.6v0.6h-0.6zM338.5 358.2h0.6v0.6h-0.6zM331.7 356.6h0.6v0.6h-0.6zM339.7 351.9h0.6v0.6h-0.6zM318.5 339.1h0.6v0.6h-0.6zM328.9 339.5h0.6v0.6h-0.6zM321.7 357.2h0.6v0.6h-0.6zM343.2 352.7h0.6v0.6h-0.6zM328.8 338.6h0.6v0.6h-0.6zM340.7 352.0h0.6v0.6h-0.6zM339.3 350.6h0.6v0.6h-0.6zM338.4 339.3h0.6v0.6h-0.6zM331.0 359.4h0.6v0.6h-0.6zM334.7 355.7h0.6v0.6h-0.6zM341.2 353.9h0.6v0.6h-0.6zM341.8 347.4h0.6v0.6h-0.6zM326.9 358.6h0.6v0.6h-0.6zM337.0 341.7h0.6v0.6h-0.6zM339.0 341.5h0.6v0.6h-0.6zM298.4 349.5h0.6v0.6h-0.6zM330.6 336.7h0.6v0.6h-0.6zM302.6 349.1h0.6v0.6h-0.6zM303.4 347.8h0.6v0.6h-0.6zM305.5 357.8h0.6v0.6h-0.6zM328.5 360.2h0.6v0.6h-0.6zM338.1 354.4h0.6v0.6h-0.6zM301.6 345.1h0.6v0.6h-0.6zM317.6 339.0h0.6v0.6h-0.6zM302.8 354.2h0.6v0.6h-0.6zM306.3 358.7h0.6v0.6h-0.6zM333.8 355.8h0.6v0.6h-0.6zM304.1 358.0h0.6v0.6h-0.6zM324.3 339.2h0.6v0.6h-0.6zM303.7 348.0h0.6v0.6h-0.6zM337.9 354.2h0.6v0.6h-0.6zM339.4 352.6h0.6v0.6h-0.6zM316.7 342.3h0.6v0.6h-0.6zM310.6 342.6h0.6v0.6h-0.6zM340.6 352.6h0.6v0.6h-0.6zM342.0 345.5h0.6v0.6h-0.6zM336.4 341.4h0.6v0.6h-0.6zM337.9 362.4h0.6v0.6h-0.6zM310.2 340.0h0.6v0.6h-0.6zM337.4 361.0h0.6v0.6h-0.6zM331.7 356.4h0.6v0.6h-0.6zM309.3 342.3h0.6v0.6h-0.6zM329.9 360.4h0.6v0.6h-0.6zM327.2 360.6h0.6v0.6h-0.6zM334.7 355.5h0.6v0.6h-0.6zM301.2 346.9h0.6v0.6h-0.6zM303.8 351.7h0.6v0.6h-0.6zM308.3 338.7h0.6v0.6h-0.6zM305.5 341.4h0.6v0.6h-0.6zM300.4 351.6h0.6v0.6h-0.6zM299.6 348.5h0.6v0.6h-0.6zM315.1 341.5h0.6v0.6h-0.6zM307.0 343.4h0.6v0.6h-0.6zM333.0 338.6h0.6v0.6h-0.6zM319.4 337.6h0.6v0.6h-0.6zM317.6 340.1h0.6v0.6h-0.6zM308.0 342.4h0.6v0.6h-0.6zM310.7 359.5h0.6v0.6h-0.6zM322.7 340.8h0.6v0.6h-0.6zM330.4 356.3h0.6v0.6h-0.6zM301.3 357.5h0.6v0.6h-0.6zM328.6 361.0h0.6v0.6h-0.6zM302.7 349.9h0.6v0.6h-0.6zM326.2 342.1h0.6v0.6h-0.6zM332.6 355.5h0.6v0.6h-0.6zM318.2 361.9h0.6v0.6h-0.6zM328.1 341.1h0.6v0.6h-0.6zM338.3 342.3h0.6v0.6h-0.6zM341.1 356.2h0.6v0.6h-0.6zM323.1 360.4h0.6v0.6h-0.6zM313.0 341.8h0.6v0.6h-0.6zM305.1 356.7h0.6v0.6h-0.6zM331.0 359.5h0.6v0.6h-0.6zM301.9 348.1h0.6v0.6h-0.6zM319.4 358.9h0.6v0.6h-0.6zM330.8 358.4h0.6v0.6h-0.6zM301.3 341.3h0.6v0.6h-0.6zM306.1 342.2h0.6v0.6h-0.6zM314.3 340.5h0.6v0.6h-0.6zM320.7 360.7h0.6v0.6h-0.6zM344.1 354.2h0.6v0.6h-0.6zM330.8 358.5h0.6v0.6h-0.6zM314.3 359.6h0.6v0.6h-0.6zM312.8 338.7h0.6v0.6h-0.6zM298.0 354.0h0.6v0.6h-0.6zM307.0 360.0h0.6v0.6h-0.6zM299.1 344.9h0.6v0.6h-0.6zM306.0 345.3h0.6v0.6h-0.6zM320.7 359.7h0.6v0.6h-0.6zM300.3 352.4h0.6v0.6h-0.6zM328.4 336.6h0.6v0.6h-0.6zM303.5 346.2h0.6v0.6h-0.6zM344.7 353.3h0.6v0.6h-0.6zM339.9 340.8h0.6v0.6h-0.6zM319.3 339.3h0.6v0.6h-0.6zM342.4 353.6h0.6v0.6h-0.6zM330.7 357.5h0.6v0.6h-0.6zM339.3 339.9h0.6v0.6h-0.6zM341.0 345.3h0.6v0.6h-0.6zM339.7 345.2h0.6v0.6h-0.6zM339.8 345.2h0.6v0.6h-0.6zM338.3 353.1h0.6v0.6h-0.6zM315.6 359.7h0.6v0.6h-0.6zM345.8 344.6h0.6v0.6h-0.6zM321.1 337.2h0.6v0.6h-0.6zM337.6 354.9h0.6v0.6h-0.6zM312.0 358.0h0.6v0.6h-0.6zM340.1 351.8h0.6v0.6h-0.6zM320.2 341.0h0.6v0.6h-0.6zM339.3 344.3h0.6v0.6h-0.6zM341.7 348.6h0.6v0.6h-0.6zM343.4 342.0h0.6v0.6h-0.6zM321.8 358.8h0.6v0.6h-0.6zM337.4 354.5h0.6v0.6h-0.6zM323.6 341.1h0.6v0.6h-0.6zM302.5 346.5h0.6v0.6h-0.6zM312.2 339.2h0.6v0.6h-0.6zM310.6 336.9h0.6v0.6h-0.6zM334.0 336.8h0.6v0.6h-0.6zM321.7 358.2h0.6v0.6h-0.6zM329.2 341.1h0.6v0.6h-0.6zM341.9 343.4h0.6v0.6h-0.6zM311.7 340.7h0.6v0.6h-0.6zM310.9 357.4h0.6v0.6h-0.6zM311.2 342.2h0.6v0.6h-0.6zM340.5 353.6h0.6v0.6h-0.6zM312.0 358.3h0.6v0.6h-0.6zM332.2 340.5h0.6v0.6h-0.6zM332.9 337.2h0.6v0.6h-0.6zM315.6 359.8h0.6v0.6h-0.6zM332.0 338.5h0.6v0.6h-0.6zM304.5 356.1h0.6v0.6h-0.6zM302.5 341.0h0.6v0.6h-0.6zM301.0 345.8h0.6v0.6h-0.6zM299.0 357.5h0.6v0.6h-0.6zM315.9 337.9h0.6v0.6h-0.6zM319.4 358.2h0.6v0.6h-0.6zM309.6 358.9h0.6v0.6h-0.6zM340.8 341.2h0.6v0.6h-0.6zM299.7 346.3h0.6v0.6h-0.6zM345.6 350.0h0.6v0.6h-0.6zM300.1 352.4h0.6v0.6h-0.6zM312.3 339.8h0.6v0.6h-0.6zM321.9 336.7h0.6v0.6h-0.6zM336.0 339.7h0.6v0.6h-0.6zM339.7 348.4h0.6v0.6h-0.6zM301.0 344.8h0.6v0.6h-0.6zM297.5 342.8h0.6v0.6h-0.6zM314.3 340.1h0.6v0.6h-0.6zM342.9 351.3h0.6v0.6h-0.6zM306.1 344.4h0.6v0.6h-0.6zM324.2 358.3h0.6v0.6h-0.6zM325.2 341.5h0.6v0.6h-0.6zM307.8 343.4h0.6v0.6h-0.6zM326.7 338.6h0.6v0.6h-0.6zM336.4 355.5h0.6v0.6h-0.6zM319.4 358.7h0.6v0.6h-0.6zM322.7 340.1h0.6v0.6h-0.6zM310.7 338.1h0.6v0.6h-0.6zM340.5 345.0h0.6v0.6h-0.6zM303.8 346.3h0.6v0.6h-0.6zM340.1 343.4h0.6v0.6h-0.6zM330.9 338.3h0.6v0.6h-0.6zM307.8 339.8h0.6v0.6h-0.6zM321.0 340.1h0.6v0.6h-0.6zM335.4 335.2h0.6v0.6h-0.6zM315.9 339.4h0.6v0.6h-0.6zM338.0 341.5h0.6v0.6h-0.6zM322.3 365.8h0.6v0.6h-0.6zM300.4 355.4h0.6v0.6h-0.6zM303.7 346.3h0.6v0.6h-0.6zM312.6 336.2h0.6v0.6h-0.6zM333.2 341.2h0.6v0.6h-0.6zM304.4 354.2h0.6v0.6h-0.6zM303.2 359.2h0.6v0.6h-0.6zM336.3 355.2h0.6v0.6h-0.6zM324.4 341.3h0.6v0.6h-0.6zM338.5 360.6h0.6v0.6h-0.6zM315.8 333.9h0.6v0.6h-0.6zM313.7 342.3h0.6v0.6h-0.6zM304.9 354.7h0.6v0.6h-0.6zM322.8 357.3h0.6v0.6h-0.6zM334.0 337.8h0.6v0.6h-0.6zM305.6 344.0h0.6v0.6h-0.6zM341.0 344.8h0.6v0.6h-0.6zM309.2 341.7h0.6v0.6h-0.6zM334.1 338.2h0.6v0.6h-0.6zM309.8 341.7h0.6v0.6h-0.6zM317.6 341.1h0.6v0.6h-0.6zM318.1 358.7h0.6v0.6h-0.6zM310.9 339.4h0.6v0.6h-0.6zM334.2 357.4h0.6v0.6h-0.6zM342.0 351.6h0.6v0.6h-0.6zM326.9 359.0h0.6v0.6h-0.6zM342.5 344.9h0.6v0.6h-0.6zM314.4 357.8h0.6v0.6h-0.6zM303.0 346.8h0.6v0.6h-0.6zM308.8 357.9h0.6v0.6h-0.6zM300.4 351.6h0.6v0.6h-0.6zM307.1 343.6h0.6v0.6h-0.6zM340.1 343.4h0.6v0.6h-0.6zM302.4 345.6h0.6v0.6h-0.6zM341.1 348.6h0.6v0.6h-0.6zM322.7 341.2h0.6v0.6h-0.6zM311.8 360.2h0.6v0.6h-0.6zM340.6 355.7h0.6v0.6h-0.6zM321.9 340.2h0.6v0.6h-0.6zM320.1 341.7h0.6v0.6h-0.6zM338.2 353.7h0.6v0.6h-0.6zM323.5 339.1h0.6v0.6h-0.6zM340.7 353.7h0.6v0.6h-0.6zM339.6 351.8h0.6v0.6h-0.6zM338.4 352.3h0.6v0.6h-0.6zM319.4 358.4h0.6v0.6h-0.6zM328.1 341.1h0.6v0.6h-0.6zM328.1 341.4h0.6v0.6h-0.6z" fill="#000" fill-opacity="0.6"/>
<path d="M331.6 345.3h0.6v0.6h-0.6zM335.2 341.0h0.6v0.6h-0.6zM331.2 326.1h0.6v0.6h-0.6zM335.1 331.4h0.6v0.6h-0.6zM334.9 329.5h0.6v0.6h-0.6zM334.0 336.4h0.6v0.6h-0.6zM336.6 332.9h0.6v0.6h-0.6zM331.6 334.8h0.6v0.6h-0.6zM340.6 334.6h0.6v0.6h-0.6zM336.8 339.7h0.6v0.6h-0.6zM336.3 338.7h0.6v0.6h-0.6zM328.5 340.8h0.6v0.6h-0.6zM336.4 335.3h0.6v0.6h-0.6zM335.5 338.5h0.6v0.6h-0.6zM333.5 336.2h0.6v0.6h-0.6zM331.7 338.3h0.6v0.6h-0.6zM329.5 335.6h0.6v0.6h-0.6zM332.1 339.4h0.6v0.6h-0.6zM338.0 337.4h0.6v0.6h-0.6zM335.1 338.6h0.6v0.6h-0.6zM329.4 336.7h0.6v0.6h-0.6zM330.1 336.6h0.6v0.6h-0.6zM332.3 333.9h0.6v0.6h-0.6zM336.4 341.9h0.6v0.6h-0.6zM331.2 333.5h0.6v0.6h-0.6zM333.6 333.4h0.6v0.6h-0.6zM333.6 336.2h0.6v0.6h-0.6zM330.8 340.9h0.6v0.6h-0.6zM328.5 335.9h0.6v0.6h-0.6zM338.1 337.3h0.6v0.6h-0.6zM330.8 333.9h0.6v0.6h-0.6zM332.4 333.4h0.6v0.6h-0.6zM329.3 331.1h0.6v0.6h-0.6zM335.1 336.1h0.6v0.6h-0.6zM333.4 341.0h0.6v0.6h-0.6zM337.5 331.9h0.6v0.6h-0.6zM335.8 332.3h0.6v0.6h-0.6zM332.1 324.6h0.6v0.6h-0.6zM334.5 333.3h0.6v0.6h-0.6zM332.4 338.0h0.6v0.6h-0.6zM336.9 330.1h0.6v0.6h-0.6zM336.4 340.8h0.6v0.6h-0.6zM333.3 328.4h0.6v0.6h-0.6zM337.8 329.1h0.6v0.6h-0.6zM336.8 331.6h0.6v0.6h-0.6zM331.9 330.3h0.6v0.6h-0.6zM335.1 339.1h0.6v0.6h-0.6zM334.9 331.9h0.6v0.6h-0.6zM333.3 339.8h0.6v0.6h-0.6zM335.3 332.0h0.6v0.6h-0.6zM338.2 337.3h0.6v0.6h-0.6zM331.6 329.1h0.6v0.6h-0.6zM333.1 334.6h0.6v0.6h-0.6zM336.9 339.1h0.6v0.6h-0.6zM340.5 335.2h0.6v0.6h-0.6zM332.0 334.4h0.6v0.6h-0.6zM334.3 329.2h0.6v0.6h-0.6zM334.8 335.9h0.6v0.6h-0.6zM333.2 326.1h0.6v0.6h-0.6zM334.2 332.1h0.6v0.6h-0.6zM335.3 337.8h0.6v0.6h-0.6zM326.6 339.3h0.6v0.6h-0.6zM331.1 340.6h0.6v0.6h-0.6zM335.4 337.3h0.6v0.6h-0.6zM330.8 337.0h0.6v0.6h-0.6zM332.4 342.1h0.6v0.6h-0.6zM334.6 339.0h0.6v0.6h-0.6zM330.5 340.6h0.6v0.6h-0.6zM332.8 337.6h0.6v0.6h-0.6zM338.2 335.4h0.6v0.6h-0.6zM332.2 339.2h0.6v0.6h-0.6zM338.3 335.9h0.6v0.6h-0.6zM339.3 338.6h0.6v0.6h-0.6zM332.5 332.4h0.6v0.6h-0.6zM333.7 332.1h0.6v0.6h-0.6zM329.3 336.7h0.6v0.6h-0.6zM335.6 340.2h0.6v0.6h-0.6zM329.0 332.7h0.6v0.6h-0.6zM336.8 335.4h0.6v0.6h-0.6zM333.6 333.9h0.6v0.6h-0.6zM330.6 337.1h0.6v0.6h-0.6zM331.6 340.1h0.6v0.6h-0.6zM333.4 338.3h0.6v0.6h-0.6zM331.6 332.7h0.6v0.6h-0.6zM338.6 327.7h0.6v0.6h-0.6zM335.6 333.3h0.6v0.6h-0.6zM332.3 338.4h0.6v0.6h-0.6zM332.9 338.7h0.6v0.6h-0.6zM334.1 337.4h0.6v0.6h-0.6zM339.1 335.5h0.6v0.6h-0.6zM334.0 344.0h0.6v0.6h-0.6zM330.1 337.6h0.6v0.6h-0.6zM330.9 328.8h0.6v0.6h-0.6zM338.5 340.4h0.6v0.6h-0.6zM333.4 336.5h0.6v0.6h-0.6zM329.3 338.7h0.6v0.6h-0.6zM331.3 341.5h0.6v0.6h-0.6zM338.3 339.7h0.6v0.6h-0.6zM333.6 335.1h0.6v0.6h-0.6zM334.5 337.6h0.6v0.6h-0.6zM336.5 331.1h0.6v0.6h-0.6zM333.5 333.9h0.6v0.6h-0.6zM337.9 343.7h0.6v0.6h-0.6zM336.0 336.1h0.6v0.6h-0.6zM331.1 332.4h0.6v0.6h-0.6zM329.6 334.2h0.6v0.6h-0.6zM335.0 331.7h0.6v0.6h-0.6zM332.5 334.8h0.6v0.6h-0.6zM339.2 330.2h0.6v0.6h-0.6zM336.3 337.2h0.6v0.6h-0.6zM337.2 339.0h0.6v0.6h-0.6zM337.2 339.6h0.6v0.6h-0.6zM332.9 337.3h0.6v0.6h-0.6zM336.1 335.9h0.6v0.6h-0.6zM332.7 334.6h0.6v0.6h-0.6zM332.1 339.0h0.6v0.6h-0.6zM325.3 334.9h0.6v0.6h-0.6zM337.7 332.3h0.6v0.6h-0.6zM335.4 335.6h0.6v0.6h-0.6zM330.2 329.6h0.6v0.6h-0.6zM341.7 337.0h0.6v0.6h-0.6zM330.7 325.9h0.6v0.6h-0.6zM334.2 338.5h0.6v0.6h-0.6zM333.2 333.4h0.6v0.6h-0.6zM331.5 333.9h0.6v0.6h-0.6zM335.2 338.3h0.6v0.6h-0.6zM335.4 334.0h0.6v0.6h-0.6zM336.7 338.4h0.6v0.6h-0.6zM334.7 341.2h0.6v0.6h-0.6zM333.4 325.4h0.6v0.6h-0.6zM332.7 332.4h0.6v0.6h-0.6zM333.7 340.6h0.6v0.6h-0.6zM333.0 341.4h0.6v0.6h-0.6zM327.9 339.0h0.6v0.6h-0.6zM334.8 329.7h0.6v0.6h-0.6zM340.5 333.2h0.6v0.6h-0.6zM333.0 344.6h0.6v0.6h-0.6zM338.5 331.4h0.6v0.6h-0.6zM334.9 335.1h0.6v0.6h-0.6zM338.3 333.3h0.6v0.6h-0.6zM336.0 342.7h0.6v0.6h-0.6zM337.3 331.9h0.6v0.6h-0.6zM338.6 333.7h0.6v0.6h-0.6zM328.8 331.4h0.6v0.6h-0.6zM339.9 334.1h0.6v0.6h-0.6zM329.3 333.7h0.6v0.6h-0.6zM334.0 338.7h0.6v0.6h-0.6zM336.4 338.6h0.6v0.6h-0.6zM334.9 329.3h0.6v0.6h-0.6zM334.9 332.3h0.6v0.6h-0.6zM331.4 344.2h0.6v0.6h-0.6zM338.9 342.4h0.6v0.6h-0.6zM335.2 332.2h0.6v0.6h-0.6zM337.3 326.1h0.6v0.6h-0.6zM329.1 332.1h0.6v0.6h-0.6zM339.1 344.2h0.6v0.6h-0.6zM338.4 337.4h0.6v0.6h-0.6zM334.2 328.6h0.6v0.6h-0.6zM334.2 342.0h0.6v0.6h-0.6zM334.7 339.2h0.6v0.6h-0.6zM334.1 327.4h0.6v0.6h-0.6zM335.3 343.7h0.6v0.6h-0.6zM330.8 333.5h0.6v0.6h-0.6zM330.8 340.3h0.6v0.6h-0.6zM332.5 334.5h0.6v0.6h-0.6zM339.7 331.8h0.6v0.6h-0.6zM331.5 331.1h0.6v0.6h-0.6zM336.5 330.9h0.6v0.6h-0.6zM332.8 331.5h0.6v0.6h-0.6zM338.5 344.2h0.6v0.6h-0.6zM338.8 333.3h0.6v0.6h-0.6zM333.8 333.9h0.6v0.6h-0.6zM334.8 327.7h0.6v0.6h-0.6zM332.7 339.5h0.6v0.6h-0.6zM337.6 337.5h0.6v0.6h-0.6zM339.3 332.0h0.6v0.6h-0.6zM326.7 337.0h0.6v0.6h-0.6zM332.4 334.4h0.6v0.6h-0.6zM329.3 341.0h0.6v0.6h-0.6zM332.5 334.0h0.6v0.6h-0.6zM335.3 342.4h0.6v0.6h-0.6zM331.7 335.2h0.6v0.6h-0.6zM334.4 338.1h0.6v0.6h-0.6zM337.7 329.9h0.6v0.6h-0.6zM335.8 329.1h0.6v0.6h-0.6zM335.2 336.6h0.6v0.6h-0.6zM332.9 329.6h0.6v0.6h-0.6zM336.6 329.0h0.6v0.6h-0.6zM330.0 338.6h0.6v0.6h-0.6zM334.9 335.4h0.6v0.6h-0.6zM331.2 332.0h0.6v0.6h-0.6zM329.3 335.8h0.6v0.6h-0.6zM332.5 337.2h0.6v0.6h-0.6zM333.4 325.1h0.6v0.6h-0.6zM327.7 336.8h0.6v0.6h-0.6zM336.2 331.0h0.6v0.6h-0.6zM336.0 332.8h0.6v0.6h-0.6zM331.4 339.5h0.6v0.6h-0.6zM332.3 336.4h0.6v0.6h-0.6zM337.5 339.4h0.6v0.6h-0.6zM334.9 341.1h0.6v0.6h-0.6zM332.2 339.7h0.6v0.6h-0.6zM329.5 343.6h0.6v0.6h-0.6zM335.6 336.3h0.6v0.6h-0.6zM335.8 336.0h0.6v0.6h-0.6zM331.5 332.8h0.6v0.6h-0.6zM335.8 334.5h0.6v0.6h-0.6zM329.2 344.1h0.6v0.6h-0.6zM330.9 336.0h0.6v0.6h-0.6zM326.8 330.9h0.6v0.6h-0.6zM335.6 331.7h0.6v0.6h-0.6zM338.5 325.4h0.6v0.6h-0.6zM332.4 339.2h0.6v0.6h-0.6zM336.7 333.1h0.6v0.6h-0.6zM336.5 337.6h0.6v0.6h-0.6zM333.6 332.8h0.6v0.6h-0.6zM332.6 335.0h0.6v0.6h-0.6zM329.7 338.4h0.6v0.6h-0.6zM337.7 338.5h0.6v0.6h-0.6zM334.3 340.6h0.6v0.6h-0.6zM333.8 335.2h0.6v0.6h-0.6zM330.2 337.7h0.6v0.6h-0.6zM337.9 335.2h0.6v0.6h-0.6zM338.8 329.5h0.6v0.6h-0.6zM336.6 331.8h0.6v0.6h-0.6zM335.6 338.7h0.6v0.6h-0.6zM335.0 336.7h0.6v0.6h-0.6zM329.3 338.4h0.6v0.6h-0.6zM332.5 328.4h0.6v0.6h-0.6zM334.5 338.1h0.6v0.6h-0.6zM337.7 336.8h0.6v0.6h-0.6zM332.6 343.0h0.6v0.6h-0.6zM334.1 331.8h0.6v0.6h-0.6zM333.7 341.1h0.6v0.6h-0.6zM338.3 328.6h0.6v0.6h-0.6zM333.5 328.7h0.6v0.6h-0.6zM333.6 334.9h0.6v0.6h-0.6zM333.8 335.1h0.6v0.6h-0.6zM336.3 336.2h0.6v0.6h-0.6zM332.4 343.1h0.6v0.6h-0.6zM333.3 332.8h0.6v0.6h-0.6zM334.7 335.7h0.6v0.6h-0.6zM328.1 334.4h0.6v0.6h-0.6zM337.5 340.0h0.6v0.6h-0.6zM333.4 341.4h0.6v0.6h-0.6zM339.2 337.0h0.6v0.6h-0.6zM331.1 333.4h0.6v0.6h-0.6zM334.9 337.8h0.6v0.6h-0.6zM331.7 338.8h0.6v0.6h-0.6zM332.6 338.6h0.6v0.6h-0.6zM331.3 336.7h0.6v0.6h-0.6zM332.5 331.9h0.6v0.6h-0.6zM335.8 336.1h0.6v0.6h-0.6zM337.3 336.0h0.6v0.6h-0.6zM331.3 336.6h0.6v0.6h-0.6zM329.2 333.1h0.6v0.6h-0.6zM329.9 337.2h0.6v0.6h-0.6zM334.2 335.6h0.6v0.6h-0.6zM333.9 337.9h0.6v0.6h-0.6zM328.4 333.0h0.6v0.6h-0.6zM329.6 331.2h0.6v0.6h-0.6zM327.8 342.0h0.6v0.6h-0.6zM331.6 327.8h0.6v0.6h-0.6zM335.3 338.3h0.6v0.6h-0.6zM333.4 332.8h0.6v0.6h-0.6zM333.2 330.2h0.6v0.6h-0.6zM337.6 335.0h0.6v0.6h-0.6zM331.1 335.2h0.6v0.6h-0.6zM335.6 333.9h0.6v0.6h-0.6zM340.3 342.3h0.6v0.6h-0.6zM336.7 334.9h0.6v0.6h-0.6zM335.6 339.7h0.6v0.6h-0.6zM334.4 340.7h0.6v0.6h-0.6zM331.9 332.0h0.6v0.6h-0.6zM331.2 334.1h0.6v0.6h-0.6zM333.0 331.4h0.6v0.6h-0.6zM333.4 340.5h0.6v0.6h-0.6zM329.3 335.5h0.6v0.6h-0.6zM337.0 335.8h0.6v0.6h-0.6zM332.1 334.9h0.6v0.6h-0.6zM334.8 328.1h0.6v0.6h-0.6zM331.6 336.0h0.6v0.6h-0.6zM336.3 339.1h0.6v0.6h-0.6zM334.4 344.7h0.6v0.6h-0.6zM327.5 340.2h0.6v0.6h-0.6zM336.1 331.0h0.6v0.6h-0.6zM338.3 339.8h0.6v0.6h-0.6zM326.1 349.7h0.6v0.6h-0.6zM330.8 330.7h0.6v0.6h-0.6zM332.9 336.3h0.6v0.6h-0.6zM336.5 339.1h0.6v0.6h-0.6zM334.0 336.0h0.6v0.6h-0.6zM335.9 331.7h0.6v0.6h-0.6zM330.4 323.6h0.6v0.6h-0.6zM333.4 331.4h0.6v0.6h-0.6zM332.6 339.0h0.6v0.6h-0.6zM333.1 337.2h0.6v0.6h-0.6zM336.3 338.0h0.6v0.6h-0.6zM330.9 342.7h0.6v0.6h-0.6zM337.5 343.1h0.6v0.6h-0.6zM317.7 339.5h0.6v0.6h-0.6zM313.3 337.4h0.6v0.6h-0.6zM318.9 344.1h0.6v0.6h-0.6zM318.0 341.2h0.6v0.6h-0.6zM319.2 331.7h0.6v0.6h-0.6zM320.7 336.5h0.6v0.6h-0.6zM312.4 341.6h0.6v0.6h-0.6zM316.5 342.0h0.6v0.6h-0.6zM314.5 338.8h0.6v0.6h-0.6zM311.5 338.4h0.6v0.6h-0.6zM323.3 338.5h0.6v0.6h-0.6zM325.3 339.5h0.6v0.6h-0.6zM308.5 332.9h0.6v0.6h-0.6zM314.9 336.6h0.6v0.6h-0.6zM315.5 341.7h0.6v0.6h-0.6zM316.1 333.8h0.6v0.6h-0.6zM308.0 342.2h0.6v0.6h-0.6zM317.6 334.7h0.6v0.6h-0.6zM319.5 341.0h0.6v0.6h-0.6zM313.7 341.4h0.6v0.6h-0.6zM317.9 339.9h0.6v0.6h-0.6zM311.5 336.9h0.6v0.6h-0.6zM303.2 335.5h0.6v0.6h-0.6zM323.0 337.4h0.6v0.6h-0.6zM312.1 344.0h0.6v0.6h-0.6zM316.0 341.5h0.6v0.6h-0.6zM314.2 337.1h0.6v0.6h-0.6zM307.6 338.1h0.6v0.6h-0.6zM317.4 339.1h0.6v0.6h-0.6zM315.1 339.8h0.6v0.6h-0.6zM316.6 337.5h0.6v0.6h-0.6zM325.6 342.4h0.6v0.6h-0.6zM325.8 337.0h0.6v0.6h-0.6zM322.2 340.2h0.6v0.6h-0.6zM314.3 344.5h0.6v0.6h-0.6zM310.8 345.2h0.6v0.6h-0.6zM315.6 338.2h0.6v0.6h-0.6zM315.0 340.6h0.6v0.6h-0.6zM318.1 337.4h0.6v0.6h-0.6zM316.0 335.9h0.6v0.6h-0.6zM319.9 337.5h0.6v0.6h-0.6zM326.0 340.6h0.6v0.6h-0.6zM319.2 340.6h0.6v0.6h-0.6zM322.8 331.8h0.6v0.6h-0.6zM321.4 331.8h0.6v0.6h-0.6zM317.3 334.9h0.6v0.6h-0.6zM320.8 337.0h0.6v0.6h-0.6zM325.9 332.6h0.6v0.6h-0.6zM322.6 337.0h0.6v0.6h-0.6zM324.6 337.1h0.6v0.6h-0.6zM315.0 340.7h0.6v0.6h-0.6zM307.9 334.7h0.6v0.6h-0.6zM315.7 337.1h0.6v0.6h-0.6zM332.0 339.1h0.6v0.6h-0.6zM316.4 336.9h0.6v0.6h-0.6zM319.8 332.3h0.6v0.6h-0.6zM320.8 339.2h0.6v0.6h-0.6zM324.9 335.6h0.6v0.6h-0.6zM321.3 337.0h0.6v0.6h-0.6zM322.2 344.3h0.6v0.6h-0.6zM316.3 335.0h0.6v0.6h-0.6zM312.8 341.1h0.6v0.6h-0.6zM310.7 330.6h0.6v0.6h-0.6zM325.6 340.2h0.6v0.6h-0.6zM322.0 338.5h0.6v0.6h-0.6zM320.6 340.2h0.6v0.6h-0.6zM319.1 331.6h0.6v0.6h-0.6zM321.5 338.9h0.6v0.6h-0.6zM315.5 335.9h0.6v0.6h-0.6zM312.1 332.5h0.6v0.6h-0.6zM321.5 338.7h0.6v0.6h-0.6zM319.9 336.3h0.6v0.6h-0.6zM313.6 337.6h0.6v0.6h-0.6zM322.2 341.4h0.6v0.6h-0.6zM325.6 339.8h0.6v0.6h-0.6zM319.3 335.2h0.6v0.6h-0.6zM316.6 337.6h0.6v0.6h-0.6zM306.0 340.4h0.6v0.6h-0.6zM312.6 337.0h0.6v0.6h-0.6zM316.1 344.6h0.6v0.6h-0.6zM321.4 335.7h0.6v0.6h-0.6zM323.0 337.9h0.6v0.6h-0.6zM321.7 338.9h0.6v0.6h-0.6zM314.5 333.8h0.6v0.6h-0.6zM316.9 335.6h0.6v0.6h-0.6zM324.6 335.8h0.6v0.6h-0.6zM323.5 333.6h0.6v0.6h-0.6zM318.3 339.6h0.6v0.6h-0.6zM312.9 338.6h0.6v0.6h-0.6zM314.4 333.7h0.6v0.6h-0.6zM328.3 335.7h0.6v0.6h-0.6zM320.8 333.8h0.6v0.6h-0.6zM318.0 339.6h0.6v0.6h-0.6zM319.5 336.5h0.6v0.6h-0.6zM312.1 339.9h0.6v0.6h-0.6zM310.8 333.5h0.6v0.6h-0.6zM325.5 336.9h0.6v0.6h-0.6zM316.9 337.1h0.6v0.6h-0.6zM317.0 340.4h0.6v0.6h-0.6zM315.4 333.3h0.6v0.6h-0.6zM324.2 337.4h0.6v0.6h-0.6zM311.3 342.3h0.6v0.6h-0.6zM326.7 335.8h0.6v0.6h-0.6zM313.3 338.4h0.6v0.6h-0.6zM324.0 339.0h0.6v0.6h-0.6zM324.2 329.4h0.6v0.6h-0.6zM315.3 339.7h0.6v0.6h-0.6zM327.8 340.6h0.6v0.6h-0.6zM320.8 332.6h0.6v0.6h-0.6zM312.5 344.0h0.6v0.6h-0.6zM315.1 332.8h0.6v0.6h-0.6zM306.1 333.7h0.6v0.6h-0.6zM318.2 334.8h0.6v0.6h-0.6zM303.3 335.9h0.6v0.6h-0.6zM301.6 335.3h0.6v0.6h-0.6zM322.4 341.3h0.6v0.6h-0.6zM319.4 339.1h0.6v0.6h-0.6zM317.9 345.5h0.6v0.6h-0.6zM320.1 339.9h0.6v0.6h-0.6zM320.0 334.6h0.6v0.6h-0.6zM307.4 347.0h0.6v0.6h-0.6zM315.1 341.4h0.6v0.6h-0.6zM321.4 332.2h0.6v0.6h-0.6zM308.6 338.5h0.6v0.6h-0.6zM313.4 341.7h0.6v0.6h-0.6zM329.0 341.0h0.6v0.6h-0.6zM324.5 341.4h0.6v0.6h-0.6zM314.1 325.4h0.6v0.6h-0.6zM319.8 344.7h0.6v0.6h-0.6zM335.0 340.4h0.6v0.6h-0.6zM318.0 330.5h0.6v0.6h-0.6zM322.0 346.0h0.6v0.6h-0.6zM314.3 338.1h0.6v0.6h-0.6zM318.0 344.3h0.6v0.6h-0.6zM321.0 340.2h0.6v0.6h-0.6zM334.2 333.4h0.6v0.6h-0.6zM310.7 331.5h0.6v0.6h-0.6zM319.9 336.4h0.6v0.6h-0.6zM312.6 337.4h0.6v0.6h-0.6zM324.3 347.7h0.6v0.6h-0.6zM307.4 341.7h0.6v0.6h-0.6zM322.3 338.0h0.6v0.6h-0.6zM325.6 340.9h0.6v0.6h-0.6zM311.3 338.3h0.6v0.6h-0.6zM321.7 339.3h0.6v0.6h-0.6zM324.8 338.9h0.6v0.6h-0.6zM320.3 338.7h0.6v0.6h-0.6zM318.3 340.9h0.6v0.6h-0.6zM301.0 333.0h0.6v0.6h-0.6zM318.6 338.2h0.6v0.6h-0.6zM327.5 338.8h0.6v0.6h-0.6zM312.9 338.4h0.6v0.6h-0.6zM315.7 338.6h0.6v0.6h-0.6zM320.5 335.5h0.6v0.6h-0.6zM309.4 340.9h0.6v0.6h-0.6zM319.9 329.3h0.6v0.6h-0.6zM321.2 330.0h0.6v0.6h-0.6zM318.1 331.8h0.6v0.6h-0.6zM314.0 338.9h0.6v0.6h-0.6zM320.2 332.1h0.6v0.6h-0.6z" fill="#000" fill-opacity="0.5"/>
<path d="M304.8,350.6 L304.8,350.1 L304.9,349.6 L305.0,349.1 L305.2,348.6 L305.5,348.0 L305.8,347.5 L306.1,346.9 L306.4,346.4 L306.8,346.0 L307.2,345.5 L307.6,345.1 L308.0,344.8 L308.4,344.5 L308.9,344.3 L309.3,344.1 L309.8,344.0 L310.3,343.8 L310.8,343.7 L311.4,343.7 L312.0,343.6 L312.6,343.5 L313.2,343.5 L313.8,343.5 L314.5,343.4 L315.2,343.4 L316.0,343.3 L316.7,343.3 L317.5,343.3 L318.4,343.4 L319.2,343.4 L320.1,343.4 L321.0,343.4 L321.8,343.4 L322.7,343.4 L323.6,343.4 L324.5,343.4 L325.4,343.3 L326.4,343.2 L327.4,343.1 L328.4,342.9 L329.4,342.8 L330.4,342.6 L331.4,342.5 L332.4,342.3 L333.3,342.2 L334.1,342.2 L334.9,342.2 L335.5,342.3 L336.0,342.5 L336.5,342.7 L336.9,342.9 L337.2,343.2 L337.5,343.6 L337.7,343.9 L337.9,344.3 L338.1,344.7 L338.2,345.1 L338.3,345.5 L338.4,345.9 L338.5,346.3 L338.6,346.7 L338.6,347.0 L338.6,347.4 L338.6,347.8 L338.6,348.2 L338.5,348.6 L338.4,349.0 L338.3,349.4 L338.2,349.8 L338.1,350.1 L337.9,350.5 L337.8,350.8 L337.7,351.1 L337.6,351.4 L337.5,351.7 L337.4,351.9 L337.3,352.2 L337.2,352.4 L337.0,352.7 L336.8,352.9 L336.5,353.1 L336.1,353.4 L335.6,353.6 L335.0,353.8 L334.3,354.0 L333.4,354.3 L332.4,354.5 L331.3,354.8 L330.2,355.0 L328.9,355.2 L327.7,355.4 L326.4,355.6 L325.2,355.8 L323.9,356.0 L322.7,356.1 L321.6,356.2 L320.5,356.3 L319.3,356.3 L318.1,356.4 L316.9,356.4 L315.6,356.4 L314.4,356.4 L313.3,356.3 L312.2,356.2 L311.1,356.1 L310.1,356.0 L309.3,355.8 L308.5,355.6 L307.8,355.3 L307.3,355.0 L306.8,354.7 L306.3,354.3 L305.9,353.9 L305.6,353.4 L305.4,353.0 L305.2,352.5 L305.0,352.0 L304.9,351.5 L304.8,351.1Z" fill="none" stroke="#000" stroke-width="3.4" stroke-opacity="0.72" filter="url(#bl)"/>
<path d="M304.8,350.6 L304.8,350.1 L304.9,349.6 L305.0,349.1 L305.2,348.6 L305.5,348.0 L305.8,347.5 L306.1,346.9 L306.4,346.4 L306.8,346.0 L307.2,345.5 L307.6,345.1 L308.0,344.8 L308.4,344.5 L308.9,344.3 L309.3,344.1 L309.8,344.0 L310.3,343.8 L310.8,343.7 L311.4,343.7 L312.0,343.6 L312.6,343.5 L313.2,343.5 L313.8,343.5 L314.5,343.4 L315.2,343.4 L316.0,343.3 L316.7,343.3 L317.5,343.3 L318.4,343.4 L319.2,343.4 L320.1,343.4 L321.0,343.4 L321.8,343.4 L322.7,343.4 L323.6,343.4 L324.5,343.4 L325.4,343.3 L326.4,343.2 L327.4,343.1 L328.4,342.9 L329.4,342.8 L330.4,342.6 L331.4,342.5 L332.4,342.3 L333.3,342.2 L334.1,342.2 L334.9,342.2 L335.5,342.3 L336.0,342.5 L336.5,342.7 L336.9,342.9 L337.2,343.2 L337.5,343.6 L337.7,343.9 L337.9,344.3 L338.1,344.7 L338.2,345.1 L338.3,345.5 L338.4,345.9 L338.5,346.3 L338.6,346.7 L338.6,347.0 L338.6,347.4 L338.6,347.8 L338.6,348.2 L338.5,348.6 L338.4,349.0 L338.3,349.4 L338.2,349.8 L338.1,350.1 L337.9,350.5 L337.8,350.8 L337.7,351.1 L337.6,351.4 L337.5,351.7 L337.4,351.9 L337.3,352.2 L337.2,352.4 L337.0,352.7 L336.8,352.9 L336.5,353.1 L336.1,353.4 L335.6,353.6 L335.0,353.8 L334.3,354.0 L333.4,354.3 L332.4,354.5 L331.3,354.8 L330.2,355.0 L328.9,355.2 L327.7,355.4 L326.4,355.6 L325.2,355.8 L323.9,356.0 L322.7,356.1 L321.6,356.2 L320.5,356.3 L319.3,356.3 L318.1,356.4 L316.9,356.4 L315.6,356.4 L314.4,356.4 L313.3,356.3 L312.2,356.2 L311.1,356.1 L310.1,356.0 L309.3,355.8 L308.5,355.6 L307.8,355.3 L307.3,355.0 L306.8,354.7 L306.3,354.3 L305.9,353.9 L305.6,353.4 L305.4,353.0 L305.2,352.5 L305.0,352.0 L304.9,351.5 L304.8,351.1Z" fill="#c8c8c8" stroke="#262626" stroke-width="0.75"/>
<path d="M307.0,350.4 L307.0,350.0 L307.1,349.5 L307.2,349.1 L307.3,348.6 L307.6,348.1 L307.8,347.6 L308.1,347.2 L308.4,346.7 L308.7,346.3 L309.1,345.9 L309.4,345.6 L309.8,345.3 L310.1,345.0 L310.5,344.8 L310.9,344.7 L311.4,344.5 L311.8,344.4 L312.3,344.3 L312.8,344.3 L313.3,344.2 L313.8,344.2 L314.3,344.1 L314.9,344.1 L315.5,344.0 L316.1,344.0 L316.8,344.0 L317.5,344.0 L318.2,344.0 L318.9,344.0 L319.7,344.0 L320.4,344.0 L321.2,344.1 L322.0,344.1 L322.8,344.1 L323.5,344.1 L324.3,344.0 L325.1,344.0 L325.9,343.9 L326.8,343.8 L327.7,343.6 L328.6,343.5 L329.5,343.3 L330.4,343.2 L331.2,343.1 L332.0,343.0 L332.8,343.0 L333.4,343.0 L334.0,343.1 L334.5,343.2 L334.9,343.4 L335.2,343.6 L335.5,343.9 L335.7,344.2 L335.9,344.5 L336.1,344.9 L336.2,345.2 L336.4,345.6 L336.5,345.9 L336.5,346.3 L336.6,346.6 L336.7,346.9 L336.7,347.2 L336.7,347.6 L336.7,347.9 L336.7,348.3 L336.6,348.6 L336.6,349.0 L336.5,349.3 L336.4,349.6 L336.3,350.0 L336.1,350.3 L336.0,350.6 L335.9,350.8 L335.8,351.1 L335.7,351.3 L335.7,351.5 L335.6,351.8 L335.5,352.0 L335.3,352.2 L335.1,352.4 L334.9,352.6 L334.5,352.8 L334.1,353.0 L333.5,353.2 L332.9,353.4 L332.1,353.6 L331.2,353.8 L330.3,354.0 L329.3,354.2 L328.2,354.4 L327.1,354.6 L326.0,354.8 L324.9,355.0 L323.8,355.1 L322.8,355.2 L321.8,355.3 L320.8,355.4 L319.7,355.4 L318.7,355.4 L317.6,355.5 L316.5,355.5 L315.5,355.4 L314.4,355.4 L313.4,355.3 L312.5,355.2 L311.7,355.1 L310.9,355.0 L310.2,354.8 L309.6,354.5 L309.1,354.3 L308.7,354.0 L308.3,353.6 L308.0,353.3 L307.7,352.9 L307.5,352.5 L307.3,352.0 L307.2,351.6 L307.1,351.2 L307.0,350.8Z" fill="#e4e4e4" stroke="#a8a8a8" stroke-width="0.45"/>
<path d="M310.2,350.0 L310.2,349.7 L310.3,349.4 L310.4,349.0 L310.5,348.6 L310.7,348.2 L310.9,347.8 L311.1,347.5 L311.4,347.1 L311.6,346.8 L311.9,346.5 L312.2,346.2 L312.5,346.0 L312.8,345.8 L313.1,345.6 L313.4,345.5 L313.7,345.4 L314.1,345.3 L314.4,345.2 L314.8,345.2 L315.2,345.1 L315.6,345.1 L316.1,345.1 L316.5,345.0 L317.0,345.0 L317.5,345.0 L318.0,344.9 L318.6,344.9 L319.1,345.0 L319.7,345.0 L320.3,345.0 L320.9,345.0 L321.5,345.0 L322.2,345.0 L322.8,345.0 L323.4,345.0 L324.0,345.0 L324.6,344.9 L325.3,344.9 L326.0,344.8 L326.7,344.7 L327.5,344.5 L328.2,344.4 L328.9,344.3 L329.5,344.2 L330.2,344.2 L330.7,344.2 L331.3,344.2 L331.7,344.2 L332.1,344.3 L332.4,344.5 L332.7,344.7 L332.9,344.9 L333.1,345.1 L333.3,345.4 L333.4,345.7 L333.5,345.9 L333.6,346.2 L333.7,346.5 L333.7,346.8 L333.8,347.0 L333.9,347.3 L333.9,347.5 L333.9,347.8 L333.9,348.1 L333.9,348.4 L333.8,348.6 L333.8,348.9 L333.7,349.2 L333.6,349.5 L333.5,349.7 L333.4,349.9 L333.3,350.2 L333.2,350.4 L333.2,350.6 L333.1,350.8 L333.1,351.0 L333.0,351.1 L332.9,351.3 L332.8,351.5 L332.6,351.6 L332.4,351.8 L332.1,352.0 L331.8,352.1 L331.4,352.3 L330.8,352.4 L330.2,352.6 L329.5,352.8 L328.8,352.9 L328.0,353.1 L327.1,353.3 L326.3,353.4 L325.4,353.6 L324.5,353.7 L323.6,353.8 L322.8,353.9 L322.0,354.0 L321.2,354.0 L320.4,354.0 L319.5,354.1 L318.7,354.1 L317.8,354.1 L317.0,354.1 L316.2,354.0 L315.4,354.0 L314.6,353.9 L314.0,353.8 L313.3,353.7 L312.8,353.5 L312.3,353.4 L311.9,353.1 L311.6,352.9 L311.3,352.6 L311.0,352.3 L310.8,352.0 L310.6,351.7 L310.5,351.4 L310.4,351.0 L310.3,350.7 L310.2,350.4Z" fill="#eeeeee" stroke="#c0c0c0" stroke-width="0.45"/>
<path d="M313.8,349.7 L313.8,349.4 L313.9,349.2 L314.0,348.9 L314.1,348.6 L314.2,348.4 L314.3,348.1 L314.5,347.8 L314.7,347.6 L314.8,347.3 L315.0,347.1 L315.2,346.9 L315.4,346.8 L315.6,346.6 L315.9,346.5 L316.1,346.4 L316.3,346.3 L316.6,346.3 L316.8,346.2 L317.1,346.2 L317.4,346.2 L317.7,346.1 L318.0,346.1 L318.3,346.1 L318.7,346.1 L319.0,346.0 L319.4,346.0 L319.8,346.0 L320.2,346.0 L320.6,346.0 L321.0,346.1 L321.5,346.1 L321.9,346.1 L322.4,346.1 L322.8,346.1 L323.2,346.1 L323.7,346.1 L324.1,346.0 L324.6,346.0 L325.1,345.9 L325.6,345.8 L326.1,345.7 L326.7,345.7 L327.2,345.6 L327.6,345.5 L328.1,345.5 L328.5,345.5 L328.9,345.5 L329.2,345.5 L329.5,345.6 L329.7,345.7 L329.9,345.8 L330.0,346.0 L330.2,346.1 L330.3,346.3 L330.4,346.5 L330.5,346.7 L330.5,346.9 L330.6,347.1 L330.6,347.3 L330.7,347.5 L330.7,347.7 L330.7,347.9 L330.8,348.1 L330.7,348.3 L330.7,348.5 L330.7,348.7 L330.6,348.9 L330.6,349.1 L330.5,349.2 L330.5,349.4 L330.4,349.6 L330.3,349.8 L330.3,349.9 L330.2,350.1 L330.2,350.2 L330.1,350.3 L330.1,350.5 L330.0,350.6 L329.9,350.7 L329.8,350.8 L329.7,350.9 L329.5,351.0 L329.2,351.1 L328.9,351.3 L328.6,351.4 L328.1,351.5 L327.6,351.6 L327.1,351.7 L326.5,351.9 L325.9,352.0 L325.3,352.1 L324.7,352.2 L324.0,352.3 L323.4,352.4 L322.8,352.4 L322.2,352.5 L321.7,352.5 L321.1,352.5 L320.5,352.5 L319.9,352.6 L319.3,352.6 L318.7,352.5 L318.1,352.5 L317.5,352.5 L317.0,352.4 L316.5,352.4 L316.1,352.3 L315.7,352.2 L315.4,352.0 L315.1,351.9 L314.8,351.7 L314.6,351.5 L314.4,351.3 L314.3,351.1 L314.1,350.8 L314.0,350.6 L313.9,350.4 L313.9,350.1 L313.9,349.9Z" fill="#f6f6f6" stroke="#d4d4d4" stroke-width="0.45"/>
<path d="M317.4,349.3 L317.5,349.1 L317.5,349.0 L317.5,348.8 L317.6,348.7 L317.7,348.5 L317.7,348.3 L317.8,348.2 L317.9,348.0 L318.1,347.9 L318.2,347.8 L318.3,347.6 L318.4,347.5 L318.5,347.5 L318.7,347.4 L318.8,347.3 L318.9,347.3 L319.1,347.3 L319.3,347.2 L319.4,347.2 L319.6,347.2 L319.8,347.2 L320.0,347.2 L320.2,347.1 L320.4,347.1 L320.6,347.1 L320.8,347.1 L321.0,347.1 L321.3,347.1 L321.5,347.1 L321.8,347.1 L322.0,347.1 L322.3,347.1 L322.6,347.1 L322.8,347.1 L323.1,347.1 L323.4,347.1 L323.6,347.1 L323.9,347.1 L324.2,347.0 L324.5,347.0 L324.8,346.9 L325.1,346.9 L325.4,346.8 L325.7,346.8 L326.0,346.8 L326.2,346.8 L326.5,346.8 L326.7,346.8 L326.8,346.8 L327.0,346.9 L327.1,347.0 L327.2,347.1 L327.3,347.2 L327.3,347.3 L327.4,347.4 L327.4,347.5 L327.5,347.6 L327.5,347.8 L327.5,347.9 L327.6,348.0 L327.6,348.1 L327.6,348.2 L327.6,348.3 L327.6,348.4 L327.6,348.6 L327.6,348.7 L327.5,348.8 L327.5,348.9 L327.5,349.0 L327.4,349.1 L327.4,349.2 L327.3,349.3 L327.3,349.4 L327.3,349.5 L327.3,349.6 L327.2,349.7 L327.2,349.8 L327.2,349.8 L327.1,349.9 L327.0,350.0 L327.0,350.0 L326.8,350.1 L326.7,350.2 L326.5,350.2 L326.3,350.3 L326.0,350.4 L325.7,350.5 L325.4,350.5 L325.1,350.6 L324.7,350.7 L324.3,350.7 L323.9,350.8 L323.6,350.9 L323.2,350.9 L322.8,350.9 L322.5,351.0 L322.1,351.0 L321.8,351.0 L321.4,351.0 L321.1,351.0 L320.7,351.0 L320.3,351.0 L320.0,351.0 L319.7,351.0 L319.3,350.9 L319.0,350.9 L318.8,350.8 L318.6,350.8 L318.4,350.7 L318.2,350.6 L318.0,350.5 L317.9,350.4 L317.8,350.3 L317.7,350.1 L317.6,350.0 L317.6,349.9 L317.5,349.7 L317.5,349.6 L317.5,349.4Z" fill="#fcfcfc" stroke="#e2e2e2" stroke-width="0.45"/>
<rect x="325.80" y="311.10" width="17.90" height="30.20" fill="none" stroke="#000" stroke-width="1.6"/>
<text x="334.70" y="320.60" font-size="9.3" text-anchor="middle" fill="#111" textLength="15.80" lengthAdjust="spacingAndGlyphs">4.53</text>
<line x1="22.00" y1="384.40" x2="22.00" y2="326.30" stroke="#2a2a2a" stroke-width="1.3"/>
<line x1="22.00" y1="351.00" x2="22.00" y2="307.00" stroke="#2a2a2a" stroke-width="1.3"/>
<path d="M22,301.8 L19.6,307.6 L24.4,307.6Z" fill="#2a2a2a"/>
<rect x="17" y="326.5" width="10" height="24.3" fill="#fff"/>
<line x1="21.35" y1="384.40" x2="180.20" y2="384.40" stroke="#2a2a2a" stroke-width="1.3"/>
<line x1="205.50" y1="384.40" x2="345.00" y2="384.40" stroke="#2a2a2a" stroke-width="1.3"/>
<path d="M351,384.4 L344.6,382 L344.6,386.8Z" fill="#2a2a2a"/>
<text x="24.80" y="338.50" font-size="10.3" text-anchor="middle" fill="#222" textLength="19.40" lengthAdjust="spacingAndGlyphs" transform="rotate(-90 24.80 338.50)">EPCR</text>
<text x="192.80" y="388.30" font-size="10.6" text-anchor="middle" fill="#222" textLength="20.20" lengthAdjust="spacingAndGlyphs">CD34</text>
<rect x="29.90" y="520.20" width="77.00" height="76.70" fill="none" stroke="#ababab" stroke-width="1"/>
<rect x="114.30" y="520.20" width="77.00" height="76.70" fill="none" stroke="#ababab" stroke-width="1"/>
<text x="69.40" y="513.80" font-size="10.2" text-anchor="middle" fill="#111" textLength="31.00" lengthAdjust="spacingAndGlyphs">DMSO</text>
<text x="152.30" y="513.80" font-size="10.2" text-anchor="middle" fill="#111" textLength="73.80" lengthAdjust="spacingAndGlyphs">2-PCPA 1.25μM</text>
<ellipse cx="79.2" cy="556.7" rx="3.2" ry="4.2" fill="#000" fill-opacity="0.45" transform="rotate(0 79.2 556.7)" filter="url(#hz)"/>
<ellipse cx="61.4" cy="559.7" rx="10" ry="4" fill="#000" fill-opacity="0.22" transform="rotate(0 61.4 559.7)" filter="url(#hz)"/>
<path d="M44.2 567.4h0.6v0.6h-0.6zM45.3 579.1h0.6v0.6h-0.6zM42.7 572.1h0.6v0.6h-0.6zM85.6 573.8h0.6v0.6h-0.6zM79.1 581.2h0.6v0.6h-0.6zM44.9 570.9h0.6v0.6h-0.6zM84.8 569.8h0.6v0.6h-0.6zM67.8 583.3h0.6v0.6h-0.6zM48.9 581.7h0.6v0.6h-0.6zM42.7 577.9h0.6v0.6h-0.6zM87.6 574.0h0.6v0.6h-0.6zM84.6 567.3h0.6v0.6h-0.6zM45.2 565.0h0.6v0.6h-0.6zM75.9 583.5h0.6v0.6h-0.6zM84.8 577.8h0.6v0.6h-0.6zM44.7 580.7h0.6v0.6h-0.6zM70.9 563.5h0.6v0.6h-0.6zM72.5 562.5h0.6v0.6h-0.6zM84.1 578.5h0.6v0.6h-0.6zM67.8 563.6h0.6v0.6h-0.6zM74.5 582.3h0.6v0.6h-0.6zM55.1 583.1h0.6v0.6h-0.6zM44.5 572.4h0.6v0.6h-0.6zM59.0 563.4h0.6v0.6h-0.6zM67.8 582.5h0.6v0.6h-0.6zM62.4 585.0h0.6v0.6h-0.6zM46.2 581.0h0.6v0.6h-0.6zM50.3 562.9h0.6v0.6h-0.6zM50.2 583.3h0.6v0.6h-0.6zM44.3 575.1h0.6v0.6h-0.6zM47.8 584.6h0.6v0.6h-0.6zM55.6 563.7h0.6v0.6h-0.6zM84.6 573.7h0.6v0.6h-0.6zM84.7 566.6h0.6v0.6h-0.6zM64.7 562.1h0.6v0.6h-0.6zM56.7 563.6h0.6v0.6h-0.6zM44.6 571.9h0.6v0.6h-0.6zM86.2 577.3h0.6v0.6h-0.6zM55.4 561.8h0.6v0.6h-0.6zM57.9 583.2h0.6v0.6h-0.6zM73.2 582.8h0.6v0.6h-0.6zM44.8 576.6h0.6v0.6h-0.6zM81.2 563.1h0.6v0.6h-0.6zM82.8 578.8h0.6v0.6h-0.6zM58.9 562.7h0.6v0.6h-0.6zM45.1 577.6h0.6v0.6h-0.6zM84.3 575.1h0.6v0.6h-0.6zM73.2 583.0h0.6v0.6h-0.6zM75.0 563.5h0.6v0.6h-0.6zM85.6 567.7h0.6v0.6h-0.6zM49.0 581.5h0.6v0.6h-0.6zM47.3 562.8h0.6v0.6h-0.6zM44.5 571.9h0.6v0.6h-0.6zM51.4 582.6h0.6v0.6h-0.6zM49.9 564.6h0.6v0.6h-0.6zM44.9 569.7h0.6v0.6h-0.6zM53.7 583.6h0.6v0.6h-0.6zM66.2 563.2h0.6v0.6h-0.6zM59.0 563.2h0.6v0.6h-0.6zM50.4 582.6h0.6v0.6h-0.6zM44.9 566.9h0.6v0.6h-0.6zM52.6 582.4h0.6v0.6h-0.6zM85.9 569.1h0.6v0.6h-0.6zM74.5 582.6h0.6v0.6h-0.6zM43.9 570.1h0.6v0.6h-0.6zM85.1 571.1h0.6v0.6h-0.6zM57.8 562.8h0.6v0.6h-0.6zM76.0 563.9h0.6v0.6h-0.6zM44.0 575.7h0.6v0.6h-0.6zM73.1 582.1h0.6v0.6h-0.6zM55.6 563.5h0.6v0.6h-0.6zM67.8 563.5h0.6v0.6h-0.6zM83.7 566.4h0.6v0.6h-0.6zM80.9 564.5h0.6v0.6h-0.6zM52.5 583.3h0.6v0.6h-0.6zM84.4 568.0h0.6v0.6h-0.6zM73.9 562.1h0.6v0.6h-0.6zM79.2 564.2h0.6v0.6h-0.6zM44.6 579.5h0.6v0.6h-0.6zM45.6 580.0h0.6v0.6h-0.6zM71.0 562.2h0.6v0.6h-0.6zM70.9 563.5h0.6v0.6h-0.6zM56.6 561.9h0.6v0.6h-0.6zM69.2 583.3h0.6v0.6h-0.6zM45.1 577.6h0.6v0.6h-0.6zM44.1 574.0h0.6v0.6h-0.6zM72.4 563.0h0.6v0.6h-0.6zM79.2 564.2h0.6v0.6h-0.6zM71.8 582.9h0.6v0.6h-0.6zM45.5 568.0h0.6v0.6h-0.6zM86.1 565.0h0.6v0.6h-0.6zM53.5 563.5h0.6v0.6h-0.6zM46.0 581.3h0.6v0.6h-0.6zM44.8 576.6h0.6v0.6h-0.6zM44.3 574.5h0.6v0.6h-0.6zM53.4 563.2h0.6v0.6h-0.6zM50.5 582.2h0.6v0.6h-0.6zM56.7 563.6h0.6v0.6h-0.6zM83.6 577.3h0.6v0.6h-0.6zM77.1 562.7h0.6v0.6h-0.6zM45.4 580.2h0.6v0.6h-0.6zM77.0 563.3h0.6v0.6h-0.6zM76.0 584.0h0.6v0.6h-0.6zM50.3 582.8h0.6v0.6h-0.6zM84.7 570.5h0.6v0.6h-0.6zM46.6 565.3h0.6v0.6h-0.6zM44.3 575.6h0.6v0.6h-0.6zM85.6 567.0h0.6v0.6h-0.6zM45.9 565.7h0.6v0.6h-0.6zM84.0 566.9h0.6v0.6h-0.6zM85.9 570.5h0.6v0.6h-0.6zM85.1 565.6h0.6v0.6h-0.6zM46.2 566.0h0.6v0.6h-0.6zM45.1 569.1h0.6v0.6h-0.6zM60.2 563.0h0.6v0.6h-0.6zM42.9 575.2h0.6v0.6h-0.6zM77.0 563.3h0.6v0.6h-0.6zM52.4 583.7h0.6v0.6h-0.6zM84.3 579.8h0.6v0.6h-0.6zM67.8 583.2h0.6v0.6h-0.6zM79.9 564.1h0.6v0.6h-0.6zM55.0 584.0h0.6v0.6h-0.6zM44.5 570.2h0.6v0.6h-0.6zM44.8 577.7h0.6v0.6h-0.6zM59.4 583.0h0.6v0.6h-0.6zM43.3 574.6h0.6v0.6h-0.6zM82.4 579.5h0.6v0.6h-0.6zM66.5 582.4h0.6v0.6h-0.6zM42.5 578.0h0.6v0.6h-0.6zM49.7 564.0h0.6v0.6h-0.6zM65.3 584.1h0.6v0.6h-0.6zM44.7 574.0h0.6v0.6h-0.6zM72.4 562.7h0.6v0.6h-0.6zM54.3 561.7h0.6v0.6h-0.6zM42.7 576.5h0.6v0.6h-0.6zM86.0 569.1h0.6v0.6h-0.6zM60.2 561.5h0.6v0.6h-0.6zM44.9 566.9h0.6v0.6h-0.6zM60.2 563.4h0.6v0.6h-0.6zM51.2 562.2h0.6v0.6h-0.6zM83.8 578.3h0.6v0.6h-0.6zM79.1 581.2h0.6v0.6h-0.6zM63.9 584.3h0.6v0.6h-0.6zM85.8 571.9h0.6v0.6h-0.6zM72.4 563.1h0.6v0.6h-0.6zM51.6 564.1h0.6v0.6h-0.6zM84.7 566.6h0.6v0.6h-0.6zM55.6 563.3h0.6v0.6h-0.6zM85.3 567.1h0.6v0.6h-0.6zM53.8 582.9h0.6v0.6h-0.6zM48.3 581.4h0.6v0.6h-0.6zM80.5 563.5h0.6v0.6h-0.6zM78.1 581.7h0.6v0.6h-0.6zM47.7 581.1h0.6v0.6h-0.6zM64.6 562.6h0.6v0.6h-0.6zM63.9 584.9h0.6v0.6h-0.6zM46.3 564.8h0.6v0.6h-0.6zM67.8 562.7h0.6v0.6h-0.6zM45.2 567.8h0.6v0.6h-0.6zM44.1 569.6h0.6v0.6h-0.6zM55.6 563.4h0.6v0.6h-0.6zM44.1 571.8h0.6v0.6h-0.6zM43.4 574.6h0.6v0.6h-0.6zM70.9 563.1h0.6v0.6h-0.6zM62.4 583.9h0.6v0.6h-0.6zM44.9 577.1h0.6v0.6h-0.6zM83.6 565.8h0.6v0.6h-0.6zM51.6 564.3h0.6v0.6h-0.6zM44.9 570.3h0.6v0.6h-0.6zM43.1 575.8h0.6v0.6h-0.6zM73.7 563.7h0.6v0.6h-0.6zM58.9 562.5h0.6v0.6h-0.6zM81.0 563.9h0.6v0.6h-0.6zM44.0 576.8h0.6v0.6h-0.6zM82.0 564.4h0.6v0.6h-0.6zM69.4 563.5h0.6v0.6h-0.6zM81.2 562.8h0.6v0.6h-0.6zM84.6 570.5h0.6v0.6h-0.6zM79.7 582.9h0.6v0.6h-0.6zM46.4 580.1h0.6v0.6h-0.6zM54.5 563.6h0.6v0.6h-0.6zM71.0 562.8h0.6v0.6h-0.6zM77.1 562.3h0.6v0.6h-0.6zM60.9 585.1h0.6v0.6h-0.6zM84.7 566.6h0.6v0.6h-0.6zM45.1 577.6h0.6v0.6h-0.6zM79.8 564.2h0.6v0.6h-0.6zM44.6 568.3h0.6v0.6h-0.6zM73.2 583.2h0.6v0.6h-0.6zM47.0 582.3h0.6v0.6h-0.6zM71.9 583.4h0.6v0.6h-0.6zM61.6 561.9h0.6v0.6h-0.6zM46.2 566.0h0.6v0.6h-0.6zM63.8 582.7h0.6v0.6h-0.6zM51.5 563.8h0.6v0.6h-0.6zM84.5 569.9h0.6v0.6h-0.6zM48.9 581.7h0.6v0.6h-0.6zM44.5 575.6h0.6v0.6h-0.6zM76.0 564.0h0.6v0.6h-0.6zM57.8 563.0h0.6v0.6h-0.6zM79.2 564.2h0.6v0.6h-0.6zM44.5 572.9h0.6v0.6h-0.6zM63.9 583.9h0.6v0.6h-0.6zM46.8 563.9h0.6v0.6h-0.6zM46.5 563.5h0.6v0.6h-0.6zM81.0 564.0h0.6v0.6h-0.6zM45.7 578.9h0.6v0.6h-0.6zM83.4 578.1h0.6v0.6h-0.6zM64.6 563.4h0.6v0.6h-0.6zM71.0 562.9h0.6v0.6h-0.6zM84.9 576.0h0.6v0.6h-0.6zM69.4 563.4h0.6v0.6h-0.6zM80.0 562.4h0.6v0.6h-0.6zM51.6 564.2h0.6v0.6h-0.6zM52.6 582.5h0.6v0.6h-0.6zM56.6 562.0h0.6v0.6h-0.6zM53.4 563.2h0.6v0.6h-0.6zM49.9 564.6h0.6v0.6h-0.6zM80.4 564.4h0.6v0.6h-0.6zM43.8 569.5h0.6v0.6h-0.6zM77.0 582.2h0.6v0.6h-0.6zM44.3 578.0h0.6v0.6h-0.6zM48.9 581.7h0.6v0.6h-0.6zM84.6 571.1h0.6v0.6h-0.6zM73.3 583.8h0.6v0.6h-0.6zM53.4 563.1h0.6v0.6h-0.6zM63.1 562.4h0.6v0.6h-0.6zM81.4 581.2h0.6v0.6h-0.6zM52.6 582.3h0.6v0.6h-0.6zM84.8 568.6h0.6v0.6h-0.6zM44.9 566.9h0.6v0.6h-0.6zM55.4 562.0h0.6v0.6h-0.6zM70.7 586.3h0.6v0.6h-0.6zM55.4 561.6h0.6v0.6h-0.6zM45.0 566.0h0.6v0.6h-0.6zM57.9 584.5h0.6v0.6h-0.6zM60.2 563.5h0.6v0.6h-0.6zM85.9 567.6h0.6v0.6h-0.6zM56.5 561.0h0.6v0.6h-0.6zM66.2 563.1h0.6v0.6h-0.6zM57.8 563.2h0.6v0.6h-0.6zM44.3 568.2h0.6v0.6h-0.6zM47.7 565.4h0.6v0.6h-0.6zM44.5 573.5h0.6v0.6h-0.6zM86.0 572.5h0.6v0.6h-0.6zM85.8 578.2h0.6v0.6h-0.6zM49.8 564.4h0.6v0.6h-0.6zM44.3 578.6h0.6v0.6h-0.6zM55.1 582.9h0.6v0.6h-0.6zM45.4 580.2h0.6v0.6h-0.6zM59.0 563.4h0.6v0.6h-0.6zM44.4 571.8h0.6v0.6h-0.6zM46.8 564.0h0.6v0.6h-0.6zM56.5 583.2h0.6v0.6h-0.6zM77.1 561.9h0.6v0.6h-0.6zM44.6 575.1h0.6v0.6h-0.6zM84.3 574.3h0.6v0.6h-0.6zM46.1 579.7h0.6v0.6h-0.6zM50.7 564.5h0.6v0.6h-0.6zM57.7 561.7h0.6v0.6h-0.6zM45.9 567.5h0.6v0.6h-0.6zM44.8 578.3h0.6v0.6h-0.6zM63.8 582.7h0.6v0.6h-0.6zM66.5 582.5h0.6v0.6h-0.6zM43.4 576.4h0.6v0.6h-0.6zM63.9 584.1h0.6v0.6h-0.6zM48.3 581.3h0.6v0.6h-0.6zM43.8 575.7h0.6v0.6h-0.6zM78.1 581.5h0.6v0.6h-0.6zM43.8 575.1h0.6v0.6h-0.6zM57.9 582.8h0.6v0.6h-0.6zM45.6 578.4h0.6v0.6h-0.6zM84.0 579.5h0.6v0.6h-0.6zM83.8 576.6h0.6v0.6h-0.6zM81.0 563.7h0.6v0.6h-0.6zM79.2 581.2h0.6v0.6h-0.6zM80.9 564.3h0.6v0.6h-0.6zM56.6 562.9h0.6v0.6h-0.6zM55.5 562.7h0.6v0.6h-0.6zM60.2 562.6h0.6v0.6h-0.6zM43.7 570.7h0.6v0.6h-0.6zM42.7 579.4h0.6v0.6h-0.6zM69.2 583.3h0.6v0.6h-0.6zM86.8 572.6h0.6v0.6h-0.6zM85.4 570.5h0.6v0.6h-0.6zM79.2 564.2h0.6v0.6h-0.6zM67.8 563.4h0.6v0.6h-0.6zM46.0 567.5h0.6v0.6h-0.6zM67.8 562.8h0.6v0.6h-0.6zM85.8 571.9h0.6v0.6h-0.6zM81.5 561.1h0.6v0.6h-0.6zM67.8 563.1h0.6v0.6h-0.6zM46.1 565.9h0.6v0.6h-0.6zM79.2 564.0h0.6v0.6h-0.6zM44.0 573.4h0.6v0.6h-0.6zM69.4 563.2h0.6v0.6h-0.6zM43.8 567.3h0.6v0.6h-0.6zM85.2 567.8h0.6v0.6h-0.6zM57.8 563.1h0.6v0.6h-0.6zM85.9 572.5h0.6v0.6h-0.6zM73.8 562.5h0.6v0.6h-0.6zM77.0 582.0h0.6v0.6h-0.6zM84.0 566.2h0.6v0.6h-0.6zM78.6 563.9h0.6v0.6h-0.6zM47.1 564.6h0.6v0.6h-0.6zM65.2 582.7h0.6v0.6h-0.6zM44.5 577.9h0.6v0.6h-0.6zM52.4 563.2h0.6v0.6h-0.6zM59.4 583.6h0.6v0.6h-0.6zM74.5 582.4h0.6v0.6h-0.6zM73.7 563.9h0.6v0.6h-0.6zM62.4 583.1h0.6v0.6h-0.6zM79.5 582.3h0.6v0.6h-0.6zM77.0 582.3h0.6v0.6h-0.6zM53.4 563.1h0.6v0.6h-0.6zM44.5 576.2h0.6v0.6h-0.6zM44.8 576.1h0.6v0.6h-0.6zM48.9 581.7h0.6v0.6h-0.6zM72.4 563.3h0.6v0.6h-0.6zM44.4 576.7h0.6v0.6h-0.6zM78.6 563.3h0.6v0.6h-0.6zM84.3 577.6h0.6v0.6h-0.6zM45.4 579.6h0.6v0.6h-0.6zM76.0 564.0h0.6v0.6h-0.6zM56.6 562.8h0.6v0.6h-0.6zM44.8 571.9h0.6v0.6h-0.6zM42.6 574.6h0.6v0.6h-0.6zM71.9 584.1h0.6v0.6h-0.6zM50.5 563.5h0.6v0.6h-0.6zM82.0 580.4h0.6v0.6h-0.6zM45.1 567.8h0.6v0.6h-0.6zM56.5 582.8h0.6v0.6h-0.6zM49.7 581.7h0.6v0.6h-0.6zM84.6 566.6h0.6v0.6h-0.6zM45.4 581.0h0.6v0.6h-0.6zM45.1 567.8h0.6v0.6h-0.6zM81.0 564.1h0.6v0.6h-0.6zM43.9 568.8h0.6v0.6h-0.6zM67.9 560.5h0.6v0.6h-0.6zM75.9 583.2h0.6v0.6h-0.6zM46.4 565.0h0.6v0.6h-0.6zM77.8 563.6h0.6v0.6h-0.6zM53.8 582.4h0.6v0.6h-0.6zM81.7 563.3h0.6v0.6h-0.6zM82.7 564.2h0.6v0.6h-0.6zM45.4 569.2h0.6v0.6h-0.6zM66.2 562.7h0.6v0.6h-0.6zM85.3 564.5h0.6v0.6h-0.6zM85.3 569.1h0.6v0.6h-0.6zM64.6 563.5h0.6v0.6h-0.6zM45.2 568.5h0.6v0.6h-0.6zM84.1 576.6h0.6v0.6h-0.6zM59.4 582.8h0.6v0.6h-0.6zM44.5 575.1h0.6v0.6h-0.6zM55.1 583.6h0.6v0.6h-0.6zM56.5 583.9h0.6v0.6h-0.6zM85.7 571.2h0.6v0.6h-0.6zM57.9 582.9h0.6v0.6h-0.6zM46.1 579.2h0.6v0.6h-0.6zM74.5 582.7h0.6v0.6h-0.6zM62.4 583.2h0.6v0.6h-0.6zM56.6 563.0h0.6v0.6h-0.6zM84.1 566.2h0.6v0.6h-0.6zM53.7 583.8h0.6v0.6h-0.6zM73.2 582.6h0.6v0.6h-0.6zM78.6 564.0h0.6v0.6h-0.6zM60.9 583.1h0.6v0.6h-0.6zM84.9 570.5h0.6v0.6h-0.6zM85.0 573.7h0.6v0.6h-0.6zM59.4 584.3h0.6v0.6h-0.6zM45.0 577.1h0.6v0.6h-0.6zM83.4 565.9h0.6v0.6h-0.6zM43.8 572.8h0.6v0.6h-0.6zM84.8 577.8h0.6v0.6h-0.6zM43.2 575.8h0.6v0.6h-0.6zM50.6 564.1h0.6v0.6h-0.6zM73.1 582.3h0.6v0.6h-0.6zM70.5 583.0h0.6v0.6h-0.6zM71.9 584.5h0.6v0.6h-0.6zM44.4 574.0h0.6v0.6h-0.6zM44.5 567.6h0.6v0.6h-0.6zM45.3 579.1h0.6v0.6h-0.6zM44.4 577.3h0.6v0.6h-0.6zM62.4 583.3h0.6v0.6h-0.6zM57.7 562.0h0.6v0.6h-0.6zM82.2 565.0h0.6v0.6h-0.6zM62.4 582.8h0.6v0.6h-0.6zM47.9 564.3h0.6v0.6h-0.6zM48.7 563.8h0.6v0.6h-0.6zM44.5 576.2h0.6v0.6h-0.6zM44.2 570.2h0.6v0.6h-0.6zM82.9 562.3h0.6v0.6h-0.6zM45.0 570.9h0.6v0.6h-0.6zM44.8 570.3h0.6v0.6h-0.6zM43.6 571.2h0.6v0.6h-0.6zM46.0 579.2h0.6v0.6h-0.6zM44.6 564.5h0.6v0.6h-0.6zM73.3 584.2h0.6v0.6h-0.6zM77.0 581.9h0.6v0.6h-0.6zM85.5 565.4h0.6v0.6h-0.6zM44.3 574.0h0.6v0.6h-0.6zM84.5 575.1h0.6v0.6h-0.6zM51.5 582.2h0.6v0.6h-0.6zM81.7 580.0h0.6v0.6h-0.6zM47.2 566.0h0.6v0.6h-0.6zM59.4 582.8h0.6v0.6h-0.6zM56.5 582.5h0.6v0.6h-0.6zM63.1 562.6h0.6v0.6h-0.6zM85.6 565.3h0.6v0.6h-0.6zM66.3 561.4h0.6v0.6h-0.6zM54.5 563.9h0.6v0.6h-0.6zM69.1 582.6h0.6v0.6h-0.6zM71.0 562.6h0.6v0.6h-0.6zM50.1 584.1h0.6v0.6h-0.6zM60.2 563.3h0.6v0.6h-0.6zM51.3 583.2h0.6v0.6h-0.6zM84.3 568.0h0.6v0.6h-0.6zM85.6 569.1h0.6v0.6h-0.6zM70.5 583.3h0.6v0.6h-0.6zM82.3 579.4h0.6v0.6h-0.6zM80.8 582.6h0.6v0.6h-0.6zM83.1 580.1h0.6v0.6h-0.6zM83.9 565.6h0.6v0.6h-0.6zM44.9 578.8h0.6v0.6h-0.6zM47.3 580.7h0.6v0.6h-0.6zM79.1 581.1h0.6v0.6h-0.6zM78.6 564.0h0.6v0.6h-0.6zM81.1 580.7h0.6v0.6h-0.6zM82.3 564.8h0.6v0.6h-0.6zM67.8 583.3h0.6v0.6h-0.6zM86.2 578.3h0.6v0.6h-0.6zM53.4 563.3h0.6v0.6h-0.6zM83.4 565.2h0.6v0.6h-0.6zM43.6 579.5h0.6v0.6h-0.6zM74.5 582.8h0.6v0.6h-0.6zM85.9 571.9h0.6v0.6h-0.6zM83.5 565.1h0.6v0.6h-0.6zM84.1 566.8h0.6v0.6h-0.6zM73.1 582.3h0.6v0.6h-0.6zM73.4 585.7h0.6v0.6h-0.6zM85.4 569.1h0.6v0.6h-0.6zM83.1 564.6h0.6v0.6h-0.6zM57.9 584.1h0.6v0.6h-0.6zM76.1 563.6h0.6v0.6h-0.6zM45.7 578.9h0.6v0.6h-0.6zM56.5 583.2h0.6v0.6h-0.6zM42.8 572.7h0.6v0.6h-0.6zM45.0 569.7h0.6v0.6h-0.6zM69.2 583.5h0.6v0.6h-0.6zM74.4 581.9h0.6v0.6h-0.6zM84.8 567.9h0.6v0.6h-0.6zM57.8 563.3h0.6v0.6h-0.6zM43.9 572.3h0.6v0.6h-0.6zM45.8 584.2h0.6v0.6h-0.6zM84.8 567.2h0.6v0.6h-0.6zM62.4 583.8h0.6v0.6h-0.6zM85.2 567.8h0.6v0.6h-0.6zM46.7 565.4h0.6v0.6h-0.6zM44.4 570.2h0.6v0.6h-0.6zM44.5 580.1h0.6v0.6h-0.6zM67.8 582.4h0.6v0.6h-0.6zM45.6 580.1h0.6v0.6h-0.6zM85.5 572.5h0.6v0.6h-0.6zM84.9 577.8h0.6v0.6h-0.6zM53.4 563.2h0.6v0.6h-0.6zM75.8 582.7h0.6v0.6h-0.6zM45.6 578.4h0.6v0.6h-0.6zM42.6 573.3h0.6v0.6h-0.6zM73.8 563.0h0.6v0.6h-0.6zM83.8 579.4h0.6v0.6h-0.6zM43.8 572.8h0.6v0.6h-0.6zM69.2 583.1h0.6v0.6h-0.6zM74.5 583.0h0.6v0.6h-0.6zM43.3 578.4h0.6v0.6h-0.6zM56.7 563.4h0.6v0.6h-0.6zM79.2 564.4h0.6v0.6h-0.6zM51.4 582.6h0.6v0.6h-0.6zM49.6 563.7h0.6v0.6h-0.6zM55.6 563.6h0.6v0.6h-0.6zM60.2 561.5h0.6v0.6h-0.6zM70.5 584.0h0.6v0.6h-0.6zM82.4 563.4h0.6v0.6h-0.6zM44.6 572.9h0.6v0.6h-0.6zM56.5 582.8h0.6v0.6h-0.6zM49.1 564.9h0.6v0.6h-0.6zM48.4 563.1h0.6v0.6h-0.6zM51.4 582.5h0.6v0.6h-0.6zM46.0 579.8h0.6v0.6h-0.6zM85.1 577.0h0.6v0.6h-0.6zM84.7 571.8h0.6v0.6h-0.6zM44.0 575.7h0.6v0.6h-0.6zM67.8 583.2h0.6v0.6h-0.6zM55.0 583.7h0.6v0.6h-0.6zM59.4 582.6h0.6v0.6h-0.6zM45.4 578.0h0.6v0.6h-0.6zM47.0 565.7h0.6v0.6h-0.6zM79.4 562.0h0.6v0.6h-0.6zM45.0 567.8h0.6v0.6h-0.6zM82.4 579.5h0.6v0.6h-0.6zM46.5 580.0h0.6v0.6h-0.6zM65.2 583.4h0.6v0.6h-0.6zM62.4 582.8h0.6v0.6h-0.6zM45.7 578.9h0.6v0.6h-0.6zM73.2 582.5h0.6v0.6h-0.6zM86.5 571.9h0.6v0.6h-0.6zM85.5 571.2h0.6v0.6h-0.6zM45.5 580.8h0.6v0.6h-0.6zM84.6 568.6h0.6v0.6h-0.6zM77.1 582.7h0.6v0.6h-0.6zM85.4 568.4h0.6v0.6h-0.6zM44.4 575.1h0.6v0.6h-0.6zM75.9 583.1h0.6v0.6h-0.6zM84.5 571.7h0.6v0.6h-0.6zM65.2 583.1h0.6v0.6h-0.6zM42.8 575.2h0.6v0.6h-0.6zM57.8 563.2h0.6v0.6h-0.6zM78.1 581.7h0.6v0.6h-0.6zM85.4 567.1h0.6v0.6h-0.6zM59.4 584.8h0.6v0.6h-0.6zM46.3 563.2h0.6v0.6h-0.6zM69.4 563.6h0.6v0.6h-0.6zM66.2 562.6h0.6v0.6h-0.6zM49.0 564.6h0.6v0.6h-0.6zM44.2 572.3h0.6v0.6h-0.6zM67.8 563.4h0.6v0.6h-0.6zM84.9 571.1h0.6v0.6h-0.6zM51.4 582.8h0.6v0.6h-0.6zM84.1 563.4h0.6v0.6h-0.6zM60.2 562.9h0.6v0.6h-0.6zM84.4 576.7h0.6v0.6h-0.6zM45.1 579.2h0.6v0.6h-0.6zM46.3 580.9h0.6v0.6h-0.6zM45.4 578.0h0.6v0.6h-0.6zM64.6 562.6h0.6v0.6h-0.6zM86.5 569.7h0.6v0.6h-0.6zM81.8 581.9h0.6v0.6h-0.6zM83.9 575.8h0.6v0.6h-0.6zM84.2 566.1h0.6v0.6h-0.6zM44.1 573.4h0.6v0.6h-0.6zM84.9 565.7h0.6v0.6h-0.6zM45.1 577.6h0.6v0.6h-0.6zM46.3 580.9h0.6v0.6h-0.6zM44.2 567.4h0.6v0.6h-0.6zM59.4 584.0h0.6v0.6h-0.6zM78.1 581.4h0.6v0.6h-0.6zM60.2 561.8h0.6v0.6h-0.6zM47.4 581.7h0.6v0.6h-0.6zM82.6 564.3h0.6v0.6h-0.6zM46.5 580.0h0.6v0.6h-0.6zM52.5 582.7h0.6v0.6h-0.6zM66.6 584.3h0.6v0.6h-0.6zM61.6 561.0h0.6v0.6h-0.6zM84.8 567.9h0.6v0.6h-0.6zM73.1 582.2h0.6v0.6h-0.6zM85.2 575.2h0.6v0.6h-0.6zM65.2 582.6h0.6v0.6h-0.6zM52.3 562.9h0.6v0.6h-0.6zM44.4 566.7h0.6v0.6h-0.6zM79.3 563.4h0.6v0.6h-0.6zM59.4 585.8h0.6v0.6h-0.6zM84.4 575.9h0.6v0.6h-0.6zM64.6 562.6h0.6v0.6h-0.6zM44.0 574.0h0.6v0.6h-0.6zM83.0 578.8h0.6v0.6h-0.6zM78.6 562.6h0.6v0.6h-0.6zM84.1 577.5h0.6v0.6h-0.6zM48.3 581.4h0.6v0.6h-0.6zM47.2 580.8h0.6v0.6h-0.6zM67.9 583.6h0.6v0.6h-0.6zM86.6 573.2h0.6v0.6h-0.6zM60.9 585.1h0.6v0.6h-0.6zM77.4 584.4h0.6v0.6h-0.6zM67.8 583.1h0.6v0.6h-0.6zM86.3 578.4h0.6v0.6h-0.6zM63.1 562.1h0.6v0.6h-0.6zM57.7 561.4h0.6v0.6h-0.6zM85.0 572.4h0.6v0.6h-0.6zM45.6 579.5h0.6v0.6h-0.6zM81.0 563.9h0.6v0.6h-0.6zM62.4 584.0h0.6v0.6h-0.6zM44.3 567.5h0.6v0.6h-0.6zM69.1 582.4h0.6v0.6h-0.6zM59.4 582.8h0.6v0.6h-0.6zM48.7 563.9h0.6v0.6h-0.6zM45.8 566.6h0.6v0.6h-0.6zM46.8 564.1h0.6v0.6h-0.6zM43.4 575.1h0.6v0.6h-0.6zM82.4 580.9h0.6v0.6h-0.6zM73.8 562.9h0.6v0.6h-0.6zM77.3 583.7h0.6v0.6h-0.6zM78.6 583.7h0.6v0.6h-0.6zM45.3 579.1h0.6v0.6h-0.6zM74.6 583.4h0.6v0.6h-0.6zM46.7 580.5h0.6v0.6h-0.6zM44.5 574.5h0.6v0.6h-0.6zM45.4 567.2h0.6v0.6h-0.6zM85.8 571.2h0.6v0.6h-0.6zM75.1 562.7h0.6v0.6h-0.6zM84.7 567.9h0.6v0.6h-0.6zM57.7 562.4h0.6v0.6h-0.6zM84.6 571.1h0.6v0.6h-0.6zM46.1 579.7h0.6v0.6h-0.6zM46.3 579.5h0.6v0.6h-0.6zM45.6 578.9h0.6v0.6h-0.6zM45.1 579.8h0.6v0.6h-0.6zM83.0 581.6h0.6v0.6h-0.6zM48.3 565.1h0.6v0.6h-0.6zM46.2 566.9h0.6v0.6h-0.6zM44.3 568.9h0.6v0.6h-0.6zM71.8 582.8h0.6v0.6h-0.6zM70.9 563.0h0.6v0.6h-0.6zM78.2 582.2h0.6v0.6h-0.6zM78.6 563.5h0.6v0.6h-0.6zM42.9 572.7h0.6v0.6h-0.6zM50.3 583.0h0.6v0.6h-0.6zM75.0 562.9h0.6v0.6h-0.6zM82.0 564.3h0.6v0.6h-0.6zM43.9 574.5h0.6v0.6h-0.6zM84.3 579.7h0.6v0.6h-0.6zM85.2 573.1h0.6v0.6h-0.6zM44.0 576.3h0.6v0.6h-0.6zM44.1 574.0h0.6v0.6h-0.6zM53.7 583.8h0.6v0.6h-0.6zM44.9 578.3h0.6v0.6h-0.6zM44.0 574.5h0.6v0.6h-0.6zM57.7 561.7h0.6v0.6h-0.6zM61.6 563.1h0.6v0.6h-0.6zM75.1 562.1h0.6v0.6h-0.6zM85.9 567.6h0.6v0.6h-0.6zM42.3 576.5h0.6v0.6h-0.6zM86.6 571.9h0.6v0.6h-0.6zM84.5 566.0h0.6v0.6h-0.6zM60.2 563.2h0.6v0.6h-0.6zM84.6 566.7h0.6v0.6h-0.6zM84.5 565.9h0.6v0.6h-0.6zM81.5 564.3h0.6v0.6h-0.6zM86.1 571.2h0.6v0.6h-0.6zM43.6 572.3h0.6v0.6h-0.6zM72.4 562.9h0.6v0.6h-0.6zM70.5 582.5h0.6v0.6h-0.6zM44.6 577.8h0.6v0.6h-0.6zM84.9 570.5h0.6v0.6h-0.6zM84.8 567.9h0.6v0.6h-0.6zM49.4 582.7h0.6v0.6h-0.6zM44.5 577.9h0.6v0.6h-0.6zM83.7 565.7h0.6v0.6h-0.6zM85.3 567.1h0.6v0.6h-0.6zM60.9 583.8h0.6v0.6h-0.6zM83.7 580.7h0.6v0.6h-0.6zM85.3 572.5h0.6v0.6h-0.6zM43.9 578.8h0.6v0.6h-0.6zM46.2 566.9h0.6v0.6h-0.6zM84.7 572.4h0.6v0.6h-0.6zM84.9 569.8h0.6v0.6h-0.6zM84.2 566.1h0.6v0.6h-0.6zM63.8 582.8h0.6v0.6h-0.6zM84.2 566.8h0.6v0.6h-0.6zM43.6 575.7h0.6v0.6h-0.6zM84.3 566.1h0.6v0.6h-0.6zM84.0 577.5h0.6v0.6h-0.6zM83.6 565.8h0.6v0.6h-0.6zM84.7 567.9h0.6v0.6h-0.6zM44.7 566.8h0.6v0.6h-0.6zM44.7 577.8h0.6v0.6h-0.6zM46.4 565.0h0.6v0.6h-0.6zM55.1 582.5h0.6v0.6h-0.6zM46.7 565.4h0.6v0.6h-0.6zM84.3 573.6h0.6v0.6h-0.6zM61.6 562.9h0.6v0.6h-0.6zM43.8 570.7h0.6v0.6h-0.6zM57.9 583.7h0.6v0.6h-0.6zM84.7 575.2h0.6v0.6h-0.6zM82.1 562.0h0.6v0.6h-0.6zM47.3 564.9h0.6v0.6h-0.6zM84.8 570.5h0.6v0.6h-0.6zM57.8 562.5h0.6v0.6h-0.6zM45.2 567.1h0.6v0.6h-0.6zM78.6 564.1h0.6v0.6h-0.6zM70.9 563.8h0.6v0.6h-0.6zM52.5 583.3h0.6v0.6h-0.6zM70.9 563.0h0.6v0.6h-0.6zM45.0 564.9h0.6v0.6h-0.6zM47.7 581.1h0.6v0.6h-0.6zM44.7 571.4h0.6v0.6h-0.6zM66.6 583.5h0.6v0.6h-0.6zM79.9 563.5h0.6v0.6h-0.6zM60.2 563.1h0.6v0.6h-0.6zM84.3 573.6h0.6v0.6h-0.6zM69.4 562.8h0.6v0.6h-0.6zM84.9 569.8h0.6v0.6h-0.6zM50.2 583.6h0.6v0.6h-0.6zM84.0 566.9h0.6v0.6h-0.6zM85.7 571.2h0.6v0.6h-0.6zM79.3 581.9h0.6v0.6h-0.6zM84.6 577.7h0.6v0.6h-0.6zM45.0 569.1h0.6v0.6h-0.6zM86.8 568.2h0.6v0.6h-0.6zM45.7 567.3h0.6v0.6h-0.6zM47.8 582.4h0.6v0.6h-0.6zM81.6 563.8h0.6v0.6h-0.6zM71.0 562.8h0.6v0.6h-0.6zM86.7 573.3h0.6v0.6h-0.6zM43.4 577.0h0.6v0.6h-0.6zM77.8 563.8h0.6v0.6h-0.6zM69.4 562.3h0.6v0.6h-0.6zM84.7 566.6h0.6v0.6h-0.6zM79.8 564.2h0.6v0.6h-0.6zM67.9 562.0h0.6v0.6h-0.6zM44.6 576.1h0.6v0.6h-0.6zM86.1 574.6h0.6v0.6h-0.6zM45.0 568.5h0.6v0.6h-0.6zM54.4 562.2h0.6v0.6h-0.6zM67.8 582.8h0.6v0.6h-0.6zM43.8 575.7h0.6v0.6h-0.6zM75.9 583.6h0.6v0.6h-0.6zM77.0 564.1h0.6v0.6h-0.6zM48.0 581.9h0.6v0.6h-0.6zM44.3 576.8h0.6v0.6h-0.6zM84.2 567.4h0.6v0.6h-0.6zM44.1 570.8h0.6v0.6h-0.6zM49.6 581.9h0.6v0.6h-0.6zM80.9 564.3h0.6v0.6h-0.6zM84.1 566.2h0.6v0.6h-0.6zM84.9 566.5h0.6v0.6h-0.6zM75.8 582.4h0.6v0.6h-0.6zM49.8 564.5h0.6v0.6h-0.6zM57.9 584.2h0.6v0.6h-0.6zM61.6 563.4h0.6v0.6h-0.6zM84.3 574.3h0.6v0.6h-0.6zM76.0 564.1h0.6v0.6h-0.6zM83.3 565.3h0.6v0.6h-0.6zM44.5 575.1h0.6v0.6h-0.6zM57.9 583.3h0.6v0.6h-0.6zM46.6 580.7h0.6v0.6h-0.6zM59.0 563.1h0.6v0.6h-0.6zM45.0 580.5h0.6v0.6h-0.6zM82.6 564.3h0.6v0.6h-0.6zM79.6 582.7h0.6v0.6h-0.6zM79.2 564.0h0.6v0.6h-0.6zM46.0 567.5h0.6v0.6h-0.6zM75.0 563.8h0.6v0.6h-0.6zM81.4 581.2h0.6v0.6h-0.6zM86.1 569.1h0.6v0.6h-0.6zM44.7 565.8h0.6v0.6h-0.6zM43.4 567.9h0.6v0.6h-0.6zM84.9 573.0h0.6v0.6h-0.6zM43.9 576.3h0.6v0.6h-0.6zM51.4 563.5h0.6v0.6h-0.6zM71.9 583.1h0.6v0.6h-0.6zM51.6 564.3h0.6v0.6h-0.6zM71.0 562.2h0.6v0.6h-0.6zM71.9 583.9h0.6v0.6h-0.6zM72.0 585.5h0.6v0.6h-0.6zM81.2 583.5h0.6v0.6h-0.6zM43.7 568.0h0.6v0.6h-0.6zM83.6 565.8h0.6v0.6h-0.6zM45.3 578.1h0.6v0.6h-0.6zM84.8 577.8h0.6v0.6h-0.6zM55.1 582.9h0.6v0.6h-0.6zM83.3 563.2h0.6v0.6h-0.6zM49.6 581.9h0.6v0.6h-0.6zM84.9 570.5h0.6v0.6h-0.6zM84.6 568.0h0.6v0.6h-0.6zM81.6 564.0h0.6v0.6h-0.6zM73.2 582.8h0.6v0.6h-0.6zM44.0 572.3h0.6v0.6h-0.6zM74.5 582.4h0.6v0.6h-0.6zM64.6 562.9h0.6v0.6h-0.6zM46.2 579.7h0.6v0.6h-0.6zM45.2 579.2h0.6v0.6h-0.6zM75.0 563.2h0.6v0.6h-0.6zM77.9 561.7h0.6v0.6h-0.6zM74.5 582.5h0.6v0.6h-0.6zM52.2 561.9h0.6v0.6h-0.6zM82.3 580.8h0.6v0.6h-0.6zM42.8 573.3h0.6v0.6h-0.6zM79.2 564.2h0.6v0.6h-0.6zM71.9 583.9h0.6v0.6h-0.6zM45.9 565.7h0.6v0.6h-0.6zM50.5 582.0h0.6v0.6h-0.6zM73.1 582.2h0.6v0.6h-0.6zM84.7 569.9h0.6v0.6h-0.6zM45.4 579.0h0.6v0.6h-0.6zM47.3 564.8h0.6v0.6h-0.6zM65.3 584.6h0.6v0.6h-0.6zM55.6 563.7h0.6v0.6h-0.6zM69.1 582.5h0.6v0.6h-0.6zM44.4 573.5h0.6v0.6h-0.6zM44.2 579.7h0.6v0.6h-0.6zM66.5 582.5h0.6v0.6h-0.6zM51.4 582.7h0.6v0.6h-0.6zM72.4 563.6h0.6v0.6h-0.6zM73.2 583.5h0.6v0.6h-0.6zM84.5 572.4h0.6v0.6h-0.6zM79.5 582.4h0.6v0.6h-0.6zM73.8 562.3h0.6v0.6h-0.6zM84.0 563.5h0.6v0.6h-0.6zM66.6 583.4h0.6v0.6h-0.6zM48.6 582.4h0.6v0.6h-0.6zM45.1 581.2h0.6v0.6h-0.6zM46.4 580.1h0.6v0.6h-0.6zM66.6 583.5h0.6v0.6h-0.6zM43.4 575.1h0.6v0.6h-0.6zM47.2 566.0h0.6v0.6h-0.6zM83.6 565.0h0.6v0.6h-0.6zM75.9 582.9h0.6v0.6h-0.6zM80.5 563.9h0.6v0.6h-0.6zM80.4 564.3h0.6v0.6h-0.6zM44.5 567.6h0.6v0.6h-0.6zM85.5 578.1h0.6v0.6h-0.6zM44.3 574.0h0.6v0.6h-0.6zM44.6 577.2h0.6v0.6h-0.6zM73.1 582.2h0.6v0.6h-0.6zM86.6 573.9h0.6v0.6h-0.6zM49.7 581.8h0.6v0.6h-0.6zM56.6 562.0h0.6v0.6h-0.6zM51.6 564.3h0.6v0.6h-0.6zM84.8 571.1h0.6v0.6h-0.6zM48.3 565.1h0.6v0.6h-0.6zM44.5 577.3h0.6v0.6h-0.6zM46.9 582.4h0.6v0.6h-0.6zM45.7 580.7h0.6v0.6h-0.6zM73.2 583.0h0.6v0.6h-0.6zM79.3 562.7h0.6v0.6h-0.6zM46.0 579.8h0.6v0.6h-0.6zM83.8 565.7h0.6v0.6h-0.6zM44.7 566.8h0.6v0.6h-0.6zM53.7 583.2h0.6v0.6h-0.6zM43.8 573.4h0.6v0.6h-0.6zM80.0 563.0h0.6v0.6h-0.6zM73.7 563.9h0.6v0.6h-0.6zM44.3 578.6h0.6v0.6h-0.6zM79.9 563.5h0.6v0.6h-0.6zM71.0 562.6h0.6v0.6h-0.6zM46.2 581.0h0.6v0.6h-0.6zM84.5 577.7h0.6v0.6h-0.6zM50.5 582.1h0.6v0.6h-0.6zM85.3 571.2h0.6v0.6h-0.6zM43.9 575.1h0.6v0.6h-0.6zM66.6 584.0h0.6v0.6h-0.6zM47.7 565.5h0.6v0.6h-0.6zM45.1 567.8h0.6v0.6h-0.6zM82.2 561.8h0.6v0.6h-0.6zM53.8 582.4h0.6v0.6h-0.6zM86.1 566.8h0.6v0.6h-0.6zM50.6 563.8h0.6v0.6h-0.6zM84.5 576.8h0.6v0.6h-0.6zM70.5 582.4h0.6v0.6h-0.6zM51.4 563.1h0.6v0.6h-0.6zM60.2 563.0h0.6v0.6h-0.6zM54.9 585.8h0.6v0.6h-0.6zM52.5 583.1h0.6v0.6h-0.6zM52.4 584.1h0.6v0.6h-0.6zM66.3 561.7h0.6v0.6h-0.6zM60.2 562.8h0.6v0.6h-0.6zM77.8 564.0h0.6v0.6h-0.6zM82.7 581.3h0.6v0.6h-0.6zM59.4 584.0h0.6v0.6h-0.6zM55.1 583.3h0.6v0.6h-0.6zM51.5 563.6h0.6v0.6h-0.6zM60.2 563.0h0.6v0.6h-0.6zM61.6 563.5h0.6v0.6h-0.6zM57.7 561.9h0.6v0.6h-0.6zM44.5 577.3h0.6v0.6h-0.6zM84.9 572.4h0.6v0.6h-0.6zM47.8 565.6h0.6v0.6h-0.6zM43.7 573.4h0.6v0.6h-0.6zM79.3 581.6h0.6v0.6h-0.6zM48.8 561.1h0.6v0.6h-0.6zM64.6 563.3h0.6v0.6h-0.6zM47.5 581.4h0.6v0.6h-0.6zM71.9 583.2h0.6v0.6h-0.6zM44.7 577.2h0.6v0.6h-0.6zM84.2 565.4h0.6v0.6h-0.6zM66.5 582.9h0.6v0.6h-0.6zM86.1 565.9h0.6v0.6h-0.6zM60.2 563.0h0.6v0.6h-0.6zM55.5 562.8h0.6v0.6h-0.6zM69.4 563.5h0.6v0.6h-0.6zM78.1 581.7h0.6v0.6h-0.6zM65.3 584.6h0.6v0.6h-0.6zM70.5 582.8h0.6v0.6h-0.6zM44.2 574.5h0.6v0.6h-0.6zM60.2 562.2h0.6v0.6h-0.6zM57.9 583.8h0.6v0.6h-0.6zM63.1 562.6h0.6v0.6h-0.6zM44.9 577.7h0.6v0.6h-0.6zM62.4 584.2h0.6v0.6h-0.6zM67.8 562.9h0.6v0.6h-0.6zM83.0 564.8h0.6v0.6h-0.6zM83.1 564.6h0.6v0.6h-0.6zM83.5 564.1h0.6v0.6h-0.6zM44.6 570.8h0.6v0.6h-0.6zM83.0 580.0h0.6v0.6h-0.6zM83.7 578.3h0.6v0.6h-0.6zM44.5 576.7h0.6v0.6h-0.6zM82.1 564.2h0.6v0.6h-0.6zM46.6 565.2h0.6v0.6h-0.6zM83.8 578.3h0.6v0.6h-0.6zM45.3 569.2h0.6v0.6h-0.6zM85.3 561.8h0.6v0.6h-0.6zM78.3 582.6h0.6v0.6h-0.6zM65.3 585.0h0.6v0.6h-0.6zM42.8 577.1h0.6v0.6h-0.6zM43.8 578.2h0.6v0.6h-0.6zM42.7 575.2h0.6v0.6h-0.6zM50.2 562.4h0.6v0.6h-0.6zM90.4 580.0h0.6v0.6h-0.6zM63.9 584.3h0.6v0.6h-0.6zM54.7 589.8h0.6v0.6h-0.6zM54.4 562.9h0.6v0.6h-0.6zM56.4 560.3h0.6v0.6h-0.6zM56.2 590.7h0.6v0.6h-0.6zM92.2 569.4h0.6v0.6h-0.6zM56.2 589.7h0.6v0.6h-0.6zM85.2 567.8h0.6v0.6h-0.6zM56.4 584.1h0.6v0.6h-0.6zM81.7 560.3h0.6v0.6h-0.6zM76.1 562.8h0.6v0.6h-0.6zM39.7 571.1h0.6v0.6h-0.6zM51.3 583.1h0.6v0.6h-0.6zM77.1 562.6h0.6v0.6h-0.6zM82.1 562.0h0.6v0.6h-0.6zM44.0 571.3h0.6v0.6h-0.6zM79.9 589.6h0.6v0.6h-0.6zM46.9 559.1h0.6v0.6h-0.6zM48.2 562.5h0.6v0.6h-0.6zM83.5 580.5h0.6v0.6h-0.6zM73.7 589.0h0.6v0.6h-0.6zM51.4 563.2h0.6v0.6h-0.6zM63.9 584.6h0.6v0.6h-0.6zM78.3 582.4h0.6v0.6h-0.6zM83.6 579.3h0.6v0.6h-0.6zM80.7 586.3h0.6v0.6h-0.6zM56.4 584.3h0.6v0.6h-0.6zM42.9 589.1h0.6v0.6h-0.6zM89.7 567.7h0.6v0.6h-0.6zM71.1 560.5h0.6v0.6h-0.6zM87.9 574.1h0.6v0.6h-0.6zM48.9 584.8h0.6v0.6h-0.6zM92.2 576.5h0.6v0.6h-0.6zM86.4 578.4h0.6v0.6h-0.6zM84.5 586.9h0.6v0.6h-0.6zM70.5 583.2h0.6v0.6h-0.6zM89.3 579.6h0.6v0.6h-0.6zM86.4 570.5h0.6v0.6h-0.6zM52.3 584.7h0.6v0.6h-0.6zM85.4 571.2h0.6v0.6h-0.6zM67.9 561.2h0.6v0.6h-0.6zM86.1 563.9h0.6v0.6h-0.6zM64.7 560.9h0.6v0.6h-0.6zM45.9 565.7h0.6v0.6h-0.6zM88.7 574.2h0.6v0.6h-0.6zM68.0 586.1h0.6v0.6h-0.6zM45.8 562.2h0.6v0.6h-0.6zM41.0 572.5h0.6v0.6h-0.6zM39.3 570.0h0.6v0.6h-0.6zM76.6 556.8h0.6v0.6h-0.6zM81.8 563.1h0.6v0.6h-0.6zM43.6 570.7h0.6v0.6h-0.6zM73.9 561.2h0.6v0.6h-0.6zM66.2 562.7h0.6v0.6h-0.6zM57.8 562.7h0.6v0.6h-0.6zM55.3 560.2h0.6v0.6h-0.6zM66.3 560.5h0.6v0.6h-0.6zM38.3 569.8h0.6v0.6h-0.6zM73.9 561.9h0.6v0.6h-0.6zM48.5 586.0h0.6v0.6h-0.6zM43.4 569.4h0.6v0.6h-0.6zM70.5 583.2h0.6v0.6h-0.6zM83.7 585.3h0.6v0.6h-0.6zM84.9 566.5h0.6v0.6h-0.6zM66.3 560.8h0.6v0.6h-0.6zM51.2 583.9h0.6v0.6h-0.6zM56.6 562.7h0.6v0.6h-0.6zM86.7 572.6h0.6v0.6h-0.6zM89.4 573.6h0.6v0.6h-0.6zM83.3 564.4h0.6v0.6h-0.6zM83.9 562.0h0.6v0.6h-0.6zM42.5 575.2h0.6v0.6h-0.6zM85.5 561.5h0.6v0.6h-0.6zM54.3 561.8h0.6v0.6h-0.6zM50.3 562.6h0.6v0.6h-0.6zM60.2 561.9h0.6v0.6h-0.6zM47.8 582.3h0.6v0.6h-0.6zM89.2 571.3h0.6v0.6h-0.6zM55.4 561.5h0.6v0.6h-0.6zM80.6 562.7h0.6v0.6h-0.6zM72.7 558.6h0.6v0.6h-0.6zM72.0 584.8h0.6v0.6h-0.6zM91.8 570.5h0.6v0.6h-0.6zM89.4 567.8h0.6v0.6h-0.6zM41.1 576.8h0.6v0.6h-0.6zM68.1 589.6h0.6v0.6h-0.6zM85.9 562.6h0.6v0.6h-0.6zM42.9 574.6h0.6v0.6h-0.6zM43.4 564.9h0.6v0.6h-0.6zM76.3 561.1h0.6v0.6h-0.6zM74.2 557.5h0.6v0.6h-0.6zM51.4 582.7h0.6v0.6h-0.6zM68.1 557.5h0.6v0.6h-0.6zM43.9 581.3h0.6v0.6h-0.6zM46.7 587.9h0.6v0.6h-0.6zM40.9 568.1h0.6v0.6h-0.6zM77.0 563.6h0.6v0.6h-0.6zM41.3 570.3h0.6v0.6h-0.6zM88.2 568.0h0.6v0.6h-0.6zM84.4 564.2h0.6v0.6h-0.6zM38.9 569.3h0.6v0.6h-0.6zM59.4 586.6h0.6v0.6h-0.6zM73.5 586.2h0.6v0.6h-0.6zM79.3 563.3h0.6v0.6h-0.6zM69.2 583.3h0.6v0.6h-0.6zM42.0 570.9h0.6v0.6h-0.6zM49.9 584.9h0.6v0.6h-0.6zM51.3 562.8h0.6v0.6h-0.6zM43.9 580.5h0.6v0.6h-0.6zM85.0 568.5h0.6v0.6h-0.6zM79.9 563.2h0.6v0.6h-0.6zM86.9 572.0h0.6v0.6h-0.6zM48.1 564.6h0.6v0.6h-0.6zM83.0 561.8h0.6v0.6h-0.6zM46.9 582.4h0.6v0.6h-0.6zM58.8 559.6h0.6v0.6h-0.6zM76.2 562.4h0.6v0.6h-0.6zM80.8 560.9h0.6v0.6h-0.6zM63.9 583.3h0.6v0.6h-0.6zM42.7 581.2h0.6v0.6h-0.6zM46.8 564.0h0.6v0.6h-0.6zM83.8 560.1h0.6v0.6h-0.6zM82.6 583.4h0.6v0.6h-0.6zM79.5 560.4h0.6v0.6h-0.6zM56.3 557.7h0.6v0.6h-0.6zM77.9 562.7h0.6v0.6h-0.6zM80.4 557.5h0.6v0.6h-0.6zM39.9 575.4h0.6v0.6h-0.6zM89.8 573.0h0.6v0.6h-0.6zM66.6 584.7h0.6v0.6h-0.6zM40.9 576.8h0.6v0.6h-0.6zM41.2 564.9h0.6v0.6h-0.6zM53.4 586.8h0.6v0.6h-0.6zM42.4 575.9h0.6v0.6h-0.6zM73.9 561.4h0.6v0.6h-0.6zM45.4 565.3h0.6v0.6h-0.6zM55.0 557.4h0.6v0.6h-0.6zM81.6 560.9h0.6v0.6h-0.6zM81.5 564.1h0.6v0.6h-0.6zM60.2 561.2h0.6v0.6h-0.6zM75.1 561.9h0.6v0.6h-0.6zM71.9 584.5h0.6v0.6h-0.6zM71.9 583.1h0.6v0.6h-0.6zM72.5 561.2h0.6v0.6h-0.6zM54.3 561.3h0.6v0.6h-0.6zM82.7 583.6h0.6v0.6h-0.6zM45.0 561.0h0.6v0.6h-0.6zM86.6 573.9h0.6v0.6h-0.6zM82.5 560.5h0.6v0.6h-0.6zM86.0 573.8h0.6v0.6h-0.6zM38.9 575.4h0.6v0.6h-0.6zM79.4 561.7h0.6v0.6h-0.6zM80.5 585.8h0.6v0.6h-0.6zM53.3 562.6h0.6v0.6h-0.6zM56.3 558.9h0.6v0.6h-0.6zM42.7 571.6h0.6v0.6h-0.6zM84.6 586.9h0.6v0.6h-0.6zM85.1 569.8h0.6v0.6h-0.6zM56.2 590.0h0.6v0.6h-0.6zM43.9 570.1h0.6v0.6h-0.6zM77.9 562.7h0.6v0.6h-0.6zM50.2 583.5h0.6v0.6h-0.6zM57.6 560.1h0.6v0.6h-0.6zM77.5 556.2h0.6v0.6h-0.6zM73.2 582.9h0.6v0.6h-0.6zM94.0 570.5h0.6v0.6h-0.6zM60.2 561.3h0.6v0.6h-0.6zM89.7 572.2h0.6v0.6h-0.6zM62.4 584.3h0.6v0.6h-0.6zM86.8 572.6h0.6v0.6h-0.6zM78.6 562.7h0.6v0.6h-0.6zM57.7 561.2h0.6v0.6h-0.6zM85.9 566.9h0.6v0.6h-0.6zM45.5 563.8h0.6v0.6h-0.6zM44.9 566.0h0.6v0.6h-0.6zM60.9 586.4h0.6v0.6h-0.6zM44.3 578.6h0.6v0.6h-0.6zM87.5 580.2h0.6v0.6h-0.6zM88.6 569.6h0.6v0.6h-0.6zM61.6 561.7h0.6v0.6h-0.6zM71.1 560.3h0.6v0.6h-0.6zM63.9 583.6h0.6v0.6h-0.6zM50.9 560.9h0.6v0.6h-0.6zM50.4 563.1h0.6v0.6h-0.6zM86.1 567.6h0.6v0.6h-0.6zM67.8 562.8h0.6v0.6h-0.6zM44.0 568.9h0.6v0.6h-0.6zM77.1 582.7h0.6v0.6h-0.6zM66.6 584.9h0.6v0.6h-0.6zM55.1 557.7h0.6v0.6h-0.6zM55.3 560.1h0.6v0.6h-0.6zM40.3 581.3h0.6v0.6h-0.6zM51.2 583.7h0.6v0.6h-0.6zM43.1 581.0h0.6v0.6h-0.6zM43.6 579.5h0.6v0.6h-0.6zM43.4 574.0h0.6v0.6h-0.6zM42.1 567.5h0.6v0.6h-0.6zM74.6 583.7h0.6v0.6h-0.6zM86.4 570.5h0.6v0.6h-0.6zM84.9 581.8h0.6v0.6h-0.6zM44.2 566.5h0.6v0.6h-0.6zM78.7 561.9h0.6v0.6h-0.6zM81.9 562.9h0.6v0.6h-0.6zM47.4 585.8h0.6v0.6h-0.6zM89.6 574.3h0.6v0.6h-0.6zM46.5 580.7h0.6v0.6h-0.6zM85.2 579.1h0.6v0.6h-0.6zM84.6 580.0h0.6v0.6h-0.6zM69.5 590.2h0.6v0.6h-0.6zM38.3 563.3h0.6v0.6h-0.6zM52.2 585.6h0.6v0.6h-0.6zM64.0 589.0h0.6v0.6h-0.6zM63.2 557.6h0.6v0.6h-0.6zM45.1 579.2h0.6v0.6h-0.6zM40.2 574.6h0.6v0.6h-0.6zM89.3 574.2h0.6v0.6h-0.6zM47.0 562.2h0.6v0.6h-0.6zM85.2 569.8h0.6v0.6h-0.6zM78.1 558.2h0.6v0.6h-0.6zM39.7 567.8h0.6v0.6h-0.6zM87.8 574.1h0.6v0.6h-0.6zM82.4 556.8h0.6v0.6h-0.6zM58.9 562.2h0.6v0.6h-0.6zM43.8 567.3h0.6v0.6h-0.6zM78.2 582.1h0.6v0.6h-0.6zM85.6 576.2h0.6v0.6h-0.6zM38.0 567.4h0.6v0.6h-0.6zM69.5 561.8h0.6v0.6h-0.6zM65.3 584.7h0.6v0.6h-0.6zM85.3 567.8h0.6v0.6h-0.6zM48.7 560.8h0.6v0.6h-0.6zM85.1 565.6h0.6v0.6h-0.6zM41.2 561.3h0.6v0.6h-0.6zM40.1 571.7h0.6v0.6h-0.6zM63.9 584.5h0.6v0.6h-0.6zM86.7 573.3h0.6v0.6h-0.6zM80.5 581.8h0.6v0.6h-0.6zM44.9 566.9h0.6v0.6h-0.6zM84.5 566.0h0.6v0.6h-0.6zM74.0 560.0h0.6v0.6h-0.6zM79.5 560.4h0.6v0.6h-0.6zM69.6 559.3h0.6v0.6h-0.6zM88.3 568.8h0.6v0.6h-0.6zM76.2 585.1h0.6v0.6h-0.6zM43.2 574.0h0.6v0.6h-0.6zM79.4 561.3h0.6v0.6h-0.6zM83.4 564.2h0.6v0.6h-0.6zM73.8 562.4h0.6v0.6h-0.6zM84.1 561.8h0.6v0.6h-0.6zM42.4 579.6h0.6v0.6h-0.6zM71.1 560.4h0.6v0.6h-0.6zM48.3 562.8h0.6v0.6h-0.6zM80.3 558.2h0.6v0.6h-0.6zM40.9 566.1h0.6v0.6h-0.6zM56.3 587.3h0.6v0.6h-0.6zM82.9 563.8h0.6v0.6h-0.6zM48.3 583.4h0.6v0.6h-0.6zM81.8 582.0h0.6v0.6h-0.6zM43.7 561.6h0.6v0.6h-0.6zM83.6 564.0h0.6v0.6h-0.6zM48.2 587.3h0.6v0.6h-0.6zM87.5 574.8h0.6v0.6h-0.6zM47.2 586.4h0.6v0.6h-0.6zM84.3 561.4h0.6v0.6h-0.6zM39.4 569.4h0.6v0.6h-0.6zM42.9 579.3h0.6v0.6h-0.6zM59.4 586.4h0.6v0.6h-0.6zM55.5 562.7h0.6v0.6h-0.6zM42.9 580.4h0.6v0.6h-0.6zM79.6 588.0h0.6v0.6h-0.6zM86.1 577.2h0.6v0.6h-0.6zM41.9 579.8h0.6v0.6h-0.6zM44.2 564.1h0.6v0.6h-0.6zM69.3 586.0h0.6v0.6h-0.6zM45.2 563.5h0.6v0.6h-0.6zM52.0 560.7h0.6v0.6h-0.6zM45.3 581.0h0.6v0.6h-0.6zM34.9 569.8h0.6v0.6h-0.6zM87.4 569.7h0.6v0.6h-0.6zM41.9 575.2h0.6v0.6h-0.6zM46.0 562.6h0.6v0.6h-0.6zM80.6 562.4h0.6v0.6h-0.6zM80.6 562.5h0.6v0.6h-0.6zM36.5 570.5h0.6v0.6h-0.6zM39.1 565.3h0.6v0.6h-0.6zM85.5 568.4h0.6v0.6h-0.6zM55.4 561.2h0.6v0.6h-0.6zM44.1 579.3h0.6v0.6h-0.6zM43.4 579.0h0.6v0.6h-0.6zM83.2 563.4h0.6v0.6h-0.6zM39.0 566.6h0.6v0.6h-0.6zM61.6 562.4h0.6v0.6h-0.6zM67.9 585.2h0.6v0.6h-0.6zM79.7 583.0h0.6v0.6h-0.6zM78.9 585.3h0.6v0.6h-0.6zM75.3 559.7h0.6v0.6h-0.6zM75.1 588.0h0.6v0.6h-0.6zM61.6 559.9h0.6v0.6h-0.6zM86.8 565.6h0.6v0.6h-0.6zM57.6 560.7h0.6v0.6h-0.6zM84.3 576.7h0.6v0.6h-0.6zM46.5 563.5h0.6v0.6h-0.6zM60.1 556.1h0.6v0.6h-0.6zM47.7 582.5h0.6v0.6h-0.6zM89.1 568.7h0.6v0.6h-0.6zM37.9 576.4h0.6v0.6h-0.6zM43.6 580.7h0.6v0.6h-0.6zM77.2 561.2h0.6v0.6h-0.6zM60.1 559.8h0.6v0.6h-0.6zM82.0 562.5h0.6v0.6h-0.6zM83.2 564.5h0.6v0.6h-0.6zM84.6 576.8h0.6v0.6h-0.6z" fill="#000" fill-opacity="0.6"/>
<path d="M80.0 557.1h0.6v0.6h-0.6zM80.1 558.6h0.6v0.6h-0.6zM80.4 561.1h0.6v0.6h-0.6zM78.7 556.8h0.6v0.6h-0.6zM80.2 554.2h0.6v0.6h-0.6zM84.0 561.1h0.6v0.6h-0.6zM76.6 559.7h0.6v0.6h-0.6zM82.2 554.4h0.6v0.6h-0.6zM73.6 550.6h0.6v0.6h-0.6zM77.1 554.6h0.6v0.6h-0.6zM80.4 558.3h0.6v0.6h-0.6zM79.5 558.3h0.6v0.6h-0.6zM79.0 553.7h0.6v0.6h-0.6zM80.5 555.9h0.6v0.6h-0.6zM82.5 557.7h0.6v0.6h-0.6zM74.5 556.4h0.6v0.6h-0.6zM81.2 554.9h0.6v0.6h-0.6zM76.2 553.7h0.6v0.6h-0.6zM74.7 557.6h0.6v0.6h-0.6zM83.4 554.1h0.6v0.6h-0.6zM81.8 557.0h0.6v0.6h-0.6zM79.1 554.1h0.6v0.6h-0.6zM80.9 559.7h0.6v0.6h-0.6zM79.2 553.4h0.6v0.6h-0.6zM81.3 556.7h0.6v0.6h-0.6zM77.1 558.0h0.6v0.6h-0.6zM74.2 558.2h0.6v0.6h-0.6zM80.0 563.6h0.6v0.6h-0.6zM76.9 557.8h0.6v0.6h-0.6zM78.1 552.1h0.6v0.6h-0.6zM79.6 553.4h0.6v0.6h-0.6zM79.9 551.2h0.6v0.6h-0.6zM81.3 556.4h0.6v0.6h-0.6zM79.7 556.0h0.6v0.6h-0.6zM80.9 558.4h0.6v0.6h-0.6zM74.8 555.8h0.6v0.6h-0.6zM81.4 560.9h0.6v0.6h-0.6zM79.0 559.7h0.6v0.6h-0.6zM77.2 557.9h0.6v0.6h-0.6zM80.9 558.8h0.6v0.6h-0.6zM79.6 556.4h0.6v0.6h-0.6zM78.9 553.6h0.6v0.6h-0.6zM85.1 549.8h0.6v0.6h-0.6zM78.8 558.2h0.6v0.6h-0.6zM81.0 555.7h0.6v0.6h-0.6zM83.5 552.2h0.6v0.6h-0.6zM77.5 555.3h0.6v0.6h-0.6zM78.3 566.3h0.6v0.6h-0.6zM79.2 552.9h0.6v0.6h-0.6zM82.8 552.3h0.6v0.6h-0.6zM80.6 550.2h0.6v0.6h-0.6zM84.9 559.8h0.6v0.6h-0.6zM73.3 552.7h0.6v0.6h-0.6zM80.2 557.9h0.6v0.6h-0.6zM79.2 553.7h0.6v0.6h-0.6zM80.7 553.3h0.6v0.6h-0.6zM82.4 560.8h0.6v0.6h-0.6zM78.2 556.1h0.6v0.6h-0.6zM79.3 559.2h0.6v0.6h-0.6zM80.2 558.3h0.6v0.6h-0.6zM79.8 560.8h0.6v0.6h-0.6zM74.8 556.3h0.6v0.6h-0.6zM81.1 565.5h0.6v0.6h-0.6zM79.1 552.1h0.6v0.6h-0.6zM76.7 555.7h0.6v0.6h-0.6zM75.5 556.4h0.6v0.6h-0.6zM76.5 553.6h0.6v0.6h-0.6zM82.3 559.6h0.6v0.6h-0.6zM79.8 558.8h0.6v0.6h-0.6zM74.5 558.2h0.6v0.6h-0.6zM76.9 548.9h0.6v0.6h-0.6zM83.6 556.9h0.6v0.6h-0.6zM75.3 555.3h0.6v0.6h-0.6zM81.9 566.3h0.6v0.6h-0.6zM77.7 557.8h0.6v0.6h-0.6zM81.1 554.8h0.6v0.6h-0.6zM80.1 561.4h0.6v0.6h-0.6zM78.1 555.7h0.6v0.6h-0.6zM80.7 554.3h0.6v0.6h-0.6zM82.5 549.3h0.6v0.6h-0.6zM80.3 554.4h0.6v0.6h-0.6zM79.9 555.4h0.6v0.6h-0.6zM80.2 554.1h0.6v0.6h-0.6zM79.8 557.2h0.6v0.6h-0.6zM81.5 559.8h0.6v0.6h-0.6zM77.7 552.3h0.6v0.6h-0.6zM76.6 559.4h0.6v0.6h-0.6zM82.4 557.3h0.6v0.6h-0.6zM79.9 555.0h0.6v0.6h-0.6zM78.6 557.5h0.6v0.6h-0.6zM80.4 549.9h0.6v0.6h-0.6zM82.6 557.2h0.6v0.6h-0.6zM79.8 557.7h0.6v0.6h-0.6zM82.7 556.8h0.6v0.6h-0.6zM81.0 557.3h0.6v0.6h-0.6zM78.2 559.6h0.6v0.6h-0.6zM75.7 554.7h0.6v0.6h-0.6zM79.3 555.8h0.6v0.6h-0.6zM80.1 553.6h0.6v0.6h-0.6zM79.6 554.8h0.6v0.6h-0.6zM74.9 558.2h0.6v0.6h-0.6zM77.7 553.4h0.6v0.6h-0.6zM76.3 547.2h0.6v0.6h-0.6zM75.2 556.2h0.6v0.6h-0.6zM76.8 559.2h0.6v0.6h-0.6zM81.2 559.8h0.6v0.6h-0.6zM78.3 557.7h0.6v0.6h-0.6zM77.2 565.8h0.6v0.6h-0.6zM73.9 556.4h0.6v0.6h-0.6zM77.7 550.0h0.6v0.6h-0.6zM79.8 557.3h0.6v0.6h-0.6zM77.0 550.1h0.6v0.6h-0.6zM77.2 557.0h0.6v0.6h-0.6zM80.9 553.7h0.6v0.6h-0.6zM78.3 553.0h0.6v0.6h-0.6zM79.0 549.9h0.6v0.6h-0.6zM77.2 559.9h0.6v0.6h-0.6zM79.6 556.8h0.6v0.6h-0.6zM76.9 559.7h0.6v0.6h-0.6zM80.8 556.6h0.6v0.6h-0.6zM79.7 556.0h0.6v0.6h-0.6zM82.0 558.4h0.6v0.6h-0.6zM79.3 563.0h0.6v0.6h-0.6zM77.4 558.1h0.6v0.6h-0.6zM79.2 557.2h0.6v0.6h-0.6zM83.9 550.1h0.6v0.6h-0.6zM81.5 560.7h0.6v0.6h-0.6zM77.1 555.7h0.6v0.6h-0.6zM81.5 555.9h0.6v0.6h-0.6zM87.9 554.4h0.6v0.6h-0.6zM80.6 560.4h0.6v0.6h-0.6zM75.6 560.2h0.6v0.6h-0.6zM76.6 553.5h0.6v0.6h-0.6zM79.9 557.0h0.6v0.6h-0.6zM73.7 557.8h0.6v0.6h-0.6zM74.6 559.1h0.6v0.6h-0.6zM76.4 549.8h0.6v0.6h-0.6zM76.2 547.7h0.6v0.6h-0.6zM76.4 553.3h0.6v0.6h-0.6zM81.7 550.6h0.6v0.6h-0.6zM83.0 557.4h0.6v0.6h-0.6zM75.7 560.1h0.6v0.6h-0.6zM79.3 555.2h0.6v0.6h-0.6zM79.5 561.6h0.6v0.6h-0.6zM78.6 556.7h0.6v0.6h-0.6zM76.6 560.7h0.6v0.6h-0.6zM78.8 558.3h0.6v0.6h-0.6zM78.5 560.0h0.6v0.6h-0.6zM77.3 561.0h0.6v0.6h-0.6zM78.9 558.3h0.6v0.6h-0.6zM80.3 553.8h0.6v0.6h-0.6zM77.8 556.5h0.6v0.6h-0.6zM80.0 557.1h0.6v0.6h-0.6zM81.2 553.5h0.6v0.6h-0.6zM78.2 557.6h0.6v0.6h-0.6zM78.3 552.8h0.6v0.6h-0.6zM77.8 559.6h0.6v0.6h-0.6zM80.1 559.7h0.6v0.6h-0.6zM78.3 556.3h0.6v0.6h-0.6zM79.3 554.5h0.6v0.6h-0.6zM79.8 553.8h0.6v0.6h-0.6zM78.5 551.1h0.6v0.6h-0.6zM77.7 555.6h0.6v0.6h-0.6zM81.9 559.2h0.6v0.6h-0.6zM80.7 560.1h0.6v0.6h-0.6zM80.7 553.2h0.6v0.6h-0.6zM81.2 558.6h0.6v0.6h-0.6zM73.6 559.1h0.6v0.6h-0.6zM80.8 558.2h0.6v0.6h-0.6zM76.4 555.3h0.6v0.6h-0.6zM84.3 551.4h0.6v0.6h-0.6zM80.9 559.4h0.6v0.6h-0.6zM81.0 557.5h0.6v0.6h-0.6zM78.7 554.5h0.6v0.6h-0.6zM76.5 551.4h0.6v0.6h-0.6zM77.6 553.7h0.6v0.6h-0.6zM82.9 557.2h0.6v0.6h-0.6zM81.4 552.4h0.6v0.6h-0.6zM75.9 563.6h0.6v0.6h-0.6zM77.7 556.0h0.6v0.6h-0.6zM79.7 553.7h0.6v0.6h-0.6zM75.4 553.3h0.6v0.6h-0.6zM84.0 556.6h0.6v0.6h-0.6zM76.0 548.6h0.6v0.6h-0.6zM79.8 556.3h0.6v0.6h-0.6zM78.9 552.9h0.6v0.6h-0.6zM78.8 554.1h0.6v0.6h-0.6zM81.0 548.6h0.6v0.6h-0.6zM76.3 561.0h0.6v0.6h-0.6zM82.1 553.9h0.6v0.6h-0.6zM78.7 557.1h0.6v0.6h-0.6zM75.9 550.3h0.6v0.6h-0.6zM78.4 559.6h0.6v0.6h-0.6zM79.3 556.0h0.6v0.6h-0.6zM78.7 560.1h0.6v0.6h-0.6zM75.4 558.0h0.6v0.6h-0.6zM74.7 556.4h0.6v0.6h-0.6zM76.2 555.5h0.6v0.6h-0.6zM78.7 553.7h0.6v0.6h-0.6zM75.3 555.7h0.6v0.6h-0.6zM83.5 558.8h0.6v0.6h-0.6zM77.5 561.1h0.6v0.6h-0.6zM78.3 558.8h0.6v0.6h-0.6zM83.4 558.0h0.6v0.6h-0.6zM82.2 552.0h0.6v0.6h-0.6zM79.2 554.4h0.6v0.6h-0.6zM75.0 558.2h0.6v0.6h-0.6zM78.9 558.7h0.6v0.6h-0.6zM73.3 554.0h0.6v0.6h-0.6zM80.3 548.5h0.6v0.6h-0.6zM77.7 557.9h0.6v0.6h-0.6zM76.4 555.8h0.6v0.6h-0.6zM79.7 562.5h0.6v0.6h-0.6zM77.9 562.9h0.6v0.6h-0.6zM79.0 556.7h0.6v0.6h-0.6zM79.8 554.3h0.6v0.6h-0.6zM77.7 552.8h0.6v0.6h-0.6zM83.8 560.7h0.6v0.6h-0.6zM83.9 558.7h0.6v0.6h-0.6zM77.9 553.6h0.6v0.6h-0.6zM77.0 554.3h0.6v0.6h-0.6zM80.5 557.7h0.6v0.6h-0.6zM82.3 560.2h0.6v0.6h-0.6zM75.7 556.3h0.6v0.6h-0.6zM81.1 550.1h0.6v0.6h-0.6zM80.2 554.7h0.6v0.6h-0.6zM80.0 553.7h0.6v0.6h-0.6zM80.5 558.4h0.6v0.6h-0.6zM77.7 551.0h0.6v0.6h-0.6zM78.3 556.0h0.6v0.6h-0.6zM82.1 552.7h0.6v0.6h-0.6zM77.6 562.4h0.6v0.6h-0.6zM80.9 553.8h0.6v0.6h-0.6zM77.6 554.5h0.6v0.6h-0.6zM76.7 552.2h0.6v0.6h-0.6zM74.9 558.4h0.6v0.6h-0.6zM81.4 557.6h0.6v0.6h-0.6zM81.0 550.8h0.6v0.6h-0.6zM82.3 556.8h0.6v0.6h-0.6zM79.8 552.6h0.6v0.6h-0.6zM78.0 555.8h0.6v0.6h-0.6zM86.4 559.5h0.6v0.6h-0.6zM81.3 558.3h0.6v0.6h-0.6zM75.5 555.0h0.6v0.6h-0.6zM77.0 553.3h0.6v0.6h-0.6zM79.0 558.5h0.6v0.6h-0.6zM74.9 554.5h0.6v0.6h-0.6zM78.3 559.7h0.6v0.6h-0.6zM72.5 553.2h0.6v0.6h-0.6zM80.9 557.5h0.6v0.6h-0.6zM78.8 557.1h0.6v0.6h-0.6zM82.5 564.9h0.6v0.6h-0.6zM80.6 558.5h0.6v0.6h-0.6zM76.3 560.7h0.6v0.6h-0.6zM75.1 558.3h0.6v0.6h-0.6zM73.3 553.4h0.6v0.6h-0.6zM75.9 554.7h0.6v0.6h-0.6zM84.5 554.8h0.6v0.6h-0.6zM76.6 555.3h0.6v0.6h-0.6zM80.5 557.7h0.6v0.6h-0.6zM73.8 558.1h0.6v0.6h-0.6zM71.4 558.4h0.6v0.6h-0.6zM53.2 560.0h0.6v0.6h-0.6zM53.8 553.3h0.6v0.6h-0.6zM50.9 556.8h0.6v0.6h-0.6zM60.7 554.9h0.6v0.6h-0.6zM46.5 554.5h0.6v0.6h-0.6zM58.2 552.8h0.6v0.6h-0.6zM45.9 559.3h0.6v0.6h-0.6zM63.8 560.4h0.6v0.6h-0.6zM67.8 555.3h0.6v0.6h-0.6zM68.5 564.3h0.6v0.6h-0.6zM57.3 556.4h0.6v0.6h-0.6zM52.6 558.7h0.6v0.6h-0.6zM51.9 559.1h0.6v0.6h-0.6zM74.7 555.5h0.6v0.6h-0.6zM54.4 560.2h0.6v0.6h-0.6zM71.2 564.6h0.6v0.6h-0.6zM49.9 560.5h0.6v0.6h-0.6zM59.3 563.0h0.6v0.6h-0.6zM72.1 559.5h0.6v0.6h-0.6zM61.1 558.6h0.6v0.6h-0.6zM80.3 553.9h0.6v0.6h-0.6zM68.7 555.5h0.6v0.6h-0.6zM54.3 561.1h0.6v0.6h-0.6zM55.3 559.4h0.6v0.6h-0.6zM59.3 562.1h0.6v0.6h-0.6zM62.1 558.8h0.6v0.6h-0.6zM54.5 553.8h0.6v0.6h-0.6zM76.8 559.9h0.6v0.6h-0.6zM68.4 563.8h0.6v0.6h-0.6zM57.6 563.2h0.6v0.6h-0.6zM52.8 561.0h0.6v0.6h-0.6zM65.7 558.7h0.6v0.6h-0.6zM51.0 557.4h0.6v0.6h-0.6zM62.4 560.1h0.6v0.6h-0.6zM52.8 556.6h0.6v0.6h-0.6zM63.0 561.7h0.6v0.6h-0.6zM67.5 553.5h0.6v0.6h-0.6zM59.5 562.8h0.6v0.6h-0.6zM60.5 557.1h0.6v0.6h-0.6zM59.5 563.2h0.6v0.6h-0.6zM56.6 551.6h0.6v0.6h-0.6zM56.0 563.7h0.6v0.6h-0.6zM68.4 565.7h0.6v0.6h-0.6zM74.3 562.1h0.6v0.6h-0.6zM64.0 561.7h0.6v0.6h-0.6zM62.0 557.2h0.6v0.6h-0.6zM67.8 559.2h0.6v0.6h-0.6zM58.1 559.0h0.6v0.6h-0.6zM54.6 562.8h0.6v0.6h-0.6zM73.3 565.7h0.6v0.6h-0.6zM56.6 560.8h0.6v0.6h-0.6zM54.1 557.7h0.6v0.6h-0.6zM57.5 556.7h0.6v0.6h-0.6zM77.1 557.3h0.6v0.6h-0.6zM59.7 556.8h0.6v0.6h-0.6zM78.1 563.5h0.6v0.6h-0.6zM50.8 556.3h0.6v0.6h-0.6zM66.3 557.3h0.6v0.6h-0.6zM49.2 561.7h0.6v0.6h-0.6zM39.5 563.6h0.6v0.6h-0.6zM76.3 555.8h0.6v0.6h-0.6zM62.8 560.7h0.6v0.6h-0.6zM62.5 554.9h0.6v0.6h-0.6zM52.6 560.0h0.6v0.6h-0.6zM58.9 557.5h0.6v0.6h-0.6zM51.2 560.7h0.6v0.6h-0.6zM65.5 562.9h0.6v0.6h-0.6zM62.5 565.4h0.6v0.6h-0.6zM68.0 558.2h0.6v0.6h-0.6zM60.3 561.5h0.6v0.6h-0.6zM59.4 562.1h0.6v0.6h-0.6zM57.7 556.7h0.6v0.6h-0.6zM65.2 564.8h0.6v0.6h-0.6zM57.9 559.7h0.6v0.6h-0.6zM65.6 558.8h0.6v0.6h-0.6zM63.8 559.4h0.6v0.6h-0.6zM49.9 555.5h0.6v0.6h-0.6zM66.3 562.3h0.6v0.6h-0.6zM75.0 559.3h0.6v0.6h-0.6zM58.1 556.5h0.6v0.6h-0.6zM48.8 558.8h0.6v0.6h-0.6zM60.8 566.9h0.6v0.6h-0.6zM65.8 556.7h0.6v0.6h-0.6zM61.1 559.6h0.6v0.6h-0.6zM53.2 555.5h0.6v0.6h-0.6zM60.5 557.9h0.6v0.6h-0.6zM66.5 563.2h0.6v0.6h-0.6zM76.6 557.1h0.6v0.6h-0.6zM65.7 561.2h0.6v0.6h-0.6zM57.5 559.3h0.6v0.6h-0.6zM69.1 562.7h0.6v0.6h-0.6zM63.5 557.3h0.6v0.6h-0.6zM77.9 557.3h0.6v0.6h-0.6zM68.2 560.6h0.6v0.6h-0.6zM58.8 555.9h0.6v0.6h-0.6zM67.6 558.9h0.6v0.6h-0.6zM58.9 559.9h0.6v0.6h-0.6zM63.3 559.0h0.6v0.6h-0.6zM66.7 552.7h0.6v0.6h-0.6zM71.6 556.8h0.6v0.6h-0.6zM62.6 557.9h0.6v0.6h-0.6zM52.4 558.2h0.6v0.6h-0.6zM52.5 562.4h0.6v0.6h-0.6zM54.8 556.5h0.6v0.6h-0.6zM65.7 565.2h0.6v0.6h-0.6zM68.7 556.7h0.6v0.6h-0.6zM50.9 549.7h0.6v0.6h-0.6zM64.0 558.7h0.6v0.6h-0.6zM40.3 558.7h0.6v0.6h-0.6zM59.1 558.9h0.6v0.6h-0.6zM48.1 560.5h0.6v0.6h-0.6zM62.8 560.3h0.6v0.6h-0.6zM75.1 557.8h0.6v0.6h-0.6zM51.1 562.6h0.6v0.6h-0.6zM73.7 566.5h0.6v0.6h-0.6zM60.6 557.9h0.6v0.6h-0.6zM68.9 558.0h0.6v0.6h-0.6zM54.2 558.2h0.6v0.6h-0.6zM72.4 559.9h0.6v0.6h-0.6zM63.1 558.2h0.6v0.6h-0.6zM50.0 563.0h0.6v0.6h-0.6zM69.9 564.5h0.6v0.6h-0.6zM56.3 560.6h0.6v0.6h-0.6zM65.9 550.5h0.6v0.6h-0.6zM65.7 559.4h0.6v0.6h-0.6zM55.4 552.6h0.6v0.6h-0.6zM58.8 557.4h0.6v0.6h-0.6zM67.1 563.1h0.6v0.6h-0.6zM63.8 557.5h0.6v0.6h-0.6zM62.5 564.5h0.6v0.6h-0.6zM50.9 560.5h0.6v0.6h-0.6zM64.9 564.1h0.6v0.6h-0.6zM64.8 564.4h0.6v0.6h-0.6zM61.4 559.4h0.6v0.6h-0.6zM52.2 560.9h0.6v0.6h-0.6zM58.2 561.8h0.6v0.6h-0.6zM66.9 557.9h0.6v0.6h-0.6zM64.3 561.7h0.6v0.6h-0.6zM60.9 567.5h0.6v0.6h-0.6zM77.7 556.9h0.6v0.6h-0.6zM54.1 562.0h0.6v0.6h-0.6zM54.1 563.4h0.6v0.6h-0.6zM63.7 555.6h0.6v0.6h-0.6zM77.1 555.1h0.6v0.6h-0.6zM50.7 562.6h0.6v0.6h-0.6zM56.2 562.7h0.6v0.6h-0.6zM56.4 560.4h0.6v0.6h-0.6zM66.5 561.8h0.6v0.6h-0.6zM64.2 556.0h0.6v0.6h-0.6zM68.4 558.2h0.6v0.6h-0.6zM47.6 562.7h0.6v0.6h-0.6zM64.8 555.1h0.6v0.6h-0.6zM65.1 556.1h0.6v0.6h-0.6zM62.9 563.7h0.6v0.6h-0.6zM62.6 556.8h0.6v0.6h-0.6zM62.3 556.7h0.6v0.6h-0.6zM62.4 550.6h0.6v0.6h-0.6zM68.7 560.3h0.6v0.6h-0.6zM69.3 558.3h0.6v0.6h-0.6zM64.7 560.0h0.6v0.6h-0.6zM68.3 555.9h0.6v0.6h-0.6zM62.4 555.8h0.6v0.6h-0.6zM55.7 556.3h0.6v0.6h-0.6zM72.3 555.7h0.6v0.6h-0.6zM62.1 559.4h0.6v0.6h-0.6zM59.9 553.9h0.6v0.6h-0.6zM62.4 561.4h0.6v0.6h-0.6zM76.2 558.2h0.6v0.6h-0.6zM62.0 555.3h0.6v0.6h-0.6zM81.7 552.6h0.6v0.6h-0.6zM59.2 557.9h0.6v0.6h-0.6zM55.9 558.1h0.6v0.6h-0.6zM50.4 562.7h0.6v0.6h-0.6zM64.9 561.6h0.6v0.6h-0.6zM49.1 560.4h0.6v0.6h-0.6zM70.4 553.3h0.6v0.6h-0.6zM72.9 559.5h0.6v0.6h-0.6zM62.8 556.3h0.6v0.6h-0.6zM55.6 560.1h0.6v0.6h-0.6zM58.4 562.8h0.6v0.6h-0.6zM70.7 563.2h0.6v0.6h-0.6zM50.1 562.0h0.6v0.6h-0.6zM56.3 560.7h0.6v0.6h-0.6zM65.1 559.6h0.6v0.6h-0.6zM76.8 558.9h0.6v0.6h-0.6zM56.1 564.4h0.6v0.6h-0.6zM46.8 554.7h0.6v0.6h-0.6zM67.5 559.0h0.6v0.6h-0.6zM58.1 557.4h0.6v0.6h-0.6zM74.8 556.6h0.6v0.6h-0.6zM63.8 557.5h0.6v0.6h-0.6zM44.2 558.3h0.6v0.6h-0.6zM55.9 564.1h0.6v0.6h-0.6zM48.3 562.1h0.6v0.6h-0.6zM59.0 553.0h0.6v0.6h-0.6zM65.0 561.9h0.6v0.6h-0.6zM55.5 558.0h0.6v0.6h-0.6zM65.2 561.7h0.6v0.6h-0.6z" fill="#000" fill-opacity="0.5"/>
<path d="M45.3,572.0 L45.4,571.5 L45.5,571.0 L45.6,570.4 L45.7,569.9 L45.8,569.3 L45.9,568.8 L46.1,568.2 L46.4,567.7 L46.7,567.2 L47.0,566.8 L47.5,566.4 L48.0,566.0 L48.6,565.7 L49.3,565.4 L50.0,565.2 L50.8,564.9 L51.7,564.8 L52.6,564.6 L53.6,564.4 L54.6,564.3 L55.6,564.2 L56.7,564.1 L57.8,564.1 L59.0,564.0 L60.2,564.0 L61.6,563.9 L63.1,564.0 L64.6,564.0 L66.2,564.0 L67.8,564.1 L69.3,564.2 L70.9,564.3 L72.3,564.3 L73.7,564.4 L74.9,564.5 L76.0,564.6 L76.9,564.7 L77.8,564.7 L78.5,564.8 L79.2,564.8 L79.8,564.8 L80.3,564.9 L80.8,565.0 L81.2,565.1 L81.6,565.2 L82.0,565.4 L82.4,565.6 L82.7,565.9 L83.0,566.3 L83.3,566.7 L83.5,567.1 L83.7,567.6 L83.9,568.1 L84.0,568.7 L84.1,569.3 L84.1,569.9 L84.1,570.5 L84.1,571.1 L84.1,571.7 L84.0,572.3 L83.9,572.9 L83.8,573.6 L83.8,574.3 L83.6,575.0 L83.5,575.7 L83.3,576.4 L83.1,577.1 L82.8,577.8 L82.4,578.4 L81.9,579.0 L81.4,579.6 L80.7,580.0 L79.9,580.4 L79.0,580.7 L78.0,581.0 L76.8,581.2 L75.6,581.4 L74.4,581.5 L73.1,581.6 L71.8,581.7 L70.4,581.8 L69.1,581.9 L67.8,581.9 L66.5,582.0 L65.2,582.1 L63.8,582.1 L62.4,582.1 L60.9,582.1 L59.4,582.1 L58.0,582.1 L56.5,582.1 L55.1,582.0 L53.8,581.9 L52.6,581.8 L51.5,581.7 L50.6,581.5 L49.8,581.3 L49.1,581.1 L48.5,580.8 L48.0,580.6 L47.6,580.3 L47.2,580.0 L46.9,579.7 L46.7,579.3 L46.4,578.9 L46.2,578.6 L46.0,578.2 L45.8,577.8 L45.6,577.4 L45.4,577.0 L45.3,576.5 L45.2,576.0 L45.1,575.5 L45.1,575.0 L45.1,574.5 L45.1,574.0 L45.1,573.5 L45.1,573.0 L45.2,572.5Z" fill="none" stroke="#000" stroke-width="3.4" stroke-opacity="0.72" filter="url(#bl)"/>
<path d="M45.3,572.0 L45.4,571.5 L45.5,571.0 L45.6,570.4 L45.7,569.9 L45.8,569.3 L45.9,568.8 L46.1,568.2 L46.4,567.7 L46.7,567.2 L47.0,566.8 L47.5,566.4 L48.0,566.0 L48.6,565.7 L49.3,565.4 L50.0,565.2 L50.8,564.9 L51.7,564.8 L52.6,564.6 L53.6,564.4 L54.6,564.3 L55.6,564.2 L56.7,564.1 L57.8,564.1 L59.0,564.0 L60.2,564.0 L61.6,563.9 L63.1,564.0 L64.6,564.0 L66.2,564.0 L67.8,564.1 L69.3,564.2 L70.9,564.3 L72.3,564.3 L73.7,564.4 L74.9,564.5 L76.0,564.6 L76.9,564.7 L77.8,564.7 L78.5,564.8 L79.2,564.8 L79.8,564.8 L80.3,564.9 L80.8,565.0 L81.2,565.1 L81.6,565.2 L82.0,565.4 L82.4,565.6 L82.7,565.9 L83.0,566.3 L83.3,566.7 L83.5,567.1 L83.7,567.6 L83.9,568.1 L84.0,568.7 L84.1,569.3 L84.1,569.9 L84.1,570.5 L84.1,571.1 L84.1,571.7 L84.0,572.3 L83.9,572.9 L83.8,573.6 L83.8,574.3 L83.6,575.0 L83.5,575.7 L83.3,576.4 L83.1,577.1 L82.8,577.8 L82.4,578.4 L81.9,579.0 L81.4,579.6 L80.7,580.0 L79.9,580.4 L79.0,580.7 L78.0,581.0 L76.8,581.2 L75.6,581.4 L74.4,581.5 L73.1,581.6 L71.8,581.7 L70.4,581.8 L69.1,581.9 L67.8,581.9 L66.5,582.0 L65.2,582.1 L63.8,582.1 L62.4,582.1 L60.9,582.1 L59.4,582.1 L58.0,582.1 L56.5,582.1 L55.1,582.0 L53.8,581.9 L52.6,581.8 L51.5,581.7 L50.6,581.5 L49.8,581.3 L49.1,581.1 L48.5,580.8 L48.0,580.6 L47.6,580.3 L47.2,580.0 L46.9,579.7 L46.7,579.3 L46.4,578.9 L46.2,578.6 L46.0,578.2 L45.8,577.8 L45.6,577.4 L45.4,577.0 L45.3,576.5 L45.2,576.0 L45.1,575.5 L45.1,575.0 L45.1,574.5 L45.1,574.0 L45.1,573.5 L45.1,573.0 L45.2,572.5Z" fill="#c8c8c8" stroke="#262626" stroke-width="0.75"/>
<path d="M47.5,572.1 L47.6,571.6 L47.7,571.2 L47.8,570.7 L47.8,570.2 L47.9,569.7 L48.1,569.2 L48.3,568.8 L48.5,568.3 L48.7,567.9 L49.1,567.5 L49.4,567.1 L49.9,566.8 L50.4,566.5 L51.0,566.3 L51.7,566.1 L52.4,565.9 L53.2,565.7 L54.0,565.6 L54.8,565.4 L55.7,565.3 L56.6,565.2 L57.6,565.2 L58.6,565.1 L59.6,565.0 L60.7,565.0 L61.9,565.0 L63.2,565.0 L64.5,565.0 L65.9,565.1 L67.3,565.1 L68.7,565.2 L70.0,565.3 L71.3,565.3 L72.5,565.4 L73.6,565.5 L74.5,565.6 L75.4,565.6 L76.1,565.7 L76.8,565.7 L77.4,565.7 L77.9,565.8 L78.4,565.8 L78.8,565.9 L79.2,566.0 L79.5,566.1 L79.8,566.2 L80.1,566.5 L80.4,566.7 L80.7,567.0 L81.0,567.4 L81.2,567.8 L81.3,568.2 L81.5,568.7 L81.6,569.2 L81.6,569.7 L81.7,570.2 L81.7,570.7 L81.7,571.3 L81.6,571.8 L81.6,572.3 L81.5,572.9 L81.4,573.5 L81.4,574.1 L81.3,574.7 L81.1,575.3 L81.0,576.0 L80.8,576.6 L80.5,577.2 L80.2,577.7 L79.8,578.3 L79.3,578.7 L78.7,579.1 L78.0,579.4 L77.2,579.7 L76.3,580.0 L75.3,580.2 L74.2,580.3 L73.1,580.4 L72.0,580.5 L70.8,580.6 L69.6,580.7 L68.5,580.8 L67.3,580.8 L66.2,580.9 L65.0,580.9 L63.8,581.0 L62.6,581.0 L61.3,581.0 L60.0,581.0 L58.7,581.0 L57.4,580.9 L56.2,580.9 L55.0,580.8 L54.0,580.7 L53.0,580.6 L52.2,580.4 L51.5,580.3 L50.9,580.1 L50.4,579.9 L49.9,579.6 L49.5,579.4 L49.2,579.1 L49.0,578.8 L48.7,578.5 L48.5,578.2 L48.3,577.9 L48.2,577.5 L48.0,577.2 L47.8,576.8 L47.6,576.4 L47.5,576.0 L47.4,575.6 L47.4,575.2 L47.3,574.8 L47.3,574.3 L47.3,573.9 L47.4,573.4 L47.4,573.0 L47.5,572.5Z" fill="#e4e4e4" stroke="#a8a8a8" stroke-width="0.45"/>
<path d="M50.9,572.2 L50.9,571.8 L51.0,571.5 L51.0,571.1 L51.1,570.7 L51.2,570.3 L51.3,569.9 L51.4,569.5 L51.6,569.2 L51.8,568.8 L52.1,568.5 L52.4,568.2 L52.8,568.0 L53.2,567.8 L53.7,567.6 L54.2,567.4 L54.7,567.2 L55.3,567.1 L56.0,567.0 L56.7,566.9 L57.4,566.8 L58.1,566.7 L58.9,566.7 L59.7,566.6 L60.5,566.6 L61.3,566.6 L62.3,566.5 L63.3,566.5 L64.4,566.6 L65.5,566.6 L66.6,566.6 L67.7,566.7 L68.8,566.8 L69.8,566.8 L70.7,566.9 L71.6,566.9 L72.4,567.0 L73.0,567.1 L73.6,567.1 L74.1,567.1 L74.6,567.1 L75.0,567.2 L75.4,567.2 L75.7,567.3 L76.0,567.3 L76.3,567.4 L76.6,567.5 L76.8,567.7 L77.0,567.9 L77.3,568.2 L77.5,568.4 L77.6,568.8 L77.8,569.1 L77.9,569.5 L77.9,569.9 L78.0,570.3 L78.0,570.7 L78.0,571.1 L78.0,571.6 L78.0,572.0 L78.0,572.4 L77.9,572.8 L77.8,573.3 L77.8,573.8 L77.7,574.3 L77.6,574.8 L77.5,575.3 L77.3,575.8 L77.1,576.2 L76.8,576.7 L76.5,577.1 L76.1,577.5 L75.6,577.8 L75.1,578.0 L74.4,578.3 L73.7,578.5 L72.9,578.6 L72.1,578.7 L71.2,578.8 L70.3,578.9 L69.4,579.0 L68.5,579.0 L67.5,579.1 L66.6,579.1 L65.7,579.2 L64.8,579.2 L63.8,579.3 L62.8,579.3 L61.8,579.3 L60.8,579.3 L59.7,579.3 L58.7,579.2 L57.8,579.2 L56.8,579.1 L56.0,579.0 L55.2,578.9 L54.6,578.8 L54.0,578.7 L53.5,578.5 L53.1,578.4 L52.8,578.2 L52.5,578.0 L52.2,577.8 L52.0,577.5 L51.8,577.3 L51.7,577.0 L51.5,576.8 L51.4,576.5 L51.2,576.2 L51.1,576.0 L51.0,575.7 L50.9,575.3 L50.8,575.0 L50.7,574.7 L50.7,574.3 L50.7,574.0 L50.7,573.6 L50.7,573.2 L50.8,572.9 L50.8,572.5Z" fill="#eeeeee" stroke="#c0c0c0" stroke-width="0.45"/>
<path d="M54.6,572.3 L54.6,572.1 L54.7,571.8 L54.7,571.5 L54.8,571.2 L54.8,571.0 L54.9,570.7 L55.0,570.4 L55.1,570.2 L55.3,569.9 L55.4,569.7 L55.7,569.5 L55.9,569.3 L56.2,569.1 L56.6,569.0 L56.9,568.9 L57.3,568.8 L57.8,568.7 L58.2,568.6 L58.7,568.5 L59.2,568.5 L59.7,568.4 L60.3,568.4 L60.9,568.3 L61.4,568.3 L62.0,568.3 L62.7,568.3 L63.5,568.3 L64.2,568.3 L65.0,568.3 L65.8,568.4 L66.6,568.4 L67.4,568.4 L68.1,568.5 L68.8,568.5 L69.4,568.6 L69.9,568.6 L70.4,568.6 L70.8,568.7 L71.2,568.7 L71.5,568.7 L71.8,568.7 L72.1,568.7 L72.3,568.8 L72.6,568.8 L72.8,568.9 L72.9,569.0 L73.1,569.1 L73.3,569.3 L73.4,569.4 L73.6,569.6 L73.7,569.9 L73.8,570.1 L73.9,570.4 L73.9,570.7 L74.0,570.9 L74.0,571.2 L74.0,571.5 L74.0,571.9 L74.0,572.2 L73.9,572.5 L73.9,572.8 L73.9,573.1 L73.8,573.4 L73.8,573.8 L73.7,574.2 L73.6,574.5 L73.5,574.9 L73.3,575.2 L73.1,575.5 L72.9,575.8 L72.6,576.1 L72.3,576.3 L71.9,576.5 L71.4,576.7 L70.9,576.8 L70.3,576.9 L69.8,577.0 L69.1,577.1 L68.5,577.1 L67.8,577.2 L67.1,577.2 L66.5,577.2 L65.8,577.3 L65.2,577.3 L64.5,577.3 L63.8,577.4 L63.1,577.4 L62.4,577.4 L61.6,577.4 L60.9,577.4 L60.2,577.3 L59.5,577.3 L58.8,577.3 L58.2,577.2 L57.7,577.1 L57.2,577.1 L56.8,577.0 L56.5,576.9 L56.2,576.7 L55.9,576.6 L55.7,576.5 L55.5,576.3 L55.4,576.1 L55.3,576.0 L55.1,575.8 L55.0,575.6 L54.9,575.4 L54.8,575.2 L54.7,575.0 L54.6,574.8 L54.6,574.6 L54.5,574.3 L54.5,574.1 L54.5,573.8 L54.5,573.6 L54.5,573.3 L54.5,573.1 L54.5,572.8 L54.5,572.6Z" fill="#f6f6f6" stroke="#d4d4d4" stroke-width="0.45"/>
<path d="M58.3,572.4 L58.3,572.3 L58.3,572.1 L58.4,572.0 L58.4,571.8 L58.4,571.6 L58.5,571.5 L58.5,571.3 L58.6,571.1 L58.7,571.0 L58.8,570.9 L58.9,570.7 L59.1,570.6 L59.3,570.5 L59.5,570.4 L59.7,570.4 L60.0,570.3 L60.2,570.3 L60.5,570.2 L60.8,570.2 L61.1,570.1 L61.4,570.1 L61.7,570.1 L62.1,570.0 L62.4,570.0 L62.8,570.0 L63.2,570.0 L63.6,570.0 L64.1,570.0 L64.6,570.0 L65.0,570.1 L65.5,570.1 L66.0,570.1 L66.4,570.1 L66.8,570.2 L67.2,570.2 L67.5,570.2 L67.8,570.2 L68.0,570.2 L68.3,570.3 L68.5,570.3 L68.6,570.3 L68.8,570.3 L68.9,570.3 L69.1,570.3 L69.2,570.4 L69.3,570.4 L69.4,570.5 L69.5,570.6 L69.6,570.7 L69.7,570.8 L69.8,571.0 L69.8,571.1 L69.9,571.3 L69.9,571.4 L69.9,571.6 L69.9,571.8 L69.9,572.0 L69.9,572.2 L69.9,572.3 L69.9,572.5 L69.9,572.7 L69.9,572.9 L69.8,573.1 L69.8,573.3 L69.8,573.5 L69.7,573.8 L69.6,574.0 L69.5,574.2 L69.4,574.4 L69.3,574.5 L69.1,574.7 L68.9,574.8 L68.7,574.9 L68.4,575.0 L68.1,575.1 L67.8,575.2 L67.4,575.2 L67.0,575.3 L66.6,575.3 L66.2,575.3 L65.8,575.4 L65.4,575.4 L65.0,575.4 L64.7,575.4 L64.3,575.4 L63.8,575.5 L63.4,575.5 L63.0,575.5 L62.5,575.5 L62.1,575.5 L61.7,575.4 L61.2,575.4 L60.9,575.4 L60.5,575.4 L60.2,575.3 L59.9,575.3 L59.6,575.2 L59.4,575.2 L59.3,575.1 L59.1,575.0 L59.0,574.9 L58.9,574.8 L58.8,574.7 L58.7,574.6 L58.6,574.5 L58.6,574.4 L58.5,574.3 L58.4,574.2 L58.4,574.0 L58.3,573.9 L58.3,573.8 L58.3,573.6 L58.2,573.5 L58.2,573.3 L58.2,573.2 L58.2,573.0 L58.2,572.9 L58.2,572.7 L58.3,572.6Z" fill="#fcfcfc" stroke="#e2e2e2" stroke-width="0.45"/>
<path d="M75.40,563.30 C75.40,557.70 84.40,557.70 84.40,563.30Z" fill="#f0f0f0" stroke="#000" stroke-width="1.2"/>
<rect x="72.40" y="529.70" width="21.90" height="33.60" fill="none" stroke="#000" stroke-width="1.6"/>
<rect x="76.40" y="520.90" width="15.6" height="8.6" fill="#fff"/>
<text x="84.10" y="528.30" font-size="9.6" text-anchor="middle" fill="#111" textLength="16.50" lengthAdjust="spacingAndGlyphs">3.72</text>
<ellipse cx="146.8" cy="560.7" rx="10" ry="3.5" fill="#000" fill-opacity="0.22" transform="rotate(0 146.8 560.7)" filter="url(#hz)"/>
<ellipse cx="164.3" cy="548.7" rx="4.2" ry="5" fill="#000" fill-opacity="0.35" transform="rotate(0 164.3 548.7)" filter="url(#hz)"/>
<path d="M132.5 567.2h0.6v0.6h-0.6zM158.8 582.1h0.6v0.6h-0.6zM161.7 582.7h0.6v0.6h-0.6zM159.7 582.3h0.6v0.6h-0.6zM158.9 582.6h0.6v0.6h-0.6zM133.5 565.1h0.6v0.6h-0.6zM159.2 561.4h0.6v0.6h-0.6zM156.6 562.3h0.6v0.6h-0.6zM133.2 579.2h0.6v0.6h-0.6zM159.3 564.1h0.6v0.6h-0.6zM156.3 562.4h0.6v0.6h-0.6zM138.6 564.2h0.6v0.6h-0.6zM161.5 582.3h0.6v0.6h-0.6zM169.7 560.3h0.6v0.6h-0.6zM153.2 583.1h0.6v0.6h-0.6zM131.8 572.9h0.6v0.6h-0.6zM161.5 546.9h0.6v0.6h-0.6zM162.3 545.7h0.6v0.6h-0.6zM162.5 545.9h0.6v0.6h-0.6zM132.7 567.4h0.6v0.6h-0.6zM133.5 579.5h0.6v0.6h-0.6zM144.8 585.7h0.6v0.6h-0.6zM169.3 552.7h0.6v0.6h-0.6zM167.1 545.6h0.6v0.6h-0.6zM170.5 547.6h0.6v0.6h-0.6zM169.6 568.8h0.6v0.6h-0.6zM160.6 547.0h0.6v0.6h-0.6zM171.4 567.9h0.6v0.6h-0.6zM171.1 555.0h0.6v0.6h-0.6zM165.9 545.1h0.6v0.6h-0.6zM169.6 547.9h0.6v0.6h-0.6zM166.4 577.3h0.6v0.6h-0.6zM160.9 557.5h0.6v0.6h-0.6zM154.2 562.9h0.6v0.6h-0.6zM144.1 563.4h0.6v0.6h-0.6zM167.9 575.5h0.6v0.6h-0.6zM134.6 565.3h0.6v0.6h-0.6zM162.0 555.8h0.6v0.6h-0.6zM135.2 564.8h0.6v0.6h-0.6zM170.0 564.1h0.6v0.6h-0.6zM156.5 562.8h0.6v0.6h-0.6zM159.8 560.0h0.6v0.6h-0.6zM166.8 577.6h0.6v0.6h-0.6zM132.4 577.7h0.6v0.6h-0.6zM169.1 548.0h0.6v0.6h-0.6zM170.7 571.1h0.6v0.6h-0.6zM142.2 562.5h0.6v0.6h-0.6zM170.1 565.4h0.6v0.6h-0.6zM170.3 558.0h0.6v0.6h-0.6zM169.8 556.9h0.6v0.6h-0.6zM147.8 584.5h0.6v0.6h-0.6zM161.2 557.6h0.6v0.6h-0.6zM170.2 551.8h0.6v0.6h-0.6zM131.4 572.8h0.6v0.6h-0.6zM169.6 562.8h0.6v0.6h-0.6zM137.7 564.3h0.6v0.6h-0.6zM160.3 558.5h0.6v0.6h-0.6zM167.4 545.3h0.6v0.6h-0.6zM155.1 562.6h0.6v0.6h-0.6zM132.5 578.1h0.6v0.6h-0.6zM139.4 563.3h0.6v0.6h-0.6zM162.6 554.5h0.6v0.6h-0.6zM134.5 565.1h0.6v0.6h-0.6zM144.9 584.2h0.6v0.6h-0.6zM167.3 544.5h0.6v0.6h-0.6zM151.3 562.8h0.6v0.6h-0.6zM146.5 562.8h0.6v0.6h-0.6zM169.5 565.3h0.6v0.6h-0.6zM162.5 580.7h0.6v0.6h-0.6zM142.3 583.0h0.6v0.6h-0.6zM144.9 563.4h0.6v0.6h-0.6zM142.2 562.3h0.6v0.6h-0.6zM170.2 555.9h0.6v0.6h-0.6zM151.9 563.2h0.6v0.6h-0.6zM135.7 583.3h0.6v0.6h-0.6zM155.1 560.7h0.6v0.6h-0.6zM162.4 582.4h0.6v0.6h-0.6zM157.1 582.6h0.6v0.6h-0.6zM170.0 568.9h0.6v0.6h-0.6zM163.9 544.8h0.6v0.6h-0.6zM134.8 565.7h0.6v0.6h-0.6zM145.7 562.4h0.6v0.6h-0.6zM163.5 544.9h0.6v0.6h-0.6zM147.4 563.1h0.6v0.6h-0.6zM160.3 558.5h0.6v0.6h-0.6zM140.6 583.5h0.6v0.6h-0.6zM161.1 558.7h0.6v0.6h-0.6zM135.8 583.2h0.6v0.6h-0.6zM131.8 575.2h0.6v0.6h-0.6zM139.0 583.1h0.6v0.6h-0.6zM149.8 561.9h0.6v0.6h-0.6zM139.4 563.4h0.6v0.6h-0.6zM131.7 566.8h0.6v0.6h-0.6zM166.4 577.3h0.6v0.6h-0.6zM148.2 563.1h0.6v0.6h-0.6zM160.5 582.1h0.6v0.6h-0.6zM143.1 584.0h0.6v0.6h-0.6zM168.4 574.9h0.6v0.6h-0.6zM167.6 544.1h0.6v0.6h-0.6zM171.3 567.9h0.6v0.6h-0.6zM132.5 577.6h0.6v0.6h-0.6zM161.8 562.6h0.6v0.6h-0.6zM168.5 577.8h0.6v0.6h-0.6zM131.0 575.8h0.6v0.6h-0.6zM153.6 562.5h0.6v0.6h-0.6zM162.4 549.6h0.6v0.6h-0.6zM132.3 568.6h0.6v0.6h-0.6zM160.7 559.7h0.6v0.6h-0.6zM171.0 552.5h0.6v0.6h-0.6zM145.7 562.2h0.6v0.6h-0.6zM170.7 560.3h0.6v0.6h-0.6zM155.6 561.8h0.6v0.6h-0.6zM130.8 574.8h0.6v0.6h-0.6zM144.8 562.1h0.6v0.6h-0.6zM146.8 583.3h0.6v0.6h-0.6zM158.9 582.4h0.6v0.6h-0.6zM161.9 555.8h0.6v0.6h-0.6zM131.8 567.7h0.6v0.6h-0.6zM147.4 562.3h0.6v0.6h-0.6zM137.5 563.4h0.6v0.6h-0.6zM141.3 563.1h0.6v0.6h-0.6zM165.1 545.0h0.6v0.6h-0.6zM144.1 583.6h0.6v0.6h-0.6zM167.8 576.4h0.6v0.6h-0.6zM149.8 561.8h0.6v0.6h-0.6zM169.3 547.4h0.6v0.6h-0.6zM132.7 578.0h0.6v0.6h-0.6zM155.4 562.4h0.6v0.6h-0.6zM159.8 546.5h0.6v0.6h-0.6zM136.0 582.7h0.6v0.6h-0.6zM136.0 582.6h0.6v0.6h-0.6zM131.4 569.0h0.6v0.6h-0.6zM161.9 549.4h0.6v0.6h-0.6zM133.9 582.2h0.6v0.6h-0.6zM164.8 544.0h0.6v0.6h-0.6zM150.0 583.5h0.6v0.6h-0.6zM133.9 582.2h0.6v0.6h-0.6zM169.3 554.2h0.6v0.6h-0.6zM162.5 545.8h0.6v0.6h-0.6zM159.4 561.0h0.6v0.6h-0.6zM162.3 550.0h0.6v0.6h-0.6zM151.1 584.3h0.6v0.6h-0.6zM166.0 580.1h0.6v0.6h-0.6zM130.7 575.9h0.6v0.6h-0.6zM139.4 563.5h0.6v0.6h-0.6zM130.6 577.4h0.6v0.6h-0.6zM131.6 577.5h0.6v0.6h-0.6zM168.6 546.4h0.6v0.6h-0.6zM142.3 563.6h0.6v0.6h-0.6zM136.6 583.0h0.6v0.6h-0.6zM132.6 577.6h0.6v0.6h-0.6zM168.3 546.6h0.6v0.6h-0.6zM132.6 568.0h0.6v0.6h-0.6zM133.5 566.3h0.6v0.6h-0.6zM132.3 577.3h0.6v0.6h-0.6zM139.5 563.6h0.6v0.6h-0.6zM160.3 560.2h0.6v0.6h-0.6zM146.8 583.8h0.6v0.6h-0.6zM132.0 571.9h0.6v0.6h-0.6zM133.0 567.5h0.6v0.6h-0.6zM168.1 575.6h0.6v0.6h-0.6zM159.7 561.6h0.6v0.6h-0.6zM146.5 562.5h0.6v0.6h-0.6zM161.4 546.9h0.6v0.6h-0.6zM162.3 551.7h0.6v0.6h-0.6zM130.5 568.8h0.6v0.6h-0.6zM162.1 545.4h0.6v0.6h-0.6zM146.8 584.4h0.6v0.6h-0.6zM146.8 583.4h0.6v0.6h-0.6zM164.3 544.6h0.6v0.6h-0.6zM166.8 577.6h0.6v0.6h-0.6zM166.7 544.5h0.6v0.6h-0.6zM163.1 558.6h0.6v0.6h-0.6zM158.9 563.0h0.6v0.6h-0.6zM130.2 573.3h0.6v0.6h-0.6zM162.1 549.0h0.6v0.6h-0.6zM161.8 546.5h0.6v0.6h-0.6zM161.3 558.2h0.6v0.6h-0.6zM131.6 567.6h0.6v0.6h-0.6zM132.0 579.2h0.6v0.6h-0.6zM158.9 582.5h0.6v0.6h-0.6zM149.0 562.7h0.6v0.6h-0.6zM150.6 560.5h0.6v0.6h-0.6zM147.8 584.8h0.6v0.6h-0.6zM161.3 555.7h0.6v0.6h-0.6zM156.5 584.4h0.6v0.6h-0.6zM165.6 544.9h0.6v0.6h-0.6zM141.3 562.6h0.6v0.6h-0.6zM159.7 561.7h0.6v0.6h-0.6zM144.0 583.8h0.6v0.6h-0.6zM170.7 558.0h0.6v0.6h-0.6zM161.3 581.8h0.6v0.6h-0.6zM164.1 580.3h0.6v0.6h-0.6zM163.7 544.1h0.6v0.6h-0.6zM161.1 555.7h0.6v0.6h-0.6zM136.0 564.7h0.6v0.6h-0.6zM156.5 562.8h0.6v0.6h-0.6zM160.1 561.2h0.6v0.6h-0.6zM143.2 563.1h0.6v0.6h-0.6zM161.1 547.3h0.6v0.6h-0.6zM133.7 565.5h0.6v0.6h-0.6zM169.1 569.8h0.6v0.6h-0.6zM162.5 549.1h0.6v0.6h-0.6zM150.5 562.4h0.6v0.6h-0.6zM161.5 582.3h0.6v0.6h-0.6zM135.3 565.0h0.6v0.6h-0.6zM143.2 562.9h0.6v0.6h-0.6zM167.1 577.8h0.6v0.6h-0.6zM167.8 575.5h0.6v0.6h-0.6zM169.5 553.4h0.6v0.6h-0.6zM132.1 566.2h0.6v0.6h-0.6zM162.9 551.2h0.6v0.6h-0.6zM149.8 563.2h0.6v0.6h-0.6zM138.2 583.0h0.6v0.6h-0.6zM167.5 545.2h0.6v0.6h-0.6zM163.2 545.3h0.6v0.6h-0.6zM161.9 547.2h0.6v0.6h-0.6zM155.2 563.3h0.6v0.6h-0.6zM142.3 563.6h0.6v0.6h-0.6zM144.1 582.9h0.6v0.6h-0.6zM148.2 563.4h0.6v0.6h-0.6zM170.1 567.8h0.6v0.6h-0.6zM167.6 577.2h0.6v0.6h-0.6zM169.9 567.7h0.6v0.6h-0.6zM154.0 561.8h0.6v0.6h-0.6zM132.8 566.6h0.6v0.6h-0.6zM132.7 577.6h0.6v0.6h-0.6zM169.5 548.5h0.6v0.6h-0.6zM158.5 562.7h0.6v0.6h-0.6zM158.1 582.8h0.6v0.6h-0.6zM138.2 583.0h0.6v0.6h-0.6zM167.3 576.1h0.6v0.6h-0.6zM166.1 579.0h0.6v0.6h-0.6zM161.3 552.2h0.6v0.6h-0.6zM134.0 581.1h0.6v0.6h-0.6zM138.5 563.7h0.6v0.6h-0.6zM168.6 573.3h0.6v0.6h-0.6zM166.2 578.1h0.6v0.6h-0.6zM164.3 579.4h0.6v0.6h-0.6zM166.2 579.1h0.6v0.6h-0.6zM139.7 583.4h0.6v0.6h-0.6zM161.8 581.0h0.6v0.6h-0.6zM152.2 584.3h0.6v0.6h-0.6zM169.0 570.7h0.6v0.6h-0.6zM164.2 582.0h0.6v0.6h-0.6zM166.6 545.6h0.6v0.6h-0.6zM131.6 576.6h0.6v0.6h-0.6zM137.7 564.6h0.6v0.6h-0.6zM145.7 563.4h0.6v0.6h-0.6zM150.0 583.5h0.6v0.6h-0.6zM170.3 570.0h0.6v0.6h-0.6zM162.9 550.7h0.6v0.6h-0.6zM156.9 562.5h0.6v0.6h-0.6zM170.0 555.1h0.6v0.6h-0.6zM154.6 562.1h0.6v0.6h-0.6zM130.8 574.8h0.6v0.6h-0.6zM135.4 565.2h0.6v0.6h-0.6zM146.8 583.5h0.6v0.6h-0.6zM156.0 561.5h0.6v0.6h-0.6zM159.6 561.6h0.6v0.6h-0.6zM153.2 583.4h0.6v0.6h-0.6zM131.1 575.8h0.6v0.6h-0.6zM164.8 543.4h0.6v0.6h-0.6zM165.4 543.2h0.6v0.6h-0.6zM163.4 550.8h0.6v0.6h-0.6zM136.0 564.7h0.6v0.6h-0.6zM136.0 564.7h0.6v0.6h-0.6zM159.6 562.8h0.6v0.6h-0.6zM165.1 580.4h0.6v0.6h-0.6zM162.0 581.5h0.6v0.6h-0.6zM154.3 583.6h0.6v0.6h-0.6zM170.5 559.1h0.6v0.6h-0.6zM164.3 579.4h0.6v0.6h-0.6zM162.2 556.6h0.6v0.6h-0.6zM166.7 576.6h0.6v0.6h-0.6zM153.2 563.2h0.6v0.6h-0.6zM169.5 559.1h0.6v0.6h-0.6zM131.6 579.4h0.6v0.6h-0.6zM161.8 560.0h0.6v0.6h-0.6zM133.9 565.6h0.6v0.6h-0.6zM169.8 552.6h0.6v0.6h-0.6zM156.2 561.5h0.6v0.6h-0.6zM170.0 555.1h0.6v0.6h-0.6zM161.8 555.8h0.6v0.6h-0.6zM163.0 544.1h0.6v0.6h-0.6zM162.0 554.4h0.6v0.6h-0.6zM152.2 583.7h0.6v0.6h-0.6zM136.7 563.9h0.6v0.6h-0.6zM170.1 566.6h0.6v0.6h-0.6zM162.9 544.8h0.6v0.6h-0.6zM143.2 583.1h0.6v0.6h-0.6zM131.3 565.6h0.6v0.6h-0.6zM132.6 578.5h0.6v0.6h-0.6zM168.7 573.3h0.6v0.6h-0.6zM163.2 580.4h0.6v0.6h-0.6zM142.2 562.7h0.6v0.6h-0.6zM137.5 563.4h0.6v0.6h-0.6zM132.8 565.6h0.6v0.6h-0.6zM168.6 545.7h0.6v0.6h-0.6zM166.2 579.2h0.6v0.6h-0.6zM155.3 583.0h0.6v0.6h-0.6zM168.3 544.3h0.6v0.6h-0.6zM145.8 584.1h0.6v0.6h-0.6zM163.2 549.5h0.6v0.6h-0.6zM161.9 546.6h0.6v0.6h-0.6zM159.8 582.7h0.6v0.6h-0.6zM145.8 584.8h0.6v0.6h-0.6zM169.1 574.3h0.6v0.6h-0.6zM128.9 576.9h0.6v0.6h-0.6zM161.1 561.0h0.6v0.6h-0.6zM134.2 580.2h0.6v0.6h-0.6zM131.5 572.8h0.6v0.6h-0.6zM170.0 572.8h0.6v0.6h-0.6zM165.5 542.7h0.6v0.6h-0.6zM161.0 557.5h0.6v0.6h-0.6zM143.1 584.8h0.6v0.6h-0.6zM155.2 563.2h0.6v0.6h-0.6zM147.9 583.6h0.6v0.6h-0.6zM171.2 564.1h0.6v0.6h-0.6zM160.3 560.2h0.6v0.6h-0.6zM168.8 572.4h0.6v0.6h-0.6zM161.2 556.3h0.6v0.6h-0.6zM139.7 583.9h0.6v0.6h-0.6zM130.8 575.3h0.6v0.6h-0.6zM160.8 558.0h0.6v0.6h-0.6zM161.8 581.0h0.6v0.6h-0.6zM170.9 570.1h0.6v0.6h-0.6zM140.5 583.8h0.6v0.6h-0.6zM168.8 548.8h0.6v0.6h-0.6zM132.4 579.0h0.6v0.6h-0.6zM170.2 559.1h0.6v0.6h-0.6zM131.7 575.2h0.6v0.6h-0.6zM143.2 563.4h0.6v0.6h-0.6zM147.9 583.5h0.6v0.6h-0.6zM158.2 583.2h0.6v0.6h-0.6zM138.9 583.3h0.6v0.6h-0.6zM160.8 582.8h0.6v0.6h-0.6zM153.2 563.1h0.6v0.6h-0.6zM144.9 584.6h0.6v0.6h-0.6zM159.6 562.2h0.6v0.6h-0.6zM144.1 563.6h0.6v0.6h-0.6zM162.5 549.6h0.6v0.6h-0.6zM169.1 549.3h0.6v0.6h-0.6zM160.5 560.8h0.6v0.6h-0.6zM166.3 545.3h0.6v0.6h-0.6zM171.0 551.0h0.6v0.6h-0.6zM160.9 555.6h0.6v0.6h-0.6zM162.4 550.1h0.6v0.6h-0.6zM151.3 562.9h0.6v0.6h-0.6zM155.1 563.0h0.6v0.6h-0.6zM159.8 561.7h0.6v0.6h-0.6zM139.7 583.3h0.6v0.6h-0.6zM160.6 559.7h0.6v0.6h-0.6zM156.3 562.3h0.6v0.6h-0.6zM153.1 562.2h0.6v0.6h-0.6zM138.8 583.7h0.6v0.6h-0.6zM133.7 580.6h0.6v0.6h-0.6zM164.9 578.9h0.6v0.6h-0.6zM155.5 562.7h0.6v0.6h-0.6zM131.9 577.9h0.6v0.6h-0.6zM158.9 562.4h0.6v0.6h-0.6zM170.7 571.1h0.6v0.6h-0.6zM132.9 579.3h0.6v0.6h-0.6zM171.1 550.2h0.6v0.6h-0.6zM131.3 572.8h0.6v0.6h-0.6zM171.0 560.3h0.6v0.6h-0.6zM148.9 584.9h0.6v0.6h-0.6zM161.9 560.6h0.6v0.6h-0.6zM160.2 557.9h0.6v0.6h-0.6zM157.2 583.0h0.6v0.6h-0.6zM168.0 546.8h0.6v0.6h-0.6zM170.5 555.0h0.6v0.6h-0.6zM154.7 563.2h0.6v0.6h-0.6zM155.8 561.5h0.6v0.6h-0.6zM168.9 549.9h0.6v0.6h-0.6zM154.9 561.6h0.6v0.6h-0.6zM169.9 558.0h0.6v0.6h-0.6zM132.0 569.8h0.6v0.6h-0.6zM162.9 549.4h0.6v0.6h-0.6zM131.8 574.2h0.6v0.6h-0.6zM163.3 545.4h0.6v0.6h-0.6zM170.7 550.3h0.6v0.6h-0.6zM135.5 584.0h0.6v0.6h-0.6zM138.8 583.8h0.6v0.6h-0.6zM131.9 574.7h0.6v0.6h-0.6zM131.5 570.8h0.6v0.6h-0.6zM154.3 583.7h0.6v0.6h-0.6zM168.7 576.0h0.6v0.6h-0.6zM135.2 564.9h0.6v0.6h-0.6zM132.1 576.4h0.6v0.6h-0.6zM143.9 561.1h0.6v0.6h-0.6zM142.3 562.9h0.6v0.6h-0.6zM130.5 578.4h0.6v0.6h-0.6zM170.0 555.1h0.6v0.6h-0.6zM156.3 583.0h0.6v0.6h-0.6zM131.6 571.9h0.6v0.6h-0.6zM131.1 577.7h0.6v0.6h-0.6zM135.7 563.8h0.6v0.6h-0.6zM154.9 561.4h0.6v0.6h-0.6zM155.4 583.6h0.6v0.6h-0.6zM134.0 580.3h0.6v0.6h-0.6zM164.8 544.3h0.6v0.6h-0.6zM133.1 564.8h0.6v0.6h-0.6zM171.9 560.3h0.6v0.6h-0.6zM170.6 558.0h0.6v0.6h-0.6zM131.4 575.7h0.6v0.6h-0.6zM130.1 571.6h0.6v0.6h-0.6zM170.1 555.1h0.6v0.6h-0.6zM167.0 577.8h0.6v0.6h-0.6zM152.2 584.1h0.6v0.6h-0.6zM161.9 553.0h0.6v0.6h-0.6zM132.3 567.9h0.6v0.6h-0.6zM170.0 560.3h0.6v0.6h-0.6zM131.9 576.0h0.6v0.6h-0.6zM173.5 562.9h0.6v0.6h-0.6zM163.0 544.9h0.6v0.6h-0.6zM161.1 554.3h0.6v0.6h-0.6zM131.2 566.6h0.6v0.6h-0.6zM153.5 561.1h0.6v0.6h-0.6zM154.5 561.7h0.6v0.6h-0.6zM157.2 582.9h0.6v0.6h-0.6zM133.8 580.4h0.6v0.6h-0.6zM131.9 568.4h0.6v0.6h-0.6zM161.3 581.8h0.6v0.6h-0.6zM130.8 572.3h0.6v0.6h-0.6zM131.3 570.2h0.6v0.6h-0.6zM153.1 562.4h0.6v0.6h-0.6zM144.9 584.1h0.6v0.6h-0.6zM134.0 582.0h0.6v0.6h-0.6zM158.2 563.0h0.6v0.6h-0.6zM168.3 573.2h0.6v0.6h-0.6zM159.7 562.9h0.6v0.6h-0.6zM134.8 582.1h0.6v0.6h-0.6zM153.1 561.9h0.6v0.6h-0.6zM138.9 583.5h0.6v0.6h-0.6zM167.1 576.9h0.6v0.6h-0.6zM159.1 561.9h0.6v0.6h-0.6zM166.1 544.7h0.6v0.6h-0.6zM160.2 558.5h0.6v0.6h-0.6zM166.0 543.2h0.6v0.6h-0.6zM169.4 551.9h0.6v0.6h-0.6zM151.3 562.2h0.6v0.6h-0.6zM159.8 582.7h0.6v0.6h-0.6zM132.6 580.1h0.6v0.6h-0.6zM132.1 571.5h0.6v0.6h-0.6zM164.3 544.3h0.6v0.6h-0.6zM152.6 563.2h0.6v0.6h-0.6zM145.8 584.0h0.6v0.6h-0.6zM131.0 571.3h0.6v0.6h-0.6zM160.3 560.7h0.6v0.6h-0.6zM147.4 563.6h0.6v0.6h-0.6zM165.8 578.8h0.6v0.6h-0.6zM162.3 544.1h0.6v0.6h-0.6zM162.6 551.2h0.6v0.6h-0.6zM134.8 582.0h0.6v0.6h-0.6zM154.3 563.4h0.6v0.6h-0.6zM130.5 574.9h0.6v0.6h-0.6zM159.9 560.1h0.6v0.6h-0.6zM169.5 571.7h0.6v0.6h-0.6zM166.9 545.9h0.6v0.6h-0.6zM166.5 545.7h0.6v0.6h-0.6zM169.6 569.9h0.6v0.6h-0.6zM168.2 547.8h0.6v0.6h-0.6zM159.7 547.2h0.6v0.6h-0.6zM135.3 581.2h0.6v0.6h-0.6zM131.2 574.3h0.6v0.6h-0.6zM153.6 562.3h0.6v0.6h-0.6zM162.1 545.5h0.6v0.6h-0.6zM132.8 578.4h0.6v0.6h-0.6zM158.2 583.4h0.6v0.6h-0.6zM149.0 562.8h0.6v0.6h-0.6zM144.1 563.3h0.6v0.6h-0.6zM168.2 547.2h0.6v0.6h-0.6zM130.1 576.0h0.6v0.6h-0.6zM159.5 581.8h0.6v0.6h-0.6zM141.4 583.5h0.6v0.6h-0.6zM170.1 566.6h0.6v0.6h-0.6zM161.2 553.6h0.6v0.6h-0.6zM169.6 562.8h0.6v0.6h-0.6zM168.8 575.1h0.6v0.6h-0.6zM161.5 582.3h0.6v0.6h-0.6zM169.1 572.5h0.6v0.6h-0.6zM170.1 572.8h0.6v0.6h-0.6zM162.8 545.4h0.6v0.6h-0.6zM147.9 583.2h0.6v0.6h-0.6zM163.5 552.6h0.6v0.6h-0.6zM153.7 562.9h0.6v0.6h-0.6zM166.9 576.7h0.6v0.6h-0.6zM159.0 582.7h0.6v0.6h-0.6zM165.2 544.7h0.6v0.6h-0.6zM152.2 583.2h0.6v0.6h-0.6zM130.8 573.8h0.6v0.6h-0.6zM161.0 583.3h0.6v0.6h-0.6zM150.5 563.4h0.6v0.6h-0.6zM170.9 564.1h0.6v0.6h-0.6zM130.4 574.9h0.6v0.6h-0.6zM168.4 547.1h0.6v0.6h-0.6zM131.2 571.8h0.6v0.6h-0.6zM151.3 562.5h0.6v0.6h-0.6zM169.4 549.2h0.6v0.6h-0.6zM146.8 583.8h0.6v0.6h-0.6zM150.0 584.7h0.6v0.6h-0.6zM166.5 578.4h0.6v0.6h-0.6zM131.6 576.1h0.6v0.6h-0.6zM145.0 583.1h0.6v0.6h-0.6zM167.2 576.0h0.6v0.6h-0.6zM160.0 546.7h0.6v0.6h-0.6zM154.2 562.9h0.6v0.6h-0.6zM136.9 582.1h0.6v0.6h-0.6zM138.3 582.4h0.6v0.6h-0.6zM157.2 582.8h0.6v0.6h-0.6zM138.6 564.2h0.6v0.6h-0.6zM167.9 546.8h0.6v0.6h-0.6zM136.2 582.0h0.6v0.6h-0.6zM170.9 561.6h0.6v0.6h-0.6zM160.0 560.1h0.6v0.6h-0.6zM133.1 563.0h0.6v0.6h-0.6zM131.9 575.1h0.6v0.6h-0.6zM155.5 563.0h0.6v0.6h-0.6zM130.0 572.2h0.6v0.6h-0.6zM169.2 574.4h0.6v0.6h-0.6zM136.3 581.9h0.6v0.6h-0.6zM145.8 584.9h0.6v0.6h-0.6zM134.0 565.8h0.6v0.6h-0.6zM140.4 584.4h0.6v0.6h-0.6zM131.9 577.0h0.6v0.6h-0.6zM138.7 584.6h0.6v0.6h-0.6zM170.0 567.8h0.6v0.6h-0.6zM131.3 577.6h0.6v0.6h-0.6zM144.1 583.1h0.6v0.6h-0.6zM166.4 580.6h0.6v0.6h-0.6zM144.0 562.6h0.6v0.6h-0.6zM166.6 545.6h0.6v0.6h-0.6zM132.3 578.6h0.6v0.6h-0.6zM155.4 583.8h0.6v0.6h-0.6zM131.0 574.3h0.6v0.6h-0.6zM147.4 562.6h0.6v0.6h-0.6zM169.5 551.9h0.6v0.6h-0.6zM169.8 565.3h0.6v0.6h-0.6zM131.8 574.3h0.6v0.6h-0.6zM132.0 570.9h0.6v0.6h-0.6zM170.4 554.2h0.6v0.6h-0.6zM161.0 552.9h0.6v0.6h-0.6zM148.9 583.3h0.6v0.6h-0.6zM168.3 547.8h0.6v0.6h-0.6zM132.4 566.4h0.6v0.6h-0.6zM167.6 575.4h0.6v0.6h-0.6zM171.9 570.3h0.6v0.6h-0.6zM153.7 562.9h0.6v0.6h-0.6zM161.8 546.5h0.6v0.6h-0.6zM151.1 585.4h0.6v0.6h-0.6zM160.3 560.2h0.6v0.6h-0.6zM131.2 574.8h0.6v0.6h-0.6zM133.8 581.3h0.6v0.6h-0.6zM161.3 552.2h0.6v0.6h-0.6zM164.1 580.4h0.6v0.6h-0.6zM162.4 550.1h0.6v0.6h-0.6zM170.1 553.4h0.6v0.6h-0.6zM165.1 580.4h0.6v0.6h-0.6zM155.0 562.2h0.6v0.6h-0.6zM150.5 563.5h0.6v0.6h-0.6zM161.1 554.3h0.6v0.6h-0.6zM163.1 581.8h0.6v0.6h-0.6zM135.1 583.0h0.6v0.6h-0.6zM160.5 559.7h0.6v0.6h-0.6zM170.1 556.0h0.6v0.6h-0.6zM160.6 558.5h0.6v0.6h-0.6zM132.1 568.5h0.6v0.6h-0.6zM157.4 583.9h0.6v0.6h-0.6zM169.9 559.1h0.6v0.6h-0.6zM159.5 562.1h0.6v0.6h-0.6zM154.6 562.1h0.6v0.6h-0.6zM168.4 547.7h0.6v0.6h-0.6zM150.0 583.9h0.6v0.6h-0.6zM166.8 577.6h0.6v0.6h-0.6zM163.3 545.4h0.6v0.6h-0.6zM171.3 548.7h0.6v0.6h-0.6zM158.0 582.6h0.6v0.6h-0.6zM163.8 580.0h0.6v0.6h-0.6zM170.1 547.7h0.6v0.6h-0.6zM131.1 575.3h0.6v0.6h-0.6zM158.1 563.5h0.6v0.6h-0.6zM165.4 578.3h0.6v0.6h-0.6zM150.0 585.2h0.6v0.6h-0.6zM146.6 563.5h0.6v0.6h-0.6zM162.7 546.0h0.6v0.6h-0.6zM163.5 580.9h0.6v0.6h-0.6zM163.6 545.2h0.6v0.6h-0.6zM164.4 544.7h0.6v0.6h-0.6zM166.4 578.2h0.6v0.6h-0.6zM160.1 560.7h0.6v0.6h-0.6zM132.2 569.8h0.6v0.6h-0.6zM166.6 545.5h0.6v0.6h-0.6zM169.1 545.3h0.6v0.6h-0.6zM160.8 556.3h0.6v0.6h-0.6zM162.0 581.4h0.6v0.6h-0.6zM169.7 558.0h0.6v0.6h-0.6zM169.7 551.9h0.6v0.6h-0.6zM170.3 552.6h0.6v0.6h-0.6zM160.0 562.4h0.6v0.6h-0.6zM144.9 583.7h0.6v0.6h-0.6zM162.0 581.4h0.6v0.6h-0.6zM155.0 562.3h0.6v0.6h-0.6zM154.5 561.6h0.6v0.6h-0.6zM131.5 569.0h0.6v0.6h-0.6zM141.3 562.4h0.6v0.6h-0.6zM153.7 563.1h0.6v0.6h-0.6zM162.7 545.4h0.6v0.6h-0.6zM165.8 544.0h0.6v0.6h-0.6zM168.5 545.0h0.6v0.6h-0.6zM157.2 582.9h0.6v0.6h-0.6zM132.5 577.2h0.6v0.6h-0.6zM167.4 577.1h0.6v0.6h-0.6zM170.5 564.1h0.6v0.6h-0.6zM168.7 547.0h0.6v0.6h-0.6zM140.3 562.7h0.6v0.6h-0.6zM131.5 574.3h0.6v0.6h-0.6zM169.8 549.1h0.6v0.6h-0.6zM167.6 545.8h0.6v0.6h-0.6zM160.4 562.6h0.6v0.6h-0.6zM148.2 562.5h0.6v0.6h-0.6zM154.2 563.2h0.6v0.6h-0.6zM144.1 563.3h0.6v0.6h-0.6zM167.1 576.0h0.6v0.6h-0.6zM137.0 581.9h0.6v0.6h-0.6zM134.4 580.6h0.6v0.6h-0.6zM134.5 565.2h0.6v0.6h-0.6zM170.2 561.6h0.6v0.6h-0.6zM151.1 583.1h0.6v0.6h-0.6zM130.7 570.7h0.6v0.6h-0.6zM158.7 563.5h0.6v0.6h-0.6zM153.1 562.8h0.6v0.6h-0.6zM139.0 582.8h0.6v0.6h-0.6zM144.9 562.7h0.6v0.6h-0.6zM170.6 548.9h0.6v0.6h-0.6zM161.0 583.4h0.6v0.6h-0.6zM143.2 583.7h0.6v0.6h-0.6zM162.4 545.7h0.6v0.6h-0.6zM131.1 576.3h0.6v0.6h-0.6zM166.2 544.5h0.6v0.6h-0.6zM138.9 583.4h0.6v0.6h-0.6zM131.4 568.3h0.6v0.6h-0.6zM168.2 574.0h0.6v0.6h-0.6zM142.2 562.2h0.6v0.6h-0.6zM155.3 582.8h0.6v0.6h-0.6zM135.1 581.5h0.6v0.6h-0.6zM137.6 582.2h0.6v0.6h-0.6zM162.5 554.5h0.6v0.6h-0.6zM161.1 554.3h0.6v0.6h-0.6zM132.5 577.2h0.6v0.6h-0.6zM137.0 581.9h0.6v0.6h-0.6zM161.3 581.9h0.6v0.6h-0.6zM131.7 579.4h0.6v0.6h-0.6zM159.1 563.9h0.6v0.6h-0.6zM161.8 551.0h0.6v0.6h-0.6zM162.2 550.5h0.6v0.6h-0.6zM132.5 577.6h0.6v0.6h-0.6zM161.5 557.0h0.6v0.6h-0.6zM147.4 563.1h0.6v0.6h-0.6zM165.3 543.9h0.6v0.6h-0.6zM149.8 563.4h0.6v0.6h-0.6zM142.3 563.5h0.6v0.6h-0.6zM141.5 583.2h0.6v0.6h-0.6zM132.9 578.8h0.6v0.6h-0.6zM170.3 562.8h0.6v0.6h-0.6zM144.1 583.5h0.6v0.6h-0.6zM132.2 566.2h0.6v0.6h-0.6zM163.9 580.1h0.6v0.6h-0.6zM168.9 549.3h0.6v0.6h-0.6zM161.4 557.6h0.6v0.6h-0.6zM169.8 571.8h0.6v0.6h-0.6zM164.5 579.6h0.6v0.6h-0.6zM162.3 549.1h0.6v0.6h-0.6zM163.6 550.4h0.6v0.6h-0.6zM160.9 546.6h0.6v0.6h-0.6zM163.4 550.0h0.6v0.6h-0.6zM130.9 578.7h0.6v0.6h-0.6zM131.6 576.1h0.6v0.6h-0.6zM159.6 560.5h0.6v0.6h-0.6zM155.8 561.8h0.6v0.6h-0.6zM169.9 551.8h0.6v0.6h-0.6zM130.5 575.9h0.6v0.6h-0.6zM142.3 583.0h0.6v0.6h-0.6zM156.9 562.4h0.6v0.6h-0.6zM169.6 561.6h0.6v0.6h-0.6zM163.6 543.9h0.6v0.6h-0.6zM132.8 578.9h0.6v0.6h-0.6zM158.4 563.2h0.6v0.6h-0.6zM131.3 575.2h0.6v0.6h-0.6zM158.2 583.1h0.6v0.6h-0.6zM131.9 577.0h0.6v0.6h-0.6zM134.2 580.9h0.6v0.6h-0.6zM132.1 578.2h0.6v0.6h-0.6zM130.1 573.3h0.6v0.6h-0.6zM164.8 581.3h0.6v0.6h-0.6zM154.2 563.1h0.6v0.6h-0.6zM151.3 563.1h0.6v0.6h-0.6zM134.6 581.2h0.6v0.6h-0.6zM169.3 568.8h0.6v0.6h-0.6zM145.0 583.3h0.6v0.6h-0.6zM163.3 544.6h0.6v0.6h-0.6zM146.9 583.0h0.6v0.6h-0.6zM132.4 569.2h0.6v0.6h-0.6zM161.3 552.9h0.6v0.6h-0.6zM140.6 582.8h0.6v0.6h-0.6zM161.1 558.7h0.6v0.6h-0.6zM144.1 563.2h0.6v0.6h-0.6zM162.3 551.1h0.6v0.6h-0.6zM147.4 562.8h0.6v0.6h-0.6zM130.0 575.5h0.6v0.6h-0.6zM132.4 566.4h0.6v0.6h-0.6zM144.9 584.8h0.6v0.6h-0.6zM169.5 552.6h0.6v0.6h-0.6zM159.5 562.1h0.6v0.6h-0.6zM164.1 581.8h0.6v0.6h-0.6zM160.8 554.9h0.6v0.6h-0.6zM159.8 560.6h0.6v0.6h-0.6zM143.2 563.1h0.6v0.6h-0.6zM162.7 581.1h0.6v0.6h-0.6zM154.1 562.5h0.6v0.6h-0.6zM131.5 577.1h0.6v0.6h-0.6zM153.7 563.0h0.6v0.6h-0.6zM162.6 550.6h0.6v0.6h-0.6zM149.8 563.1h0.6v0.6h-0.6zM162.3 545.7h0.6v0.6h-0.6zM165.9 578.9h0.6v0.6h-0.6zM146.8 584.5h0.6v0.6h-0.6zM131.9 569.7h0.6v0.6h-0.6zM159.9 561.8h0.6v0.6h-0.6zM167.5 578.1h0.6v0.6h-0.6zM135.4 582.3h0.6v0.6h-0.6zM142.3 584.0h0.6v0.6h-0.6zM136.7 563.9h0.6v0.6h-0.6zM137.0 581.9h0.6v0.6h-0.6zM154.1 562.5h0.6v0.6h-0.6zM154.4 584.9h0.6v0.6h-0.6zM156.6 584.7h0.6v0.6h-0.6zM163.4 555.3h0.6v0.6h-0.6zM161.7 556.4h0.6v0.6h-0.6zM162.8 544.7h0.6v0.6h-0.6zM132.9 567.4h0.6v0.6h-0.6zM170.9 561.6h0.6v0.6h-0.6zM161.2 559.3h0.6v0.6h-0.6zM153.3 583.7h0.6v0.6h-0.6zM136.7 582.8h0.6v0.6h-0.6zM171.2 556.9h0.6v0.6h-0.6zM161.0 557.5h0.6v0.6h-0.6zM170.4 554.2h0.6v0.6h-0.6zM169.6 559.1h0.6v0.6h-0.6zM169.8 560.3h0.6v0.6h-0.6zM131.4 580.1h0.6v0.6h-0.6zM162.1 555.1h0.6v0.6h-0.6zM169.3 568.8h0.6v0.6h-0.6zM135.4 582.3h0.6v0.6h-0.6zM161.2 546.7h0.6v0.6h-0.6zM132.1 579.7h0.6v0.6h-0.6zM160.9 547.2h0.6v0.6h-0.6zM166.1 544.6h0.6v0.6h-0.6zM135.8 564.2h0.6v0.6h-0.6zM162.2 558.4h0.6v0.6h-0.6zM140.6 583.4h0.6v0.6h-0.6zM144.9 584.7h0.6v0.6h-0.6zM152.6 563.3h0.6v0.6h-0.6zM164.2 543.9h0.6v0.6h-0.6zM162.6 552.4h0.6v0.6h-0.6zM129.6 572.7h0.6v0.6h-0.6zM131.6 570.3h0.6v0.6h-0.6zM131.3 568.3h0.6v0.6h-0.6zM169.0 575.2h0.6v0.6h-0.6zM155.4 562.1h0.6v0.6h-0.6zM144.0 562.5h0.6v0.6h-0.6zM167.5 545.9h0.6v0.6h-0.6zM170.8 560.3h0.6v0.6h-0.6zM155.1 562.5h0.6v0.6h-0.6zM131.0 571.8h0.6v0.6h-0.6zM150.5 563.2h0.6v0.6h-0.6zM162.2 550.0h0.6v0.6h-0.6zM132.0 569.8h0.6v0.6h-0.6zM160.6 547.0h0.6v0.6h-0.6zM169.0 550.6h0.6v0.6h-0.6zM153.4 585.2h0.6v0.6h-0.6zM135.6 583.7h0.6v0.6h-0.6zM133.6 579.4h0.6v0.6h-0.6zM169.0 573.4h0.6v0.6h-0.6zM159.5 564.3h0.6v0.6h-0.6zM153.6 562.2h0.6v0.6h-0.6zM162.3 544.9h0.6v0.6h-0.6zM130.6 575.4h0.6v0.6h-0.6zM139.4 563.1h0.6v0.6h-0.6zM155.5 563.0h0.6v0.6h-0.6zM159.0 583.0h0.6v0.6h-0.6zM169.6 552.6h0.6v0.6h-0.6zM158.4 584.0h0.6v0.6h-0.6zM154.3 583.1h0.6v0.6h-0.6zM138.6 564.4h0.6v0.6h-0.6zM169.8 562.8h0.6v0.6h-0.6zM147.4 562.4h0.6v0.6h-0.6zM134.6 565.4h0.6v0.6h-0.6zM134.4 565.1h0.6v0.6h-0.6zM161.8 549.9h0.6v0.6h-0.6zM171.2 552.5h0.6v0.6h-0.6zM131.5 575.7h0.6v0.6h-0.6zM163.2 549.5h0.6v0.6h-0.6zM167.6 575.4h0.6v0.6h-0.6zM161.1 554.3h0.6v0.6h-0.6zM133.3 579.6h0.6v0.6h-0.6zM159.8 561.7h0.6v0.6h-0.6zM151.1 583.0h0.6v0.6h-0.6zM131.7 580.0h0.6v0.6h-0.6zM154.3 583.1h0.6v0.6h-0.6zM130.2 577.1h0.6v0.6h-0.6zM160.7 559.1h0.6v0.6h-0.6zM159.3 562.6h0.6v0.6h-0.6zM150.0 583.9h0.6v0.6h-0.6zM141.2 562.3h0.6v0.6h-0.6zM144.1 583.6h0.6v0.6h-0.6zM131.5 573.3h0.6v0.6h-0.6zM161.3 553.6h0.6v0.6h-0.6zM170.3 549.6h0.6v0.6h-0.6zM162.4 552.4h0.6v0.6h-0.6zM162.5 544.4h0.6v0.6h-0.6zM167.6 577.2h0.6v0.6h-0.6zM149.8 562.3h0.6v0.6h-0.6zM159.1 563.8h0.6v0.6h-0.6zM169.6 573.6h0.6v0.6h-0.6zM164.3 580.6h0.6v0.6h-0.6zM162.2 555.1h0.6v0.6h-0.6zM132.2 568.6h0.6v0.6h-0.6zM155.7 561.4h0.6v0.6h-0.6zM170.1 569.9h0.6v0.6h-0.6zM147.8 585.5h0.6v0.6h-0.6zM164.2 579.3h0.6v0.6h-0.6zM170.7 567.8h0.6v0.6h-0.6zM164.3 579.4h0.6v0.6h-0.6zM138.4 563.4h0.6v0.6h-0.6zM161.5 548.1h0.6v0.6h-0.6zM132.5 579.5h0.6v0.6h-0.6zM169.9 547.8h0.6v0.6h-0.6zM166.7 579.6h0.6v0.6h-0.6zM145.0 583.1h0.6v0.6h-0.6zM131.2 572.3h0.6v0.6h-0.6zM133.0 566.7h0.6v0.6h-0.6zM170.3 558.0h0.6v0.6h-0.6zM154.3 583.7h0.6v0.6h-0.6zM160.6 555.6h0.6v0.6h-0.6zM165.8 578.8h0.6v0.6h-0.6zM132.0 578.2h0.6v0.6h-0.6zM171.1 567.9h0.6v0.6h-0.6zM168.0 574.7h0.6v0.6h-0.6zM145.7 562.2h0.6v0.6h-0.6zM162.4 551.8h0.6v0.6h-0.6zM163.3 545.4h0.6v0.6h-0.6zM169.3 550.5h0.6v0.6h-0.6zM135.5 582.1h0.6v0.6h-0.6zM162.0 552.3h0.6v0.6h-0.6zM141.5 583.0h0.6v0.6h-0.6zM160.2 559.0h0.6v0.6h-0.6zM142.2 562.6h0.6v0.6h-0.6zM169.8 567.7h0.6v0.6h-0.6zM140.5 563.9h0.6v0.6h-0.6zM160.9 556.3h0.6v0.6h-0.6zM162.0 552.3h0.6v0.6h-0.6zM161.0 547.2h0.6v0.6h-0.6zM162.8 544.7h0.6v0.6h-0.6zM135.1 564.7h0.6v0.6h-0.6zM158.7 563.4h0.6v0.6h-0.6zM149.8 563.3h0.6v0.6h-0.6zM131.1 576.8h0.6v0.6h-0.6zM162.2 544.8h0.6v0.6h-0.6zM151.1 584.5h0.6v0.6h-0.6zM169.5 569.8h0.6v0.6h-0.6zM169.1 549.9h0.6v0.6h-0.6zM161.2 559.8h0.6v0.6h-0.6zM131.1 573.3h0.6v0.6h-0.6zM158.4 563.1h0.6v0.6h-0.6zM169.6 547.2h0.6v0.6h-0.6zM136.6 563.7h0.6v0.6h-0.6zM130.6 573.3h0.6v0.6h-0.6zM152.6 563.1h0.6v0.6h-0.6zM155.3 561.6h0.6v0.6h-0.6zM130.8 571.7h0.6v0.6h-0.6zM131.9 566.9h0.6v0.6h-0.6zM145.7 562.8h0.6v0.6h-0.6zM169.7 561.6h0.6v0.6h-0.6zM132.7 578.9h0.6v0.6h-0.6zM132.4 578.6h0.6v0.6h-0.6zM145.7 562.3h0.6v0.6h-0.6zM160.2 546.1h0.6v0.6h-0.6zM169.7 564.1h0.6v0.6h-0.6zM133.8 565.5h0.6v0.6h-0.6zM151.9 563.6h0.6v0.6h-0.6zM156.2 582.7h0.6v0.6h-0.6zM130.6 574.9h0.6v0.6h-0.6zM139.8 582.8h0.6v0.6h-0.6zM172.0 561.6h0.6v0.6h-0.6zM161.8 549.9h0.6v0.6h-0.6zM153.3 583.6h0.6v0.6h-0.6zM158.9 582.6h0.6v0.6h-0.6zM134.0 564.3h0.6v0.6h-0.6zM169.6 549.8h0.6v0.6h-0.6zM143.2 562.9h0.6v0.6h-0.6zM133.7 580.5h0.6v0.6h-0.6zM130.7 572.3h0.6v0.6h-0.6zM148.2 562.6h0.6v0.6h-0.6zM168.7 575.0h0.6v0.6h-0.6zM169.3 550.5h0.6v0.6h-0.6zM132.6 566.5h0.6v0.6h-0.6zM162.6 580.9h0.6v0.6h-0.6zM153.2 563.2h0.6v0.6h-0.6zM161.5 546.9h0.6v0.6h-0.6zM169.7 562.8h0.6v0.6h-0.6zM131.9 577.4h0.6v0.6h-0.6zM151.9 563.5h0.6v0.6h-0.6zM156.0 562.4h0.6v0.6h-0.6zM131.3 574.3h0.6v0.6h-0.6zM132.6 581.5h0.6v0.6h-0.6zM146.8 585.9h0.6v0.6h-0.6zM169.7 550.4h0.6v0.6h-0.6zM134.8 582.0h0.6v0.6h-0.6zM148.2 563.3h0.6v0.6h-0.6zM171.0 559.1h0.6v0.6h-0.6zM164.6 579.8h0.6v0.6h-0.6zM141.4 563.7h0.6v0.6h-0.6zM131.2 576.2h0.6v0.6h-0.6zM157.6 584.9h0.6v0.6h-0.6zM170.0 555.1h0.6v0.6h-0.6zM135.7 583.4h0.6v0.6h-0.6zM164.0 542.7h0.6v0.6h-0.6zM169.7 567.7h0.6v0.6h-0.6zM147.4 563.5h0.6v0.6h-0.6zM169.4 551.9h0.6v0.6h-0.6zM163.6 581.1h0.6v0.6h-0.6zM139.1 582.5h0.6v0.6h-0.6zM169.2 573.5h0.6v0.6h-0.6zM145.9 583.8h0.6v0.6h-0.6zM159.0 546.8h0.6v0.6h-0.6zM142.0 560.3h0.6v0.6h-0.6zM169.2 571.7h0.6v0.6h-0.6zM162.4 552.4h0.6v0.6h-0.6zM131.8 573.3h0.6v0.6h-0.6zM161.4 559.3h0.6v0.6h-0.6zM143.2 582.9h0.6v0.6h-0.6zM143.2 562.6h0.6v0.6h-0.6zM141.5 582.7h0.6v0.6h-0.6zM170.6 560.3h0.6v0.6h-0.6zM162.4 580.6h0.6v0.6h-0.6zM131.2 576.2h0.6v0.6h-0.6zM169.3 554.2h0.6v0.6h-0.6zM171.9 564.1h0.6v0.6h-0.6zM131.2 574.3h0.6v0.6h-0.6zM160.0 583.3h0.6v0.6h-0.6zM131.9 577.9h0.6v0.6h-0.6zM169.9 558.0h0.6v0.6h-0.6zM155.7 561.4h0.6v0.6h-0.6zM149.8 562.3h0.6v0.6h-0.6zM145.0 583.0h0.6v0.6h-0.6zM144.0 584.8h0.6v0.6h-0.6zM134.1 565.9h0.6v0.6h-0.6zM169.7 576.5h0.6v0.6h-0.6zM137.6 582.3h0.6v0.6h-0.6zM160.1 557.9h0.6v0.6h-0.6zM156.4 583.8h0.6v0.6h-0.6zM133.5 580.1h0.6v0.6h-0.6zM142.2 562.1h0.6v0.6h-0.6zM139.1 582.5h0.6v0.6h-0.6zM147.8 584.7h0.6v0.6h-0.6zM164.0 544.9h0.6v0.6h-0.6zM156.3 583.3h0.6v0.6h-0.6zM145.9 583.3h0.6v0.6h-0.6zM165.2 579.3h0.6v0.6h-0.6zM143.2 583.3h0.6v0.6h-0.6zM161.3 552.2h0.6v0.6h-0.6zM170.8 566.6h0.6v0.6h-0.6zM133.9 581.1h0.6v0.6h-0.6zM164.1 543.6h0.6v0.6h-0.6zM160.2 558.5h0.6v0.6h-0.6zM161.3 581.8h0.6v0.6h-0.6zM132.1 570.9h0.6v0.6h-0.6zM130.6 574.4h0.6v0.6h-0.6zM169.8 561.6h0.6v0.6h-0.6zM167.1 544.9h0.6v0.6h-0.6zM143.2 562.9h0.6v0.6h-0.6zM158.4 563.9h0.6v0.6h-0.6zM148.9 584.5h0.6v0.6h-0.6zM161.2 545.4h0.6v0.6h-0.6zM131.7 569.1h0.6v0.6h-0.6zM162.1 551.1h0.6v0.6h-0.6zM162.2 557.2h0.6v0.6h-0.6zM132.1 571.5h0.6v0.6h-0.6zM131.5 573.8h0.6v0.6h-0.6zM145.9 583.5h0.6v0.6h-0.6zM171.1 551.7h0.6v0.6h-0.6zM159.2 583.5h0.6v0.6h-0.6zM134.7 563.7h0.6v0.6h-0.6zM169.8 571.8h0.6v0.6h-0.6zM160.6 582.3h0.6v0.6h-0.6zM163.7 545.3h0.6v0.6h-0.6zM162.9 543.9h0.6v0.6h-0.6zM131.9 576.5h0.6v0.6h-0.6zM136.2 582.1h0.6v0.6h-0.6zM154.9 561.4h0.6v0.6h-0.6zM130.3 578.9h0.6v0.6h-0.6zM162.7 551.2h0.6v0.6h-0.6zM130.7 576.4h0.6v0.6h-0.6zM163.7 560.5h0.6v0.6h-0.6zM167.3 545.4h0.6v0.6h-0.6zM171.3 569.0h0.6v0.6h-0.6zM127.9 568.1h0.6v0.6h-0.6zM161.6 562.5h0.6v0.6h-0.6zM170.9 541.3h0.6v0.6h-0.6zM158.2 587.6h0.6v0.6h-0.6zM170.3 551.8h0.6v0.6h-0.6zM149.9 556.1h0.6v0.6h-0.6zM160.1 560.7h0.6v0.6h-0.6zM134.0 564.4h0.6v0.6h-0.6zM150.0 585.5h0.6v0.6h-0.6zM173.5 543.2h0.6v0.6h-0.6zM131.9 577.8h0.6v0.6h-0.6zM171.7 551.6h0.6v0.6h-0.6zM171.7 572.3h0.6v0.6h-0.6zM144.0 561.9h0.6v0.6h-0.6zM155.0 562.3h0.6v0.6h-0.6zM144.8 562.1h0.6v0.6h-0.6zM160.7 562.1h0.6v0.6h-0.6zM142.3 563.2h0.6v0.6h-0.6zM145.7 587.0h0.6v0.6h-0.6zM171.7 547.9h0.6v0.6h-0.6zM148.9 587.3h0.6v0.6h-0.6zM168.6 542.9h0.6v0.6h-0.6zM172.1 564.1h0.6v0.6h-0.6zM158.5 543.1h0.6v0.6h-0.6zM160.0 561.8h0.6v0.6h-0.6zM171.8 547.9h0.6v0.6h-0.6zM163.1 556.7h0.6v0.6h-0.6zM172.1 559.1h0.6v0.6h-0.6zM138.3 562.7h0.6v0.6h-0.6zM158.0 543.7h0.6v0.6h-0.6zM167.5 579.2h0.6v0.6h-0.6zM167.4 579.1h0.6v0.6h-0.6zM138.0 553.3h0.6v0.6h-0.6zM130.2 573.9h0.6v0.6h-0.6zM136.9 585.1h0.6v0.6h-0.6zM123.8 564.5h0.6v0.6h-0.6zM144.7 589.3h0.6v0.6h-0.6zM171.4 565.4h0.6v0.6h-0.6zM149.0 560.0h0.6v0.6h-0.6zM169.2 545.2h0.6v0.6h-0.6zM135.8 560.9h0.6v0.6h-0.6zM159.9 565.7h0.6v0.6h-0.6zM161.0 561.6h0.6v0.6h-0.6zM142.2 562.0h0.6v0.6h-0.6zM174.9 553.0h0.6v0.6h-0.6zM134.5 584.3h0.6v0.6h-0.6zM136.5 583.5h0.6v0.6h-0.6zM164.5 552.1h0.6v0.6h-0.6zM152.5 559.9h0.6v0.6h-0.6zM164.4 563.8h0.6v0.6h-0.6zM158.8 563.6h0.6v0.6h-0.6zM132.9 564.5h0.6v0.6h-0.6zM171.7 557.9h0.6v0.6h-0.6zM166.9 544.2h0.6v0.6h-0.6zM142.3 583.6h0.6v0.6h-0.6zM173.8 560.3h0.6v0.6h-0.6zM151.3 557.8h0.6v0.6h-0.6zM165.7 559.7h0.6v0.6h-0.6zM162.8 585.5h0.6v0.6h-0.6zM158.9 582.7h0.6v0.6h-0.6zM169.9 574.6h0.6v0.6h-0.6zM161.8 564.3h0.6v0.6h-0.6zM161.1 559.8h0.6v0.6h-0.6zM154.5 585.3h0.6v0.6h-0.6zM138.9 583.7h0.6v0.6h-0.6zM161.2 563.1h0.6v0.6h-0.6zM172.8 570.4h0.6v0.6h-0.6zM130.2 567.1h0.6v0.6h-0.6zM156.3 562.3h0.6v0.6h-0.6zM170.4 567.8h0.6v0.6h-0.6zM169.2 548.0h0.6v0.6h-0.6zM172.5 554.9h0.6v0.6h-0.6zM172.0 543.0h0.6v0.6h-0.6zM174.1 546.3h0.6v0.6h-0.6zM163.4 561.8h0.6v0.6h-0.6zM172.2 571.4h0.6v0.6h-0.6zM145.9 583.7h0.6v0.6h-0.6zM144.0 585.1h0.6v0.6h-0.6zM169.9 573.7h0.6v0.6h-0.6zM149.9 558.9h0.6v0.6h-0.6zM142.8 587.9h0.6v0.6h-0.6zM174.5 557.8h0.6v0.6h-0.6zM131.6 562.9h0.6v0.6h-0.6zM160.9 566.9h0.6v0.6h-0.6zM162.3 555.9h0.6v0.6h-0.6zM158.5 544.1h0.6v0.6h-0.6zM161.2 560.4h0.6v0.6h-0.6zM134.9 561.6h0.6v0.6h-0.6zM126.9 574.0h0.6v0.6h-0.6zM143.1 584.3h0.6v0.6h-0.6zM146.7 587.2h0.6v0.6h-0.6zM170.2 560.3h0.6v0.6h-0.6zM169.3 544.2h0.6v0.6h-0.6zM130.0 571.6h0.6v0.6h-0.6zM149.0 562.8h0.6v0.6h-0.6zM158.7 546.7h0.6v0.6h-0.6zM136.4 563.0h0.6v0.6h-0.6zM137.2 562.0h0.6v0.6h-0.6zM158.2 587.4h0.6v0.6h-0.6zM151.1 584.8h0.6v0.6h-0.6zM153.0 557.2h0.6v0.6h-0.6zM128.6 563.9h0.6v0.6h-0.6zM149.8 560.6h0.6v0.6h-0.6zM130.9 570.2h0.6v0.6h-0.6zM166.9 542.8h0.6v0.6h-0.6zM163.6 587.2h0.6v0.6h-0.6zM142.1 561.7h0.6v0.6h-0.6zM142.7 557.8h0.6v0.6h-0.6zM171.2 559.1h0.6v0.6h-0.6zM133.2 560.5h0.6v0.6h-0.6zM169.4 574.4h0.6v0.6h-0.6zM168.3 546.6h0.6v0.6h-0.6zM170.5 572.9h0.6v0.6h-0.6zM165.5 542.5h0.6v0.6h-0.6zM165.6 584.3h0.6v0.6h-0.6zM172.6 556.8h0.6v0.6h-0.6zM171.7 576.4h0.6v0.6h-0.6zM156.7 585.3h0.6v0.6h-0.6zM175.6 549.5h0.6v0.6h-0.6zM155.4 560.0h0.6v0.6h-0.6zM162.6 543.3h0.6v0.6h-0.6zM158.7 563.5h0.6v0.6h-0.6zM170.1 547.0h0.6v0.6h-0.6zM169.1 548.1h0.6v0.6h-0.6zM167.3 577.9h0.6v0.6h-0.6zM171.4 540.8h0.6v0.6h-0.6zM169.8 570.9h0.6v0.6h-0.6zM159.4 547.0h0.6v0.6h-0.6zM172.9 553.2h0.6v0.6h-0.6zM144.9 584.6h0.6v0.6h-0.6zM172.5 574.6h0.6v0.6h-0.6zM136.9 560.8h0.6v0.6h-0.6zM160.9 544.3h0.6v0.6h-0.6zM167.3 544.6h0.6v0.6h-0.6zM144.9 585.2h0.6v0.6h-0.6zM144.7 588.1h0.6v0.6h-0.6zM136.3 562.4h0.6v0.6h-0.6zM151.3 561.4h0.6v0.6h-0.6zM159.7 544.1h0.6v0.6h-0.6zM127.2 572.6h0.6v0.6h-0.6zM170.1 544.5h0.6v0.6h-0.6zM150.0 586.5h0.6v0.6h-0.6zM159.9 543.4h0.6v0.6h-0.6zM166.0 543.4h0.6v0.6h-0.6zM129.0 574.5h0.6v0.6h-0.6zM138.2 583.0h0.6v0.6h-0.6zM155.5 560.5h0.6v0.6h-0.6zM161.7 545.1h0.6v0.6h-0.6zM148.2 559.3h0.6v0.6h-0.6zM166.2 561.1h0.6v0.6h-0.6zM161.1 542.4h0.6v0.6h-0.6zM164.3 562.0h0.6v0.6h-0.6zM134.5 563.4h0.6v0.6h-0.6zM170.4 546.9h0.6v0.6h-0.6zM162.0 557.8h0.6v0.6h-0.6zM154.0 556.1h0.6v0.6h-0.6zM162.1 544.7h0.6v0.6h-0.6zM163.2 559.7h0.6v0.6h-0.6zM130.8 573.8h0.6v0.6h-0.6zM169.0 543.5h0.6v0.6h-0.6zM162.2 545.6h0.6v0.6h-0.6zM128.7 576.9h0.6v0.6h-0.6zM127.5 573.3h0.6v0.6h-0.6zM170.3 566.6h0.6v0.6h-0.6zM170.9 541.3h0.6v0.6h-0.6zM174.6 562.9h0.6v0.6h-0.6zM166.6 553.0h0.6v0.6h-0.6zM145.3 557.2h0.6v0.6h-0.6zM176.3 568.3h0.6v0.6h-0.6zM130.1 571.1h0.6v0.6h-0.6zM135.8 564.0h0.6v0.6h-0.6zM160.4 566.3h0.6v0.6h-0.6zM141.2 585.7h0.6v0.6h-0.6zM152.5 560.9h0.6v0.6h-0.6zM128.8 570.9h0.6v0.6h-0.6zM163.9 550.2h0.6v0.6h-0.6zM130.4 580.0h0.6v0.6h-0.6zM170.9 570.1h0.6v0.6h-0.6zM172.0 572.3h0.6v0.6h-0.6zM148.2 561.6h0.6v0.6h-0.6zM162.1 544.7h0.6v0.6h-0.6zM164.8 584.9h0.6v0.6h-0.6zM131.7 585.2h0.6v0.6h-0.6zM125.1 577.2h0.6v0.6h-0.6zM130.0 568.6h0.6v0.6h-0.6zM131.9 581.3h0.6v0.6h-0.6zM162.2 543.9h0.6v0.6h-0.6zM158.6 546.7h0.6v0.6h-0.6zM178.3 551.8h0.6v0.6h-0.6zM129.7 575.0h0.6v0.6h-0.6zM171.6 571.3h0.6v0.6h-0.6zM149.8 559.2h0.6v0.6h-0.6zM151.9 562.1h0.6v0.6h-0.6zM174.0 548.1h0.6v0.6h-0.6zM141.1 586.5h0.6v0.6h-0.6zM164.8 543.7h0.6v0.6h-0.6zM143.0 560.5h0.6v0.6h-0.6zM137.8 559.4h0.6v0.6h-0.6zM129.8 572.7h0.6v0.6h-0.6zM151.1 585.7h0.6v0.6h-0.6zM153.0 561.6h0.6v0.6h-0.6zM130.8 575.3h0.6v0.6h-0.6zM131.8 563.2h0.6v0.6h-0.6zM169.1 546.1h0.6v0.6h-0.6zM128.5 573.3h0.6v0.6h-0.6zM163.7 559.3h0.6v0.6h-0.6zM151.3 556.5h0.6v0.6h-0.6zM152.3 585.7h0.6v0.6h-0.6zM153.3 584.3h0.6v0.6h-0.6zM138.8 583.9h0.6v0.6h-0.6zM137.8 584.7h0.6v0.6h-0.6zM147.9 584.1h0.6v0.6h-0.6zM129.8 564.6h0.6v0.6h-0.6zM132.0 563.5h0.6v0.6h-0.6zM153.2 558.7h0.6v0.6h-0.6zM134.4 581.5h0.6v0.6h-0.6zM159.1 545.4h0.6v0.6h-0.6zM165.8 540.4h0.6v0.6h-0.6zM171.8 552.4h0.6v0.6h-0.6zM149.8 561.9h0.6v0.6h-0.6zM129.8 571.6h0.6v0.6h-0.6zM149.0 562.1h0.6v0.6h-0.6zM156.1 561.4h0.6v0.6h-0.6zM170.9 564.1h0.6v0.6h-0.6zM173.5 565.5h0.6v0.6h-0.6zM151.9 562.2h0.6v0.6h-0.6zM171.2 561.6h0.6v0.6h-0.6zM172.6 539.4h0.6v0.6h-0.6zM127.5 570.7h0.6v0.6h-0.6zM143.2 562.7h0.6v0.6h-0.6zM133.6 582.6h0.6v0.6h-0.6zM152.2 584.4h0.6v0.6h-0.6zM171.4 550.2h0.6v0.6h-0.6zM160.6 582.2h0.6v0.6h-0.6zM170.6 572.0h0.6v0.6h-0.6zM153.1 562.4h0.6v0.6h-0.6zM163.5 550.8h0.6v0.6h-0.6zM131.7 577.5h0.6v0.6h-0.6zM125.4 568.4h0.6v0.6h-0.6zM135.3 562.7h0.6v0.6h-0.6zM138.1 583.3h0.6v0.6h-0.6zM133.9 582.2h0.6v0.6h-0.6zM170.9 551.0h0.6v0.6h-0.6zM140.9 559.4h0.6v0.6h-0.6zM146.5 561.8h0.6v0.6h-0.6zM130.9 576.8h0.6v0.6h-0.6zM172.3 569.2h0.6v0.6h-0.6zM166.2 552.4h0.6v0.6h-0.6zM169.1 578.2h0.6v0.6h-0.6zM170.2 549.0h0.6v0.6h-0.6zM169.8 551.9h0.6v0.6h-0.6zM170.1 551.8h0.6v0.6h-0.6zM153.1 558.1h0.6v0.6h-0.6zM165.7 552.9h0.6v0.6h-0.6zM142.0 586.8h0.6v0.6h-0.6zM171.1 547.3h0.6v0.6h-0.6zM131.0 578.6h0.6v0.6h-0.6zM150.0 588.6h0.6v0.6h-0.6zM145.8 585.8h0.6v0.6h-0.6zM170.3 565.4h0.6v0.6h-0.6zM132.6 583.9h0.6v0.6h-0.6zM145.7 562.9h0.6v0.6h-0.6zM154.5 585.5h0.6v0.6h-0.6zM128.9 567.5h0.6v0.6h-0.6zM170.1 550.4h0.6v0.6h-0.6zM130.5 568.8h0.6v0.6h-0.6zM166.9 552.0h0.6v0.6h-0.6zM172.3 546.9h0.6v0.6h-0.6zM142.2 584.8h0.6v0.6h-0.6zM136.4 562.9h0.6v0.6h-0.6zM127.0 571.1h0.6v0.6h-0.6zM170.7 577.0h0.6v0.6h-0.6zM173.6 568.1h0.6v0.6h-0.6zM127.2 560.7h0.6v0.6h-0.6zM161.9 542.2h0.6v0.6h-0.6zM164.3 554.0h0.6v0.6h-0.6zM154.9 559.8h0.6v0.6h-0.6zM162.2 555.9h0.6v0.6h-0.6zM163.5 543.6h0.6v0.6h-0.6zM160.4 562.6h0.6v0.6h-0.6zM137.2 556.3h0.6v0.6h-0.6zM161.9 560.0h0.6v0.6h-0.6zM157.4 584.0h0.6v0.6h-0.6zM144.0 584.1h0.6v0.6h-0.6zM163.4 553.2h0.6v0.6h-0.6zM159.7 547.2h0.6v0.6h-0.6zM160.4 546.2h0.6v0.6h-0.6zM169.0 547.5h0.6v0.6h-0.6zM170.5 571.0h0.6v0.6h-0.6zM162.1 581.6h0.6v0.6h-0.6zM174.4 566.8h0.6v0.6h-0.6zM128.3 572.6h0.6v0.6h-0.6zM141.3 562.3h0.6v0.6h-0.6zM157.5 584.2h0.6v0.6h-0.6zM147.7 589.9h0.6v0.6h-0.6zM171.2 559.1h0.6v0.6h-0.6zM138.2 561.7h0.6v0.6h-0.6zM161.3 546.8h0.6v0.6h-0.6zM159.2 547.0h0.6v0.6h-0.6zM133.0 565.8h0.6v0.6h-0.6zM168.3 578.7h0.6v0.6h-0.6zM147.9 584.2h0.6v0.6h-0.6zM164.1 543.6h0.6v0.6h-0.6zM161.9 558.9h0.6v0.6h-0.6zM171.5 577.4h0.6v0.6h-0.6zM140.1 561.2h0.6v0.6h-0.6zM128.8 572.7h0.6v0.6h-0.6zM130.2 577.6h0.6v0.6h-0.6zM161.9 585.7h0.6v0.6h-0.6zM171.8 552.4h0.6v0.6h-0.6zM154.3 583.9h0.6v0.6h-0.6zM130.6 575.9h0.6v0.6h-0.6zM173.6 562.9h0.6v0.6h-0.6z" fill="#000" fill-opacity="0.6"/>
<path d="M148.7 561.0h0.6v0.6h-0.6zM125.3 563.7h0.6v0.6h-0.6zM135.2 558.2h0.6v0.6h-0.6zM156.1 559.2h0.6v0.6h-0.6zM138.1 557.9h0.6v0.6h-0.6zM154.0 561.9h0.6v0.6h-0.6zM130.7 561.0h0.6v0.6h-0.6zM153.8 561.4h0.6v0.6h-0.6zM138.4 559.3h0.6v0.6h-0.6zM138.9 560.1h0.6v0.6h-0.6zM149.2 565.3h0.6v0.6h-0.6zM144.1 560.3h0.6v0.6h-0.6zM134.8 561.0h0.6v0.6h-0.6zM160.2 556.3h0.6v0.6h-0.6zM143.6 555.0h0.6v0.6h-0.6zM135.3 560.6h0.6v0.6h-0.6zM143.0 554.8h0.6v0.6h-0.6zM148.8 560.0h0.6v0.6h-0.6zM150.6 559.7h0.6v0.6h-0.6zM142.9 559.6h0.6v0.6h-0.6zM141.7 561.3h0.6v0.6h-0.6zM150.3 560.5h0.6v0.6h-0.6zM155.7 553.0h0.6v0.6h-0.6zM137.6 560.2h0.6v0.6h-0.6zM151.5 566.4h0.6v0.6h-0.6zM144.3 553.8h0.6v0.6h-0.6zM149.7 568.2h0.6v0.6h-0.6zM144.4 564.8h0.6v0.6h-0.6zM152.4 556.5h0.6v0.6h-0.6zM165.0 556.9h0.6v0.6h-0.6zM147.8 558.7h0.6v0.6h-0.6zM142.7 561.9h0.6v0.6h-0.6zM146.0 560.4h0.6v0.6h-0.6zM142.8 559.0h0.6v0.6h-0.6zM141.2 559.5h0.6v0.6h-0.6zM133.9 562.6h0.6v0.6h-0.6zM146.8 561.6h0.6v0.6h-0.6zM163.6 556.6h0.6v0.6h-0.6zM148.1 558.8h0.6v0.6h-0.6zM146.7 553.8h0.6v0.6h-0.6zM161.1 561.9h0.6v0.6h-0.6zM145.2 564.1h0.6v0.6h-0.6zM146.7 563.6h0.6v0.6h-0.6zM161.7 555.1h0.6v0.6h-0.6zM143.3 556.8h0.6v0.6h-0.6zM149.6 561.2h0.6v0.6h-0.6zM151.7 565.0h0.6v0.6h-0.6zM141.6 558.6h0.6v0.6h-0.6zM156.0 564.1h0.6v0.6h-0.6zM139.2 561.1h0.6v0.6h-0.6zM137.5 561.7h0.6v0.6h-0.6zM148.0 563.6h0.6v0.6h-0.6zM143.7 558.9h0.6v0.6h-0.6zM132.3 568.1h0.6v0.6h-0.6zM156.2 557.0h0.6v0.6h-0.6zM143.8 558.6h0.6v0.6h-0.6zM136.8 562.4h0.6v0.6h-0.6zM150.5 556.2h0.6v0.6h-0.6zM161.3 564.6h0.6v0.6h-0.6zM143.5 561.2h0.6v0.6h-0.6zM137.2 557.6h0.6v0.6h-0.6zM153.1 559.7h0.6v0.6h-0.6zM138.3 564.5h0.6v0.6h-0.6zM141.0 559.5h0.6v0.6h-0.6zM155.9 558.3h0.6v0.6h-0.6zM150.3 560.5h0.6v0.6h-0.6zM144.5 562.4h0.6v0.6h-0.6zM168.3 558.3h0.6v0.6h-0.6zM129.8 566.4h0.6v0.6h-0.6zM146.9 553.0h0.6v0.6h-0.6zM147.4 560.1h0.6v0.6h-0.6zM148.7 564.8h0.6v0.6h-0.6zM129.0 563.2h0.6v0.6h-0.6zM155.0 559.8h0.6v0.6h-0.6zM140.5 559.1h0.6v0.6h-0.6zM151.1 558.7h0.6v0.6h-0.6zM130.3 566.2h0.6v0.6h-0.6zM146.1 562.7h0.6v0.6h-0.6zM134.7 559.1h0.6v0.6h-0.6zM150.3 558.2h0.6v0.6h-0.6zM144.1 563.6h0.6v0.6h-0.6zM161.3 558.9h0.6v0.6h-0.6zM127.5 561.4h0.6v0.6h-0.6zM145.0 564.9h0.6v0.6h-0.6zM147.5 557.2h0.6v0.6h-0.6zM149.6 560.4h0.6v0.6h-0.6zM148.2 562.4h0.6v0.6h-0.6zM144.4 559.7h0.6v0.6h-0.6zM149.7 561.4h0.6v0.6h-0.6zM155.8 553.4h0.6v0.6h-0.6zM156.2 558.4h0.6v0.6h-0.6zM143.6 567.3h0.6v0.6h-0.6zM147.7 557.9h0.6v0.6h-0.6zM144.6 562.2h0.6v0.6h-0.6zM134.2 558.1h0.6v0.6h-0.6zM144.8 563.5h0.6v0.6h-0.6zM142.0 564.0h0.6v0.6h-0.6zM160.2 560.6h0.6v0.6h-0.6zM149.7 561.8h0.6v0.6h-0.6zM140.1 560.7h0.6v0.6h-0.6zM150.8 562.4h0.6v0.6h-0.6zM137.7 563.6h0.6v0.6h-0.6zM136.7 559.0h0.6v0.6h-0.6zM134.4 560.1h0.6v0.6h-0.6zM148.9 561.4h0.6v0.6h-0.6zM148.6 560.8h0.6v0.6h-0.6zM152.2 562.6h0.6v0.6h-0.6zM154.0 560.3h0.6v0.6h-0.6zM148.6 558.0h0.6v0.6h-0.6zM162.9 569.2h0.6v0.6h-0.6zM154.9 557.7h0.6v0.6h-0.6zM131.4 561.4h0.6v0.6h-0.6zM129.3 564.2h0.6v0.6h-0.6zM149.7 565.8h0.6v0.6h-0.6zM164.7 562.8h0.6v0.6h-0.6zM131.0 563.1h0.6v0.6h-0.6zM151.8 564.2h0.6v0.6h-0.6zM137.6 562.8h0.6v0.6h-0.6zM135.0 559.1h0.6v0.6h-0.6zM149.6 555.3h0.6v0.6h-0.6zM145.3 562.9h0.6v0.6h-0.6zM144.6 561.0h0.6v0.6h-0.6zM146.8 560.3h0.6v0.6h-0.6zM143.3 559.0h0.6v0.6h-0.6zM141.8 557.4h0.6v0.6h-0.6zM155.1 564.1h0.6v0.6h-0.6zM143.0 563.6h0.6v0.6h-0.6zM154.1 558.8h0.6v0.6h-0.6zM136.8 565.8h0.6v0.6h-0.6zM137.8 562.3h0.6v0.6h-0.6zM146.0 560.2h0.6v0.6h-0.6zM137.6 562.9h0.6v0.6h-0.6zM152.7 566.8h0.6v0.6h-0.6zM138.6 562.1h0.6v0.6h-0.6zM153.9 556.5h0.6v0.6h-0.6zM125.3 558.6h0.6v0.6h-0.6zM150.8 565.4h0.6v0.6h-0.6zM137.5 560.6h0.6v0.6h-0.6zM139.0 550.7h0.6v0.6h-0.6zM143.9 561.4h0.6v0.6h-0.6zM154.3 564.6h0.6v0.6h-0.6zM143.9 556.2h0.6v0.6h-0.6zM138.1 567.4h0.6v0.6h-0.6zM152.4 560.6h0.6v0.6h-0.6zM148.8 559.2h0.6v0.6h-0.6zM131.1 565.8h0.6v0.6h-0.6zM156.5 558.7h0.6v0.6h-0.6zM151.1 561.2h0.6v0.6h-0.6zM145.1 560.4h0.6v0.6h-0.6zM143.1 555.7h0.6v0.6h-0.6zM135.2 555.5h0.6v0.6h-0.6zM148.0 562.5h0.6v0.6h-0.6zM144.9 559.3h0.6v0.6h-0.6zM147.7 563.7h0.6v0.6h-0.6zM134.9 567.8h0.6v0.6h-0.6zM134.6 561.1h0.6v0.6h-0.6zM148.8 558.8h0.6v0.6h-0.6zM147.3 558.8h0.6v0.6h-0.6zM163.8 558.3h0.6v0.6h-0.6zM146.3 563.1h0.6v0.6h-0.6zM149.7 559.0h0.6v0.6h-0.6zM151.6 561.0h0.6v0.6h-0.6zM153.4 563.0h0.6v0.6h-0.6zM147.3 558.7h0.6v0.6h-0.6zM135.5 554.3h0.6v0.6h-0.6zM144.1 562.3h0.6v0.6h-0.6zM145.5 567.5h0.6v0.6h-0.6zM140.7 564.4h0.6v0.6h-0.6zM138.9 558.9h0.6v0.6h-0.6zM152.1 559.8h0.6v0.6h-0.6zM149.6 558.2h0.6v0.6h-0.6zM144.1 563.5h0.6v0.6h-0.6zM143.4 560.0h0.6v0.6h-0.6zM145.3 564.4h0.6v0.6h-0.6zM141.2 560.3h0.6v0.6h-0.6zM151.6 558.9h0.6v0.6h-0.6zM141.8 559.9h0.6v0.6h-0.6zM155.8 564.7h0.6v0.6h-0.6zM149.0 565.4h0.6v0.6h-0.6zM147.6 563.3h0.6v0.6h-0.6zM145.7 557.0h0.6v0.6h-0.6zM152.6 555.9h0.6v0.6h-0.6zM148.4 556.9h0.6v0.6h-0.6zM142.3 565.2h0.6v0.6h-0.6zM141.9 562.2h0.6v0.6h-0.6zM152.3 560.9h0.6v0.6h-0.6zM140.3 562.0h0.6v0.6h-0.6zM146.1 556.1h0.6v0.6h-0.6zM150.8 561.4h0.6v0.6h-0.6zM153.4 561.2h0.6v0.6h-0.6zM149.8 555.5h0.6v0.6h-0.6zM142.9 557.2h0.6v0.6h-0.6zM155.5 567.2h0.6v0.6h-0.6zM151.2 558.3h0.6v0.6h-0.6zM143.5 560.1h0.6v0.6h-0.6zM144.5 561.2h0.6v0.6h-0.6zM149.6 561.8h0.6v0.6h-0.6zM136.7 558.8h0.6v0.6h-0.6zM128.7 564.8h0.6v0.6h-0.6zM161.4 564.6h0.6v0.6h-0.6zM166.6 545.7h0.6v0.6h-0.6zM166.1 547.0h0.6v0.6h-0.6zM166.1 548.4h0.6v0.6h-0.6zM162.2 545.3h0.6v0.6h-0.6zM166.7 544.6h0.6v0.6h-0.6zM167.7 546.6h0.6v0.6h-0.6zM164.8 550.9h0.6v0.6h-0.6zM163.4 550.7h0.6v0.6h-0.6zM166.6 541.9h0.6v0.6h-0.6zM170.1 544.0h0.6v0.6h-0.6zM163.9 546.6h0.6v0.6h-0.6zM165.0 549.9h0.6v0.6h-0.6zM166.2 545.6h0.6v0.6h-0.6zM157.8 543.4h0.6v0.6h-0.6zM163.4 552.8h0.6v0.6h-0.6zM161.5 547.2h0.6v0.6h-0.6zM158.9 551.9h0.6v0.6h-0.6zM161.5 550.6h0.6v0.6h-0.6zM167.3 547.9h0.6v0.6h-0.6zM162.3 547.1h0.6v0.6h-0.6zM164.3 546.0h0.6v0.6h-0.6zM160.2 558.1h0.6v0.6h-0.6zM165.8 544.9h0.6v0.6h-0.6zM171.4 546.3h0.6v0.6h-0.6zM164.9 547.8h0.6v0.6h-0.6zM171.3 549.0h0.6v0.6h-0.6zM164.7 547.8h0.6v0.6h-0.6zM159.1 545.5h0.6v0.6h-0.6zM168.8 539.5h0.6v0.6h-0.6zM160.4 547.8h0.6v0.6h-0.6zM161.8 552.9h0.6v0.6h-0.6zM165.8 548.4h0.6v0.6h-0.6zM167.1 552.0h0.6v0.6h-0.6zM165.3 544.8h0.6v0.6h-0.6zM164.3 551.1h0.6v0.6h-0.6zM166.7 548.5h0.6v0.6h-0.6zM169.8 553.3h0.6v0.6h-0.6zM156.6 551.2h0.6v0.6h-0.6zM166.0 550.2h0.6v0.6h-0.6zM154.1 547.0h0.6v0.6h-0.6zM170.4 555.0h0.6v0.6h-0.6zM169.7 542.6h0.6v0.6h-0.6zM163.4 551.6h0.6v0.6h-0.6zM167.3 543.5h0.6v0.6h-0.6zM162.1 545.2h0.6v0.6h-0.6zM163.7 552.3h0.6v0.6h-0.6zM162.5 548.1h0.6v0.6h-0.6zM165.4 546.9h0.6v0.6h-0.6zM159.0 549.1h0.6v0.6h-0.6zM169.5 547.5h0.6v0.6h-0.6zM168.9 552.4h0.6v0.6h-0.6zM159.9 550.8h0.6v0.6h-0.6zM168.7 545.6h0.6v0.6h-0.6zM164.5 549.2h0.6v0.6h-0.6zM168.2 548.7h0.6v0.6h-0.6zM165.5 553.4h0.6v0.6h-0.6zM165.1 546.7h0.6v0.6h-0.6zM163.3 547.3h0.6v0.6h-0.6zM166.1 551.1h0.6v0.6h-0.6zM162.5 549.4h0.6v0.6h-0.6zM163.0 550.0h0.6v0.6h-0.6zM161.7 550.4h0.6v0.6h-0.6zM171.2 547.5h0.6v0.6h-0.6zM165.1 547.0h0.6v0.6h-0.6zM167.6 542.6h0.6v0.6h-0.6zM171.5 545.8h0.6v0.6h-0.6zM164.4 548.2h0.6v0.6h-0.6zM165.5 546.9h0.6v0.6h-0.6zM162.9 545.9h0.6v0.6h-0.6zM165.5 544.7h0.6v0.6h-0.6zM165.2 549.7h0.6v0.6h-0.6zM166.2 550.3h0.6v0.6h-0.6zM164.6 548.2h0.6v0.6h-0.6zM168.1 546.4h0.6v0.6h-0.6zM164.0 545.0h0.6v0.6h-0.6zM168.0 552.8h0.6v0.6h-0.6zM159.2 549.7h0.6v0.6h-0.6zM165.6 550.4h0.6v0.6h-0.6zM166.4 549.7h0.6v0.6h-0.6zM172.0 540.7h0.6v0.6h-0.6zM162.5 552.0h0.6v0.6h-0.6zM165.3 550.5h0.6v0.6h-0.6zM166.5 551.8h0.6v0.6h-0.6zM162.9 551.3h0.6v0.6h-0.6zM164.8 552.6h0.6v0.6h-0.6zM164.6 550.3h0.6v0.6h-0.6zM161.7 551.7h0.6v0.6h-0.6zM161.3 553.4h0.6v0.6h-0.6zM171.0 552.5h0.6v0.6h-0.6zM164.4 541.6h0.6v0.6h-0.6zM156.7 547.8h0.6v0.6h-0.6zM170.5 544.2h0.6v0.6h-0.6zM166.5 545.5h0.6v0.6h-0.6zM161.2 543.4h0.6v0.6h-0.6zM162.7 547.4h0.6v0.6h-0.6zM160.2 539.4h0.6v0.6h-0.6zM162.0 547.9h0.6v0.6h-0.6zM161.8 549.3h0.6v0.6h-0.6zM161.3 545.9h0.6v0.6h-0.6zM159.4 550.6h0.6v0.6h-0.6zM163.7 546.4h0.6v0.6h-0.6zM167.6 553.9h0.6v0.6h-0.6zM163.0 546.7h0.6v0.6h-0.6zM169.7 544.7h0.6v0.6h-0.6zM160.8 546.1h0.6v0.6h-0.6zM161.5 551.1h0.6v0.6h-0.6zM155.4 548.5h0.6v0.6h-0.6zM166.3 545.3h0.6v0.6h-0.6zM165.0 550.4h0.6v0.6h-0.6zM163.4 543.7h0.6v0.6h-0.6zM165.2 550.8h0.6v0.6h-0.6zM160.9 546.9h0.6v0.6h-0.6zM166.5 549.1h0.6v0.6h-0.6zM157.4 550.5h0.6v0.6h-0.6zM162.8 544.7h0.6v0.6h-0.6zM169.7 545.2h0.6v0.6h-0.6zM162.8 548.4h0.6v0.6h-0.6zM168.3 551.0h0.6v0.6h-0.6zM161.4 550.4h0.6v0.6h-0.6zM160.7 552.3h0.6v0.6h-0.6z" fill="#000" fill-opacity="0.5"/>
<path d="M132.4,572.0 L132.5,571.5 L132.6,571.0 L132.7,570.5 L132.8,569.9 L132.9,569.4 L133.0,568.8 L133.2,568.3 L133.5,567.7 L133.8,567.2 L134.1,566.8 L134.5,566.4 L135.0,566.0 L135.6,565.7 L136.3,565.4 L137.0,565.2 L137.8,565.0 L138.7,564.8 L139.6,564.7 L140.5,564.6 L141.5,564.5 L142.4,564.4 L143.3,564.3 L144.2,564.2 L145.0,564.1 L145.8,564.0 L146.6,564.0 L147.4,564.0 L148.2,564.0 L149.0,564.0 L149.8,564.0 L150.5,564.0 L151.2,564.0 L151.9,564.0 L152.6,564.0 L153.2,564.0 L153.8,563.9 L154.3,563.8 L154.8,563.8 L155.2,563.7 L155.7,563.6 L156.0,563.5 L156.4,563.4 L156.7,563.3 L157.0,563.2 L157.3,563.0 L157.6,562.8 L157.8,562.6 L158.1,562.3 L158.3,562.0 L158.6,561.6 L158.8,561.2 L158.9,560.8 L159.1,560.3 L159.2,559.9 L159.4,559.4 L159.5,558.9 L159.6,558.3 L159.7,557.8 L159.9,557.2 L160.0,556.7 L160.1,556.1 L160.2,555.5 L160.3,554.9 L160.4,554.2 L160.5,553.5 L160.6,552.8 L160.7,552.2 L160.8,551.5 L160.9,550.9 L161.1,550.3 L161.2,549.7 L161.4,549.2 L161.6,548.7 L161.8,548.3 L162.1,547.9 L162.3,547.5 L162.6,547.1 L162.8,546.7 L163.1,546.4 L163.4,546.1 L163.7,545.9 L164.0,545.7 L164.2,545.6 L164.5,545.5 L164.8,545.5 L165.1,545.5 L165.4,545.6 L165.7,545.7 L166.0,545.8 L166.3,546.0 L166.6,546.3 L166.8,546.5 L167.1,546.8 L167.4,547.2 L167.6,547.6 L167.8,548.0 L168.0,548.5 L168.1,548.9 L168.3,549.5 L168.4,550.0 L168.5,550.7 L168.6,551.3 L168.7,552.0 L168.8,552.7 L168.9,553.5 L168.9,554.3 L169.0,555.1 L169.0,556.0 L169.0,557.0 L169.1,558.0 L169.1,559.2 L169.1,560.3 L169.2,561.6 L169.2,562.8 L169.1,564.1 L169.1,565.3 L169.0,566.5 L169.0,567.7 L168.8,568.7 L168.7,569.7 L168.5,570.6 L168.3,571.4 L168.1,572.3 L167.9,573.0 L167.6,573.8 L167.3,574.5 L167.0,575.1 L166.7,575.8 L166.3,576.4 L165.9,576.9 L165.5,577.5 L165.0,578.0 L164.5,578.5 L164.0,579.0 L163.4,579.4 L162.8,579.8 L162.2,580.1 L161.5,580.5 L160.8,580.8 L160.1,581.1 L159.4,581.3 L158.6,581.6 L157.8,581.8 L157.0,582.0 L156.1,582.2 L155.2,582.3 L154.2,582.4 L153.2,582.5 L152.1,582.6 L151.1,582.6 L150.0,582.6 L148.9,582.6 L147.9,582.6 L146.9,582.6 L145.9,582.5 L145.0,582.5 L144.1,582.5 L143.3,582.4 L142.4,582.3 L141.6,582.2 L140.7,582.1 L139.9,582.0 L139.2,581.9 L138.4,581.8 L137.8,581.6 L137.1,581.4 L136.5,581.2 L136.0,581.0 L135.5,580.8 L135.1,580.5 L134.8,580.2 L134.5,579.9 L134.2,579.6 L134.0,579.2 L133.8,578.9 L133.6,578.5 L133.4,578.1 L133.3,577.8 L133.1,577.4 L133.0,577.0 L132.9,576.6 L132.7,576.2 L132.6,575.8 L132.5,575.4 L132.4,575.0 L132.3,574.6 L132.3,574.2 L132.3,573.8 L132.3,573.3 L132.3,572.9 L132.3,572.5Z" fill="none" stroke="#000" stroke-width="3.4" stroke-opacity="0.72" filter="url(#bl)"/>
<path d="M132.4,572.0 L132.5,571.5 L132.6,571.0 L132.7,570.5 L132.8,569.9 L132.9,569.4 L133.0,568.8 L133.2,568.3 L133.5,567.7 L133.8,567.2 L134.1,566.8 L134.5,566.4 L135.0,566.0 L135.6,565.7 L136.3,565.4 L137.0,565.2 L137.8,565.0 L138.7,564.8 L139.6,564.7 L140.5,564.6 L141.5,564.5 L142.4,564.4 L143.3,564.3 L144.2,564.2 L145.0,564.1 L145.8,564.0 L146.6,564.0 L147.4,564.0 L148.2,564.0 L149.0,564.0 L149.8,564.0 L150.5,564.0 L151.2,564.0 L151.9,564.0 L152.6,564.0 L153.2,564.0 L153.8,563.9 L154.3,563.8 L154.8,563.8 L155.2,563.7 L155.7,563.6 L156.0,563.5 L156.4,563.4 L156.7,563.3 L157.0,563.2 L157.3,563.0 L157.6,562.8 L157.8,562.6 L158.1,562.3 L158.3,562.0 L158.6,561.6 L158.8,561.2 L158.9,560.8 L159.1,560.3 L159.2,559.9 L159.4,559.4 L159.5,558.9 L159.6,558.3 L159.7,557.8 L159.9,557.2 L160.0,556.7 L160.1,556.1 L160.2,555.5 L160.3,554.9 L160.4,554.2 L160.5,553.5 L160.6,552.8 L160.7,552.2 L160.8,551.5 L160.9,550.9 L161.1,550.3 L161.2,549.7 L161.4,549.2 L161.6,548.7 L161.8,548.3 L162.1,547.9 L162.3,547.5 L162.6,547.1 L162.8,546.7 L163.1,546.4 L163.4,546.1 L163.7,545.9 L164.0,545.7 L164.2,545.6 L164.5,545.5 L164.8,545.5 L165.1,545.5 L165.4,545.6 L165.7,545.7 L166.0,545.8 L166.3,546.0 L166.6,546.3 L166.8,546.5 L167.1,546.8 L167.4,547.2 L167.6,547.6 L167.8,548.0 L168.0,548.5 L168.1,548.9 L168.3,549.5 L168.4,550.0 L168.5,550.7 L168.6,551.3 L168.7,552.0 L168.8,552.7 L168.9,553.5 L168.9,554.3 L169.0,555.1 L169.0,556.0 L169.0,557.0 L169.1,558.0 L169.1,559.2 L169.1,560.3 L169.2,561.6 L169.2,562.8 L169.1,564.1 L169.1,565.3 L169.0,566.5 L169.0,567.7 L168.8,568.7 L168.7,569.7 L168.5,570.6 L168.3,571.4 L168.1,572.3 L167.9,573.0 L167.6,573.8 L167.3,574.5 L167.0,575.1 L166.7,575.8 L166.3,576.4 L165.9,576.9 L165.5,577.5 L165.0,578.0 L164.5,578.5 L164.0,579.0 L163.4,579.4 L162.8,579.8 L162.2,580.1 L161.5,580.5 L160.8,580.8 L160.1,581.1 L159.4,581.3 L158.6,581.6 L157.8,581.8 L157.0,582.0 L156.1,582.2 L155.2,582.3 L154.2,582.4 L153.2,582.5 L152.1,582.6 L151.1,582.6 L150.0,582.6 L148.9,582.6 L147.9,582.6 L146.9,582.6 L145.9,582.5 L145.0,582.5 L144.1,582.5 L143.3,582.4 L142.4,582.3 L141.6,582.2 L140.7,582.1 L139.9,582.0 L139.2,581.9 L138.4,581.8 L137.8,581.6 L137.1,581.4 L136.5,581.2 L136.0,581.0 L135.5,580.8 L135.1,580.5 L134.8,580.2 L134.5,579.9 L134.2,579.6 L134.0,579.2 L133.8,578.9 L133.6,578.5 L133.4,578.1 L133.3,577.8 L133.1,577.4 L133.0,577.0 L132.9,576.6 L132.7,576.2 L132.6,575.8 L132.5,575.4 L132.4,575.0 L132.3,574.6 L132.3,574.2 L132.3,573.8 L132.3,573.3 L132.3,572.9 L132.3,572.5Z" fill="#c8c8c8" stroke="#262626" stroke-width="0.75"/>
<path d="M134.9,571.3 L135.0,570.8 L135.0,570.4 L135.1,569.9 L135.2,569.4 L135.3,568.9 L135.5,568.5 L135.6,568.0 L135.8,567.5 L136.1,567.1 L136.4,566.7 L136.8,566.3 L137.2,566.0 L137.7,565.7 L138.3,565.5 L139.0,565.3 L139.7,565.1 L140.4,565.0 L141.2,564.8 L142.1,564.7 L142.9,564.6 L143.7,564.5 L144.5,564.5 L145.3,564.4 L146.0,564.3 L146.7,564.2 L147.4,564.2 L148.1,564.2 L148.8,564.2 L149.5,564.2 L150.2,564.2 L150.8,564.2 L151.5,564.2 L152.1,564.2 L152.7,564.2 L153.2,564.2 L153.7,564.1 L154.2,564.1 L154.6,564.0 L155.0,564.0 L155.4,563.9 L155.7,563.8 L156.0,563.7 L156.3,563.6 L156.6,563.5 L156.8,563.4 L157.1,563.2 L157.3,563.0 L157.5,562.7 L157.7,562.4 L157.9,562.1 L158.1,561.8 L158.2,561.4 L158.4,561.0 L158.5,560.6 L158.6,560.2 L158.7,559.7 L158.9,559.2 L159.0,558.8 L159.1,558.3 L159.2,557.8 L159.3,557.3 L159.4,556.8 L159.5,556.2 L159.6,555.6 L159.7,555.0 L159.7,554.4 L159.8,553.8 L159.9,553.2 L160.0,552.7 L160.1,552.1 L160.3,551.6 L160.4,551.2 L160.6,550.8 L160.8,550.4 L161.0,550.0 L161.2,549.7 L161.4,549.3 L161.7,549.0 L161.9,548.7 L162.2,548.5 L162.4,548.3 L162.7,548.1 L162.9,548.0 L163.1,547.9 L163.4,547.9 L163.6,547.9 L163.9,548.0 L164.2,548.1 L164.4,548.2 L164.7,548.4 L165.0,548.6 L165.2,548.9 L165.5,549.1 L165.7,549.4 L165.9,549.8 L166.1,550.1 L166.2,550.5 L166.3,551.0 L166.5,551.4 L166.6,551.9 L166.7,552.5 L166.8,553.0 L166.9,553.7 L166.9,554.3 L167.0,555.0 L167.0,555.7 L167.1,556.4 L167.1,557.2 L167.1,558.0 L167.2,559.0 L167.2,560.0 L167.2,561.0 L167.2,562.1 L167.2,563.2 L167.2,564.3 L167.2,565.4 L167.2,566.4 L167.1,567.4 L167.0,568.4 L166.8,569.2 L166.7,570.0 L166.5,570.8 L166.3,571.5 L166.1,572.2 L165.9,572.8 L165.6,573.4 L165.4,574.0 L165.1,574.6 L164.7,575.1 L164.4,575.6 L164.0,576.1 L163.6,576.5 L163.1,577.0 L162.7,577.4 L162.2,577.8 L161.7,578.1 L161.1,578.4 L160.5,578.7 L159.9,579.0 L159.3,579.3 L158.6,579.5 L158.0,579.7 L157.3,579.9 L156.5,580.1 L155.8,580.2 L155.0,580.3 L154.1,580.4 L153.2,580.5 L152.3,580.6 L151.3,580.6 L150.4,580.6 L149.4,580.6 L148.5,580.6 L147.6,580.6 L146.8,580.5 L146.0,580.5 L145.2,580.5 L144.5,580.4 L143.7,580.3 L143.0,580.3 L142.2,580.2 L141.5,580.1 L140.9,580.0 L140.2,579.9 L139.6,579.7 L139.1,579.6 L138.5,579.4 L138.1,579.2 L137.7,579.0 L137.3,578.7 L137.0,578.5 L136.7,578.2 L136.5,577.9 L136.3,577.6 L136.1,577.3 L136.0,577.0 L135.8,576.7 L135.7,576.3 L135.6,576.0 L135.4,575.7 L135.3,575.3 L135.2,575.0 L135.1,574.6 L135.0,574.3 L134.9,573.9 L134.9,573.6 L134.8,573.2 L134.8,572.8 L134.8,572.4 L134.8,572.1 L134.8,571.7Z" fill="#e4e4e4" stroke="#a8a8a8" stroke-width="0.45"/>
<path d="M138.6,570.2 L138.7,569.8 L138.8,569.5 L138.8,569.1 L138.9,568.7 L139.0,568.3 L139.1,567.9 L139.2,567.5 L139.4,567.2 L139.6,566.8 L139.8,566.5 L140.1,566.2 L140.5,566.0 L140.9,565.7 L141.3,565.6 L141.9,565.4 L142.5,565.3 L143.1,565.1 L143.7,565.0 L144.3,565.0 L145.0,564.9 L145.7,564.8 L146.3,564.8 L146.9,564.7 L147.5,564.6 L148.0,564.6 L148.6,564.5 L149.1,564.5 L149.7,564.5 L150.3,564.5 L150.8,564.5 L151.3,564.6 L151.8,564.6 L152.3,564.6 L152.8,564.6 L153.2,564.5 L153.6,564.5 L154.0,564.4 L154.3,564.4 L154.6,564.3 L154.9,564.3 L155.2,564.2 L155.4,564.2 L155.7,564.1 L155.9,564.0 L156.1,563.9 L156.3,563.7 L156.5,563.6 L156.6,563.4 L156.8,563.1 L157.0,562.9 L157.1,562.6 L157.2,562.3 L157.3,562.0 L157.4,561.7 L157.5,561.3 L157.6,561.0 L157.7,560.6 L157.8,560.2 L157.9,559.8 L158.0,559.5 L158.1,559.1 L158.1,558.6 L158.2,558.2 L158.3,557.7 L158.3,557.2 L158.4,556.7 L158.5,556.3 L158.5,555.8 L158.6,555.4 L158.7,554.9 L158.8,554.5 L158.9,554.2 L159.1,553.9 L159.2,553.6 L159.4,553.3 L159.6,553.0 L159.8,552.7 L160.0,552.5 L160.1,552.2 L160.3,552.1 L160.5,551.9 L160.7,551.8 L160.9,551.7 L161.1,551.6 L161.3,551.6 L161.5,551.6 L161.7,551.7 L161.9,551.7 L162.1,551.8 L162.4,552.0 L162.6,552.1 L162.8,552.3 L163.0,552.6 L163.1,552.8 L163.3,553.1 L163.4,553.4 L163.6,553.7 L163.7,554.0 L163.8,554.4 L163.9,554.8 L163.9,555.2 L164.0,555.7 L164.1,556.1 L164.1,556.7 L164.2,557.2 L164.2,557.8 L164.2,558.3 L164.3,559.0 L164.3,559.6 L164.3,560.4 L164.3,561.2 L164.4,562.0 L164.4,562.9 L164.4,563.7 L164.4,564.6 L164.3,565.5 L164.3,566.3 L164.2,567.1 L164.2,567.9 L164.1,568.6 L163.9,569.2 L163.8,569.8 L163.6,570.3 L163.5,570.9 L163.3,571.4 L163.1,571.9 L162.9,572.3 L162.6,572.8 L162.4,573.2 L162.1,573.6 L161.8,574.0 L161.5,574.4 L161.1,574.7 L160.7,575.0 L160.3,575.3 L159.9,575.6 L159.5,575.9 L159.0,576.1 L158.6,576.3 L158.1,576.5 L157.5,576.7 L157.0,576.9 L156.4,577.0 L155.9,577.2 L155.3,577.3 L154.6,577.4 L153.9,577.5 L153.2,577.5 L152.5,577.6 L151.7,577.6 L151.0,577.6 L150.2,577.6 L149.5,577.6 L148.8,577.6 L148.1,577.5 L147.5,577.5 L146.9,577.5 L146.2,577.4 L145.6,577.4 L145.1,577.3 L144.5,577.3 L143.9,577.2 L143.4,577.1 L142.9,577.0 L142.4,576.9 L142.0,576.8 L141.5,576.6 L141.2,576.5 L140.8,576.3 L140.6,576.1 L140.3,575.9 L140.1,575.7 L139.9,575.5 L139.8,575.2 L139.6,575.0 L139.5,574.7 L139.4,574.5 L139.3,574.2 L139.2,573.9 L139.1,573.7 L139.0,573.4 L138.9,573.1 L138.8,572.9 L138.7,572.6 L138.7,572.3 L138.6,572.0 L138.6,571.7 L138.6,571.4 L138.6,571.1 L138.6,570.8 L138.6,570.5Z" fill="#eeeeee" stroke="#c0c0c0" stroke-width="0.45"/>
<path d="M142.8,568.9 L142.9,568.7 L142.9,568.4 L142.9,568.2 L143.0,567.9 L143.1,567.6 L143.1,567.3 L143.2,567.1 L143.3,566.8 L143.5,566.6 L143.7,566.3 L143.9,566.1 L144.1,565.9 L144.4,565.8 L144.7,565.6 L145.1,565.5 L145.5,565.4 L146.0,565.4 L146.4,565.3 L146.9,565.2 L147.4,565.2 L147.8,565.1 L148.3,565.1 L148.7,565.0 L149.1,565.0 L149.5,564.9 L149.9,564.9 L150.3,564.9 L150.7,564.9 L151.1,564.9 L151.5,564.9 L151.9,564.9 L152.2,564.9 L152.6,564.9 L152.9,564.9 L153.2,564.9 L153.5,564.9 L153.8,564.8 L154.0,564.8 L154.2,564.8 L154.4,564.7 L154.6,564.7 L154.8,564.7 L155.0,564.6 L155.1,564.5 L155.3,564.4 L155.4,564.3 L155.5,564.2 L155.7,564.1 L155.8,563.9 L155.9,563.7 L156.0,563.5 L156.1,563.3 L156.2,563.1 L156.2,562.9 L156.3,562.6 L156.4,562.4 L156.4,562.1 L156.5,561.8 L156.5,561.6 L156.6,561.3 L156.7,561.0 L156.7,560.7 L156.8,560.4 L156.8,560.0 L156.9,559.7 L156.9,559.4 L157.0,559.0 L157.0,558.7 L157.1,558.4 L157.2,558.1 L157.2,557.8 L157.3,557.5 L157.4,557.3 L157.5,557.1 L157.6,556.9 L157.8,556.7 L157.9,556.5 L158.0,556.3 L158.2,556.1 L158.3,556.0 L158.5,555.9 L158.6,555.8 L158.7,555.7 L158.9,555.7 L159.0,555.7 L159.1,555.7 L159.3,555.7 L159.4,555.8 L159.6,555.8 L159.8,555.9 L159.9,556.1 L160.0,556.2 L160.2,556.4 L160.3,556.5 L160.4,556.7 L160.5,556.9 L160.6,557.2 L160.7,557.4 L160.8,557.7 L160.8,558.0 L160.9,558.3 L160.9,558.6 L161.0,558.9 L161.0,559.3 L161.0,559.7 L161.1,560.1 L161.1,560.5 L161.1,560.9 L161.1,561.4 L161.2,561.9 L161.2,562.5 L161.2,563.1 L161.2,563.7 L161.2,564.4 L161.2,565.0 L161.2,565.6 L161.1,566.2 L161.1,566.8 L161.0,567.3 L161.0,567.8 L160.9,568.2 L160.8,568.7 L160.7,569.1 L160.6,569.4 L160.4,569.8 L160.3,570.2 L160.1,570.5 L160.0,570.8 L159.8,571.1 L159.6,571.4 L159.4,571.7 L159.1,571.9 L158.9,572.2 L158.6,572.4 L158.3,572.6 L158.0,572.8 L157.7,573.0 L157.4,573.2 L157.0,573.3 L156.7,573.5 L156.3,573.6 L155.9,573.7 L155.5,573.8 L155.1,573.9 L154.7,574.0 L154.2,574.1 L153.7,574.1 L153.2,574.2 L152.7,574.2 L152.1,574.2 L151.6,574.2 L151.1,574.2 L150.6,574.2 L150.1,574.2 L149.6,574.2 L149.1,574.2 L148.7,574.2 L148.2,574.1 L147.8,574.1 L147.4,574.1 L147.0,574.0 L146.6,574.0 L146.2,573.9 L145.8,573.8 L145.5,573.7 L145.2,573.6 L144.9,573.5 L144.6,573.4 L144.4,573.3 L144.2,573.2 L144.0,573.0 L143.8,572.9 L143.7,572.7 L143.6,572.5 L143.5,572.4 L143.4,572.2 L143.3,572.0 L143.3,571.8 L143.2,571.6 L143.1,571.4 L143.0,571.2 L143.0,571.1 L142.9,570.9 L142.9,570.7 L142.8,570.5 L142.8,570.2 L142.8,570.0 L142.8,569.8 L142.8,569.6 L142.8,569.4 L142.8,569.2Z" fill="#f6f6f6" stroke="#d4d4d4" stroke-width="0.45"/>
<path d="M147.0,567.7 L147.0,567.6 L147.0,567.4 L147.1,567.3 L147.1,567.1 L147.1,566.9 L147.2,566.8 L147.2,566.6 L147.3,566.4 L147.4,566.3 L147.5,566.1 L147.6,566.0 L147.8,565.9 L147.9,565.8 L148.1,565.7 L148.4,565.7 L148.6,565.6 L148.9,565.6 L149.1,565.5 L149.4,565.5 L149.7,565.4 L150.0,565.4 L150.3,565.4 L150.5,565.4 L150.8,565.3 L151.0,565.3 L151.2,565.3 L151.5,565.3 L151.7,565.3 L152.0,565.3 L152.2,565.3 L152.4,565.3 L152.6,565.3 L152.8,565.3 L153.0,565.3 L153.2,565.3 L153.4,565.3 L153.6,565.3 L153.7,565.2 L153.8,565.2 L154.0,565.2 L154.1,565.2 L154.2,565.1 L154.3,565.1 L154.4,565.1 L154.5,565.0 L154.5,565.0 L154.6,564.9 L154.7,564.8 L154.8,564.7 L154.8,564.6 L154.9,564.5 L154.9,564.3 L155.0,564.2 L155.0,564.1 L155.1,563.9 L155.1,563.8 L155.1,563.6 L155.2,563.4 L155.2,563.3 L155.3,563.1 L155.3,562.9 L155.3,562.8 L155.4,562.6 L155.4,562.4 L155.4,562.2 L155.4,562.0 L155.5,561.8 L155.5,561.6 L155.5,561.4 L155.6,561.2 L155.6,561.0 L155.7,560.9 L155.7,560.7 L155.8,560.6 L155.9,560.5 L156.0,560.3 L156.0,560.2 L156.1,560.1 L156.2,560.0 L156.3,559.9 L156.4,559.9 L156.4,559.8 L156.5,559.8 L156.6,559.8 L156.7,559.8 L156.8,559.8 L156.9,559.8 L157.0,559.8 L157.1,559.9 L157.1,559.9 L157.2,560.0 L157.3,560.1 L157.4,560.2 L157.5,560.3 L157.5,560.4 L157.6,560.5 L157.7,560.6 L157.7,560.8 L157.7,561.0 L157.8,561.1 L157.8,561.3 L157.8,561.5 L157.9,561.7 L157.9,561.9 L157.9,562.1 L157.9,562.4 L157.9,562.6 L158.0,562.9 L158.0,563.2 L158.0,563.5 L158.0,563.9 L158.0,564.2 L158.0,564.6 L158.0,565.0 L158.0,565.3 L158.0,565.7 L158.0,566.1 L158.0,566.4 L157.9,566.7 L157.9,567.0 L157.8,567.3 L157.8,567.5 L157.7,567.8 L157.6,568.0 L157.5,568.2 L157.5,568.4 L157.4,568.6 L157.3,568.8 L157.2,569.0 L157.0,569.2 L156.9,569.4 L156.8,569.5 L156.6,569.7 L156.5,569.8 L156.3,569.9 L156.1,570.0 L155.9,570.2 L155.7,570.3 L155.5,570.3 L155.3,570.4 L155.1,570.5 L154.8,570.6 L154.6,570.6 L154.4,570.7 L154.1,570.8 L153.8,570.8 L153.5,570.8 L153.2,570.9 L152.9,570.9 L152.6,570.9 L152.3,570.9 L151.9,570.9 L151.6,570.9 L151.3,570.9 L151.0,570.9 L150.8,570.9 L150.5,570.8 L150.2,570.8 L150.0,570.8 L149.7,570.8 L149.5,570.8 L149.2,570.7 L149.0,570.7 L148.8,570.6 L148.6,570.6 L148.4,570.5 L148.2,570.5 L148.1,570.4 L147.9,570.3 L147.8,570.3 L147.7,570.2 L147.6,570.1 L147.5,570.0 L147.5,569.9 L147.4,569.8 L147.3,569.7 L147.3,569.5 L147.2,569.4 L147.2,569.3 L147.2,569.2 L147.1,569.1 L147.1,569.0 L147.0,568.9 L147.0,568.7 L147.0,568.6 L147.0,568.5 L147.0,568.4 L146.9,568.2 L146.9,568.1 L146.9,568.0 L147.0,567.8Z" fill="#fcfcfc" stroke="#e2e2e2" stroke-width="0.45"/>
<rect x="157.90" y="529.90" width="21.20" height="33.40" fill="none" stroke="#000" stroke-width="1.6"/>
<rect x="160.40" y="520.70" width="15.6" height="8.0" fill="#fff"/>
<text x="168.10" y="527.80" font-size="9.6" text-anchor="middle" fill="#111" textLength="16.50" lengthAdjust="spacingAndGlyphs">15.5</text>
<line x1="21.00" y1="604.40" x2="21.00" y2="571.30" stroke="#2a2a2a" stroke-width="1.3"/>
<line x1="21.00" y1="545.70" x2="21.00" y2="527.00" stroke="#2a2a2a" stroke-width="1.3"/>
<path d="M21,521.3 L18.6,527.4 L23.4,527.4Z" fill="#2a2a2a"/>
<line x1="20.35" y1="604.40" x2="97.50" y2="604.40" stroke="#2a2a2a" stroke-width="1.3"/>
<line x1="122.30" y1="604.40" x2="182.50" y2="604.40" stroke="#2a2a2a" stroke-width="1.3"/>
<path d="M188,604.4 L181.6,602 L181.6,606.8Z" fill="#2a2a2a"/>
<text x="24.00" y="558.50" font-size="10.3" text-anchor="middle" fill="#222" textLength="19.40" lengthAdjust="spacingAndGlyphs" transform="rotate(-90 24.00 558.50)">EPCR</text>
<text x="110.20" y="608.30" font-size="10.6" text-anchor="middle" fill="#222" textLength="20.20" lengthAdjust="spacingAndGlyphs">CD34</text>
<rect x="0.5" y="0.5" width="519" height="673" fill="none" stroke="#000" stroke-width="1.2"/>
</svg>
</body></html>
